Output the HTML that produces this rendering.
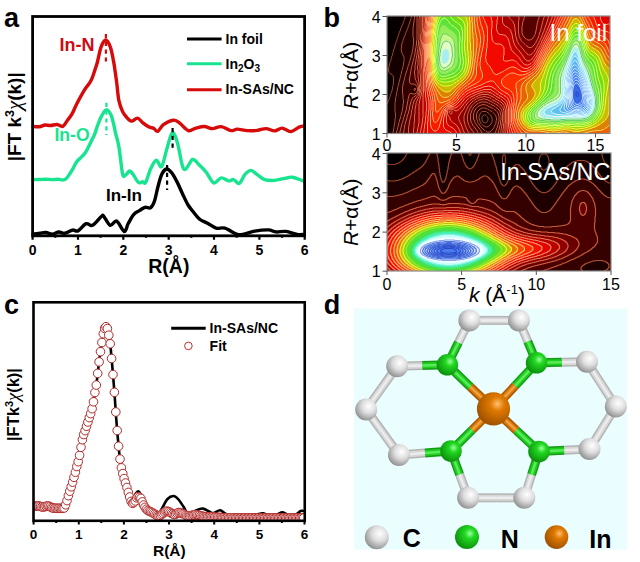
<!DOCTYPE html><html><head><meta charset="utf-8"><style>html,body{margin:0;padding:0;background:#fff;}svg{display:block}</style></head><body>
<svg width="640" height="562" viewBox="0 0 640 562" font-family="'Liberation Sans', Arial, sans-serif">
<rect width="640" height="562" fill="#fff"/>
<text x="4" y="27.2" font-size="27" font-weight="bold">a</text>
<g fill="none" stroke-width="3.4" stroke-linejoin="round" stroke-linecap="round">
<path stroke="#d70a0a" d="M33.0 126.4C34.1 126.5 37.4 126.9 39.4 126.7C41.4 126.5 43.1 125.2 45.0 125.0C46.9 124.8 48.6 125.6 50.6 125.5C52.6 125.4 55.2 124.3 57.2 124.5C59.2 124.7 61.1 127.1 62.8 126.4C64.5 125.7 65.9 122.4 67.5 120.3C69.1 118.2 70.7 116.4 72.2 113.7C73.7 111.0 74.6 108.0 76.7 104.0C78.8 100.0 82.3 93.6 84.7 89.7C87.1 85.8 89.2 84.2 90.9 80.8C92.7 77.4 94.1 72.3 95.2 69.1C96.3 65.9 96.5 65.4 97.5 61.7C98.5 58.0 99.8 50.3 101.2 46.7C102.6 43.1 104.2 40.0 105.7 40.0C107.2 40.0 109.0 43.5 110.2 46.7C111.5 49.9 112.5 55.8 113.2 59.4C114.0 63.0 114.1 64.5 114.7 68.4C115.3 72.3 116.0 77.2 116.7 82.6C117.4 88.0 117.9 95.9 118.9 100.7C119.9 105.5 121.3 108.8 122.5 111.4C123.7 114.0 124.5 114.9 126.0 116.5C127.5 118.1 129.5 120.8 131.4 121.1C133.3 121.4 135.7 117.8 137.6 118.1C139.5 118.4 141.0 121.4 142.9 122.9C144.8 124.4 147.3 126.1 149.1 127.0C150.9 127.9 152.2 127.6 153.6 128.3C155.0 129.0 156.1 131.9 157.7 131.3C159.3 130.7 160.8 126.6 163.4 124.7C166.0 122.8 170.5 120.5 173.2 120.2C175.9 119.9 176.9 121.2 179.4 122.9C181.9 124.6 185.6 129.7 188.3 130.6C191.0 131.5 192.7 129.0 195.4 128.3C198.1 127.6 201.5 126.5 204.3 126.5C207.1 126.5 209.6 128.6 212.4 128.6C215.2 128.6 218.1 126.3 221.2 126.6C224.3 126.9 228.4 130.2 231.1 130.6C233.8 131.0 234.6 129.1 237.3 129.1C240.0 129.1 244.0 130.4 247.3 130.6C250.6 130.8 254.1 130.7 257.2 130.4C260.3 130.1 263.1 128.5 266.0 128.6C268.9 128.7 272.0 131.0 274.7 130.9C277.4 130.8 279.4 128.0 282.1 128.1C284.8 128.2 287.9 131.8 290.8 131.6C293.7 131.4 297.4 127.8 299.6 126.9C301.8 126.0 303.3 126.2 304.0 126.1"/>
<path stroke="#17e48e" d="M33.0 179.6C34.2 179.6 37.8 179.6 40.0 179.5C42.2 179.4 44.0 179.2 46.0 179.2C48.0 179.2 50.0 179.6 52.0 179.6C54.0 179.6 55.8 179.3 58.0 179.3C60.2 179.3 63.0 180.8 65.3 179.4C67.6 178.0 69.8 173.7 71.7 170.8C73.6 167.9 74.9 164.3 76.5 162.0C78.1 159.7 79.7 158.9 81.3 157.2C82.9 155.5 84.2 154.6 86.0 151.6C87.8 148.6 90.8 142.0 92.3 139.0C93.8 136.0 94.1 135.8 95.0 133.4C95.9 131.1 96.7 127.7 97.8 124.9C98.9 122.1 100.0 119.0 101.4 116.4C102.8 113.9 104.8 109.8 106.3 109.6C107.9 109.3 109.8 112.6 111.0 114.9C112.2 117.2 112.7 120.4 113.5 123.5C114.3 126.6 114.7 129.5 115.6 133.4C116.5 137.3 117.8 140.2 118.9 146.9C120.1 153.6 121.5 168.8 122.5 173.6C123.5 178.3 123.9 175.8 125.1 175.4C126.3 175.0 128.3 171.2 129.6 171.0C130.9 170.8 131.6 172.6 133.1 174.5C134.6 176.4 136.9 181.3 138.5 182.5C140.1 183.7 141.7 181.6 142.9 181.6C144.1 181.6 144.3 184.7 145.6 182.5C146.9 180.3 149.1 172.0 150.9 168.3C152.7 164.6 154.5 160.6 156.3 160.3C158.1 160.0 159.8 168.4 161.6 166.5C163.4 164.6 165.1 154.3 166.9 148.7C168.7 143.1 170.5 133.6 172.3 132.7C174.1 131.8 176.0 138.1 177.6 143.4C179.2 148.7 180.8 160.4 182.1 164.7C183.4 169.0 183.8 170.1 185.6 169.2C187.4 168.3 190.5 160.2 192.7 159.4C194.9 158.7 196.8 162.6 199.0 164.7C201.2 166.8 203.8 169.2 206.2 172.2C208.6 175.2 211.2 181.9 213.7 182.9C216.2 183.9 218.7 178.2 221.2 177.9C223.7 177.6 226.5 180.6 228.6 180.9C230.7 181.2 231.8 179.2 233.6 179.6C235.4 180.0 237.4 184.2 239.3 183.4C241.2 182.6 242.9 176.9 244.8 174.7C246.8 172.5 248.9 170.4 251.0 170.4C253.1 170.4 254.9 173.2 257.2 174.7C259.5 176.2 261.8 178.6 264.7 179.6C267.6 180.6 271.4 180.6 274.7 180.4C278.0 180.2 281.7 178.9 284.6 178.4C287.5 177.9 289.0 176.8 292.1 177.2C295.2 177.6 301.4 180.3 303.3 180.9"/>
<path stroke="#000" d="M33.0 234.1C34.2 233.9 37.8 233.5 40.0 233.2C42.2 232.9 43.9 232.3 46.0 232.5C48.1 232.7 50.3 234.2 52.4 234.1C54.5 234.0 56.8 232.1 58.8 232.0C60.8 231.9 62.2 233.6 64.5 233.3C66.8 233.0 70.2 230.5 72.5 230.1C74.8 229.7 75.8 232.0 78.1 230.9C80.4 229.8 83.7 224.6 86.1 223.7C88.5 222.8 90.0 226.5 92.5 225.3C95.0 224.1 99.4 218.0 101.3 216.5C103.2 215.0 102.3 214.8 103.8 216.3C105.2 217.8 108.0 224.5 110.2 225.3C112.4 226.1 114.4 220.1 116.7 221.1C119.0 222.1 122.4 231.1 124.3 231.5C126.2 231.9 126.5 226.7 128.1 223.8C129.7 221.0 131.9 216.6 133.8 214.4C135.6 212.2 137.5 211.8 139.4 210.6C141.3 209.4 143.1 207.8 145.0 207.3C146.9 206.8 149.0 208.8 150.6 207.8C152.2 206.8 153.2 204.9 154.4 201.3C155.7 197.7 156.8 190.8 158.1 186.2C159.3 181.7 160.5 177.0 161.9 174.1C163.3 171.2 165.0 169.3 166.6 169.0C168.2 168.7 169.5 170.1 171.2 172.2C173.0 174.3 175.0 178.0 176.9 181.6C178.8 185.2 180.6 189.8 182.5 193.8C184.4 197.7 186.2 201.9 188.1 205.0C190.0 208.1 191.8 210.1 193.8 212.5C195.7 214.9 197.7 217.7 200.0 219.5C202.3 221.3 204.8 221.8 207.5 223.2C210.2 224.6 213.3 227.4 216.2 228.2C219.1 229.0 221.4 227.2 224.9 228.2C228.4 229.2 234.0 233.4 237.3 234.4C240.6 235.4 241.9 234.4 244.8 233.9C247.7 233.4 250.9 231.9 254.8 231.2C258.7 230.5 264.9 229.8 268.4 229.9C271.9 230.0 273.0 231.7 275.9 231.9C278.8 232.2 282.4 231.0 285.9 231.4C289.4 231.8 294.1 233.9 297.1 234.4C300.1 234.9 302.9 234.4 304.0 234.4"/>
</g>
<g fill="none" stroke-width="2.2" stroke-dasharray="4.2 3.6">
<path stroke="#d70a0a" d="M105.9 34V65"/>
<path stroke="#17e48e" d="M106.4 102.8V135"/>
<path stroke="#000" d="M172.6 128V151"/>
<path stroke="#000" d="M167.1 165V190"/>
</g>
<g fill="none" stroke="#000" stroke-width="2.8">
<rect x="32.6" y="16.5" width="272" height="219.3"/>
</g>
<path stroke="#000" stroke-width="2.2" d="M32.6 235.8v4M55.3 235.8v2M78.0 235.8v4M100.6 235.8v2M123.3 235.8v4M146.0 235.8v2M168.7 235.8v4M191.3 235.8v2M214.0 235.8v4M236.7 235.8v2M259.4 235.8v4M282.0 235.8v2M304.7 235.8v4"/>
<g font-size="14" font-weight="bold" text-anchor="middle">
<text x="32.6" y="254.7">0</text>
<text x="78.0" y="254.7">1</text>
<text x="123.3" y="254.7">2</text>
<text x="168.7" y="254.7">3</text>
<text x="214.0" y="254.7">4</text>
<text x="259.4" y="254.7">5</text>
<text x="304.7" y="254.7">6</text>
</g>
<text x="168.8" y="272.8" font-size="19.5" font-weight="bold" text-anchor="middle">R(Å)</text>
<text transform="translate(21.2,116.8) rotate(-90)" font-size="19" font-weight="bold" text-anchor="middle">|FT k<tspan font-size="12.5" dy="-7.5">3</tspan><tspan dy="7.5" font-weight="normal" font-style="italic" font-family="Liberation Serif, serif" font-size="21">χ</tspan>(k)|</text>
<g stroke-width="3" fill="none"><path stroke="#000" d="M187 39.1H221.6"/><path stroke="#17e48e" d="M187 63.8H221.6"/><path stroke="#d70a0a" d="M187 89.7H221.6"/></g>
<g font-size="14" font-weight="bold">
<text x="225.5" y="44.1">In foil</text>
<text x="225.5" y="68.6">In<tspan font-size="10" dy="3.5">2</tspan><tspan dy="-3.5">O</tspan><tspan font-size="10" dy="3.5">3</tspan></text>
<text x="225.5" y="94.4">In-SAs/NC</text>
</g>
<g font-size="17" font-weight="bold">
<text x="59.5" y="50.6" fill="#cf0a14" font-size="18">In-N</text>
<text x="54.5" y="140.6" fill="#17e48e" font-size="17.5">In-O</text>
<text x="106" y="201.4" fill="#000">In-In</text>
</g>
<text x="323.4" y="27.2" font-size="27" font-weight="bold">b</text>
<svg x="387" y="16" width="223" height="117.5" viewBox="0 0 446 235" overflow="hidden"><g><rect x="-2" y="-2" width="454" height="243" fill="#070000"/><path fill="#150000" d="M18 -2l2 0 2 0 2 0 -2 0 -2 1 -2 -1M36 -2l2 0 2 0 2 0 2 0 2 0 2 0 2 0 2 0 2 0 2 0 2 0 2 0 2 0 2 0 2 0 2 0 2 0 2 0 2 0 2 0 2 0 2 0 2 0 2 0 2 0 2 0 2 0 2 0 2 0 2 0 2 0 2 0 2 0 2 0 2 0 2 0 2 0 2 0 2 0 2 0 2 0 2 0 2 0 2 0 2 0 2 0 2 0 2 0 2 0 2 0 2 0 2 0 2 0 2 0 2 0 2 0 2 0 2 0 2 0 2 0 2 0 2 0 2 0 2 0 2 0 2 0 2 0 2 0 2 0 2 0 2 0 2 0 2 0 2 0 2 0 2 0 2 0 2 0 2 0 2 0 2 0 2 0 2 0 2 0 2 0 2 0 2 0 2 0 2 0 2 0 2 0 2 0 2 0 2 0 2 0 2 0 2 0 2 0 2 0 2 0 2 0 2 0 2 0 2 0 2 0 2 0 2 0 2 0 2 0 2 0 2 0 2 0 2 0 2 0 2 0 2 0 2 0 2 0 2 0 2 0 2 0 2 0 2 0 2 0 2 0 2 0 2 0 2 0 2 0 2 0 2 0 2 0 2 0 2 0 2 0 2 0 2 0 2 0 2 0 2 0 2 0 2 0 2 0 2 0 2 0 2 0 2 0 2 0 2 0 2 0 2 0 2 0 2 0 2 0 2 0 2 0 2 0 2 0 2 0 2 0 2 0 2 0 2 0 2 0 2 0 2 0 2 0 2 0 2 0 2 0 2 0 2 0 2 0 2 0 2 0 2 0 2 0 2 0 2 0 2 0 2 0 2 0 2 0 2 0 2 0 2 0 2 0 2 0 2 0 2 0 2 0 2 0 2 0 2 0 2 0 2 0 2 0 2 0 2 0 2 0 2 0 2 0 2 0 2 0 2 0 2 0 0 2 0 2 0 2 0 2 0 2 0 2 0 2 0 2 0 2 0 2 0 2 0 2 0 2 0 2 0 2 0 2 0 2 0 2 0 2 0 2 0 2 0 2 0 2 0 2 0 2 0 2 0 2 0 2 0 2 0 2 0 2 0 2 0 2 0 2 0 2 0 2 0 2 0 2 0 2 0 2 0 2 0 2 0 2 0 2 0 2 0 2 0 2 0 2 0 2 0 2 0 2 0 2 0 2 0 2 0 2 0 2 0 2 0 2 0 2 0 2 0 2 0 2 0 2 0 2 0 2 0 2 0 2 0 2 0 2 0 2 0 2 0 2 0 2 0 2 0 2 0 2 0 2 0 2 0 2 0 2 0 2 0 2 0 2 0 2 0 2 0 2 0 2 0 2 0 2 0 2 0 2 0 2 0 2 0 2 0 2 0 2 0 2 0 2 0 2 0 2 0 2 0 2 0 2 0 2 0 2 0 2 0 2 0 2 0 2 0 2 0 2 0 2 0 2 0 2 0 2 0 2 0 2 0 2 0 2 -2 0 -2 0 -2 0 -2 0 -2 0 -2 0 -2 0 -2 0 -2 0 -2 0 -2 0 -2 0 -2 0 -2 0 -2 0 -2 0 -2 0 -2 0 -2 0 -2 0 -2 0 -2 0 -2 0 -2 0 -2 0 -2 0 -2 0 -2 0 -2 0 -2 0 -2 0 -2 0 -2 0 -2 0 -2 0 -2 0 -2 0 -2 0 -2 0 -2 0 -2 0 -2 0 -2 0 -2 0 -2 0 -2 0 -2 0 -2 0 -2 0 -2 0 -2 0 -2 0 -2 0 -2 0 -2 0 -2 0 -2 0 -2 0 -2 0 -2 0 -2 0 -2 0 -2 0 -2 0 -2 0 -2 0 -2 0 -2 0 -2 0 -2 0 -2 0 -2 0 -2 0 -2 0 -2 0 -2 0 -2 0 -2 0 -2 0 -2 0 -2 0 -2 0 -2 0 -2 0 -2 0 -2 0 -2 0 -2 0 -2 0 -2 0 -2 0 -2 0 -2 0 -2 0 -2 0 -2 0 -2 0 -2 0 -2 0 -2 0 -2 0 -2 0 -2 0 -2 0 -2 0 -2 0 -2 0 -2 0 -2 0 -2 0 -2 0 -2 0 -2 0 -2 0 -2 0 -2 0 -2 0 -2 0 -2 0 -2 0 -2 0 -2 0 -2 0 -2 0 -2 0 -2 0 -2 0 -2 0 -2 0 -2 0 -2 0 -2 0 -2 0 -2 0 -2 0 -2 0 -2 0 -2 0 -2 0 -2 0 -2 0 -2 0 -2 0 -2 0 -2 0 -2 0 -2 0 -2 0 -2 0 -2 0 -2 0 -2 0 -2 0 -2 0 -2 0 -2 0 -2 0 -2 0 -2 0 -2 0 -2 0 -2 0 -2 0 -2 0 -2 0 -2 0 -2 0 -2 0 -2 0 -2 0 -2 0 -2 0 -2 0 -2 0 -2 0 -2 0 -2 0 -2 0 -2 0 -2 0 -2 0 -2 0 -2 0 -2 0 -2 0 -2 0 -2 0 -2 0 -2 0 -2 0 -2 0 -2 0 -2 0 -2 0 -2 0 -2 0 -2 0 -2 0 -2 0 -2 0 -2 0 -2 0 -2 0 -2 0 -2 0 -2 0 -2 0 -2 0 -2 0 -2 0 -2 0 -2 0 -2 0 -2 0 -2 0 -2 0 -2 0 -2 0 -2 0 -2 0 -2 0 -2 0 -2 0 -2 0 -2 0 0 -2 0 -2 0 -2 0 -2 0 -2 0 -2 0 -2 0 -2 0 -2 0 -2 0 -2 0 -2 0 -2 0 -2 0 -2 0 -2 0 -2 0 -2 0 -2 0 -2 0 -2 0 -2 0 -2 0 -2 0 -2 0 -2 0 -2 0 -2 0 -1 1 -1 1 -2 1 -2 1 -2 0 -1 1 -1 0 -2 1 -1 0 -1 1 -2 1 -2 0 -1 0 -1 1 -2 1 -2 0 -1 0 -1 1 -2 1 -2 0 -2 1 -2 0 -2 0 -2 1 -2 0 -1 0 -1 1 -2 0 -2 0 -2 0 -2 0 -2 0 -2 0 -2 0 -2 -1 -2 -1 -2 -1 -1 -2 -1 -2 -1 -1 -1 -1 -1 0 -1 -1 -2 0 -2 0 -2 0 -2 1 -2 0 -1 0 -1 1 -2 0 -2 1 -2 0 -1 0 -1 1 -2 1 -2 0 -2 1 -2 0 -2 1 -2 1 -2 0 -2 1 -2 0 -1 0 -1 1 -2 0 -2 1 -2 1 -2 0 -2 1 -2 0 -2 1 -2 1 -2 0 -1 0 -1 1 -2 1 -2 0 -1 0 -1 1 -2 1 -2 0 -1 0 -1 1 -2 1 -2 0 -1 0 -1 1 -2 1 -2 1 -2 0 -2 1 -2 1 -2 1 -2 0 -1 1 -1 0 -2 1 -1 0 -1 1 -2 1 -2 0 -1 0 -1 1 -2 1 -2 0 -1 0 -1 0 -2 0 -2 158 200 -2 1 -1 1 -1 2 0 2 0 2 0 2 1 2 1 2 2 1 2 1 1 0 1 0 2 -2 1 -2 1 -2 0 -2 0 -2 -1 -2 -1 -1 -1 -1 -1 -1 -2 -1 -1 0 -1 0"/><path fill="#230000" d="M50 -2l2 0 2 0 2 0 2 0 2 0 2 0 2 0 2 0 2 0 2 0 2 0 2 0 2 0 2 0 2 0 2 0 2 0 2 0 2 0 2 0 2 0 2 0 2 0 2 0 2 0 2 0 2 0 2 0 2 0 2 0 2 0 2 0 2 0 2 0 2 0 2 0 2 0 2 0 2 0 2 0 2 0 2 0 2 0 2 0 2 0 2 0 2 0 2 0 2 0 2 0 2 0 2 0 2 0 2 0 2 0 2 0 2 0 2 0 2 0 2 0 2 0 2 0 2 0 2 0 2 0 2 0 2 0 2 0 2 0 2 0 2 0 2 0 2 0 2 0 2 0 2 0 2 0 2 0 2 0 2 0 2 0 2 0 2 0 2 0 2 0 2 0 2 0 2 0 2 0 2 0 2 0 2 0 2 0 2 0 2 0 2 0 2 0 2 0 2 0 2 0 2 0 2 0 2 0 2 0 2 0 2 0 2 0 2 0 2 0 2 0 2 0 2 0 2 0 2 0 2 0 2 0 2 0 2 0 2 0 2 0 2 0 2 0 2 0 2 0 2 0 2 0 2 0 2 0 2 0 2 0 2 0 2 0 2 0 2 0 2 0 2 0 2 0 2 0 2 0 2 0 2 0 2 0 2 0 2 0 2 0 2 0 2 0 2 0 2 0 2 0 2 0 2 0 2 0 2 0 2 0 2 0 2 0 2 0 2 0 2 0 2 0 2 0 2 0 2 0 2 0 2 0 2 0 2 0 2 0 2 0 2 0 2 0 2 0 2 0 2 0 2 0 2 0 2 0 2 0 2 0 2 0 2 0 2 0 2 0 2 0 2 0 2 0 2 0 2 0 2 0 2 0 2 0 2 0 2 0 2 0 2 0 2 0 2 0 2 0 0 2 0 2 0 2 0 2 0 2 0 2 0 2 0 2 0 2 0 2 0 2 0 2 0 2 0 2 0 2 0 2 0 2 0 2 0 2 0 2 0 2 0 2 0 2 0 2 0 2 0 2 0 2 0 2 0 2 0 2 0 2 0 2 0 2 0 2 0 2 0 2 0 2 0 2 0 2 0 2 0 2 0 2 0 2 0 2 0 2 0 2 0 2 0 2 0 2 0 2 0 2 0 2 0 2 0 2 0 2 0 2 0 2 0 2 0 2 0 2 0 2 0 2 0 2 0 2 0 2 0 2 0 2 0 2 0 2 0 2 0 2 0 2 0 2 0 2 0 2 0 2 0 2 0 2 0 2 0 2 0 2 0 2 0 2 0 2 0 2 0 2 0 2 0 2 0 2 0 2 0 2 0 2 0 2 0 2 0 2 0 2 0 2 0 2 0 2 0 2 0 2 0 2 0 2 0 2 0 2 0 2 0 2 0 2 0 2 0 2 0 2 0 2 0 2 0 2 0 2 0 2 0 2 0 2 0 2 -2 0 -2 0 -2 0 -2 0 -2 0 -2 0 -2 0 -2 0 -2 0 -2 0 -2 0 -2 0 -2 0 -2 0 -2 0 -2 0 -2 0 -2 0 -2 0 -2 0 -2 0 -2 0 -2 0 -2 0 -2 0 -2 0 -2 0 -2 0 -2 0 -2 0 -2 0 -2 0 -2 0 -2 0 -2 0 -2 0 -2 0 -2 0 -2 0 -2 0 -2 0 -2 0 -2 0 -2 0 -2 0 -2 0 -2 0 -2 0 -2 0 -2 0 -2 0 -2 0 -2 0 -2 0 -2 0 -2 0 -2 0 -2 0 -2 0 -2 0 -2 0 -2 0 -2 0 -2 0 -2 0 -2 0 -2 0 -2 0 -2 0 -2 0 -2 0 -2 0 -2 0 -2 0 -2 0 -2 0 -2 0 -2 0 -2 0 -2 0 -2 0 -2 0 -2 0 -2 0 -2 0 -2 0 -2 0 -2 0 -2 0 -2 0 -2 0 -2 0 -2 0 -2 0 -2 0 -2 0 -2 0 -2 0 -2 0 -2 0 -2 0 -2 0 -2 0 -2 0 -2 0 -2 0 -2 0 -2 0 -2 0 -2 0 -2 0 -2 0 -2 0 -2 0 -2 0 -2 0 -2 0 -2 0 -2 0 -2 0 -2 0 -2 0 -2 0 -2 0 -2 0 -2 0 -2 0 -2 0 -2 0 -2 0 -2 0 -2 0 -2 0 -2 0 -2 0 -2 0 -2 0 -2 0 -2 0 -2 0 -2 0 -2 0 -2 0 -2 0 -2 0 -2 0 -2 0 -2 0 -2 0 -2 0 -2 0 -2 0 -2 0 -2 0 -2 0 -2 0 -2 0 -2 0 -2 0 -2 0 -2 0 -2 0 -2 0 -2 0 -2 0 -2 0 -2 0 -2 0 -2 0 -2 0 -2 0 -2 0 -2 0 -2 0 -2 0 -2 0 -2 0 -2 0 -2 0 -2 0 -2 0 -2 0 -2 0 -2 0 -2 0 -2 0 -2 0 -2 0 -2 0 -2 0 -2 0 -2 0 -2 0 -2 0 -2 0 -2 0 -2 0 -2 0 -2 0 -2 0 -2 0 -2 0 -2 0 -2 0 -2 0 -2 0 -2 0 -2 0 -2 0 -2 0 -2 0 -2 0 -2 0 -2 0 -2 0 -2 0 -2 0 -2 0 0 -2 0 -2 1 -2 0 -2 0 -2 1 -2 0 -1 0 -1 0 -2 1 -2 0 -2 0 -2 1 -2 0 -2 0 -2 0 -2 1 -2 0 -2 0 -2 0 -2 0 -2 0 -2 -1 -2 0 -2 0 -2 0 -1 0 -1 0 -2 0 -2 0 -2 0 -2 0 -2 0 -2 0 -2 1 -2 0 -2 0 -2 0 -2 1 -2 0 -1 0 -1 1 -2 0 -2 0 -2 1 -2 0 -1 0 -1 1 -2 0 -2 0 -2 1 -2 0 -1 0 -1 1 -2 0 -2 1 -2 0 -1 0 -1 1 -2 0 -2 1 -2 0 -1 0 -1 1 -2 0 -2 1 -2 0 -1 0 -1 1 -2 0 -2 1 -2 0 -1 0 -1 1 -2 0 -2 1 -2 0 -1 0 -1 1 -2 0 -2 0 -2 1 -2 0 -2 0 -2 0 -1 0 -1 0 -1 0 -1 0 -2 -1 -2 -1 -2 -1 -2 -1 -2 -1 -2 0 -2 0 -2 -1 -2 1 -2 0 -2 0 -2 0 -2 1 -2 0 -2 1 -2 1 -2 0 -1 0 -1 1 -2 1 -2 0 -1 0 -1 1 -2 1 -2 1 -2 0 -2 1 -1 0 -1 1 -2 1 -2 1 -2 1 -2 0 -1 0 -1 1 -2 1 -2 0 -1 1 -1 0 -2 1 -2 0 -2 1 -2 1 -2 0 -1 0 -1 1 -2 0 -2 1 -2 140 193 -1 1 -1 1 -1 1 -1 2 -1 2 -1 2 0 2 0 2 1 2 0 2 1 2 0 1 1 1 1 2 0 1 1 1 1 1 1 1 1 1 1 1 1 0 2 1 2 1 2 0 2 -1 2 -1 2 -2 2 -2 1 -2 1 -2 0 -1 0 -1 1 -2 -1 -2 0 -2 -1 -2 -1 -2 -1 -2 -1 -1 -1 -1 -1 -1 -2 -1 -2 -2 -1 0 -1 -1 -2 0 -2 0 -2 0 -2 0"/><path fill="#330000" d="M56 -2l2 0 2 0 2 0 2 0 2 0 2 0 2 0 2 0 2 0 2 0 2 0 2 0 2 0 2 0 2 0 2 0 2 0 2 0 2 0 2 0 2 0 2 0 2 0 2 0 2 0 2 0 2 0 2 0 2 0 2 0 2 0 2 0 2 0 2 0 2 0 2 0 2 0 2 0 2 0 2 0 2 0 2 0 2 0 2 0 2 0 2 0 2 0 2 0 2 0 2 0 2 0 2 0 2 0 2 0 2 0 2 0 2 0 2 0 2 0 2 0 2 0 2 0 2 0 2 0 2 0 2 0 2 0 2 0 2 0 2 0 2 0 2 0 2 0 2 0 2 0 2 0 2 0 2 0 2 0 2 0 2 0 2 0 2 0 2 0 2 0 2 0 2 0 2 0 2 0 2 0 2 0 2 0 2 0 2 0 2 0 2 0 2 0 2 0 2 0 2 0 2 0 2 0 2 0 2 0 2 0 2 0 2 0 2 0 2 0 2 0 2 0 2 0 2 0 2 0 2 0 2 0 2 0 2 0 2 0 2 0 2 0 2 0 2 0 2 0 2 0 2 0 2 0 2 0 2 0 2 0 2 0 2 0 2 0 2 0 2 0 2 0 2 0 2 0 2 0 2 0 2 0 2 0 2 0 2 0 2 0 2 0 2 0 2 0 2 0 2 0 2 0 2 0 2 0 2 0 2 0 2 0 2 0 2 0 2 0 2 0 2 0 2 0 2 0 2 0 2 0 2 0 2 0 2 0 2 0 2 0 2 0 2 0 2 0 2 0 2 0 2 0 2 0 2 0 2 0 2 0 2 0 2 0 2 0 2 0 2 0 2 0 2 0 2 0 2 0 2 0 2 0 2 0 2 0 2 0 2 0 2 0 0 2 0 2 0 2 0 2 0 2 0 2 0 2 0 2 0 2 0 2 0 2 0 2 0 2 0 2 0 2 0 2 0 2 0 2 0 2 0 2 0 2 0 2 0 2 0 2 0 2 0 2 0 2 0 2 0 2 0 2 0 2 0 2 0 2 0 2 0 2 0 2 0 2 0 2 0 2 0 2 0 2 0 2 0 2 0 2 0 2 0 2 0 2 0 2 0 2 0 2 0 2 0 2 0 2 0 2 0 2 0 2 0 2 0 2 0 2 0 2 0 2 0 2 0 2 0 2 0 2 0 2 0 2 0 2 0 2 0 2 0 2 0 2 0 2 0 2 0 2 0 2 0 2 0 2 0 2 0 2 0 2 0 2 0 2 0 2 0 2 0 2 0 2 0 2 0 2 0 2 0 2 0 2 0 2 0 2 0 2 0 2 0 2 0 2 0 2 0 2 0 2 0 2 0 2 0 2 0 2 0 2 0 2 0 2 0 2 0 2 0 2 0 2 0 2 0 2 0 2 0 2 0 2 0 2 0 2 -2 0 -2 0 -2 0 -2 0 -2 0 -2 0 -2 0 -2 0 -2 0 -2 0 -2 0 -2 0 -2 0 -2 0 -2 0 -2 0 -2 0 -2 0 -2 0 -2 0 -2 0 -2 0 -2 0 -2 0 -2 0 -2 0 -2 0 -2 0 -2 0 -2 0 -2 0 -2 0 -2 0 -2 0 -2 0 -2 0 -2 0 -2 0 -2 0 -2 0 -2 0 -2 0 -2 0 -2 0 -2 0 -2 0 -2 0 -2 0 -2 0 -2 0 -2 0 -2 0 -2 0 -2 0 -2 0 -2 0 -2 0 -2 0 -2 0 -2 0 -2 0 -2 0 -2 0 -2 0 -2 0 -2 0 -2 0 -2 0 -2 0 -2 0 -2 0 -2 0 -2 0 -2 0 -2 0 -2 0 -2 0 -2 0 -2 0 -2 0 -2 0 -2 0 -2 0 -2 0 -2 0 -2 0 -2 0 -2 0 -2 0 -2 0 -2 0 -2 0 -2 0 -2 0 -2 0 -2 0 -2 0 -2 0 -2 0 -2 0 -2 0 -2 0 -2 0 -2 0 -2 0 -2 0 -2 0 -2 0 -2 0 -2 0 -2 0 -2 0 -2 0 -2 0 -2 0 -2 0 -2 0 -2 0 -2 0 -2 0 -2 0 -2 0 -2 0 -2 0 -2 0 -2 0 -2 0 -2 0 -2 0 -2 0 -2 0 -2 0 -2 0 -2 0 -2 0 -2 0 -2 0 -2 0 -2 0 -2 0 -2 0 -2 0 -2 0 -2 0 -2 0 -2 0 -2 0 -2 0 -2 0 -2 0 -2 0 -2 0 -2 0 -2 0 -2 0 -2 0 -2 0 -2 0 -2 0 -2 0 -2 0 -2 0 -2 0 -2 0 -2 0 -2 0 -2 0 -2 0 -2 0 -2 0 -2 0 -2 0 -2 0 -2 0 -2 0 -2 0 -2 0 -2 0 -2 0 -2 0 -2 0 -2 0 -2 0 -2 0 -2 0 -2 0 -2 0 -2 0 -2 0 -2 0 -2 0 -2 0 -2 0 -2 0 -2 0 -2 0 -2 0 -2 0 -2 0 -2 0 -2 0 -2 0 -2 0 -2 0 -2 0 -2 0 -2 0 -2 0 -2 0 -2 0 -2 0 -2 0 -2 0 -2 0 -1 0 0 -2 0 -2 1 -2 0 -1 0 -1 1 -2 0 -2 1 -2 0 -1 0 -1 1 -2 0 -2 1 -2 0 -1 0 -1 1 -2 0 -2 1 -2 1 -2 0 -2 1 -2 0 -1 0 -1 1 -2 0 -2 1 -2 0 -1 0 -1 1 -2 0 -2 0 -2 1 -2 0 -2 0 -2 0 -2 1 -2 0 -2 0 -2 0 -2 -1 -2 0 -2 0 -2 0 -2 0 -2 -1 -2 0 -2 0 -2 0 -2 0 -2 0 -2 0 -2 0 -2 1 -2 0 -2 0 -2 1 -2 0 -2 1 -2 0 -2 1 -2 0 -2 1 -2 0 -1 0 -1 1 -2 0 -2 1 -2 1 -2 0 -2 1 -2 1 -2 0 -2 1 -2 0 -1 0 -1 1 -2 1 -2 0 -1 0 -1 1 -2 1 -2 0 -1 0 -1 1 -2 0 -2 1 -2 0 -2 1 -2 1 -2 0 -2 0 -2 1 -2 0 -2 1 -2 0 -2 0 -2 0 -2 1 -2 0 -2 0 -2 0 -2 0 -2 0 -2 0 -2 0 -2 -1 -2 0 -2 0 -2 0 -2 0 -2 0 -2 0 -2 0 -2 0 -1 0 -1 0 -2 0 -2 1 -2 0 -2 0 -2 0 -2 1 -2 0 -2 0 -2 1 -2 0 -2 0 -2 1 -2 0 -2 136 186 -1 0 -1 0 -2 1 -2 1 -2 2 -2 2 -1 2 -1 2 -1 2 0 2 0 2 0 2 0 2 1 2 0 2 1 2 1 2 0 1 1 1 1 2 1 2 1 1 1 1 1 2 2 2 2 2 2 2 2 1 1 1 1 1 2 1 1 0 1 0 2 0 1 0 1 0 2 -2 2 -2 2 -2 1 -2 1 -1 0 -1 1 -2 1 -2 1 -2 1 -2 0 -2 0 -2 1 -2 0 -2 0 -2 -1 -2 0 -1 0 -1 -1 -2 -1 -1 -1 -1 -1 -1 -1 -1 -1 -1 -1 -1 -1 -1 -2 -1 -2 -1 -1 -1 -1 0 -2 -1 -1 -1 -1 0 -2 -1 -2 -1 -1 0 -1 0 -2 0 -138 -38 0 1 0 1 2 1 1 -1 0 -2 -1 -2 -2 2"/><path fill="#430000" d="M61 -2l1 0 2 0 2 0 2 0 2 0 2 0 2 0 2 0 2 0 2 0 2 0 2 0 2 0 2 0 2 0 2 0 2 0 2 0 2 0 2 0 2 0 2 0 2 0 2 0 2 0 2 0 2 0 2 0 2 0 2 0 2 0 2 0 2 0 2 0 2 0 2 0 2 0 2 0 2 0 2 0 2 0 2 0 2 0 2 0 2 0 2 0 2 0 2 0 2 0 2 0 2 0 2 0 2 0 2 0 2 0 2 0 2 0 2 0 2 0 2 0 2 0 2 0 2 0 2 0 2 0 2 0 2 0 2 0 2 0 2 0 2 0 2 0 2 0 2 0 2 0 2 0 2 0 2 0 2 0 2 0 2 0 2 0 2 0 2 0 2 0 2 0 2 0 2 0 2 0 2 0 2 0 2 0 2 0 2 0 2 0 2 0 2 0 2 0 2 0 2 0 2 0 2 0 2 0 2 0 2 0 2 0 2 0 2 0 2 0 2 0 2 0 2 0 2 0 2 0 2 0 2 0 2 0 2 0 2 0 2 0 2 0 2 0 2 0 2 0 2 0 2 0 2 0 2 0 2 0 2 0 2 0 2 0 2 0 2 0 2 0 2 0 2 0 2 0 2 0 2 0 2 0 2 0 2 0 2 0 2 0 2 0 2 0 2 0 2 0 2 0 2 0 2 0 2 0 2 0 2 0 2 0 2 0 2 0 2 0 2 0 2 0 2 0 2 0 2 0 2 0 2 0 2 0 2 0 2 0 2 0 2 0 2 0 2 0 2 0 2 0 2 0 2 0 2 0 2 0 2 0 2 0 2 0 2 0 2 0 2 0 2 0 2 0 2 0 2 0 2 0 2 0 2 0 2 0 2 0 0 2 0 2 0 2 0 2 0 2 0 2 0 2 0 2 0 2 0 2 0 2 0 2 0 2 0 2 0 2 0 2 0 2 0 2 0 2 0 2 0 2 0 2 0 2 0 2 0 2 0 2 0 2 0 2 0 2 0 2 0 2 0 2 0 2 0 2 0 2 0 2 0 2 0 2 0 2 0 2 0 2 0 2 0 2 0 2 0 2 0 2 0 2 0 2 0 2 0 2 0 2 0 2 0 2 0 2 0 2 0 2 0 2 0 2 0 2 0 2 0 2 0 2 0 2 0 2 0 2 0 2 0 2 0 2 0 2 0 2 0 2 0 2 0 2 0 2 0 2 0 2 0 2 0 2 0 2 0 2 0 2 0 2 0 2 0 2 0 2 0 2 0 2 0 2 0 2 0 2 0 2 0 2 0 2 0 2 0 2 0 2 0 2 0 2 0 2 0 2 0 2 0 2 0 2 0 2 0 2 0 2 0 2 0 2 0 2 0 2 0 2 0 2 0 2 0 2 0 2 0 2 0 2 0 2 0 2 -2 0 -2 0 -2 0 -2 0 -2 0 -2 0 -2 0 -2 0 -2 0 -2 0 -2 0 -2 0 -2 0 -2 0 -2 0 -2 0 -2 0 -2 0 -2 0 -2 0 -2 0 -2 0 -2 0 -2 0 -2 0 -2 0 -2 0 -2 0 -2 0 -2 0 -2 0 -2 0 -2 0 -2 0 -2 0 -2 0 -2 0 -2 0 -2 0 -2 0 -2 0 -2 0 -2 0 -2 0 -2 0 -2 0 -2 0 -2 0 -2 0 -2 0 -2 0 -2 0 -2 0 -2 0 -2 0 -2 0 -2 0 -2 0 -2 0 -2 0 -2 0 -2 0 -2 0 -2 0 -2 0 -2 0 -2 0 -2 0 -2 0 -2 0 -2 0 -2 0 -2 0 -2 0 -2 0 -2 0 -2 0 -2 0 -2 0 -2 0 -2 0 -2 0 -2 0 -2 0 -2 0 -2 0 -2 0 -2 0 -2 0 -2 0 -2 0 -2 0 -2 0 -2 0 -2 0 -2 0 -2 0 -2 0 -2 0 -2 0 -2 0 -2 0 -2 0 -2 0 -2 0 -2 0 -2 0 -2 0 -2 0 -2 0 -2 0 -2 0 -2 0 -2 0 -2 0 -2 0 0 -1 0 -1 1 -2 1 -2 0 -1 1 -1 0 -2 1 -2 1 -2 0 -2 1 -2 0 -2 1 -2 0 -2 1 -2 0 -2 0 -2 0 -2 0 -2 0 -2 -1 -2 0 -2 -1 -2 -2 -2 0 -1 -1 -1 -1 -1 -2 -1 -2 -1 -1 -1 -1 -1 -2 -1 -2 -1 -2 -1 -2 -1 -2 -1 -2 -1 -2 -1 -1 0 -1 0 -2 -1 -2 0 -2 1 -2 0 -2 1 -2 1 -2 1 -1 1 -1 1 -1 1 -1 1 0 1 -2 2 -1 2 -1 2 0 1 0 1 -1 2 0 2 0 2 0 2 0 2 0 2 1 2 1 2 1 2 0 1 1 1 1 2 1 2 1 1 1 1 1 2 2 2 1 2 1 1 1 1 1 2 1 2 1 2 0 2 -2 0 -2 0 -2 0 -2 0 -2 0 -2 0 -2 0 -2 0 -2 0 -2 0 -2 0 -2 0 -2 0 -2 0 -2 0 -2 0 -2 0 -2 0 -2 0 -2 0 -2 0 -2 0 -2 0 -2 0 -2 0 -2 0 -2 0 -2 0 -2 0 -2 0 -2 0 -2 0 -2 0 -2 0 -2 0 -2 0 -2 0 -2 0 -2 0 -2 0 -2 0 -2 0 -2 0 -2 0 -2 0 -2 0 -2 0 -2 0 -2 0 -2 0 -2 0 -2 0 -2 0 -2 0 -2 0 -2 0 -2 0 -2 0 -2 0 -2 0 -2 0 -2 0 -2 0 -2 0 -2 0 -2 0 -2 0 -2 0 -2 0 -2 0 -2 0 -2 0 -2 0 -2 0 -2 0 -2 0 -2 0 -2 0 -2 0 -2 0 -2 0 -2 0 0 -2 0 -2 0 -2 1 -2 0 -2 1 -2 0 -2 1 -2 0 -2 1 -2 0 -1 0 -1 1 -2 1 -2 0 -2 1 -2 0 -2 1 -2 1 -2 0 -2 1 -2 0 -1 0 -1 1 -2 1 -2 0 -2 1 -2 0 -2 0 -2 1 -2 0 -2 1 -2 0 -2 0 -2 1 -2 0 -1 0 -1 0 -2 1 -2 0 -2 1 -2 0 -1 0 -1 1 -2 1 -1 2 0 2 0 2 1 2 0 2 0 2 -2 2 -2 0 -1 1 -1 0 -2 0 -2 0 -2 -1 -2 0 -1 -1 -1 -1 -2 -2 -1 -2 -1 -2 0 -2 0 -2 0 -2 -2 -1 -2 0 -2 0 -2 0 -2 0 -2 1 -2 0 -2 0 -1 0 -1 1 -2 0 -2 0 -2 1 -2 0 -2 0 -2 1 -2 0 -2 1 -2 0 -1 0 -1 1 -2 0 -2 1 -2 0 -1 0 -1 1 -2 0 -2 1 -2 0 -1 0 -1 1 -2 0 -2 1 -2 0 -2 0 -2 1 -2 0 -2 0 -2 1 -2 0 -1 0 -1 0 -2 1 -2 0 -2 0 -2 0 -2 0 -2 1 -2 0 -2 0 -2 0 -2 0 -2 0 -2 0 -2 0 -2 0 -2 0 -2 0 -2 0 -2 0 -2 0 -2 0 -2 0 -2 0 -2 0 -2 0 -2 0 -2 0 -2 0 -2 0 -2 0 -2 1 -2 0 -2"/><path fill="#550000" d="M65 -2l1 0 2 0 2 0 2 0 2 0 2 0 2 0 2 0 2 0 2 0 2 0 2 0 2 0 2 0 2 0 2 0 2 0 2 0 2 0 2 0 2 0 2 0 2 0 2 0 2 0 2 0 2 0 2 0 2 0 2 0 2 0 2 0 2 0 2 0 2 0 2 0 2 0 2 0 2 0 2 0 2 0 2 0 2 0 2 0 2 0 2 0 2 0 2 0 2 0 2 0 2 0 2 0 2 0 2 0 2 0 2 0 2 0 2 0 2 0 2 0 2 0 2 0 2 0 2 0 2 0 2 0 2 0 2 0 2 0 2 0 2 0 2 0 2 0 2 0 2 0 2 0 2 0 2 0 2 0 2 0 2 0 2 0 2 0 2 0 2 0 2 0 2 0 2 0 2 0 2 0 2 0 2 0 2 0 2 0 2 0 2 0 2 0 2 0 2 0 2 0 2 0 2 0 2 0 2 0 2 0 2 0 2 0 2 0 2 0 2 0 2 0 2 0 2 0 2 0 2 0 2 0 2 0 2 0 2 0 2 0 2 0 2 0 2 0 2 0 2 0 2 0 2 0 2 0 2 0 2 0 2 0 2 0 2 0 2 0 2 0 2 0 2 0 2 0 2 0 2 0 2 0 2 0 2 0 2 0 2 0 2 0 2 0 2 0 2 0 2 0 2 0 2 0 2 0 2 0 2 0 2 0 2 0 2 0 2 0 2 0 2 0 2 0 2 0 2 0 2 0 2 0 2 0 2 0 2 0 2 0 2 0 2 0 2 0 2 0 2 0 2 0 2 0 2 0 2 0 2 0 2 0 2 0 2 0 2 0 2 0 2 0 2 0 2 0 2 0 2 0 2 0 2 0 0 2 0 2 0 2 0 2 0 2 0 2 0 2 0 2 0 2 0 2 0 2 0 2 0 2 0 2 0 2 0 2 0 2 0 2 0 2 0 2 0 2 0 2 0 2 0 2 0 2 0 2 0 2 0 2 0 2 0 2 0 2 0 2 0 2 0 2 0 2 0 2 0 2 0 2 0 2 0 2 0 2 0 2 0 2 0 2 0 2 0 2 0 2 0 2 0 2 0 2 0 2 0 2 0 2 0 2 0 2 0 2 0 2 0 2 0 2 0 2 0 2 0 2 0 2 0 2 0 2 0 2 0 2 0 2 0 2 0 2 0 2 0 2 0 2 0 2 0 2 0 2 0 2 0 2 0 2 0 2 0 2 0 2 0 2 0 2 0 2 0 2 0 2 0 2 0 2 0 2 0 2 0 2 0 2 0 2 0 2 0 2 0 2 0 2 0 2 0 2 0 2 0 2 0 2 0 2 0 2 0 2 0 2 0 2 0 2 0 2 0 2 0 2 0 2 0 2 0 2 0 2 0 2 0 2 0 2 -2 0 -2 0 -2 0 -2 0 -2 0 -2 0 -2 0 -2 0 -2 0 -2 0 -2 0 -2 0 -2 0 -2 0 -2 0 -2 0 -2 0 -2 0 -2 0 -2 0 -2 0 -2 0 -2 0 -2 0 -2 0 -2 0 -2 0 -2 0 -2 0 -2 0 -2 0 -2 0 -2 0 -2 0 -2 0 -2 0 -2 0 -2 0 -2 0 -2 0 -2 0 -2 0 -2 0 -2 0 -2 0 -2 0 -2 0 -2 0 -2 0 -2 0 -2 0 -2 0 -2 0 -2 0 -2 0 -2 0 -2 0 -2 0 -2 0 -2 0 -2 0 -2 0 -2 0 -2 0 -2 0 -2 0 -2 0 -2 0 -2 0 -2 0 -2 0 -2 0 -2 0 -2 0 -2 0 -2 0 -2 0 -2 0 -2 0 -2 0 -2 0 -2 0 -2 0 -2 0 -2 0 -2 0 -2 0 -2 0 -2 0 -2 0 -2 0 -2 0 -2 0 -2 0 -2 0 -2 0 -2 0 -2 0 -2 0 -2 0 -2 0 -2 0 -2 0 -2 0 -2 0 -2 0 -2 0 -2 0 -2 0 -2 0 -2 0 -2 0 -2 0 0 -2 1 -2 0 -2 1 -2 0 -1 0 -1 1 -2 0 -2 1 -2 0 -1 0 -1 1 -2 0 -2 0 -2 0 -2 1 -2 0 -2 0 -2 0 -2 0 -1 0 -1 0 -2 -1 -2 0 -2 -1 -2 0 -1 -1 -1 -1 -2 -2 -2 -2 -2 -2 -1 -1 -1 -1 -1 -2 -1 -2 -1 -2 -1 -2 -1 -1 -1 -1 0 -2 -1 -1 -1 -1 0 -2 -1 -2 -1 -1 0 -1 0 -2 0 -2 0 -2 0 -1 0 -1 0 -2 1 -2 1 -1 0 -1 1 -2 1 -2 2 -2 2 -2 2 -2 2 0 1 -1 1 -1 2 0 1 -1 1 0 2 -1 2 -1 2 0 2 0 2 0 2 0 2 0 2 0 2 1 2 0 1 0 1 1 2 1 1 0 1 2 2 0 1 1 1 1 1 1 1 1 2 2 2 1 2 1 1 0 1 2 2 0 1 0 1 1 2 -1 0 -2 0 -2 0 -2 0 -2 0 -2 0 -2 0 -2 0 -2 0 -2 0 -2 0 -2 0 -2 0 -2 0 -2 0 -2 0 -2 0 -2 0 -2 0 -2 0 -2 0 -2 0 -2 0 -2 0 -2 0 -2 0 -2 0 -2 0 -2 0 -2 0 -2 0 -2 0 -2 0 -2 0 -2 0 -2 0 -2 0 -2 0 -2 0 -2 0 -2 0 -2 0 -2 0 -2 0 -2 0 -2 0 -2 0 -2 0 -2 0 -2 0 -2 0 -2 0 -2 0 -2 0 -2 0 -2 0 -2 0 -2 0 -2 0 -2 0 -2 0 -2 0 -2 0 -2 0 -2 0 -2 0 -2 0 -2 0 -2 0 -2 0 -2 0 -2 0 -2 0 -2 0 -2 0 -1 0 0 -2 0 -2 1 -2 0 -2 0 -1 0 -1 1 -2 0 -2 0 -2 1 -2 0 -1 0 -1 1 -2 0 -2 1 -2 1 -2 0 -2 1 -2 0 -1 0 -1 1 -2 0 -2 1 -2 1 -2 0 -2 1 -2 0 -2 1 -2 0 -2 0 -2 1 -2 0 -2 1 -2 0 -2 1 -2 0 -1 0 -1 1 -2 1 -2 1 -2 1 -1 1 -1 1 0 2 -2 2 -1 1 -1 1 -1 0 -1 2 -2 0 -1 0 -1 1 -2 0 -2 0 -2 0 -2 0 -2 0 -2 -1 -2 -1 -2 -1 -2 0 -1 -1 -1 -1 -2 0 -1 -1 -1 0 -2 -1 -2 0 -1 0 -1 0 -2 0 -2 -1 -2 0 -2 0 -2 0 -2 1 -2 0 -2 0 -2 0 -2 0 -2 0 -2 1 -2 0 -2 0 -2 1 -2 0 -2 0 -2 1 -2 0 -2 0 -2 1 -2 0 -2 0 -2 1 -2 0 -2 0 -2 1 -2 0 -2 0 -1 0 -1 0 -2 1 -2 0 -2 0 -2 0 -2 0 -2 1 -2 0 -2 0 -2 0 -2 0 -2 0 -2 0 -2 0 -2 0 -2 0 -2 0 -2 0 -2 0 -2 0 -2 0 -2 0 -2 0 -2 0 -2 0 -2 0 -2 0 -2 0 -2 1 -2 0 -2 0 -2 0 -2"/><path fill="#6f0000" d="M68 -2l2 0 2 0 2 0 2 0 2 0 2 0 2 0 2 0 2 0 2 0 2 0 2 0 2 0 2 0 2 0 2 0 2 0 2 0 2 0 2 0 2 0 2 0 2 0 2 0 2 0 2 0 2 0 2 0 2 0 2 0 2 0 2 0 2 0 2 0 2 0 2 0 2 0 2 0 2 0 2 0 2 0 2 0 2 0 2 0 2 0 2 0 2 0 2 0 2 0 2 0 2 0 2 0 2 0 2 0 2 0 2 0 2 0 2 0 2 0 2 0 2 0 2 0 2 0 2 0 2 0 2 0 2 0 2 0 2 0 2 0 2 0 2 0 2 0 2 0 2 0 2 0 2 0 2 0 2 0 2 0 2 0 2 0 2 0 2 0 2 0 2 0 2 0 2 0 2 0 2 0 2 0 2 0 2 0 2 0 2 0 2 0 2 0 2 0 2 0 2 0 2 0 2 0 2 0 1 0 0 2 0 2 -1 2 0 2 -1 2 -1 2 0 1 0 1 -1 2 0 2 0 2 -1 2 0 1 0 1 0 2 0 2 0 2 0 2 0 2 0 2 1 2 1 2 0 1 1 1 1 2 2 2 2 2 1 0 1 1 2 1 2 0 2 0 2 -1 2 -1 2 -2 1 -2 1 -1 0 -1 1 -2 1 -1 0 -1 1 -2 0 -2 1 -2 0 -2 1 -2 0 -2 0 -2 1 -2 0 -1 0 -1 0 -2 1 -2 0 -2 1 -2 0 -1 0 -1 1 -2 1 -2 0 -1 0 -1 1 -2 1 -2 2 0 2 0 2 0 2 0 2 0 2 0 2 0 2 0 2 0 2 0 2 0 2 0 2 0 2 0 2 0 2 0 2 0 2 0 2 0 2 0 2 0 2 0 2 0 2 0 2 0 2 0 2 0 2 0 2 0 2 0 2 0 2 0 2 0 2 0 2 0 2 0 2 0 2 0 2 0 2 0 2 0 2 0 2 0 2 0 2 0 2 0 2 0 2 0 2 0 2 0 2 0 2 0 2 0 2 0 2 0 2 0 2 0 2 0 2 0 2 0 2 0 2 0 2 0 2 0 2 0 2 0 2 0 2 0 2 0 2 0 2 0 0 2 0 2 0 2 0 2 0 2 0 2 0 2 0 2 0 2 0 2 0 2 0 2 0 2 0 2 0 2 0 2 0 2 0 2 0 2 0 2 0 2 0 2 0 2 0 2 0 2 0 2 0 2 0 2 0 2 0 2 0 2 0 2 0 2 0 2 0 2 0 2 0 2 0 2 0 2 0 2 0 2 0 2 0 2 0 2 0 2 0 2 0 2 0 2 0 2 0 2 0 2 0 2 0 2 0 2 0 2 0 2 0 2 0 2 0 2 0 2 0 2 0 2 0 2 0 2 0 2 0 2 0 2 0 2 0 2 0 2 0 2 0 2 0 2 0 2 0 2 0 2 0 2 0 2 0 2 0 2 0 2 0 2 0 2 0 2 0 2 0 2 0 2 0 2 0 2 0 2 0 2 0 2 0 2 0 2 0 2 0 2 0 2 0 2 0 2 0 2 0 2 0 2 0 2 0 2 0 2 0 2 0 2 0 2 0 2 0 2 0 2 0 2 0 2 0 2 0 2 0 2 0 2 0 2 0 2 -2 0 -2 0 -2 0 -2 0 -2 0 -2 0 -2 0 -2 0 -2 0 -2 0 -2 0 -2 0 -2 0 -2 0 -2 0 -2 0 -2 0 -2 0 -2 0 -2 0 -2 0 -2 0 -2 0 -2 0 -2 0 -2 0 -2 0 -2 0 -2 0 -2 0 -2 0 -2 0 -2 0 -2 0 -2 0 -2 0 -2 0 -2 0 -2 0 -2 0 -2 0 -2 0 -2 0 -2 0 -2 0 -2 0 -2 0 -2 0 -2 0 -2 0 -2 0 -2 0 -2 0 -2 0 -2 0 -2 0 -2 0 -2 0 -2 0 -2 0 -2 0 -2 0 -2 0 -2 0 -2 0 -2 0 -2 0 -2 0 -2 0 -2 0 -2 0 -2 0 -2 0 -2 0 -2 0 -2 0 -2 0 -2 0 -2 0 -2 0 -2 0 -2 0 -2 0 -2 0 -2 0 -2 0 -2 0 -2 0 -2 0 -2 0 -2 0 -2 0 -2 0 -2 0 -2 0 -2 0 -2 0 -2 0 -2 0 -2 0 -2 0 -2 0 -2 0 -2 0 -2 0 -2 0 -2 0 -2 0 -2 0 -2 0 -1 0 0 -2 1 -2 0 -2 0 -1 0 -1 0 -2 1 -2 0 -2 0 -2 1 -2 0 -2 0 -2 1 -2 0 -2 0 -2 0 -2 0 -2 0 -2 0 -2 0 -2 0 -2 0 -2 -1 -2 0 -2 -1 -2 -1 -2 -1 -2 -1 -1 -1 -1 -1 -1 -1 -1 -1 -1 -2 -1 -2 -1 -1 -1 -1 0 -2 -2 -1 0 -1 -1 -2 -1 -2 -1 -2 -1 -2 -1 -2 -1 -2 -1 -2 0 -2 -1 -2 0 -2 0 -2 1 -2 0 -2 1 -1 0 -1 0 -2 1 -1 1 -1 0 -2 2 -1 0 -1 1 -1 1 -1 1 -1 1 -1 1 -1 1 -1 1 -1 1 -1 2 -1 2 -1 1 0 1 -1 2 -1 2 -1 2 -1 2 0 1 0 1 -1 2 0 2 0 2 0 2 0 2 0 2 0 2 1 2 0 2 1 2 1 2 0 1 1 1 1 2 0 1 1 1 1 2 2 2 1 2 1 1 1 1 1 2 1 2 -1 0 -2 0 -2 0 -2 0 -2 0 -2 0 -2 0 -2 0 -2 0 -2 0 -2 0 -2 0 -2 0 -2 0 -2 0 -2 0 -2 0 -2 0 -2 0 -2 0 -2 0 -2 0 -2 0 -2 0 -2 0 -2 0 -2 0 -2 0 -2 0 -2 0 -2 0 -2 0 -2 0 -2 0 -2 0 -2 0 -2 0 -2 0 -2 0 -2 0 -2 0 -2 0 -2 0 -2 0 -2 0 -2 0 -2 0 -2 0 -2 0 -2 0 -2 0 -2 0 -2 0 -2 0 -2 0 -2 0 -2 0 -2 0 -2 0 -2 0 -2 0 -2 0 -2 0 -2 0 -2 0 -2 0 -1 0 0 -2 0 -2 0 -2 0 -2 0 -2 0 -2 0 -2 1 -2 0 -2 0 -2 1 -2 0 -2 0 -2 1 -2 0 -1 0 -1 1 -2 0 -2 1 -2 0 -2 0 -2 1 -2 0 -2 0 -2 1 -2 0 -1 0 -1 1 -2 0 -2 0 -2 1 -2 0 -1 0 -1 1 -2 0 -2 1 -2 1 -2 1 -1 0 -1 2 -2 2 -2 0 -1 1 -1 1 -1 0 -1 1 -2 1 -2 1 -2 0 -2 0 -2 0 -2 0 -2 0 -2 0 -2 0 -2 -1 -2 0 -2 0 -2 -1 -2 0 -2 0 -2 -1 -2 0 -2 0 -2 0 -2 0 -1 0 -1 0 -2 0 -2 0 -2 0 -2 -1 -2 0 -2 0 -2 0 -2 1 -2 0 -2 0 -2 0 -2 0 -2 0 -2 0 -2 1 -2 0 -2 0 -2 0 -2 1 -2 0 -2 0 -1 0 -1 0 -2 1 -2 0 -2 0 -2 0 -2 1 -2 0 -2 0 -2 0 -2 0 -2 1 -2 0 -2 0 -2 0 -2 0 -2 0 -2 0 -2 1 -2 0 -2 0 -2 0 -2 0 -2 0 -2 0 -2 0 -2 0 -2 0 -2 0 -2 0 -2 0 -2 0 -2 0 -2 0 -2 0 -2 0 -2 0 -2 0 -2"/><path fill="#890000" d="M71 -2l1 0 2 0 2 0 2 0 2 0 2 0 2 0 2 0 2 0 2 0 2 0 2 0 2 0 2 0 2 0 2 0 2 0 2 0 2 0 2 0 2 0 2 0 2 0 2 0 2 0 2 0 2 0 2 0 2 0 2 0 2 0 2 0 2 0 2 0 2 0 2 0 2 0 2 0 2 0 2 0 2 0 2 0 2 0 2 0 2 0 2 0 2 0 2 0 2 0 2 0 2 0 2 0 2 0 2 0 2 0 2 0 2 0 2 0 2 0 2 0 2 0 2 0 2 0 2 0 2 0 2 0 2 0 2 0 2 0 2 0 2 0 2 0 2 0 2 0 2 0 2 0 2 0 2 0 2 0 2 0 2 0 2 0 2 0 2 0 2 0 2 0 2 0 2 0 2 0 2 0 2 0 2 0 2 0 2 0 2 0 2 0 1 0 0 2 1 2 0 2 0 2 0 2 -1 2 0 2 0 2 0 2 0 2 0 2 0 2 0 2 0 2 0 2 0 2 0 2 0 2 1 2 0 2 0 1 0 1 1 2 1 2 0 1 1 1 1 2 0 1 1 1 1 1 1 1 1 1 1 1 1 1 1 1 1 1 1 1 1 1 2 1 2 2 2 1 2 0 2 0 2 -1 2 -1 0 -1 2 -2 2 -2 0 -1 1 -1 1 -2 1 -2 1 -2 1 -2 1 -2 1 -2 0 -2 1 -1 0 -1 1 -2 0 -2 1 -2 1 -2 0 -2 1 -2 0 -2 1 -2 0 -2 1 -2 0 -2 1 -2 0 -2 1 -2 0 -1 0 -1 1 -2 0 -2 1 -1 0 -1 1 -2 1 -2 2 0 2 0 2 0 2 0 2 0 2 0 2 0 2 0 2 0 2 0 2 0 2 0 2 0 2 0 2 0 2 0 2 0 2 0 2 0 2 0 2 0 2 0 2 0 2 0 2 0 2 0 2 0 2 0 2 0 2 0 2 0 2 0 2 0 2 0 2 0 2 0 2 0 2 0 2 0 2 0 2 0 2 0 2 0 2 0 2 0 2 0 2 0 2 0 2 0 2 0 2 0 2 0 2 0 2 0 2 0 2 0 2 0 2 0 2 0 2 0 2 0 2 0 2 0 2 0 2 0 2 0 0 2 0 2 0 2 0 2 0 2 0 2 0 2 0 2 0 2 0 2 0 2 0 2 0 2 0 2 0 2 0 2 0 2 0 2 0 2 0 2 0 2 0 2 0 2 0 2 0 2 0 2 0 2 0 2 0 2 0 2 0 2 0 2 0 2 0 2 0 2 0 2 0 2 0 2 0 2 0 2 0 2 0 2 0 2 0 2 0 2 0 2 0 2 0 2 0 2 0 2 0 2 0 2 0 2 0 2 0 2 0 2 0 2 0 2 0 2 0 2 0 2 0 2 0 2 0 2 0 2 0 2 0 2 0 2 0 2 0 2 0 2 0 2 0 2 0 2 0 2 0 2 0 2 0 2 0 2 0 2 0 2 0 2 0 2 0 2 0 2 0 2 0 2 0 2 0 2 0 2 0 2 0 2 0 2 0 2 0 2 0 2 0 2 0 2 0 2 0 2 0 2 0 2 0 2 0 2 0 2 0 2 0 2 0 2 0 2 0 2 0 2 0 2 0 2 0 2 0 2 0 2 0 2 0 2 0 2 -2 0 -2 0 -2 0 -2 0 -2 0 -2 0 -2 0 -2 0 -2 0 -2 0 -2 0 -2 0 -2 0 -2 0 -2 0 -2 0 -2 0 -2 0 -2 0 -2 0 -2 0 -2 0 -2 0 -2 0 -2 0 -2 0 -2 0 -2 0 -2 0 -2 0 -2 0 -2 0 -2 0 -2 0 -2 0 -2 0 -2 0 -2 0 -2 0 -2 0 -2 0 -2 0 -2 0 -2 0 -2 0 -2 0 -2 0 -2 0 -2 0 -2 0 -2 0 -2 0 -2 0 -2 0 -2 0 -2 0 -2 0 -2 0 -2 0 -2 0 -2 0 -2 0 -2 0 -2 0 -2 0 -2 0 -2 0 -2 0 -2 0 -2 0 -2 0 -2 0 -2 0 -2 0 -2 0 -2 0 -2 0 -2 0 -2 0 -2 0 -2 0 -2 0 -2 0 -2 0 -2 0 -2 0 -2 0 -2 0 -2 0 -2 0 -2 0 -2 0 -2 0 -2 0 -2 0 -2 0 -2 0 -2 0 -2 0 -2 0 -2 0 -2 0 -2 0 -2 0 -2 0 -2 0 -2 0 -2 0 0 -2 0 -2 0 -2 0 -2 0 -2 1 -2 0 -2 0 -2 0 -2 0 -2 1 -2 0 -2 0 -2 0 -1 0 -1 0 -2 0 -2 0 -2 0 -2 0 -2 0 -2 0 -2 0 -2 0 -2 -1 -2 0 -2 -1 -2 -1 -2 -1 -1 -1 -1 -1 -2 -2 -1 -1 -1 -1 -1 -2 -1 -2 -2 -1 0 -1 -1 -2 -1 -2 -1 -2 -1 -2 -1 -1 -1 -1 -1 -2 -1 -1 0 -1 -1 -2 0 -2 -1 -2 0 -2 -1 -2 0 -2 1 -2 0 -2 0 -2 1 -2 1 -1 0 -1 0 -2 1 -1 1 -1 0 -2 2 -1 0 -1 1 -1 1 -1 0 -2 2 -2 2 -2 2 -1 2 -1 1 -1 1 -1 2 -1 2 -1 2 -1 2 -1 2 -1 2 -1 2 -1 2 0 2 -1 2 0 2 0 2 0 2 0 2 0 2 1 2 0 2 1 2 0 1 0 1 1 2 1 2 0 1 1 1 0 2 1 1 0 1 2 2 0 1 1 1 1 2 1 2 -1 0 -2 0 -2 0 -2 0 -2 0 -2 0 -2 0 -2 0 -2 0 -2 0 -2 0 -2 0 -2 0 -2 0 -2 0 -2 0 -2 0 -2 0 -2 0 -2 0 -2 0 -2 0 -2 0 -2 0 -2 0 -2 0 -2 0 -2 0 -2 0 -2 0 -2 0 -2 0 -2 0 -2 0 -2 0 -2 0 -2 0 -2 0 -2 0 -2 0 -2 0 -2 0 -2 0 -2 0 -2 0 -2 0 -2 0 -2 0 -2 0 -2 0 -2 0 -2 0 -2 0 -2 0 -2 0 -2 0 -2 0 1 -2 0 -2 0 -2 0 -2 0 -2 1 -2 0 -2 0 -2 0 -1 0 -1 0 -2 0 -2 1 -2 0 -2 0 -2 0 -2 0 -2 0 -2 0 -2 0 -2 1 -2 0 -2 0 -2 0 -2 0 -2 0 -2 1 -2 0 -2 0 -2 1 -2 0 -2 0 -2 1 -2 1 -2 0 -1 1 -1 0 -2 1 -1 1 -1 1 -2 0 -1 0 -1 1 -2 1 -2 0 -2 1 -2 0 -2 0 -2 1 -2 0 -2 0 -2 -1 -2 0 -2 0 -2 0 -2 0 -2 0 -2 0 -2 0 -2 0 -2 0 -2 0 -2 0 -2 -1 -2 0 -2 0 -2 0 -2 0 -2 0 -2 0 -2 0 -2 0 -2 0 -2 0 -2 0 -2 0 -2 0 -2 0 -2 0 -2 0 -1 0 -1 0 -2 0 -2 1 -2 0 -2 0 -2 0 -2 0 -2 0 -2 1 -2 0 -2 0 -1 0 -1 0 -2 0 -2 1 -2 0 -2 0 -2 0 -2 0 -2 1 -2 0 -2 0 -2 0 -2 0 -2 0 -2 0 -2 1 -2 0 -2 0 -2 0 -2 0 -2 0 -2 0 -2 0 -2 0 -2 0 -2 0 -2 0 -2 0 -2 0 -2 0 -2 0 -2 0 -2 0 -2"/><path fill="#a40000" d="M74 -2l2 0 2 0 2 0 2 0 2 0 2 0 2 0 2 0 2 0 2 0 2 0 2 0 2 0 2 0 2 0 2 0 2 0 2 0 2 0 2 0 2 0 2 0 2 0 2 0 2 0 2 0 2 0 2 0 2 0 2 0 2 0 2 0 2 0 2 0 2 0 2 0 2 0 2 0 2 0 2 0 2 0 2 0 2 0 2 0 2 0 2 0 2 0 2 0 2 0 2 0 2 0 2 0 2 0 2 0 2 0 2 0 2 0 2 0 2 0 2 0 2 0 2 0 2 0 2 0 2 0 2 0 2 0 2 0 2 0 2 0 2 0 2 0 2 0 2 0 2 0 2 0 2 0 2 0 2 0 2 0 2 0 2 0 2 0 2 0 1 2 1 2 1 2 1 1 1 1 1 1 1 1 1 1 1 1 1 1 0 1 1 2 1 2 1 2 0 2 0 2 1 2 0 2 0 2 0 2 1 2 0 2 0 2 0 2 1 2 0 1 0 1 1 2 0 2 1 2 0 1 0 1 1 2 1 1 0 1 2 2 0 1 1 1 1 1 1 1 1 1 1 1 1 2 2 2 2 2 1 2 1 1 1 1 1 1 1 1 1 2 2 1 1 1 1 0 2 0 2 -1 2 -1 1 -2 1 -1 1 -1 1 -1 0 -1 2 -2 1 -2 1 -2 1 -2 1 -1 0 -1 1 -2 1 -1 0 -1 1 -2 1 -1 0 -1 1 -2 1 -1 0 -1 1 -2 1 -2 1 -2 1 -2 0 -1 1 -1 0 -2 1 -2 1 -2 1 -2 0 -1 0 -1 1 -2 1 -2 0 -1 0 -1 1 -2 1 -2 1 -2 0 -2 1 -2 1 -2 0 -2 1 -2 0 -1 0 -1 1 -2 0 -2 1 -2 2 0 2 0 2 0 2 0 2 0 2 0 2 0 2 0 2 0 2 0 2 0 2 0 2 0 2 0 2 0 2 0 2 0 2 0 2 0 2 0 2 0 2 0 2 0 2 0 2 0 2 0 2 0 2 0 2 0 2 0 2 0 2 0 2 0 2 0 2 0 2 0 2 0 2 0 2 0 2 0 2 0 2 0 2 0 2 0 2 0 2 0 2 0 2 0 2 0 2 0 2 0 2 0 2 0 2 0 2 0 2 0 2 0 2 0 2 0 2 0 2 0 2 0 0 2 0 2 0 2 0 2 0 2 0 2 0 2 0 2 0 2 0 2 0 2 0 2 0 2 0 2 0 2 0 2 0 2 0 2 0 2 0 2 0 2 0 2 0 2 0 2 0 2 0 2 0 2 0 2 0 2 0 2 0 2 0 2 0 2 0 2 0 2 0 2 0 2 0 2 0 2 0 2 0 2 0 2 0 2 0 2 0 2 0 2 0 2 0 2 0 2 0 2 0 2 0 2 0 2 0 2 0 2 0 2 0 2 0 2 0 2 0 2 0 2 0 2 0 2 0 2 0 2 0 2 0 2 0 2 0 2 0 2 0 2 0 2 0 2 0 2 0 2 0 2 0 2 0 2 0 2 0 2 0 2 0 2 0 2 0 2 0 2 0 2 0 2 0 2 0 2 0 2 0 2 0 2 0 2 0 2 0 2 0 2 0 2 0 2 0 2 0 2 0 2 0 2 0 2 0 2 0 2 0 2 0 2 0 2 0 2 0 2 0 2 0 2 0 2 0 2 0 2 0 2 0 2 0 2 0 2 -2 0 -2 0 -2 0 -2 0 -2 0 -2 0 -2 0 -2 0 -2 0 -2 0 -2 0 -2 0 -2 0 -2 0 -2 0 -2 0 -2 0 -2 0 -2 0 -2 0 -2 0 -2 0 -2 0 -2 0 -2 0 -2 0 -2 0 -2 0 -2 0 -2 0 -2 0 -2 0 -2 0 -2 0 -2 0 -2 0 -2 0 -2 0 -2 0 -2 0 -2 0 -2 0 -2 0 -2 0 -2 0 -2 0 -2 0 -2 0 -2 0 -2 0 -2 0 -2 0 -2 0 -2 0 -2 0 -2 0 -2 0 -2 0 -2 0 -2 0 -2 0 -2 0 -2 0 -2 0 -2 0 -2 0 -2 0 -2 0 -2 0 -2 0 -2 0 -2 0 -2 0 -2 0 -2 0 -2 0 -2 0 -2 0 -2 0 -2 0 -2 0 -2 0 -2 0 -2 0 -2 0 -2 0 -2 0 -2 0 -2 0 -2 0 -2 0 -2 0 -2 0 -2 0 -2 0 -2 0 -2 0 -2 0 -2 0 -2 0 -2 0 -2 0 -2 0 -2 0 -2 0 -1 0 0 -2 -1 -2 0 -2 0 -2 0 -2 0 -2 0 -2 0 -2 0 -2 0 -2 1 -2 0 -2 0 -2 0 -2 0 -2 0 -2 0 -2 0 -2 0 -2 0 -2 0 -2 0 -2 0 -2 0 -2 -1 -2 0 -1 0 -1 -1 -2 -1 -2 0 -1 -1 -1 -1 -2 -2 -2 -2 -2 -2 -1 -1 -1 -1 0 -2 -2 -1 0 -1 -1 -2 -1 -2 -1 -1 -1 -1 -1 -2 -1 -2 -1 -2 -1 -2 -1 -2 -1 -2 -1 -2 0 -2 0 -2 0 -2 0 -2 0 -2 0 -2 1 -2 0 -2 1 -2 1 -2 1 -2 1 -1 0 -1 1 -2 1 -2 1 -2 1 -2 2 -2 1 -1 1 -1 1 -1 1 -1 1 -1 1 -1 2 -2 2 0 1 -1 1 -1 1 0 1 -2 2 0 1 -1 1 -1 2 -2 2 -1 2 -1 1 0 1 -2 2 -1 2 -1 2 -1 2 0 2 1 2 0 1 0 1 1 2 1 2 1 2 1 2 1 2 0 2 1 1 0 1 1 2 1 2 0 1 0 1 1 2 1 2 1 2 0 2 -1 0 -2 0 -2 0 -2 0 -2 0 -2 0 -2 0 -2 0 -2 0 -2 0 -2 0 -2 0 -2 0 -2 0 -2 0 -2 0 -2 0 -2 0 -2 0 -2 0 -2 0 -2 0 -2 0 -2 0 -2 0 -2 0 -2 0 -2 0 -2 0 -2 0 -2 0 -2 0 -2 0 -2 0 -2 0 -2 0 -2 0 -2 0 -2 0 -2 0 -2 0 -2 0 -2 0 -2 0 -2 0 -2 0 -2 0 -2 0 0 -2 0 -2 1 -2 0 -2 0 -2 1 -2 0 -1 0 -1 1 -2 0 -2 0 -2 1 -2 0 -2 0 -2 0 -2 0 -2 0 -2 0 -2 0 -2 0 -2 0 -2 0 -2 0 -2 0 -1 0 -1 0 -2 0 -2 0 -2 0 -2 0 -2 0 -1 0 -1 0 -2 1 -2 0 -2 0 -2 1 -2 0 -1 0 -1 1 -2 0 -2 1 -2 0 -2 1 -2 0 -2 1 -2 0 -2 0 -2 0 -2 0 -2 0 -2 0 -2 0 -2 0 -2 0 -2 0 -2 0 -2 0 -2 0 -2 0 -2 0 -2 0 -2 0 -2 0 -2 0 -1 0 -1 0 -2 0 -2 0 -2 0 -2 -1 -2 0 -2 0 -2 0 -2 0 -2 0 -2 0 -2 0 -2 0 -2 0 -2 0 -2 0 -2 0 -2 0 -2 1 -2 0 -2 0 -2 0 -2 0 -1 0 -1 0 -2 0 -2 1 -2 0 -2 0 -2 0 -2 0 -2 0 -2 1 -2 0 -2 0 -2 0 -1 0 -1 0 -2 0 -2 1 -2 0 -2 0 -2 0 -2 0 -2 0 -2 0 -2 1 -2 0 -2 0 -2 0 -2 0 -2 0 -2 0 -2 0 -2 0 -2 0 -2 0 -2 0 -2 0 -2 0 -2 52 192 -1 0 -1 2 1 2 1 1 2 1 2 -1 0 -1 0 -2 0 -1 -1 -1 -1 0 -2 0"/><path fill="#c20000" d="M77 -2l1 0 2 0 2 0 2 0 2 0 2 0 2 0 2 0 2 0 2 0 2 0 2 0 2 0 2 0 2 0 2 0 2 0 2 0 2 0 2 0 2 0 2 0 2 0 2 0 2 0 2 0 2 0 2 0 2 0 2 0 2 0 2 0 2 0 2 0 2 0 2 0 2 0 2 0 2 0 2 0 2 0 2 0 2 0 2 0 2 0 2 0 2 0 2 0 2 0 2 0 2 0 2 0 2 0 2 0 2 0 2 0 2 0 2 0 2 0 2 0 2 0 2 0 2 0 2 0 2 0 2 0 2 0 2 0 2 0 2 0 2 0 2 0 2 0 2 0 2 0 2 0 2 0 1 0 0 2 0 2 0 2 0 2 0 2 0 2 0 2 1 2 0 1 1 1 1 2 2 2 2 1 2 1 2 1 1 1 1 1 1 1 1 1 1 1 1 2 0 1 0 1 1 2 1 2 0 1 0 1 1 2 0 2 0 2 1 2 0 1 0 1 1 2 0 2 1 2 1 2 1 2 0 1 1 1 1 2 1 2 1 1 1 1 1 1 1 1 1 1 0 1 2 2 2 2 1 2 1 1 1 1 1 2 1 2 1 1 0 1 2 2 2 2 2 1 2 1 2 0 2 -1 1 -1 1 0 2 -2 1 -2 1 -1 1 -1 1 -2 2 -2 0 -1 1 -1 1 -2 1 -2 1 -2 1 -2 1 -2 1 -2 1 -1 0 -1 1 -2 1 -1 0 -1 1 -2 1 -1 0 -1 1 -2 1 -2 1 -2 1 -2 1 -2 1 -2 1 -2 1 -2 0 -1 1 -1 1 -2 0 -1 0 -1 1 -2 1 -1 0 -1 1 -2 1 -2 1 -2 1 -2 0 -1 1 -1 0 -2 1 -2 1 -2 1 -2 0 -1 0 -1 1 -2 1 -2 0 -1 0 -1 1 -2 0 -2 1 0 2 0 2 0 2 0 2 0 2 0 2 0 2 0 2 0 2 0 2 0 2 0 2 0 2 0 2 0 2 0 2 0 2 0 2 0 2 0 2 0 2 0 2 0 2 0 2 0 2 0 2 0 2 0 2 0 2 0 2 0 2 0 2 0 2 0 2 0 2 0 2 0 2 0 2 0 2 0 2 0 2 0 2 0 2 0 2 0 2 0 2 0 2 0 2 0 2 0 2 0 2 0 2 0 2 0 2 0 2 0 2 0 2 0 2 0 0 2 0 2 0 2 0 2 0 2 0 2 0 2 0 2 0 2 0 2 0 2 0 2 0 2 0 2 0 2 0 2 0 2 0 2 0 2 0 2 0 2 0 2 0 2 0 2 0 2 0 2 0 2 0 2 0 2 0 2 0 2 0 2 0 2 0 2 0 2 0 2 0 2 0 2 0 2 0 2 0 2 0 2 0 2 0 2 0 2 0 2 0 2 0 2 0 2 0 2 0 2 0 2 0 2 0 2 0 2 0 2 0 2 0 2 0 2 0 2 0 2 0 2 0 2 0 2 0 2 0 2 0 2 0 2 0 2 0 2 0 2 0 2 0 2 0 2 0 2 0 2 0 2 0 2 0 2 0 2 0 2 0 2 0 2 0 2 0 2 0 2 0 2 0 2 0 2 0 2 0 2 0 2 0 2 0 2 0 2 0 2 0 2 0 2 0 2 0 2 0 2 0 2 0 2 0 2 0 2 0 2 0 2 0 2 0 2 0 2 0 2 0 2 0 2 0 2 0 2 0 2 0 2 0 2 0 2 -2 0 -2 0 -2 0 -2 0 -2 0 -2 0 -2 0 -2 0 -2 0 -2 0 -2 0 -2 0 -2 0 -2 0 -2 0 -2 0 -2 0 -2 0 -2 0 -2 0 -2 0 -2 0 -2 0 -2 0 -2 0 -2 0 -2 0 -2 0 -2 0 -2 0 -2 0 -2 0 -2 0 -2 0 -2 0 -2 0 -2 0 -2 0 -2 0 -2 0 -2 0 -2 0 -2 0 -2 0 -2 0 -2 0 -2 0 -2 0 -2 0 -2 0 -2 0 -2 0 -2 0 -2 0 -2 0 -2 0 -2 0 -2 0 -2 0 -2 0 -2 0 -2 0 -2 0 -2 0 -2 0 -2 0 -2 0 -2 0 -2 0 -2 0 -2 0 -2 0 -2 0 -2 0 -2 0 -2 0 -2 0 -2 0 -2 0 -2 0 -2 0 -2 0 -2 0 -2 0 -2 0 -2 0 -2 0 -2 0 -2 0 -2 0 -2 0 -2 0 -2 0 -2 0 -2 0 -2 0 -2 0 -2 0 -2 0 -2 0 -2 0 -2 0 -2 0 -1 -2 0 -2 0 -2 -1 -2 0 -2 0 -1 0 -1 0 -2 0 -2 0 -2 0 -2 0 -2 0 -2 0 -2 0 -2 0 -2 0 -1 0 -1 0 -2 0 -2 0 -2 0 -2 0 -2 0 -2 0 -2 0 -2 0 -2 -1 -2 0 -2 0 -2 -1 -2 -1 -2 -1 -2 -2 -2 -2 -2 -2 -2 -2 -1 -1 -1 -1 -1 -2 -1 -2 -1 -2 -1 -2 -2 -1 0 -1 -1 -2 -1 -2 -2 -1 0 -1 -1 -2 -1 -2 -1 -2 0 -2 -1 -1 0 -1 0 -2 0 -2 0 -1 0 -1 0 -2 0 -2 1 -2 0 -2 1 -2 1 -2 0 -1 1 -1 0 -2 1 -2 1 -2 1 -2 1 -2 1 -2 1 -2 1 -1 1 -1 1 -2 1 -2 2 -2 2 -1 2 -1 1 -1 1 -1 1 -1 1 -1 2 -2 2 -2 2 -1 2 -1 1 -1 1 -1 1 -2 1 -2 1 -2 1 -2 -1 -2 -1 -1 0 -1 -1 -2 0 -2 -1 -2 0 -2 1 -1 1 -1 1 -1 1 0 2 0 2 0 2 1 2 1 2 1 1 1 1 1 2 0 1 0 1 1 2 1 1 1 1 1 1 1 1 1 1 1 1 1 0 2 2 2 1 1 1 1 2 2 2 1 2 1 2 1 2 1 2 0 1 0 1 1 2 0 2 -1 0 -2 0 -2 0 -2 0 -2 0 -2 0 -2 0 -2 0 -2 0 -2 0 -2 0 -2 0 -2 0 -2 0 -2 0 -2 0 -2 0 -2 0 -2 0 -2 0 -2 0 -2 0 -2 0 -2 0 -2 0 -2 0 -2 0 -2 0 -2 0 -2 0 -2 0 -2 0 -2 0 -2 0 -2 0 -2 0 -2 0 -2 0 -2 0 -2 0 -2 0 0 -2 1 -2 0 -2 1 -2 0 -2 0 -2 1 -2 0 -2 1 -2 0 -2 0 -2 1 -2 0 -2 0 -2 0 -2 1 -2 0 -2 0 -2 0 -1 0 -1 0 -2 0 -2 0 -2 0 -2 0 -2 0 -2 0 -2 0 -2 0 -2 0 -2 0 -2 0 -2 0 -2 0 -2 0 -2 0 -2 0 -2 0 -1 0 -1 0 -2 0 -2 0 -2 1 -2 0 -2 0 -2 0 -2 0 -2 0 -2 0 -2 0 -2 0 -2 0 -2 0 -2 0 -2 0 -2 0 -2 0 -2 0 -2 0 -2 0 -2 0 -2 0 -2 0 -2 0 -2 0 -2 0 -2 0 -2 0 -2 -1 -2 0 -2 0 -2 0 -2 0 -2 0 -2 0 -2 0 -2 0 -2 0 -2 0 -2 0 -1 0 -1 0 -2 0 -2 0 -2 0 -2 0 -2 0 -2 1 -2 0 -2 0 -2 0 -2 0 -2 0 -2 0 -2 1 -2 0 -2 0 -2 0 -1 0 -1 0 -2 0 -2 1 -2 0 -2 0 -2 0 -2 0 -2 0 -2 1 -2 0 -2 0 -2 0 -1 0 -1 0 -2 0 -2 0 -2 1 -2 0 -2 0 -2 0 -2 0 -2 0 -2 0 -2 0 -2 0 -2"/><path fill="#e00000" d="M80 -2l2 0 2 0 2 0 2 0 2 0 2 0 2 0 2 0 2 0 2 0 2 0 2 0 2 0 2 0 2 0 2 0 2 0 2 0 2 0 2 0 2 0 2 0 2 0 2 0 2 0 2 0 2 0 2 0 2 0 2 0 2 0 2 0 2 0 2 0 2 0 2 0 2 0 2 0 2 0 2 0 2 0 2 0 2 0 2 0 2 0 2 0 2 0 2 0 2 0 2 0 2 0 2 0 2 0 2 0 2 0 2 0 2 0 2 0 2 0 2 0 2 0 2 0 2 0 2 0 2 0 2 0 2 0 2 0 2 0 2 0 2 0 -1 2 0 2 0 2 0 2 -1 2 0 2 0 1 0 1 0 2 0 2 -1 2 0 2 0 2 0 2 0 2 1 2 0 2 1 2 1 2 2 2 2 1 2 0 2 0 2 1 1 0 1 0 2 1 2 1 2 2 1 2 1 1 0 1 1 2 1 2 0 1 0 1 1 2 0 2 1 2 0 1 0 1 1 2 1 2 0 1 0 1 1 2 1 1 1 1 1 2 2 2 2 1 1 1 1 1 1 1 1 1 1 1 1 1 1 1 1 1 1 1 1 2 1 2 1 1 1 1 1 2 2 2 2 2 2 1 2 1 1 0 1 0 1 0 1 0 2 -1 2 -1 2 -1 1 -1 1 -1 1 -1 1 -1 1 -1 1 -2 1 -2 1 -1 1 -1 1 -2 1 -2 1 -2 1 -2 1 -2 1 -2 1 -2 1 -2 1 -1 0 -1 1 -2 1 -1 0 -1 1 -2 1 -1 0 -1 1 -2 1 -1 0 -1 1 -2 1 -1 0 -1 1 -2 1 -1 0 -1 1 -2 1 -1 0 -1 1 -2 1 -1 0 -1 1 -2 1 -1 0 -1 1 -2 1 -1 0 -1 1 -2 1 -2 1 -2 1 -2 1 -2 1 -2 1 -2 1 -2 0 -1 1 -1 0 -2 1 -2 1 -2 1 -2 0 -1 0 -1 1 -2 0 -2 1 0 2 0 2 0 2 0 2 0 2 0 2 0 2 0 2 0 2 0 2 0 2 0 2 0 2 0 2 0 2 0 2 0 2 0 2 0 2 0 2 0 2 0 2 0 2 0 2 0 2 0 2 0 2 0 2 0 2 0 2 0 2 0 2 0 2 0 2 0 2 0 2 0 2 0 2 0 2 0 2 0 2 0 2 0 2 0 2 0 2 0 2 0 2 0 2 0 2 0 2 0 2 0 2 0 2 0 2 0 2 0 0 2 0 2 0 2 0 2 0 2 0 2 0 2 0 2 0 2 0 2 0 2 0 2 0 2 0 2 0 2 0 2 0 2 0 2 0 2 0 2 0 2 0 2 0 2 0 2 0 2 0 2 0 2 0 2 0 2 0 2 0 2 0 2 0 2 0 2 0 2 0 2 0 2 0 2 0 2 0 2 0 2 0 2 0 2 0 2 0 2 0 2 0 2 0 2 0 2 0 2 0 2 0 2 0 2 0 2 0 2 0 2 0 2 0 2 0 2 0 2 0 2 0 2 0 2 0 2 0 2 0 2 0 2 0 2 0 2 0 2 0 2 0 2 0 2 0 2 0 2 0 2 0 2 0 2 0 2 0 2 0 2 0 2 0 2 0 2 0 2 0 2 0 2 0 2 0 2 0 2 0 2 0 2 0 2 0 2 0 2 0 2 0 2 0 2 0 2 0 2 0 2 0 2 0 2 0 2 0 2 0 2 0 2 0 2 0 2 0 2 0 2 0 2 0 2 0 2 0 2 0 2 0 2 0 2 0 2 -2 0 -2 0 -2 0 -2 0 -2 0 -2 0 -2 0 -2 0 -2 0 -2 0 -2 0 -2 0 -2 0 -2 0 -2 0 -2 0 -2 0 -2 0 -2 0 -2 0 -2 0 -2 0 -2 0 -2 0 -2 0 -2 0 -2 0 -2 0 -2 0 -2 0 -2 0 -2 0 -2 0 -2 0 -2 0 -2 0 -2 0 -2 0 -2 0 -2 0 -2 0 -2 0 -2 0 -2 0 -2 0 -2 0 -2 0 -2 0 -2 0 -2 0 -2 0 -2 0 -2 0 -2 0 -2 0 -2 0 -2 0 -2 0 -2 0 -2 0 -2 0 -2 0 -2 0 -2 0 -2 0 -2 0 -2 0 -2 0 -2 0 -2 0 -2 0 -2 0 -2 0 -2 0 -2 0 -2 0 -2 0 -2 0 -2 0 -2 0 -2 0 -2 0 -2 0 -2 0 -2 0 -2 0 -2 0 -2 0 -2 0 -2 0 -2 0 -2 0 -2 0 -2 0 -2 0 -2 0 -2 0 -2 0 -2 0 -2 0 -1 0 -1 -2 0 -1 0 -1 -1 -2 0 -2 -1 -2 0 -1 0 -1 0 -2 -1 -2 0 -2 0 -2 0 -2 0 -2 0 -2 0 -2 0 -2 0 -2 0 -2 0 -2 0 -2 0 -2 0 -2 0 -2 0 -2 0 -2 0 -2 0 -2 0 -2 -1 -2 0 -2 -1 -2 0 -2 -1 -2 -1 -2 -1 -1 -1 -1 -1 -1 -1 -1 -1 -1 -1 -1 -1 0 -2 -2 -2 -1 -2 -1 -2 -1 -1 -1 -1 -1 -2 -1 -2 -1 -1 -1 -1 -1 -1 -1 -1 0 -2 -2 -2 -1 -2 -1 -2 -1 -2 0 -2 0 -2 0 -2 0 -2 0 -2 0 -2 1 -1 0 -1 0 -2 1 -2 1 -1 0 -1 0 -2 1 -2 1 -1 0 -1 0 -2 1 -2 1 -2 1 -2 1 -1 0 -1 1 -2 1 -1 0 -1 1 -2 1 -2 2 -2 1 -1 1 -1 1 -1 1 -1 1 0 1 -2 2 -2 2 -2 2 0 1 -1 1 -1 1 -1 1 -1 1 -1 1 -1 1 -2 1 -2 1 -2 1 -1 0 -1 0 -1 0 -1 0 -2 0 -2 0 -1 0 -1 0 -2 1 -2 1 -2 2 -1 2 -1 2 0 2 0 2 0 2 1 2 0 2 0 2 0 2 0 2 0 2 0 2 1 2 0 1 1 1 1 2 2 2 1 0 1 1 2 1 2 1 2 1 2 2 2 2 1 2 1 1 0 1 1 2 0 2 -1 0 -2 0 -2 0 -2 0 -2 0 -2 0 -2 0 -2 0 -2 0 -2 0 -2 0 -2 0 -2 0 -2 0 -2 0 -2 0 -2 0 -2 0 -2 0 -2 0 -2 0 -2 0 -2 0 -2 0 -2 0 -2 0 -2 0 -2 0 -2 0 -2 0 -2 0 -2 0 -2 0 -1 0 0 -2 0 -2 1 -2 0 -2 0 -1 0 -1 1 -2 0 -2 0 -2 0 -2 1 -2 0 -2 0 -2 1 -2 0 -2 0 -2 0 -2 0 -2 1 -2 0 -2 0 -1 0 -1 0 -2 0 -2 1 -2 0 -2 0 -2 0 -2 0 -2 0 -2 0 -2 0 -2 0 -2 0 -2 -1 -2 0 -2 0 -1 0 -1 0 -2 -1 -2 0 -2 0 -2 0 -2 0 -2 0 -2 -1 -2 0 -2 0 -2 0 -2 0 -2 0 -2 0 -2 0 -2 0 -1 0 -1 0 -2 0 -2 0 -2 0 -2 0 -2 0 -2 0 -2 0 -2 0 -2 0 -2 0 -2 -1 -2 0 -2 0 -2 0 -2 0 -2 0 -2 0 -2 0 -2 0 -2 0 -2 0 -2 0 -2 0 -2 0 -2 0 -2 0 -2 0 -2 0 -2 0 -2 0 -2 0 -2 0 -2 0 -2 0 -2 0 -2 0 -2 0 -2 0 -2 1 -2 0 -2 0 -2 0 -2 0 -2 0 -2 1 -2 0 -2 0 -2 0 -2 0 -2 0 -2 1 -2 0 -2 0 -2 0 -1 0 -1 0 -2 0 -2 1 -2 0 -2 0 -2 0 -2 0 -2 0 -2 0 -2 0 -2 1 -2 0 -2 0 -2"/><path fill="#f30900" d="M82 -2l2 0 2 0 2 0 2 0 2 0 2 0 2 0 2 0 2 0 2 0 2 0 2 0 2 0 2 0 2 0 2 0 2 0 2 0 2 0 2 0 2 0 2 0 2 0 2 0 2 0 2 0 2 0 2 0 2 0 2 0 2 0 2 0 2 0 2 0 2 0 2 0 2 0 2 0 2 0 2 0 2 0 2 0 2 0 2 0 2 0 2 0 2 0 2 0 2 0 2 0 2 0 2 0 2 0 2 0 2 0 2 0 2 0 2 0 2 0 2 0 2 0 2 0 1 2 1 2 1 2 0 2 0 2 1 2 0 2 0 2 0 2 0 2 0 2 0 2 0 2 -1 2 0 2 0 2 0 2 0 2 0 2 0 2 1 2 0 2 0 2 0 2 1 2 1 2 0 1 1 1 1 1 1 1 1 1 2 0 2 1 2 0 2 0 2 0 2 1 2 1 2 2 1 2 1 2 0 2 0 2 0 2 0 2 0 2 0 2 0 2 -1 2 0 2 0 2 0 2 0 2 1 1 1 1 1 0 2 0 2 0 2 0 2 -1 2 0 2 -1 2 0 2 0 2 1 2 1 1 0 1 1 1 1 1 1 1 1 1 1 1 1 1 1 1 1 1 1 1 1 1 1 1 1 1 0 2 2 1 0 1 0 2 1 2 0 2 0 2 -1 2 -1 2 -1 2 -1 1 -1 1 -1 1 -1 1 -1 1 -1 1 -1 1 -1 1 -2 1 -2 1 -1 0 -1 2 -2 0 -1 1 -1 1 -2 0 -1 1 -1 1 -2 1 -2 1 -2 1 -2 1 -2 1 -2 1 -2 1 -2 1 -2 1 -2 1 -2 1 -2 1 -2 1 -2 1 -2 1 -2 1 -2 1 -2 1 -1 0 -1 1 -2 1 -1 1 -1 1 -2 0 -1 1 -1 1 -2 0 -1 1 -1 1 -2 1 -2 1 -2 1 -2 1 -2 1 -2 1 -2 0 -1 1 -1 1 -2 0 -1 0 -1 1 -2 1 -2 1 -2 1 -2 0 -1 0 -1 1 -2 1 0 2 0 2 0 2 0 2 0 2 0 2 0 2 0 2 0 2 0 2 0 2 0 2 0 2 0 2 0 2 0 2 0 2 0 2 0 2 0 2 0 2 0 2 0 2 0 2 0 2 0 2 0 2 0 2 0 2 0 2 0 2 0 2 0 2 0 2 0 2 0 2 0 2 0 2 0 2 0 2 0 2 0 0 2 1 2 0 2 0 2 1 2 1 2 1 2 1 2 1 0 2 2 1 0 1 0 2 1 2 0 2 -1 2 0 2 0 2 -1 0 1 0 2 0 2 0 2 0 2 0 2 0 2 0 2 0 2 0 2 0 2 0 2 0 2 0 2 0 2 0 2 0 2 0 2 0 2 0 2 0 2 0 2 0 2 0 2 0 2 0 2 0 2 0 2 0 2 0 2 0 2 0 2 0 2 0 2 0 2 0 2 0 2 0 2 0 2 0 2 0 2 0 2 0 2 0 2 0 2 0 2 0 2 0 2 0 2 0 2 0 2 0 2 0 2 0 2 0 2 0 2 0 2 0 2 0 2 0 2 0 2 0 2 0 2 0 2 0 2 0 2 0 2 0 2 0 2 0 2 0 2 0 2 0 2 0 2 0 2 0 2 0 2 0 2 0 2 0 2 0 2 0 2 0 2 0 2 0 2 0 2 0 2 0 2 0 2 0 2 0 2 0 2 0 2 0 2 0 2 0 2 0 2 0 2 0 2 0 2 0 2 0 2 0 2 0 2 0 2 0 2 0 2 0 2 0 2 0 2 0 2 -2 0 -2 0 -2 0 -2 0 -2 0 -2 0 -2 0 -2 0 -2 0 -2 0 -2 0 -2 0 -2 0 -2 0 -2 0 -2 0 -2 0 -2 0 -2 0 -2 0 -2 0 -2 0 -2 0 -2 0 -2 0 -2 0 -2 0 -2 0 -2 0 -2 0 -2 0 -2 0 -2 0 -2 0 -2 0 -2 0 -2 0 -2 0 -2 0 -2 0 -2 0 -2 0 -2 0 -2 0 -2 0 -2 0 -2 0 -2 0 -2 0 -2 0 -2 0 -2 0 -2 0 -2 0 -2 0 -2 0 -2 0 -2 0 -2 0 -2 0 -2 0 -2 0 -2 0 -2 0 -2 0 -2 0 -2 0 -2 0 -2 0 -2 0 -2 0 -2 0 -2 0 -2 0 -2 0 -2 0 -2 0 -2 0 -2 0 -2 0 -2 0 -2 0 -2 0 -2 0 -2 0 -2 0 -2 0 -2 0 -2 0 -2 0 -2 0 -2 0 -2 0 -2 0 -2 0 -2 0 -2 0 -2 0 -1 -2 0 -2 -1 -1 0 -1 -1 -2 0 -2 -1 -2 -1 -2 0 -2 0 -2 -1 -2 0 -2 0 -1 0 -1 0 -2 0 -2 0 -2 0 -2 0 -2 0 -2 0 -2 0 -2 0 -2 0 -2 0 -2 0 -2 0 -2 0 -2 0 -2 0 -2 0 -2 0 -2 -1 -2 0 -2 -1 -2 -1 -2 -1 -2 -1 -2 -1 -1 -1 -1 -1 -1 -2 -1 -2 -1 -1 -1 -1 -1 -2 -1 -2 -1 -2 -1 -2 -2 -2 -1 -1 -1 -1 -1 -1 -1 -1 -1 -2 -1 -2 -2 -2 -1 -2 -1 -2 -1 -2 0 -2 -1 -2 0 -2 1 -2 0 -2 0 -2 1 -2 0 -2 1 -2 1 -2 1 -2 0 -2 1 -2 1 -2 0 -1 1 -1 0 -2 1 -2 1 -1 0 -1 0 -2 1 -1 1 -1 0 -2 1 -1 1 -1 0 -2 2 -2 1 -1 1 -1 1 -1 1 -1 1 -1 1 -1 1 -1 1 -1 1 -1 1 -1 2 -2 2 -2 2 -2 2 -2 2 -2 2 -2 1 -1 1 -1 0 -2 1 -2 0 -2 0 -2 1 -2 0 -2 1 -1 1 -1 1 -1 1 -1 1 -1 1 0 2 -1 2 0 2 -1 2 0 2 0 2 -1 2 0 1 0 1 -1 2 0 2 0 2 0 2 0 2 0 2 0 2 0 2 0 2 1 1 0 1 2 2 2 2 2 1 2 1 2 1 2 1 2 1 1 1 1 2 -2 0 -2 0 -2 0 -2 0 -2 0 -2 0 -2 0 -2 0 -2 0 -2 0 -2 0 -2 0 -2 0 -2 0 -2 0 -2 0 -2 0 -2 0 -2 0 -2 0 -2 0 -2 0 -2 0 -2 0 -1 -2 0 -2 0 -2 0 -2 0 -2 0 -2 0 -2 0 -2 0 -2 0 -2 0 -2 0 -2 1 -2 0 -2 0 -2 0 -1 0 -1 0 -2 0 -2 1 -2 0 -2 0 -2 0 -2 0 -2 1 -2 0 -2 0 -2 0 -2 0 -2 0 -2 0 -2 0 -2 0 -2 0 -2 -1 -2 0 -2 0 -2 -1 -2 0 -2 0 -2 -1 -2 0 -2 0 -2 -1 -2 0 -2 0 -2 0 -2 -1 -2 0 -2 0 -2 0 -2 0 -2 0 -2 0 -2 0 -2 -1 -2 0 -2 0 -2 0 -2 0 -2 0 -2 0 -2 0 -2 0 -2 0 -2 0 -2 0 -2 0 -2 -1 -2 0 -2 0 -2 0 -2 0 -2 0 -2 0 -2 0 -2 0 -2 0 -2 0 -2 0 -2 0 -2 0 -2 0 -2 0 -2 0 -2 0 -2 0 -2 0 -2 0 -2 0 -2 0 -2 1 -2 0 -2 0 -2 0 -2 0 -2 0 -2 0 -2 1 -2 0 -2 0 -2 0 -2 0 -2 1 -2 0 -2 0 -2 0 -2 0 -2 1 -2 0 -2 0 -2 0 -2 0 -2 0 -2 1 -2 0 -2 0 -2 0 -2 0 -1 0 -1 0 -2"/><path fill="#f81b00" d="M85 -2l1 0 2 0 2 0 2 0 2 0 2 0 2 0 2 0 2 0 2 0 2 0 2 0 2 0 2 0 2 0 2 0 2 0 2 0 2 0 2 0 2 0 2 0 2 0 2 0 2 0 2 0 2 0 2 0 2 0 2 0 2 0 2 0 2 0 2 0 2 0 2 0 2 0 2 0 2 0 2 0 2 0 2 0 2 0 2 0 2 0 2 0 2 0 2 0 2 0 2 0 2 0 2 0 2 0 2 0 0 2 0 2 1 2 1 2 0 1 1 1 1 2 0 1 0 1 1 2 1 1 0 1 1 2 1 2 0 2 0 2 1 2 0 2 0 2 0 2 0 2 0 2 0 2 0 2 0 2 0 2 0 2 0 2 0 2 0 2 -1 2 0 2 0 2 0 2 0 2 0 2 -1 2 0 2 0 2 0 2 -1 2 0 2 0 2 0 2 -1 2 0 2 1 2 0 2 0 1 0 1 1 2 1 2 2 2 0 1 1 1 1 1 1 1 1 2 2 2 0 1 1 1 1 2 1 2 1 2 1 2 1 1 2 1 2 1 2 0 2 -1 2 -1 2 -1 2 -1 2 -1 2 -1 1 -1 1 0 2 -2 1 0 1 -1 2 -1 2 -1 2 -1 2 -1 2 -1 1 0 1 0 2 0 2 0 2 1 2 1 1 0 1 1 1 1 1 0 2 2 2 1 2 1 2 1 2 0 2 0 2 0 2 0 2 -1 2 -1 2 -1 1 0 1 -1 2 -1 2 -2 1 0 1 -1 1 -1 1 -2 2 -2 1 -2 1 -1 1 -1 1 -2 1 -2 1 -2 1 -2 1 -2 1 -2 1 -2 1 -2 1 -2 1 -2 1 -2 1 -2 1 -2 1 -2 1 -1 0 -1 1 -2 1 -1 0 -1 2 -2 0 -1 1 -1 1 -2 0 -1 1 -1 1 -2 1 -2 1 -2 1 -2 1 -1 0 -1 2 -2 0 -1 1 -1 1 -2 1 -2 1 -2 1 -2 1 -2 1 -2 1 -1 0 -1 1 -2 1 -1 0 -1 1 -2 1 -1 0 -1 1 -2 1 -1 0 -1 1 -2 1 -2 1 -2 1 -2 1 -2 0 -2 1 -1 0 -1 2 0 2 0 2 0 2 0 2 0 2 0 2 0 2 0 2 0 2 0 2 0 2 0 2 0 2 0 2 0 2 0 2 0 2 0 2 0 2 0 2 0 2 0 2 0 2 0 2 0 2 0 2 0 2 0 2 0 2 0 2 0 1 0 1 2 1 2 1 1 0 1 1 2 1 2 1 2 0 2 1 2 1 2 0 2 1 1 0 1 1 2 1 1 1 1 1 2 2 1 1 1 1 0 2 1 2 1 1 0 1 0 2 0 2 1 2 0 2 1 1 0 1 1 2 1 1 2 1 1 0 1 0 2 0 2 0 2 0 2 0 2 0 2 0 2 0 2 0 2 0 2 0 2 0 2 0 2 0 2 0 2 0 2 0 2 0 2 0 2 0 2 0 2 0 2 0 2 0 2 0 2 0 2 0 2 0 2 0 2 0 2 0 2 0 2 0 2 0 2 0 2 0 2 0 2 0 2 0 2 0 2 0 2 0 2 0 2 0 2 0 2 0 2 0 2 0 2 0 2 0 2 0 2 0 2 0 2 0 2 0 2 0 2 0 2 0 2 0 2 0 2 0 2 0 2 0 2 0 2 0 2 0 2 0 2 0 2 0 2 0 2 0 2 0 2 0 2 0 2 0 2 0 2 0 2 0 2 0 2 0 2 0 2 0 2 0 2 0 2 0 2 0 2 0 2 0 2 0 2 0 2 0 2 0 2 0 2 0 2 0 2 0 2 0 2 0 2 0 2 -2 0 -2 0 -2 0 -2 0 -2 0 -2 0 -2 0 -2 0 -2 0 -2 0 -2 0 -2 0 -2 0 -2 0 -2 0 -2 0 -2 0 -2 0 -2 0 -2 0 -2 0 -2 0 -2 0 -2 0 -2 0 -2 0 -2 0 -2 0 -2 0 -2 0 -2 0 -2 0 -2 0 -2 0 -2 0 -2 0 -2 0 -2 0 -2 0 -2 0 -2 0 -2 0 -2 0 -2 0 -2 0 -2 0 -2 0 -2 0 -2 0 -2 0 -2 0 -2 0 -2 0 -2 0 -2 0 -2 0 -2 0 -2 0 -2 0 -2 0 -2 0 -2 0 -2 0 -2 0 -2 0 -2 0 -2 0 -2 0 -2 0 -2 0 -2 0 -2 0 -2 0 -2 0 -2 0 -2 0 -2 0 -2 0 -2 0 -2 0 -2 0 -2 0 -2 0 -2 0 -2 0 -2 0 -2 0 -2 0 -2 0 -2 0 -2 0 -2 0 -2 0 -2 0 -2 0 -1 0 -1 -2 0 -1 0 -1 -1 -2 -1 -2 -1 -2 -1 -2 0 -1 0 -1 -1 -2 -1 -2 0 -2 0 -2 -1 -2 0 -2 0 -2 0 -2 0 -2 0 -2 0 -2 0 -2 0 -2 0 -2 0 -2 0 -2 0 -2 0 -2 0 -2 1 -2 0 -2 0 -2 0 -2 0 -2 -1 -2 0 -2 0 -2 -1 -2 0 -1 0 -1 -1 -2 -1 -1 -1 -1 -1 -2 -2 -2 -2 -1 -2 -1 -2 -1 -1 -1 -1 0 -2 -2 -1 0 -1 -1 -2 -1 -2 -2 -2 -2 -2 -2 -1 -2 -1 -1 -1 -1 -1 -1 0 -1 -2 -2 -2 -2 -2 -2 -1 0 -1 0 -2 0 -1 0 -1 0 -2 1 -2 1 -1 0 -1 0 -2 1 -1 1 -1 0 -2 1 -2 1 -2 1 -2 1 -2 1 -2 0 -1 1 -1 0 -2 1 -2 1 -2 1 -2 0 -1 1 -1 0 -2 1 -2 1 -2 1 -2 1 -2 1 -2 1 -2 1 -1 1 -1 1 -1 1 -1 1 -2 1 -1 2 -1 1 -1 1 -1 1 -1 1 -1 1 -1 1 -1 2 -2 2 -1 2 -1 1 -1 1 -1 1 -1 1 -1 0 -2 2 -2 1 -2 1 -2 1 -2 0 -2 1 -2 1 -2 1 -2 2 -2 2 -1 2 -1 2 -1 2 -1 2 0 1 0 1 -1 2 -1 2 0 2 -1 2 0 2 -1 2 0 2 -1 2 0 2 -1 2 -1 2 0 2 -1 2 0 1 -1 1 -1 2 0 1 -1 1 -1 1 -2 1 -2 0 -2 0 -2 -2 -2 -2 -1 -2 -1 -2 0 -1 0 -1 -1 -2 0 -2 0 -2 0 -2 0 -2 0 -2 0 -2 0 -2 0 -2 0 -2 0 -2 0 -2 0 -2 0 -2 0 -2 1 -2 0 -2 0 -2 0 -2 0 -1 0 -1 0 -2 0 -2 0 -2 0 -2 0 -2 0 -2 -1 -2 0 -2 0 -2 -1 -2 0 -2 -1 -2 0 -2 0 -2 -1 -2 0 -2 -1 -2 0 -2 0 -2 -1 -2 0 -2 0 -2 0 -2 -1 -2 0 -2 0 -2 0 -2 0 -2 0 -2 0 -2 0 -2 -1 -2 0 -2 0 -2 0 -2 0 -2 0 -2 0 -2 0 -2 0 -2 0 -2 0 -2 0 -2 -1 -2 0 -2 0 -2 0 -2 0 -2 0 -2 0 -2 0 -2 0 -2 0 -2 0 -2 0 -2 0 -2 0 -2 0 -2 0 -2 0 -2 0 -2 0 -2 1 -2 0 -2 0 -2 0 -2 0 -1 0 -1 0 -2 0 -2 1 -2 0 -2 0 -2 0 -2 0 -2 1 -2 0 -2 0 -2 0 -2 0 -2 1 -2 0 -2 0 -2 0 -2 0 -2 1 -2 0 -2 0 -2 0 -1 0 -1 0 -2 0 -2 1 -2"/><path fill="#fe2d00" d="M87 -2l1 0 2 0 2 0 2 0 2 0 2 0 2 0 2 0 2 0 2 0 2 0 2 0 2 0 2 0 2 0 2 0 2 0 2 0 2 0 2 0 2 0 2 0 2 0 2 0 2 0 2 0 2 0 2 0 2 0 2 0 2 0 2 0 2 0 2 0 2 0 2 0 2 0 2 0 2 0 2 0 2 0 2 0 2 0 2 0 2 0 2 0 2 0 2 0 2 0 1 0 0 2 0 2 0 2 1 2 0 2 0 1 0 1 1 2 0 2 1 2 0 1 0 1 1 2 1 2 1 2 0 2 1 2 0 2 1 2 0 2 0 2 1 2 0 2 0 2 0 2 0 2 0 2 0 2 -1 2 0 2 0 2 0 2 -1 2 0 1 0 1 0 2 -1 2 0 2 -1 2 0 1 0 1 -1 2 0 2 0 2 -1 2 0 2 -1 2 0 2 0 2 0 2 -1 2 0 2 0 2 0 2 0 2 1 2 0 2 0 2 1 2 1 2 1 2 0 1 0 1 1 2 0 2 0 2 0 2 -1 2 -1 2 -1 1 -1 1 -1 1 -1 1 -1 1 -1 1 -1 0 -2 2 -1 0 -1 1 -2 1 -2 1 -2 1 -2 1 -2 1 -2 1 -2 1 -2 1 -1 1 -1 0 -2 2 -2 1 -1 1 -1 1 -1 1 -1 1 -1 1 -1 1 -1 1 -1 1 -1 1 -1 1 -1 1 -1 1 0 1 -2 2 -2 2 0 1 -1 1 -1 1 -1 1 -1 1 -1 1 -1 1 -1 1 -1 1 -2 1 -2 1 -1 1 -1 0 -2 1 -2 1 -2 1 -1 1 -1 0 -2 2 -2 2 -2 2 0 1 -1 1 -1 2 -1 2 -1 2 0 1 -1 1 -1 2 0 1 0 1 -1 2 -1 2 -1 2 -1 2 -1 2 -1 1 -1 1 -1 1 -2 0 -1 -1 -1 0 -1 -2 0 -2 -1 -2 0 -2 0 -2 -1 -2 0 -2 0 -2 0 -2 0 -2 1 -2 0 -2 0 -2 0 -2 0 -2 0 -2 0 -2 0 -2 0 -2 0 -2 0 -2 0 -2 -1 -2 0 -2 0 -2 -1 -2 0 -2 0 -2 -1 -2 -1 -2 0 -1 0 -1 -1 -2 0 -2 -1 -2 0 -1 0 -1 -1 -2 0 -2 0 -2 -1 -2 0 -2 0 -2 0 -2 -1 -2 0 -2 0 -2 0 -2 0 -2 0 -2 0 -2 -1 -2 0 -2 0 -2 0 -2 0 -2 0 -2 0 -2 0 -2 0 -2 0 -2 0 -2 0 -2 0 -2 -1 -2 0 -2 0 -2 0 -2 0 -2 0 -2 0 -2 0 -2 0 -2 0 -2 0 -2 0 -2 0 -2 0 -2 0 -2 0 -2 1 -2 0 -2 0 -2 0 -2 0 -2 0 -2 0 -2 0 -2 1 -2 0 -2 0 -2 0 -2 0 -2 1 -2 0 -2 0 -1 0 -1 0 -2 1 -2 0 -2 0 -2 0 -2 0 -2 1 -2 0 -2 0 -1 0 -1 0 -2 1 -2 0 -2 0 -2M354 -2l2 0 2 0 2 0 2 0 2 0 2 0 2 0 2 0 2 0 2 0 2 0 2 0 2 0 2 0 2 0 2 0 2 0 2 0 2 0 2 0 2 0 2 0 2 0 1 2 1 2 1 2 1 1 1 1 1 2 0 1 1 1 1 2 1 2 1 2 0 1 1 1 0 2 1 2 1 2 1 2 0 1 1 1 1 2 1 2 1 1 1 1 1 1 1 1 1 1 2 1 2 1 2 0 2 1 2 1 2 1 1 0 1 1 2 1 2 2 1 2 1 1 1 1 0 2 1 1 0 1 1 2 1 2 1 2 1 2 0 1 0 1 0 2 0 2 0 2 0 2 0 2 0 2 0 2 0 2 0 2 0 2 0 2 0 2 0 2 0 2 0 2 0 2 0 2 0 2 0 2 0 2 0 2 0 2 0 2 0 2 0 2 0 2 0 2 0 2 0 2 0 2 0 2 0 2 0 2 0 2 0 2 0 2 0 2 0 2 0 2 0 2 0 2 0 2 0 2 0 2 0 2 0 2 0 2 0 2 0 2 0 2 0 2 0 2 0 2 0 2 0 2 0 2 0 2 0 2 0 2 0 2 0 2 0 2 0 2 0 2 0 2 0 2 0 2 0 2 0 2 0 2 0 2 0 2 0 2 0 2 0 2 0 2 0 2 0 2 0 2 0 2 0 2 0 2 0 2 0 2 0 2 0 2 -2 0 -2 0 -2 0 -2 0 -2 0 -2 0 -2 0 -2 0 -2 0 -2 0 -2 0 -2 0 -2 0 -2 0 -2 0 -2 0 -2 0 -2 0 -2 0 -2 0 -2 0 -2 0 -2 0 -2 0 -2 0 -2 0 -2 0 -2 0 -2 0 -2 0 -2 0 -2 0 -2 0 -2 0 -2 0 -2 0 -2 0 -2 0 -2 0 -2 0 -2 0 -2 0 -2 0 -2 0 -2 0 -2 0 -2 0 -2 0 -2 0 -2 0 -2 0 -2 0 -2 0 -2 0 -2 0 -2 0 -2 0 -2 0 -2 0 -2 0 -2 0 -2 0 -2 0 -2 0 -2 0 -2 0 -2 0 -2 0 -2 0 -2 0 -2 0 -2 0 -2 0 -2 0 -2 0 -2 0 -2 0 -2 0 -2 0 -2 0 -2 0 -2 0 -2 0 -2 0 -2 0 -2 0 -2 0 -2 0 -2 0 -2 0 -2 0 -2 0 -1 0 -1 -2 0 -1 -1 -1 -1 -2 0 -1 -1 -1 -1 -2 -1 -2 -1 -2 0 -1 -1 -1 0 -2 -1 -2 -1 -2 0 -2 -1 -2 0 -2 0 -2 0 -2 0 -2 0 -2 0 -2 0 -2 0 -2 0 -1 0 -1 0 -2 0 -2 1 -2 0 -2 0 -2 0 -2 1 -2 0 -2 0 -2 0 -2 0 -1 0 -1 0 -1 0 -1 0 -2 0 -2 -1 -2 0 -2 -1 -2 0 -1 0 -1 -1 -2 -1 -1 -1 -1 -1 -2 -1 0 -1 -1 -1 -1 -1 -1 -2 -1 -1 0 -1 -1 -2 -1 -1 0 -1 -1 -2 -1 -2 -2 -1 -2 -1 -1 0 -1 -1 -2 0 -2 0 -2 1 -2 1 -2 1 -1 1 -1 1 -1 1 -1 1 -1 1 -1 1 -1 2 -1 2 -1 1 -1 1 0 2 -1 2 -1 1 0 1 0 2 0 2 0 2 1 2 1 1 0 1 1 2 0 2 1 1 0 1 0 2 0 2 0 2 0 2 -1 2 0 2 -1 2 -1 2 -1 1 0 1 -1 2 -1 2 -1 1 -1 1 -1 2 -1 2 -2 2 -2 0 -1 1 -1 1 -1 1 -1 1 -2 1 -2 1 -1 0 -1 1 -2 1 -1 0 -1 1 -2 1 -1 0 -1 1 -2 1 -1 0 -1 1 -2 1 -1 0 -1 1 -2 1 -1 0 -1 2 -2 0 -1 1 -1 1 -2 0 -1 1 -1 1 -2 1 -2 1 -2 1 -2 1 -1 0 -1 1 -2 1 -1 1 -1 1 -2 1 -2 1 -2 1 -2 1 -1 1 -1 1 -2 0 -1 1 -1 1 -2 1 -2 1 -1 0 -1 2 -2 0 -1 1 -1 1 -2 1 -2 1 -2 1 -2 1 -2 1 -2 1 -2 1 -2 1 -2 1 -2 1 -2 1 -2 1 -2 1 -2 1 -2"/><path fill="#f54600" d="M89 -2l1 0 2 0 2 0 2 0 2 0 2 0 2 0 2 0 2 0 2 0 2 0 2 0 2 0 2 0 2 0 2 0 2 0 2 0 2 0 2 0 2 0 2 0 2 0 2 0 2 0 2 0 2 0 2 0 2 0 2 0 2 0 2 0 2 0 2 0 2 0 2 0 2 0 2 0 2 0 2 0 2 0 2 0 2 0 2 0 2 0 2 0 0 2 0 2 0 2 0 2 0 2 0 1 0 1 0 2 1 2 0 2 0 2 1 2 0 2 0 2 1 2 1 2 0 2 1 2 0 2 1 2 0 2 0 2 1 2 0 2 0 2 0 2 0 2 0 2 0 2 -1 2 0 2 0 2 0 2 -1 2 0 2 0 2 -1 2 0 1 0 1 -1 2 0 2 0 2 -1 2 0 1 0 1 0 2 -1 2 0 2 0 2 -1 2 0 2 0 1 0 1 0 2 0 2 -1 2 0 2 0 2 0 2 0 2 0 2 0 2 0 2 -1 2 0 1 0 1 -1 2 -1 2 -1 2 -1 1 -1 1 -1 2 -2 1 -1 1 -1 1 -1 1 -1 1 -2 1 -2 1 -1 1 -1 1 -2 1 -2 2 -2 1 -1 1 -1 1 -1 1 -1 1 -1 1 -1 1 -1 1 -1 1 -1 1 -1 1 -1 1 -1 2 -2 2 -1 2 -1 1 -1 1 -1 1 -1 1 -1 1 0 1 -2 2 -1 0 -1 1 -1 1 -1 1 -2 1 -2 1 -2 1 -2 1 -2 1 -2 1 -1 1 -1 1 -2 1 -2 2 -2 2 -1 2 -1 1 -1 1 -1 1 -1 1 -1 2 -1 0 -1 1 -1 -1 -1 -1 0 -1 -1 -2 0 -2 0 -2 0 -2 0 -2 0 -2 0 -2 0 -2 -1 -2 0 -2 0 -2 0 -2 -1 -2 0 -2 0 -2 -1 -2 0 -2 -1 -2 -1 -2 0 -1 0 -1 -1 -2 -1 -2 0 -1 0 -1 -1 -2 0 -2 -1 -2 -1 -2 0 -2 0 -2 -1 -2 0 -2 0 -2 -1 -2 0 -2 0 -2 0 -2 0 -2 0 -2 0 -2 -1 -2 0 -2 0 -2 0 -2 0 -2 0 -2 0 -2 0 -2 0 -2 0 -2 0 -2 0 -2 0 -2 -1 -2 0 -2 0 -2 0 -2 0 -2 0 -2 0 -2 0 -2 0 -2 0 -2 0 -2 0 -2 0 -2 0 -2 0 -2 1 -2 0 -2 0 -2 0 -2 0 -2 0 -1 0 -1 0 -2 0 -2 1 -2 0 -2 0 -2 0 -2 0 -2 1 -2 0 -2 0 -2 0 -2 1 -2 0 -2 0 -2 0 -2 1 -2 0 -2 0 -2 0 -2 1 -2 0 -2 0 -2 0 -2M359 -2l1 0 2 0 2 0 2 0 2 0 2 0 2 0 2 0 2 0 2 0 2 0 2 0 2 0 2 0 2 0 2 0 2 0 2 0 1 2 1 2 0 1 1 1 1 2 0 1 1 1 1 2 0 1 1 1 1 2 0 1 1 1 1 2 0 1 0 1 1 2 1 2 1 2 1 2 0 1 0 1 1 2 1 2 1 2 1 2 2 2 2 2 2 2 2 1 2 1 2 1 2 1 2 1 2 1 2 1 1 1 1 1 1 1 1 1 1 1 1 2 1 2 1 2 1 2 1 2 0 1 1 1 1 2 0 1 1 1 1 2 2 2 0 2 0 2 0 2 0 2 0 2 0 2 0 2 0 2 0 2 0 2 0 2 0 2 0 2 0 2 0 2 0 2 0 2 0 2 0 2 0 2 0 2 0 2 0 2 0 2 0 2 0 2 0 2 0 2 0 2 0 2 0 2 0 2 0 2 0 2 0 2 0 2 0 2 0 2 0 2 0 2 0 2 0 2 0 2 0 2 0 2 0 2 0 2 0 2 0 2 0 2 0 2 0 2 0 2 0 2 0 2 0 2 0 2 0 2 0 2 0 2 0 2 0 2 0 2 0 2 0 2 0 2 0 2 0 2 0 2 0 2 0 2 0 2 0 2 0 2 0 2 0 2 0 2 0 2 0 2 0 2 -2 0 -2 0 -2 0 -2 0 -2 0 -2 0 -2 0 -2 0 -2 0 -2 0 -2 0 -2 0 -2 0 -2 0 -2 0 -2 0 -2 0 -2 0 -2 0 -2 0 -2 0 -2 0 -2 0 -2 0 -2 0 -2 0 -2 0 -2 0 -2 0 -2 0 -2 0 -2 0 -2 0 -2 0 -2 0 -2 0 -2 0 -2 0 -2 0 -2 0 -2 0 -2 0 -2 0 -2 0 -2 0 -2 0 -2 0 -2 0 -2 0 -2 0 -2 0 -2 0 -2 0 -2 0 -2 0 -2 0 -2 0 -2 0 -2 0 -2 0 -2 0 -2 0 -2 0 -2 0 -2 0 -2 0 -2 0 -2 0 -2 0 -2 0 -2 0 -2 0 -2 0 -2 0 -2 0 -2 0 -2 0 -2 0 -2 0 -2 0 -2 0 -2 0 -2 0 -2 0 -2 0 -2 0 -2 0 -2 0 -1 0 -1 -1 -1 -1 -1 -2 -2 -2 0 -1 -1 -1 -1 -2 -1 -2 -1 -1 -1 -1 -1 -2 0 -1 -1 -1 -1 -2 0 -1 0 -1 -1 -2 -1 -2 0 -1 0 -1 0 -2 -1 -2 0 -2 0 -2 0 -2 0 -2 0 -2 1 -2 0 -2 0 -2 0 -2 1 -2 0 -2 1 -2 0 -2 0 -2 1 -2 0 -2 0 -2 1 -2 0 -2 0 -1 0 -1 0 -2 0 -2 0 -2 0 -2 0 -2 -1 -2 0 -2 0 -2 0 -2 -1 -2 0 -2 0 -1 0 -1 0 -2 0 -1 0 -1 1 -2 1 -1 1 -1 1 -1 1 -1 1 0 2 -2 2 -1 2 -1 2 -1 2 -1 2 -1 1 -1 1 0 2 -1 1 -1 1 -1 2 -1 2 -1 2 -1 2 -2 2 -1 1 -1 1 -1 1 -1 1 -1 1 -1 1 -2 2 -2 1 -2 1 -1 0 -1 2 -2 0 -1 1 -1 1 -2 1 -2 1 -2 1 -2 1 -2 1 -2 1 -2 1 -2 1 -2 1 -2 1 -2 1 -2 1 -2 1 -2 1 -1 0 -1 1 -2 1 -1 1 -1 1 -2 1 -2 1 -2 1 -2 1 -1 1 -1 1 -2 1 -2 1 -1 0 -1 2 -2 1 -2 1 -2 2 -2 0 -1 1 -1 1 -2 1 -2 1 -1 0 -1 2 -2 0 -1 1 -1 1 -2 1 -2 1 -2 1 -2 1 -1 0 -1 1 -2 1 -1 0 -1 1 -2 1 -1 0 -1 1 -2 1 -2 1 -2 1 -2 1 -2"/><path fill="#ea6100" d="M92 -2l2 0 2 0 2 0 2 0 2 0 2 0 2 0 2 0 2 0 2 0 2 0 2 0 2 0 2 0 2 0 2 0 2 0 2 0 2 0 2 0 2 0 2 0 2 0 2 0 2 0 2 0 2 0 2 0 2 0 2 0 2 0 2 0 2 0 2 0 2 0 2 0 2 0 2 0 2 0 2 0 2 0 1 0 0 2 0 2 0 2 0 2 0 2 0 2 0 2 0 2 0 2 1 2 0 2 0 2 0 1 0 1 0 2 1 2 0 2 0 2 1 2 0 1 0 1 1 2 0 2 0 2 1 2 0 2 0 2 0 1 0 1 0 2 0 2 0 2 0 2 0 2 0 2 -1 2 0 2 0 2 0 2 -1 2 0 2 0 1 0 1 0 2 -1 2 0 2 0 2 -1 2 0 2 0 1 0 1 0 2 -1 2 0 2 0 2 -1 2 0 2 0 1 0 1 0 2 -1 2 0 2 0 2 -1 2 0 2 -1 2 -1 2 -1 2 -1 2 -1 2 -1 1 -1 1 -1 1 -1 1 -1 1 -1 1 -1 1 -1 1 -1 0 -2 2 -2 2 -2 1 -1 1 -1 1 -1 1 -1 1 -1 1 -1 1 -1 1 -1 1 -1 1 -1 1 -1 1 -1 2 -2 2 -2 2 0 1 -1 1 -1 1 -1 1 -1 1 -1 1 -1 1 -1 1 -1 1 -1 1 -1 1 -2 1 -2 1 -2 1 -1 0 -1 1 -2 0 -2 1 -2 1 -2 0 -2 1 -2 -1 -2 -1 -1 -2 -1 -2 -1 -2 0 -2 -1 -2 0 -1 0 -1 -1 -2 -1 -2 0 -1 0 -1 -1 -2 -1 -2 -1 -2 -1 -2 0 -1 -1 -1 0 -2 -1 -2 -1 -2 0 -2 -1 -2 -1 -2 0 -2 0 -2 -1 -2 0 -1 0 -1 0 -2 -1 -2 0 -2 0 -2 0 -2 0 -2 -1 -2 0 -2 0 -2 0 -2 0 -2 0 -2 0 -2 0 -2 0 -2 0 -2 0 -2 0 -2 0 -2 0 -2 -1 -2 0 -2 0 -2 0 -2 0 -2 0 -2 0 -2 0 -2 0 -2 0 -2 0 -2 0 -2 0 -2 0 -2 0 -2 1 -2 0 -2 0 -2 0 -2 0 -2 0 -1 0 -1 0 -2 0 -2 1 -2 0 -2 0 -2 0 -2 0 -2 1 -2 0 -2 0 -1 0 -1 0 -2 1 -2 0 -2 0 -2 1 -2 0 -2 0 -1 0 -1 0 -2 1 -2 0 -2 0 -2 1 -2M364 0l0 -1 1 -1 1 0 2 0 2 0 2 0 2 0 2 0 2 0 2 0 2 0 2 0 2 0 2 0 1 0 1 2 1 2 1 2 0 1 0 1 1 2 1 1 0 1 1 2 1 2 1 2 1 2 1 2 1 2 1 2 0 2 1 1 0 1 1 2 1 2 0 1 0 1 1 2 1 2 1 2 1 2 1 2 1 2 2 2 2 2 2 1 1 1 1 0 2 1 2 1 2 1 1 1 1 0 2 2 2 2 2 2 1 2 1 1 1 1 1 2 0 1 1 1 1 2 0 1 0 1 2 2 0 1 1 1 1 2 1 2 1 1 1 1 1 1 2 1 0 2 0 2 0 2 0 2 0 2 0 2 0 2 0 2 0 2 0 2 0 2 0 2 0 2 0 2 0 2 0 2 0 2 0 2 0 2 0 2 0 2 0 2 0 2 0 2 0 2 0 2 0 2 0 2 0 2 0 2 0 2 0 2 0 2 0 2 0 2 0 2 0 2 0 2 0 2 0 2 0 2 0 2 0 2 0 2 0 2 0 2 0 2 0 2 0 2 0 2 0 2 0 2 0 2 0 2 0 2 0 2 0 2 0 2 0 2 0 2 0 2 0 2 0 2 0 2 0 2 0 2 0 2 0 2 0 2 0 2 0 2 0 2 -2 2 -2 2 -2 2 -2 0 -2 0 -2 0 -2 0 -2 0 -2 0 -2 0 -2 0 -2 0 -2 0 -2 0 -2 0 -2 0 -2 0 -2 0 -2 0 -2 0 -2 0 -2 0 -2 0 -2 0 -2 0 -2 0 -2 0 -2 0 -2 0 -2 0 -2 0 -2 0 -2 0 -2 0 -2 0 -2 0 -2 0 -2 0 -2 0 -2 0 -2 0 -2 0 -2 0 -2 0 -2 0 -2 0 -2 0 -2 0 -2 0 -2 0 -2 0 -2 0 -2 0 -2 0 -2 0 -2 0 -2 0 -2 0 -2 0 -2 0 -2 0 -2 0 -2 0 -2 0 -2 0 -2 0 -2 0 -2 0 -2 -1 -2 0 -2 0 -2 0 -2 0 -2 0 -2 0 -2 0 -2 0 -2 0 -2 0 -2 0 -2 0 -2 0 -2 -1 -2 0 -2 -1 -2 -1 -2 -2 -2 -2 -2 -2 -2 -2 -1 -2 -1 -1 -1 -1 -1 -2 -1 -2 -1 -2 -1 -2 0 -2 -1 -2 0 -2 -1 -2 0 -2 0 -2 0 -2 0 -2 0 -2 0 -2 1 -2 0 -1 0 -1 1 -2 0 -2 1 -2 1 -2 0 -2 1 -2 1 -2 1 -2 0 -1 0 -1 1 -2 1 -2 0 -2 0 -2 0 -2 0 -2 0 -2 0 -2 0 -2 0 -2 0 -2 0 -2 0 -2 1 -2 0 -2 1 -2 1 -2 1 -2 2 -2 2 -2 2 -2 2 -1 1 -1 1 -1 2 -1 2 -2 2 -1 1 -1 1 -1 2 -1 2 -2 2 -2 2 -2 2 -2 1 -2 1 -1 1 -1 1 -2 1 -2 1 -1 0 -1 1 -2 1 -1 0 -1 1 -2 1 -1 0 -1 1 -2 1 -1 0 -1 1 -2 1 -1 0 -1 1 -2 1 -1 0 -1 1 -2 1 -1 0 -1 2 -2 0 -1 1 -1 1 -2 1 -2 1 -1 0 -1 2 -2 0 -1 1 -1 1 -2 1 -2 1 -1 1 -1 1 -2 1 -2 1 -1 1 -1 1 -2 2 -2 0 -1 1 -1 1 -2 2 -2 0 -1 1 -1 1 -1 0 -1 2 -2 0 -1 1 -1 1 -2 1 -2 1 -1 1 -1 1 -2 1 -2 1 -2 1 -2 1 -2 1 -2 1 -2 1 -2 1 -2 1 -2 1 -2 1 -2 1 -2"/><path fill="#dd8100" d="M94 0l0 -1 0 -1 2 0 2 0 2 0 2 0 2 0 2 0 2 0 2 0 2 0 2 0 2 0 2 0 2 0 2 0 2 0 2 0 2 0 2 0 2 0 2 0 2 0 2 0 2 0 2 0 2 0 2 0 2 0 2 0 2 0 2 0 2 0 2 0 2 0 2 0 2 0 2 0 2 0 2 0 0 1 0 1 0 2 0 2 0 2 0 2 0 2 0 2 1 2 0 2 0 2 0 2 0 2 0 2 0 2 0 2 0 2 0 2 1 2 0 2 0 2 0 1 0 1 0 2 0 2 1 2 0 2 0 2 0 2 0 2 0 2 0 2 0 2 0 2 0 2 0 2 0 2 0 2 0 2 0 2 0 2 0 2 0 2 -1 2 0 2 0 2 0 2 0 2 -1 2 0 2 0 2 -1 2 0 2 0 1 0 1 -1 2 0 2 0 2 -1 2 -1 2 0 2 -1 2 -1 2 -1 2 -1 2 -1 1 0 1 -2 2 -2 2 -2 2 -2 2 -2 2 -2 1 -1 1 -1 1 -1 1 -1 1 -1 1 -1 1 -1 1 -1 1 -1 1 -1 1 -1 1 -1 1 -1 1 -1 1 -1 1 -1 2 -2 2 -2 2 -2 2 -2 1 -1 1 -1 1 -2 1 -1 0 -1 0 -2 1 -2 0 -2 0 -2 -1 -1 0 -1 -1 -2 -1 -1 -2 -1 -1 -1 -1 -1 -2 -1 -2 -1 -1 0 -1 -2 -2 0 -1 -1 -1 -1 -2 -1 -2 -1 -2 -1 -2 -1 -2 -1 -2 -1 -2 0 -1 0 -1 -1 -2 0 -2 -1 -2 0 -2 0 -2 -1 -2 0 -2 0 -2 0 -2 -1 -2 0 -2 0 -2 0 -2 0 -1 0 -1 0 -2 0 -2 0 -2 0 -2 0 -2 0 -2 0 -2 -1 -2 0 -2 0 -2 0 -2 0 -2 0 -2 0 -2 0 -2 0 -2 0 -2 0 -2 0 -2 0 -2 0 -2 0 -2 0 -2 0 -2 0 -2 1 -2 0 -2 0 -2 0 -2 0 -2 0 -2 0 -2 1 -2 0 -2 0 -2 0 -2 0 -2 1 -2 0 -2 0 -1 0 -1 0 -2 1 -2 0 -2 0 -2 1 -2 0 -2 0 -2 1 -2 0 -2 0 -2 1 -2M370 0l0 -1 1 -1 1 0 2 0 2 0 2 0 2 0 2 0 2 0 0 1 1 1 1 2 0 1 1 1 1 2 0 1 1 1 1 2 0 1 1 1 1 2 0 1 1 1 1 2 0 1 1 1 0 2 1 1 0 1 1 2 1 2 1 2 0 2 1 2 1 2 0 2 1 2 1 2 1 2 0 1 0 1 1 2 1 1 0 1 2 2 0 1 1 1 1 1 1 1 1 0 2 2 2 1 2 1 2 1 2 1 2 1 1 1 1 1 1 1 1 1 0 1 2 2 1 2 1 2 1 2 1 2 1 2 1 2 1 2 1 2 1 2 1 1 1 1 1 1 1 1 1 1 1 1 1 1 1 1 1 0 0 2 0 2 0 2 0 2 0 2 0 2 0 2 0 2 0 2 0 2 0 2 0 2 0 2 0 2 0 2 0 2 0 2 0 2 0 2 0 2 0 2 0 2 0 2 0 2 0 2 0 2 0 2 0 2 0 2 0 2 0 2 0 2 0 2 0 2 0 2 0 2 0 2 0 2 0 2 0 2 0 2 0 2 0 2 0 2 0 2 0 2 0 2 0 2 0 2 0 2 0 2 0 2 0 2 0 2 0 2 0 2 0 2 0 2 0 2 -1 2 -1 1 -1 1 -1 1 -1 1 -1 1 -1 1 -1 1 -2 1 -2 1 -1 1 -1 1 -2 0 -2 1 -2 1 -2 0 -2 0 -2 0 -2 0 -2 0 -2 1 -2 0 -1 0 -1 0 -2 0 -2 1 -2 0 -2 1 -2 0 -2 1 -2 0 -2 1 -2 0 -2 1 -2 0 -2 1 -1 0 -1 0 -2 0 -2 0 -2 0 -2 0 -2 0 -2 0 -2 0 -2 0 -2 0 -2 -1 -2 -1 -1 0 -1 0 -2 -1 -2 0 -2 -1 -2 0 -2 0 -2 0 -2 0 -2 1 -2 0 -2 0 -2 1 -2 0 -1 0 -1 0 -2 0 -2 0 -2 0 -2 0 -1 0 -1 0 -2 0 -2 -1 -2 0 -2 -1 -1 0 -1 0 -2 -1 -2 0 -2 0 -2 0 -2 -1 -2 0 -2 0 -2 0 -2 0 -2 0 -2 0 -2 0 -2 0 -2 0 -1 0 -1 0 -2 -1 -2 0 -2 -1 -2 -1 -1 -1 -1 -1 -1 -1 -1 0 -1 -2 -1 -1 -1 -1 -1 -1 -1 -1 -1 -2 -1 -2 -1 -2 -1 -2 -1 -2 0 -2 -1 -2 0 -2 0 -2 0 -2 0 -2 0 -2 1 -2 0 -1 0 -1 1 -2 1 -2 1 -2 1 -2 1 -2 1 -1 0 -1 2 -2 2 -2 0 -1 1 -1 1 -1 1 -1 1 -1 1 -1 1 -2 1 -2 0 -2 0 -2 0 -2 -1 -2 0 -1 0 -1 -1 -2 -1 -2 0 -1 0 -1 0 -2 0 -2 0 -2 0 -1 0 -1 1 -2 1 -2 1 -2 1 -1 1 -1 1 -1 1 -1 1 -1 1 -1 1 -1 1 -1 1 0 2 -2 2 -2 2 -2 1 0 1 -1 1 -1 1 -2 2 -2 2 -2 0 -1 1 -1 1 -2 1 -2 1 -1 0 -1 1 -2 1 -1 0 -1 1 -2 1 -1 0 -1 1 -2 1 -2 1 -2 1 -2 1 -2 1 -2 1 -2 1 -1 0 -1 2 -2 0 -1 1 -1 1 -2 1 -2 1 -1 1 -1 1 -2 1 -2 1 -1 1 -1 1 -2 2 -2 0 -1 1 -1 1 -1 0 -1 2 -2 1 -2 1 -1 1 -1 1 -1 1 -1 1 -2 2 -2 0 -1 1 -1 1 -1 1 -1 1 -2 1 -2 1 -1 1 -1 1 -2 1 -2 1 -2 1 -2 1 -2 1 -2 1 -2 1 -2 1 -2 1 -2 1 -2 1 -2 1 -2 0 -1 1 -1 1 -2 0 -1 1 -1 1 -2"/><path fill="#c8bb00" d="M97 -2l1 0 2 0 2 0 2 0 2 0 2 0 2 0 2 0 2 0 2 0 2 0 2 0 2 0 2 0 2 0 2 0 2 0 2 0 2 0 2 0 2 0 2 0 2 0 2 0 2 0 2 0 2 0 2 0 2 0 2 0 2 0 2 0 2 0 2 0 0 2 1 2 0 2 0 2 0 2 1 2 0 2 0 2 0 2 0 1 0 1 0 2 0 2 0 2 0 2 0 2 0 2 0 2 0 2 0 2 0 2 0 2 0 2 0 2 0 2 0 2 0 2 0 2 1 2 0 2 0 2 0 2 0 2 0 2 0 2 0 2 1 2 0 2 0 2 0 2 0 2 0 2 0 2 0 2 0 2 -1 2 0 2 0 2 0 2 0 2 -1 2 0 2 0 2 -1 2 0 2 -1 2 -1 2 0 2 -1 2 -1 2 -1 2 -1 2 -1 1 -1 1 -1 2 -2 2 -2 2 -2 2 -2 1 -1 1 -1 1 -1 1 -1 1 -2 1 -2 2 -2 2 -2 2 -2 1 -1 1 -1 1 -1 1 -1 1 -1 1 -1 1 -2 1 -2 1 -2 1 -2 0 -2 0 -2 -1 -2 0 -1 -1 -1 0 -2 -2 -1 0 -1 -1 -1 -1 -1 -1 -1 -1 -1 -1 -1 -1 -1 -1 -1 -1 -1 -1 0 -1 -2 -2 -1 -2 -1 -2 -1 -2 -1 -2 0 -1 0 -1 -1 -2 -1 -2 0 -2 0 -2 -1 -2 0 -2 0 -2 0 -2 -1 -2 0 -2 0 -2 0 -2 0 -2 0 -2 0 -2 0 -2 0 -2 -1 -2 0 -2 0 -2 0 -2 0 -2 0 -2 0 -2 0 -2 0 -2 0 -2 0 -2 0 -2 0 -2 0 -2 0 -2 0 -2 0 -2 0 -2 0 -2 1 -2 0 -2 0 -2 0 -2 0 -2 0 -2 0 -2 0 -2 0 -2 1 -2 0 -2 0 -2 0 -2 1 -2 0 -2 0 -1 0 -1 1 -2 0 -2 0 -2 1 -2 0 -2 0 -1 0 -1 1 -2 0 -2 0 -2 1 -2 0 -1 0 -1 1 -2M374 6l2 -1 2 0 2 0 1 1 1 1 1 1 1 2 2 2 1 2 1 2 1 2 1 1 0 1 1 2 1 1 0 1 1 2 1 2 1 2 1 2 0 1 0 1 1 2 1 2 0 1 0 1 1 2 1 2 0 2 1 2 1 2 0 1 0 1 1 2 1 2 1 2 1 1 1 1 1 1 1 1 1 1 2 1 2 1 1 1 1 0 2 1 1 1 1 1 2 1 2 2 1 2 1 1 1 1 1 2 0 1 1 1 1 2 0 1 0 1 1 2 1 2 1 2 1 2 1 2 1 2 2 2 0 1 1 1 1 1 1 1 1 1 1 1 1 1 1 1 1 1 1 1 1 2 0 2 0 2 0 2 0 2 0 2 0 2 0 2 0 2 0 2 0 2 0 2 0 2 0 2 0 2 0 2 0 2 0 2 0 2 -1 2 0 2 -1 2 0 2 0 2 -1 2 0 2 0 2 -1 2 0 2 0 2 0 1 0 1 0 2 0 2 0 2 0 2 0 2 0 2 0 2 0 2 0 2 0 1 0 1 0 2 -1 2 0 2 -1 2 0 1 0 1 -1 2 -1 1 0 1 -2 2 -1 2 -1 1 -1 1 -1 1 -2 1 -2 2 -2 1 -1 1 -1 1 -2 1 -2 1 -2 1 -2 1 -2 1 -2 1 -2 0 -2 1 -2 1 -2 0 -2 1 -2 1 -2 0 -2 1 -1 0 -1 0 -2 1 -2 0 -2 1 -2 0 -2 0 -2 1 -2 0 -2 0 -2 0 -2 0 -2 0 -2 -1 -2 0 -2 -1 -2 0 -2 -1 -2 0 -2 0 -2 0 -2 -1 -2 0 -2 1 -2 0 -1 0 -1 0 -2 0 -2 1 -2 0 -2 0 -2 1 -2 0 -2 0 -2 0 -2 0 -2 -1 -2 0 -2 0 -2 0 -2 -1 -1 0 -1 0 -2 0 -2 -1 -2 0 -2 0 -2 0 -2 0 -2 0 -2 0 -2 0 -2 0 -2 0 -2 0 -2 -1 -2 0 -1 0 -1 0 -2 -1 -2 0 -1 -1 -1 0 -2 -1 -1 -1 -1 -1 -1 -1 -1 -1 -1 -1 -1 -1 -1 -1 -1 -2 -1 -2 -1 -2 -1 -2 -1 -2 0 -2 0 -2 0 -2 0 -2 0 -2 0 -2 1 -2 1 -2 0 -1 1 -1 1 -2 1 -2 1 -1 1 -1 1 -1 1 -1 1 -1 1 -1 1 -1 1 -1 1 -1 2 -1 2 -2 2 -2 2 -2 2 -2 0 -1 1 -1 1 -2 1 -2 1 -2 0 -2 0 -2 0 -1 0 -1 -1 -2 -1 -2 -1 -2 -1 -1 -1 -1 -1 -2 0 -2 0 -2 1 -2 1 -2 2 -2 2 -2 1 -2 1 -1 1 -1 1 -1 1 -1 1 -1 1 -1 1 -2 2 -2 0 -1 1 -1 1 -2 1 -2 1 -1 0 -1 1 -2 1 -2 1 -2 1 -2 1 -2 1 -2 1 -2 1 -2 0 -1 1 -1 1 -2 0 -1 1 -1 1 -2 1 -2 1 -2 1 -2 1 -1 1 -1 1 -2 2 -2 0 -1 1 -1 1 -1 1 -1 1 -2 2 -2 1 -2 1 -1 1 -1 1 -1 1 -1 1 -1 1 -1 1 -2 2 -2 2 -2 0 -1 1 -1 1 -1 1 -1 1 -2 1 -2 1 -1 1 -1 1 -2 1 -2 1 -2 1 -2 1 -2 1 -2 1 -2 1 -2 1 -2 0 -1 1 -1 1 -2 0 -1 1 -1 1 -2 0 -1 1 -1 1 -2 1 -2 1 -2 2 -2"/><path fill="#9ed707" d="M100 -2l2 0 2 0 2 0 2 0 2 0 2 0 2 0 2 0 2 0 2 0 2 0 2 0 2 0 2 0 2 0 2 0 2 0 2 0 2 0 2 0 2 0 2 0 2 0 2 0 2 0 2 0 2 0 1 0 1 2 1 2 1 1 0 1 1 2 1 2 0 1 0 1 0 2 1 2 0 2 0 2 0 2 0 2 0 2 0 2 0 2 0 2 0 2 0 2 0 2 0 2 0 2 0 2 0 2 0 2 0 2 0 2 0 2 0 2 0 2 0 2 0 2 0 2 0 2 0 2 0 2 1 2 0 2 0 2 0 2 0 2 1 2 0 2 0 2 0 2 0 2 0 2 0 2 0 2 -1 2 0 2 0 2 -1 2 0 2 -1 2 0 1 0 1 -1 2 -1 2 -1 2 -1 2 -1 2 -1 1 -1 1 -1 1 -1 1 -1 1 -1 1 -1 1 -1 1 -1 1 -1 1 -1 1 -2 1 -2 1 -1 1 -1 1 -2 1 -2 1 -1 1 -1 1 -2 1 -1 0 -1 1 -2 0 -2 1 -2 0 -2 0 -2 0 -2 0 -2 0 -2 0 -2 -1 -2 -1 -2 -1 -1 -1 -1 0 -2 -2 -1 -2 -1 -1 -1 -1 -1 -2 -1 -2 -1 -2 -1 -2 0 -2 -1 -2 0 -2 -1 -2 0 -2 0 -2 -1 -2 0 -2 0 -2 0 -2 0 -2 0 -2 0 -2 -1 -2 0 -2 0 -2 0 -2 0 -2 0 -2 0 -2 0 -2 0 -2 0 -2 0 -2 0 -2 0 -2 0 -2 0 -2 0 -2 0 -2 0 -2 1 -2 0 -2 0 -2 0 -2 0 -2 0 -2 0 -2 0 -2 0 -1 0 -1 0 -2 0 -2 1 -2 0 -2 0 -2 0 -2 0 -2 1 -2 0 -2 0 -2 1 -2 0 -2 0 -2 1 -2 0 -1 0 -1 1 -2 0 -2 1 -2 0 -2 1 -2 0 -2 1 -2M375 16l1 -1 2 0 2 0 2 1 2 2 1 2 1 1 1 1 1 2 1 2 1 1 0 1 1 2 1 2 1 2 1 2 0 1 0 1 1 2 1 2 0 2 1 2 0 2 1 2 1 2 0 2 1 2 1 2 0 2 1 1 0 1 2 2 0 1 1 1 1 1 1 1 1 1 2 1 2 2 1 0 1 1 2 1 2 2 2 2 2 2 1 2 1 1 0 1 1 2 1 2 1 2 1 2 0 1 0 1 1 2 1 2 0 1 0 1 1 2 1 2 1 2 1 2 1 2 1 1 1 1 1 2 1 2 1 1 0 1 1 2 1 2 0 1 0 1 1 2 0 2 0 2 0 2 -1 2 0 2 0 2 0 2 -1 2 0 2 0 2 -1 2 0 2 0 2 -1 2 0 2 0 2 -1 2 0 2 0 1 0 1 0 2 -1 2 0 2 0 2 0 2 0 2 -1 2 0 2 0 1 0 1 0 2 -1 2 0 2 -1 2 0 1 0 1 -1 2 -1 2 0 1 0 1 -1 2 -1 1 0 1 -2 2 -1 2 -1 1 -1 1 -1 1 -1 1 -1 1 -1 1 -1 1 -2 1 -2 2 -2 1 -2 1 -2 1 -2 1 -2 1 -2 0 -2 1 -2 1 -2 0 -2 1 -1 0 -1 0 -2 1 -2 0 -2 0 -2 0 -2 1 -2 0 -2 0 -2 0 -2 0 -2 -1 -2 0 -2 0 -2 -1 -2 0 -1 0 -1 0 -2 0 -2 0 -2 0 -2 0 -2 0 -2 0 -1 0 -1 0 -2 0 -2 1 -2 0 -2 0 -2 1 -2 0 -2 0 -2 0 -2 0 -2 0 -2 0 -2 -1 -2 0 -2 0 -2 0 -2 -1 -2 0 -2 0 -2 0 -2 0 -2 0 -2 -1 -2 0 -2 0 -2 0 -2 0 -2 0 -2 0 -2 0 -2 -1 -1 0 -1 0 -2 -1 -2 -1 -2 -1 -1 -1 -1 -1 -1 -1 -1 -1 -1 -1 -1 -2 -1 -2 -1 -1 0 -1 -1 -2 0 -2 -1 -2 0 -2 0 -2 1 -2 0 -2 1 -2 1 -2 1 -1 1 -1 1 -2 2 -2 2 -2 2 -2 2 -2 2 -2 1 0 1 -1 1 -1 1 -1 1 -1 1 -1 1 -1 1 -1 1 -1 1 -1 0 -1 2 -2 1 -2 1 -1 1 -1 1 -2 0 -1 1 -1 0 -2 1 -2 0 -2 1 -2 0 -2 0 -2 0 -2 0 -2 0 -2 0 -2 0 -2 1 -2 1 -2 0 -2 1 -2 1 -2 1 -2 0 -1 0 -1 1 -2 1 -2 1 -2 0 -2 1 -2 1 -2 1 -2 0 -1 1 -1 0 -2 1 -2 1 -2 1 -2 1 -2 1 -2 1 -2 1 -1 1 -1 1 -2 1 -2 1 -1 1 -1 1 -2 2 -2 2 -2 1 -2 1 -1 1 -1 1 -1 1 -1 1 -1 1 -1 1 -1 1 -1 1 -2 2 -2 1 -2 1 -1 1 -1 1 -2 2 -2 0 -1 1 -1 1 -2 1 -2 1 -2 1 -2 1 -2 1 -2 1 -2 1 -2 1 -2 1 -2 1 -2 1 -2 1 -2 1 -2 1 -2 1 -2 1 -1 1 -1 1 -1 1 -1"/><path fill="#6ee012" d="M103 -2l1 0 2 0 2 0 2 0 2 0 2 0 2 0 2 0 2 0 2 0 2 0 2 0 2 0 2 0 2 0 2 0 2 0 1 0 1 1 1 1 1 1 1 1 1 0 2 2 2 1 2 1 2 2 2 2 1 2 1 2 1 2 0 2 1 2 0 2 0 2 0 2 0 2 0 2 0 2 0 2 0 2 0 2 0 2 0 2 0 2 0 2 0 2 -1 2 0 2 0 2 0 2 0 2 0 2 0 2 0 2 0 2 0 2 1 2 0 2 0 1 0 1 0 2 1 2 0 2 0 2 1 2 0 2 0 2 0 1 0 1 0 2 0 2 0 2 -1 2 0 2 0 2 -1 2 -1 2 0 2 -1 2 -1 2 -1 1 -1 1 -1 2 -2 2 -2 2 -2 2 -2 2 -1 0 -1 1 -2 1 -2 1 -2 1 -2 1 -2 1 -1 0 -1 0 -2 1 -2 0 -2 1 -2 0 -1 0 -1 0 -2 0 -2 0 -2 0 -2 0 -2 -1 -2 -1 -1 0 -1 -1 -1 -1 -1 -1 -1 -1 -1 -1 0 -1 -1 -2 -1 -1 0 -1 -1 -2 -1 -2 0 -1 0 -1 -1 -2 0 -2 0 -2 -1 -2 0 -2 0 -2 0 -2 0 -2 -1 -2 0 -2 0 -2 0 -2 0 -2 0 -2 0 -2 0 -2 0 -2 0 -2 0 -2 1 -2 0 -2 0 -2 0 -2 0 -2 0 -2 0 -2 0 -2 0 -2 0 -2 0 -2 0 -2 0 -2 0 -2 0 -1 0 -1 0 -2 0 -2 0 -2 1 -2 0 -2 0 -2 0 -2 1 -2 0 -2 0 -2 0 -2 1 -2 0 -2 1 -2 0 -2 0 -2 1 -2 0 -2 1 -2 0 -2 1 -2 1 -2 0 -1 0 -1 1 -2M376 24l2 -1 2 0 2 1 2 2 2 2 1 2 1 1 0 1 1 2 1 1 0 1 1 2 1 2 0 1 0 1 1 2 1 2 0 1 0 1 1 2 0 2 1 2 1 2 0 2 1 2 0 1 0 1 1 2 1 2 1 2 1 2 1 2 1 1 1 1 1 1 1 1 1 0 2 2 2 1 1 1 1 1 1 1 1 1 1 1 1 1 0 1 2 2 0 1 1 1 0 2 1 2 1 2 0 2 1 2 0 1 0 1 1 2 0 2 1 2 0 1 0 1 1 2 0 2 1 2 1 2 1 2 0 1 0 1 1 2 1 2 0 1 0 1 1 2 0 2 1 2 0 2 0 1 0 1 0 2 0 2 0 2 0 2 0 1 0 1 0 2 0 2 0 2 -1 2 0 2 0 2 0 2 0 2 0 2 0 2 -1 2 0 2 0 2 0 2 0 2 -1 2 0 2 0 2 -1 2 0 2 -1 2 -1 2 0 1 0 1 -1 2 -1 2 -1 2 -1 1 0 1 -2 2 -1 2 -1 1 -1 1 -1 1 -1 1 -1 0 -2 2 -2 1 -1 1 -1 1 -2 1 -1 0 -1 1 -2 1 -1 0 -1 0 -2 1 -2 0 -2 1 -1 0 -1 0 -2 1 -2 0 -2 0 -2 0 -2 0 -2 0 -2 0 -2 0 -2 0 -2 0 -2 0 -2 0 -2 0 -2 -1 -2 0 -2 0 -2 0 -2 0 -2 0 -2 0 -2 1 -2 0 -2 0 -2 1 -2 0 -2 0 -2 0 -2 0 -2 1 -2 0 -2 -1 -2 0 -2 0 -2 0 -2 0 -2 0 -2 -1 -2 0 -2 0 -2 0 -2 0 -2 0 -2 0 -2 -1 -2 0 -2 0 -2 0 -2 0 -1 0 -1 0 -2 0 -2 -1 -2 0 -1 -1 -1 0 -2 -1 -1 -1 -1 -1 -2 -1 -1 -2 -1 -1 -1 -1 -1 -2 0 -1 0 -1 -1 -2 0 -2 0 -2 0 -2 1 -2 0 -1 0 -1 1 -2 1 -1 0 -1 2 -2 2 -2 1 -2 1 -1 1 -1 1 0 2 -2 2 -2 2 -2 2 -2 2 -2 2 -2 2 -2 2 -2 2 -2 1 -2 1 -1 1 -1 1 -2 1 -2 1 -2 1 -2 1 -2 0 -1 0 -1 1 -2 0 -2 1 -2 0 -2 0 -2 1 -2 0 -2 0 -2 0 -2 1 -2 0 -1 0 -1 1 -2 0 -2 1 -2 0 -1 0 -1 1 -2 0 -2 1 -2 1 -2 0 -2 1 -2 1 -2 1 -2 1 -2 1 -2 1 -2 1 -2 2 -2 0 -1 1 -1 1 -1 0 -1 2 -2 2 -2 1 -2 1 -1 1 -1 1 -1 1 -1 1 -1 0 -1 2 -2 2 -2 0 -1 1 -1 1 -1 0 -1 2 -2 1 -2 1 -2 1 -2 1 -1 0 -1 1 -2 1 -1 1 -1 1 -2 0 -1 0 -1 1 -2 1 -1 0 -1 1 -2 1 -1 0 -1 1 -2 1 -2 1 -2 1 -2 1 -2 1 -1 0 -1 2 -2 1 -2 1 -1 2 -1"/><path fill="#5de023" d="M107 0l1 -2 2 0 2 0 2 0 2 0 2 0 2 0 2 0 2 0 1 0 1 2 2 2 0 1 1 1 1 1 1 1 1 2 2 1 1 1 1 1 2 1 2 1 1 1 1 1 2 1 2 2 2 2 0 1 1 1 0 2 1 2 0 2 1 2 0 2 0 2 0 2 0 2 0 2 0 2 0 2 0 2 0 2 -1 2 0 2 0 2 0 2 0 1 0 1 0 2 0 2 0 2 0 2 0 2 0 2 0 2 1 2 0 2 0 2 0 2 1 2 0 2 0 2 0 2 1 2 0 2 0 2 -1 2 0 2 0 1 0 1 -1 2 0 2 -1 2 -1 2 -1 1 0 1 -2 2 -2 2 -2 2 -2 2 -2 1 -2 1 -2 1 -2 1 -2 1 -2 0 -2 1 -2 0 -2 1 -2 0 -2 1 -2 0 -2 0 -2 0 -2 0 -2 0 -2 -1 -1 -1 -1 -1 -1 -1 -1 -1 -1 -1 -1 -2 -1 -2 0 -2 -1 -2 -1 -2 0 -2 0 -2 -1 -2 0 -2 0 -2 0 -2 0 -2 -1 -2 0 -2 0 -2 0 -2 0 -2 0 -2 0 -2 0 -2 1 -2 0 -2 0 -2 0 -2 0 -2 0 -2 0 -2 0 -2 0 -2 0 -2 0 -2 0 -2 0 -2 0 -2 0 -2 0 -2 1 -2 0 -2 0 -2 0 -2 0 -2 0 -2 1 -2 0 -2 0 -2 0 -2 1 -2 0 -2 0 -2 1 -2 0 -2 1 -2 0 -2 1 -2 1 -2 0 -2 1 -2 1 -2 1 -2 1 -2M375 32l1 -1 2 -1 2 0 2 1 1 1 1 1 1 1 1 1 0 1 2 2 0 1 0 1 1 2 1 2 1 2 0 2 1 2 1 2 0 2 1 2 0 2 1 2 0 2 1 2 0 1 0 1 1 2 1 2 0 1 1 1 1 2 0 1 1 1 1 2 1 2 1 1 1 1 1 1 1 1 1 0 2 2 2 2 1 2 1 1 1 1 1 2 0 1 0 1 1 2 1 2 0 1 0 1 1 2 0 2 1 2 0 2 0 1 0 1 0 2 1 2 0 2 1 2 0 2 0 2 1 2 0 2 1 2 1 2 0 2 1 2 0 1 0 1 1 2 0 2 0 2 1 2 0 1 0 1 0 2 0 2 1 2 0 2 0 2 0 2 0 2 0 2 0 2 0 2 0 2 -1 2 0 2 0 2 0 2 -1 2 0 2 0 2 -1 2 0 1 0 1 -1 2 -1 2 0 1 0 1 -1 2 -1 1 0 1 -2 2 0 1 -1 1 -1 1 -1 1 -1 2 -2 2 -2 1 -1 1 -1 1 -2 1 -2 1 -2 1 -2 1 -2 0 -2 1 -2 0 -2 1 -2 0 -2 0 -2 1 -2 0 -2 0 -2 0 -2 0 -2 0 -2 0 -2 0 -2 -1 -2 0 -2 0 -2 0 -2 0 -2 0 -2 0 -2 0 -2 0 -2 0 -2 1 -2 0 -2 0 -2 1 -2 0 -2 0 -2 0 -2 0 -2 0 -2 0 -2 0 -2 0 -2 0 -2 0 -2 0 -2 0 -2 -1 -2 0 -2 0 -2 0 -2 0 -2 0 -2 0 -2 0 -2 -1 -2 0 -2 0 -2 0 -2 0 -2 -1 -2 -1 -2 0 -1 -1 -1 -1 -2 -1 -2 -2 0 -1 -1 -1 -1 -2 0 -1 0 -1 -1 -2 0 -2 1 -2 0 -2 1 -2 1 -2 1 -2 1 -1 1 -1 1 -2 2 -2 2 -2 2 -2 2 -2 2 -1 1 -1 1 -1 1 -1 1 -1 1 -1 1 -1 1 -1 1 -1 1 -1 1 -1 1 -1 1 -1 1 -1 1 -1 1 -1 1 -2 2 -2 1 -2 1 -2 1 -2 1 -2 1 -2 0 -2 1 -2 0 -2 1 -2 0 -2 0 -2 1 -2 0 -2 0 -1 0 -1 0 -2 1 -2 0 -2 1 -2 0 -2 1 -2 0 -2 1 -2 0 -1 0 -1 1 -2 1 -2 1 -2 1 -2 1 -2 1 -2 1 -2 1 -1 1 -1 1 -2 1 -2 1 -1 1 -1 1 -1 0 -1 2 -2 1 -2 1 -1 1 -1 1 -2 2 -2 0 -1 1 -1 1 -2 1 -2 1 -1 0 -1 1 -2 1 -1 0 -1 1 -2 1 -1 0 -1 1 -2 1 -1 0 -1 1 -2 1 -1 0 -1 1 -2 1 -2 1 -2 1 -2 1 -2 1 -2 1 -2 1 -2 1 -2 1 -1 1 -1 1 -1 1 -1"/><path fill="#5de237" d="M110 6l2 -1 2 -1 2 0 2 2 1 0 1 1 1 1 1 2 2 2 1 2 1 1 1 1 1 1 1 1 1 1 2 1 2 1 1 1 1 1 2 1 2 2 2 2 1 2 1 2 1 2 0 2 0 2 0 2 1 2 0 2 0 2 0 2 0 2 -1 2 0 2 0 2 0 2 0 2 0 2 0 2 0 2 0 2 0 2 0 2 0 2 1 2 0 2 0 2 0 1 0 1 0 2 1 2 0 2 0 2 0 2 0 2 -1 2 0 2 -1 2 0 2 -1 2 -1 2 -1 1 -1 1 -1 1 -1 1 -1 1 -1 1 -1 1 -2 1 -2 1 -2 1 -2 1 -2 1 -1 0 -1 0 -2 1 -2 1 -2 0 -2 0 -2 1 -2 0 -2 0 -2 -1 -2 -1 -1 -1 -1 -1 -1 -1 -1 -2 -1 -2 -1 -2 0 -1 0 -1 -1 -2 0 -2 -1 -2 0 -2 0 -2 0 -2 0 -2 -1 -2 0 -2 0 -2 0 -2 0 -2 1 -2 0 -2 0 -2 0 -2 0 -2 0 -2 0 -1 0 -1 0 -2 0 -2 0 -2 0 -2 1 -2 0 -2 0 -2 0 -2 0 -2 0 -2 0 -2 0 -2 0 -2 1 -2 0 -2 0 -2 0 -2 1 -2 0 -2 0 -2 1 -2 0 -2 0 -2 1 -2 0 -2 1 -2 1 -2 1 -2 0 -1 0 -1 1 -2 1 -1 1 -1 1 -2M376 38l2 -1 2 0 2 1 1 0 1 1 0 1 2 2 0 1 1 1 1 2 0 1 0 1 1 2 1 2 0 1 0 1 1 2 0 2 1 2 0 1 0 1 1 2 0 2 1 2 1 2 0 2 1 2 0 1 0 1 1 2 1 2 1 2 1 1 1 1 1 2 1 2 1 1 1 1 1 1 1 1 1 2 2 2 0 1 1 1 1 2 0 1 0 1 1 2 1 2 0 2 0 2 1 2 0 2 0 2 1 2 0 2 0 2 1 2 0 2 1 2 0 2 1 2 0 2 1 2 0 1 0 1 1 2 0 2 1 2 1 2 0 2 0 2 1 2 0 1 0 1 0 2 1 2 0 2 0 2 0 2 0 2 0 2 0 2 0 2 0 2 0 2 0 2 -1 2 0 2 0 2 -1 2 -1 2 0 1 0 1 -1 2 -1 2 -1 2 -1 2 -1 2 -1 1 -1 1 -1 1 -1 1 -1 1 -1 1 -1 1 -1 1 -1 0 -2 2 -1 0 -1 1 -2 1 -1 0 -1 0 -2 1 -2 0 -2 1 -2 0 -2 0 -2 0 -2 0 -2 1 -2 0 -2 0 -2 0 -2 -1 -2 0 -2 0 -2 0 -2 0 -2 0 -2 0 -2 0 -2 0 -2 0 -2 0 -2 1 -2 0 -2 0 -2 0 -2 1 -2 0 -2 0 -2 0 -2 1 -2 0 -2 0 -2 -1 -2 0 -2 0 -2 0 -2 0 -2 0 -2 -1 -2 0 -2 0 -2 0 -2 0 -2 0 -2 0 -2 0 -2 0 -2 -1 -2 0 -2 0 -2 -1 -2 -1 -1 0 -1 -1 -2 -1 -2 -2 -1 -2 -1 -2 0 -1 0 -1 0 -2 0 -2 0 -2 1 -2 1 -2 2 -2 0 -1 1 -1 1 -1 1 -1 1 -1 1 -1 1 -1 1 -1 1 -1 1 -1 1 -1 1 -1 1 -1 1 -1 1 -1 1 -1 1 -1 2 -1 2 -2 2 -2 2 -2 2 -2 2 -2 2 -2 2 -2 2 -2 0 -1 1 -1 1 -2 1 -2 0 -2 1 -2 0 -2 1 -2 0 -2 0 -2 0 -2 1 -2 0 -2 0 -2 0 -2 1 -2 0 -2 0 -2 1 -2 0 -2 1 -2 1 -2 0 -1 1 -1 0 -2 1 -1 0 -1 1 -2 1 -1 0 -1 2 -2 0 -1 1 -1 1 -2 1 -2 1 -1 1 -1 1 -2 1 -2 1 -1 1 -1 1 -2 1 -2 1 -2 1 -2 1 -1 0 -1 1 -2 1 -1 0 -1 1 -2 1 -1 0 -1 1 -2 1 -2 1 -2 1 -2 1 -2 1 -2 0 -1 1 -1 1 -2 0 -1 0 -1 1 -2 1 -1 0 -1 2 -2 0 -1 1 -1 1 -2 1 -2 1 -1 2 -1"/><path fill="#97ed57" d="M110 20l2 -1 2 0 2 1 1 0 1 1 1 1 1 1 1 1 1 1 1 1 1 0 2 2 2 1 1 1 1 1 2 1 2 2 2 2 1 2 1 1 0 1 1 2 0 2 1 2 0 1 0 1 0 2 0 2 0 2 0 2 0 2 0 2 0 2 0 2 0 2 0 2 0 2 0 2 1 2 0 2 0 2 0 2 0 2 0 2 0 2 0 2 0 2 0 2 -1 2 0 1 0 1 -1 2 -1 2 -1 2 -1 1 0 1 -2 2 -2 1 -1 1 -1 1 -2 1 -2 1 -1 1 -1 0 -2 1 -2 1 -2 1 -2 0 -2 0 -2 1 -2 -1 -2 -1 -2 -1 -1 -1 -1 -2 -1 -2 -1 -2 -1 -2 0 -2 0 -2 -1 -2 0 -2 0 -2 0 -2 0 -2 0 -2 0 -2 0 -2 0 -2 0 -2 0 -2 0 -2 0 -2 0 -2 1 -2 0 -2 0 -2 0 -2 0 -2 0 -2 1 -2 0 -2 0 -2 0 -2 0 -2 0 -2 1 -2 0 -2 0 -2 0 -2 1 -2 0 -1 0 -1 1 -2 0 -2 1 -2 0 -2 1 -2 1 -2 0 -1 1 -1 1 -2M376 44l2 -1 2 0 2 1 2 2 0 1 1 1 1 2 1 2 0 2 1 2 1 2 0 2 1 2 0 1 0 1 1 2 0 2 1 2 0 1 0 1 1 2 0 2 1 2 1 2 0 2 1 2 1 2 1 2 1 2 1 1 0 1 2 2 1 2 1 1 0 1 2 2 0 1 1 1 0 2 1 1 0 1 1 2 0 2 1 2 0 2 1 2 0 2 1 2 0 2 0 2 1 2 0 2 1 2 0 1 0 1 1 2 0 2 1 2 0 1 0 1 1 2 1 2 0 1 0 1 1 2 0 2 1 2 0 2 1 2 0 2 0 2 1 2 0 2 0 1 0 1 0 2 0 2 0 2 0 2 0 2 0 2 -1 2 0 2 0 2 -1 2 0 1 0 1 -1 2 -1 2 -1 2 -1 2 -1 2 -1 1 -1 1 -1 1 -1 1 -1 1 -1 1 -1 1 -2 1 -2 1 -1 1 -1 0 -2 1 -2 1 -1 0 -1 0 -2 1 -2 0 -2 0 -2 0 -2 1 -2 0 -2 0 -2 0 -2 0 -2 0 -2 0 -2 -1 -2 0 -2 0 -2 0 -2 0 -2 0 -2 0 -2 1 -2 0 -2 0 -2 0 -2 1 -2 0 -2 0 -2 0 -2 0 -2 1 -2 0 -2 0 -2 0 -2 0 -2 0 -2 -1 -2 0 -2 0 -2 0 -2 0 -2 0 -2 -1 -2 0 -2 0 -2 0 -1 0 -1 0 -2 0 -2 -1 -2 0 -2 0 -2 -1 -2 -1 -2 -1 -2 -2 -1 -2 -1 -2 0 -2 0 -2 1 -2 0 -2 1 -1 0 -1 2 -2 1 -2 1 -1 1 -1 1 -1 1 -1 1 -1 1 -1 1 -1 1 -1 1 -1 1 -1 1 -1 2 -1 2 -2 2 -2 1 0 1 -1 1 -1 1 -1 2 -1 2 -2 2 -1 1 -1 1 -1 1 -1 1 -1 2 -1 2 -2 1 -2 1 -1 1 -1 1 -2 0 -1 0 -1 1 -2 0 -2 0 -2 0 -2 1 -2 0 -2 0 -2 0 -2 0 -2 0 -2 0 -1 0 -1 0 -2 1 -2 0 -2 1 -2 0 -1 0 -1 1 -2 1 -2 0 -1 0 -1 1 -2 1 -2 1 -2 1 -1 0 -1 1 -2 1 -1 1 -1 1 -2 1 -2 1 -2 1 -2 1 -2 1 -2 1 -2 1 -2 1 -2 1 -2 1 -2 1 -2 1 -2 0 -1 1 -1 0 -2 1 -1 0 -1 1 -2 1 -2 1 -2 1 -2 1 -2 1 -2 0 -1 1 -1 1 -2 1 -2 1 -2 2 -2 2 -2"/><path fill="#c9f789" d="M113 36l1 0 2 0 1 0 1 0 2 1 2 1 2 1 1 1 1 0 2 2 2 2 2 2 1 2 1 2 0 1 0 1 1 2 0 2 0 2 0 2 0 2 1 2 0 2 0 2 0 2 0 2 0 2 0 2 0 2 0 2 0 2 0 2 -1 2 0 2 0 2 -1 2 0 1 0 1 -1 2 -1 2 -1 2 -1 1 -1 1 -1 1 -1 1 -1 1 -2 1 -2 1 -2 1 -2 1 -2 1 -2 0 -2 0 -2 -1 -2 -1 -2 -2 -1 -2 -1 -2 0 -1 0 -1 -1 -2 0 -2 0 -2 -1 -2 0 -2 0 -2 0 -2 0 -2 0 -2 1 -2 0 -2 0 -2 0 -2 0 -2 0 -2 1 -2 0 -2 0 -1 0 -1 0 -2 1 -2 0 -2 0 -2 1 -2 0 -2 0 -2 1 -2 0 -2 1 -2 1 -2 0 -2 1 -1 1 -1 1 -2 1 0M377 50l1 -1 2 1 2 1 1 1 1 2 1 2 1 2 0 1 0 1 1 2 1 2 0 2 1 2 0 2 1 2 0 2 1 2 0 2 1 2 0 1 0 1 1 2 1 2 0 1 0 1 1 2 1 2 1 2 1 2 1 2 1 1 0 1 1 2 1 1 1 1 0 2 1 1 0 1 1 2 1 2 0 1 0 1 1 2 0 2 1 2 0 2 1 2 0 2 1 2 0 1 0 1 1 2 0 2 1 2 0 1 0 1 1 2 1 2 0 2 1 2 0 2 1 2 1 2 0 2 1 2 0 2 0 2 1 2 0 2 0 2 0 2 0 2 1 2 -1 2 0 2 0 2 0 2 0 2 -1 2 0 2 -1 2 -1 2 -1 2 -1 2 -1 2 -1 1 -1 1 -1 2 -2 1 -1 1 -1 1 -1 1 -1 0 -2 1 -1 1 -1 0 -2 1 -2 1 -2 0 -2 0 -2 1 -2 0 -2 0 -2 0 -2 0 -2 0 -2 0 -2 0 -2 0 -2 0 -2 0 -2 0 -2 0 -2 0 -2 0 -2 0 -2 0 -2 0 -2 0 -2 1 -2 0 -1 0 -1 0 -2 0 -2 1 -2 0 -2 0 -2 0 -2 0 -2 0 -2 0 -2 0 -2 0 -2 -1 -2 0 -2 0 -2 0 -2 0 -2 0 -2 -1 -2 0 -2 0 -2 0 -2 -1 -2 0 -2 -1 -2 0 -1 -1 -1 -1 -1 -1 -1 -1 -1 -1 0 -2 0 -2 0 -2 1 -2 0 -1 1 -1 1 -2 1 -2 1 -1 1 -1 1 -1 1 -1 1 -1 1 -1 1 -1 2 -1 2 -2 2 -2 1 0 1 -1 1 -1 1 0 2 -2 2 -1 1 -1 1 0 2 -2 1 0 1 -1 2 -1 2 -1 2 -1 2 -2 1 0 1 -1 1 -1 1 -1 1 -1 1 -2 1 -2 1 -2 0 -2 0 -2 0 -2 0 -2 0 -2 0 -2 0 -2 0 -2 0 -2 0 -2 0 -2 0 -2 0 -2 0 -2 1 -2 0 -2 1 -2 0 -1 0 -1 1 -2 1 -2 0 -1 1 -1 0 -2 1 -1 0 -1 1 -2 1 -1 0 -1 1 -2 1 -1 0 -1 1 -2 1 -2 1 -2 1 -2 1 -2 1 -2 0 -1 1 -1 0 -2 1 -1 0 -1 1 -2 1 -2 1 -2 1 -2 0 -1 0 -1 1 -2 1 -2 1 -2 1 -2 1 -2 1 -2 1 -2 1 -1 0 -1 2 -2 2 -2 1 0"/><path fill="#e5fdc1" d="M114 52l2 -1 2 -1 2 1 2 0 1 1 1 0 2 2 1 2 1 2 1 2 0 2 1 2 0 2 0 2 0 2 0 2 1 2 0 2 0 2 0 2 -1 2 0 2 0 1 0 1 -1 2 0 2 -1 2 -1 2 -1 2 -2 2 -2 2 -2 2 -1 0 -1 1 -2 0 -2 1 -2 0 -2 -2 -2 -2 -1 -2 -1 -2 0 -1 0 -1 0 -2 -1 -2 0 -2 0 -2 0 -2 0 -2 1 -2 0 -2 0 -2 0 -2 1 -2 0 -2 0 -2 1 -2 0 -1 0 -1 1 -2 0 -2 1 -2 1 -2 1 -2 2 -2M374 58l2 -1 2 -1 2 1 1 1 1 1 1 1 1 2 0 1 0 1 1 2 1 2 0 1 0 1 1 2 0 2 1 2 0 1 0 1 1 2 0 2 1 2 1 2 0 2 1 2 1 2 1 2 0 1 0 1 1 2 1 1 0 1 1 2 1 1 0 1 1 2 1 2 1 2 1 2 1 2 0 2 1 2 1 2 0 2 1 2 0 1 0 1 1 2 0 2 1 2 0 1 0 1 1 2 0 2 1 2 1 2 0 2 1 2 0 1 0 1 1 2 1 2 0 1 0 1 1 2 0 2 1 2 0 2 0 2 1 2 0 2 0 2 0 2 0 2 0 2 0 2 -1 2 0 2 0 2 -1 2 -1 2 0 1 -1 1 -1 2 0 1 -1 1 -1 2 -2 2 -2 2 -2 1 -1 1 -1 1 -2 0 -1 1 -1 0 -2 1 -2 0 -2 1 -2 0 -1 0 -1 0 -2 0 -2 0 -2 0 -2 0 -2 0 -2 0 -2 0 -2 0 -2 0 -2 0 -2 0 -2 0 -2 0 -2 0 -2 0 -2 1 -2 0 -2 0 -2 0 -2 0 -2 1 -2 0 -2 0 -1 0 -1 0 -2 0 -2 0 -1 0 -1 0 -2 0 -2 0 -2 0 -2 -1 -2 0 -2 0 -2 0 -2 0 -2 -1 -2 0 -1 0 -1 0 -2 0 -2 -1 -2 -1 -1 0 -1 0 -2 -2 -2 -2 0 -1 0 -1 0 -2 0 -2 1 -2 1 -1 0 -1 2 -2 2 -2 2 -2 2 -2 2 -1 1 -1 1 -1 2 -1 2 -2 1 0 1 -1 2 -1 2 -1 2 -1 2 -1 2 -1 1 0 1 -1 2 -1 1 0 1 -1 2 -1 2 -1 1 -1 1 -1 1 -1 1 -2 1 -2 1 -2 1 -2 0 -2 0 -2 0 -2 0 -2 0 -2 0 -2 0 -2 0 -2 0 -2 0 -2 0 -2 0 -2 0 -2 0 -2 0 -2 1 -2 0 -2 1 -2 0 -2 1 -2 0 -1 0 -1 1 -2 1 -2 1 -2 1 -2 0 -1 0 -1 1 -2 1 -2 1 -2 1 -2 0 -1 0 -1 1 -2 1 -2 1 -2 1 -2 0 -1 0 -1 1 -2 1 -2 1 -2 1 -2 0 -1 0 -1 1 -2 1 -2 1 -2 1 -2 1 -2 1 -1 1 -1 1 -2"/><path fill="#a6eff4" d="M375 64l1 0 2 -1 1 1 1 0 1 2 1 1 0 1 1 2 1 2 0 1 0 1 1 2 1 2 0 1 0 1 1 2 0 2 1 2 0 1 0 1 1 2 1 2 0 1 1 1 0 2 1 2 1 2 1 2 1 2 1 2 0 1 1 1 1 2 0 1 1 1 0 2 1 2 1 2 1 2 0 1 0 1 1 2 0 2 1 2 1 2 0 2 1 2 0 1 0 1 1 2 0 2 1 2 1 2 0 2 1 2 0 1 0 1 1 2 1 2 0 2 1 2 0 2 1 2 0 2 0 1 0 1 0 2 1 2 0 2 0 2 0 2 -1 2 0 2 0 2 -1 2 -1 2 0 1 0 1 -1 2 -1 1 0 1 -2 2 -2 2 -2 2 -2 2 -1 0 -1 1 -2 0 -1 1 -1 0 -2 1 -2 0 -2 0 -2 1 -2 0 -2 0 -2 0 -2 0 -2 0 -2 0 -2 0 -2 0 -2 0 -2 0 -2 0 -2 0 -2 0 -2 0 -2 0 -2 0 -2 0 -2 0 -2 0 -2 1 -2 0 -2 0 -2 0 -2 0 -2 0 -2 0 -2 0 -2 0 -2 -1 -2 0 -2 0 -2 0 -2 -1 -2 0 -2 0 -2 0 -2 -1 -1 0 -1 0 -2 -1 -1 -1 -1 0 -1 -2 -1 -2 0 -1 0 -1 1 -2 1 -2 1 -2 1 -1 1 -1 1 -1 2 -1 2 -2 2 -1 2 -1 2 -1 1 -1 1 0 2 -1 2 -1 2 -1 2 -1 1 0 1 -1 2 0 1 -1 1 0 2 -2 1 0 1 -1 1 -1 1 -1 1 -1 1 -1 1 -1 1 -2 1 -2 1 -2 0 -2 0 -2 1 -2 0 -2 0 -2 0 -2 0 -2 0 -2 0 -2 0 -2 0 -2 0 -2 0 -2 0 -2 0 -2 0 -2 1 -2 0 -2 0 -1 0 -1 1 -2 0 -2 1 -2 0 -1 0 -1 1 -2 1 -2 0 -1 0 -1 1 -2 1 -2 1 -2 0 -2 1 -2 1 -2 1 -2 0 -1 0 -1 1 -2 1 -2 0 -1 1 -1 0 -2 1 -2 1 -2 1 -2 0 -1 1 -1 1 -2 0 -1 1 -1 1 -2 1 -2 1 -1 1 -1M118 66l2 1 1 1 1 1 0 1 1 2 1 2 0 2 0 1 0 1 0 2 0 1 0 1 0 2 -1 2 -1 2 0 1 -1 1 -1 2 -2 2 -2 1 -2 0 -2 -1 -1 -2 -1 -2 0 -2 0 -2 0 -2 0 -2 0 -2 0 -1 0 -1 1 -2 0 -2 1 -2 1 -2 1 -2 2 -2 2 0"/><path fill="#7ed8f2" d="M375 72l1 -1 2 0 1 1 1 1 0 1 1 2 1 1 0 1 1 2 1 2 0 1 0 1 1 2 1 2 0 1 0 1 1 2 1 2 0 1 0 1 1 2 1 2 1 2 1 2 0 1 1 1 1 2 0 1 1 1 0 2 1 1 0 1 1 2 1 2 1 2 0 2 1 1 0 1 1 2 0 2 1 2 1 2 0 2 1 2 0 2 1 2 1 2 0 1 0 1 1 2 0 2 1 2 1 2 0 2 1 2 0 1 0 1 1 2 0 2 1 2 0 2 0 1 0 1 0 2 0 2 0 2 0 2 0 2 0 2 -1 2 0 2 -1 2 -1 2 -1 2 -1 2 -1 1 -1 1 -1 1 -1 1 -1 0 -2 2 -2 1 -2 1 -2 0 -2 1 -2 0 -2 0 -2 0 -2 0 -2 0 -2 1 -2 0 -2 0 -2 0 -2 0 -2 -1 -2 0 -2 0 -2 0 -2 0 -2 0 -2 0 -2 0 -2 0 -2 0 -2 0 -2 0 -2 0 -2 0 -2 1 -2 -1 -2 0 -2 0 -2 0 -2 0 -2 -1 -2 0 -1 0 -1 0 -2 -1 -2 0 -2 -1 -1 0 -1 -1 -2 -1 -2 -2 0 -2 1 -2 1 -1 1 -1 1 -1 1 -1 1 -1 2 -1 2 -1 2 -1 2 -1 2 -1 2 -1 2 -1 1 0 1 0 2 -1 1 -1 1 0 2 -2 1 0 1 -1 1 -1 1 -1 1 -1 1 -1 1 -1 1 -2 1 -2 1 -2 0 -1 0 -1 1 -2 0 -2 0 -2 1 -2 0 -2 0 -2 0 -2 0 -2 0 -2 0 -2 0 -2 0 -2 0 -2 0 -2 0 -2 0 -2 1 -2 0 -2 0 -2 1 -2 0 -2 1 -2 0 -2 1 -2 0 -1 0 -1 1 -2 1 -2 0 -1 0 -1 1 -2 1 -2 0 -1 0 -1 1 -2 1 -2 0 -1 1 -1 0 -2 1 -2 1 -2 1 -2 0 -1 1 -1 0 -2 1 -1 0 -1 2 -2 0 -1 1 -1 1 -1 1 -1"/><path fill="#5bc2f0" d="M376 80l2 1 1 1 1 1 0 1 1 2 1 1 0 1 1 2 1 2 1 2 0 2 1 1 0 1 1 2 1 2 1 2 1 2 0 1 1 1 1 2 0 1 1 1 1 2 0 1 0 1 1 2 1 2 1 2 1 2 0 1 0 1 1 2 1 2 0 1 0 1 1 2 1 2 0 1 0 1 1 2 0 2 1 2 1 2 0 2 1 2 0 1 0 1 1 2 0 2 1 2 0 2 1 2 0 2 1 2 0 2 0 2 0 2 0 2 0 1 0 1 0 2 -1 2 0 2 -1 2 0 1 -1 1 -1 2 0 1 -1 1 -1 1 -1 1 -1 1 -1 1 -1 1 -2 1 -2 1 -2 0 -2 1 -2 0 -2 1 -2 0 -2 0 -2 0 -2 0 -2 0 -2 0 -2 0 -2 0 -2 0 -2 0 -2 0 -2 -1 -2 0 -2 0 -2 0 -2 0 -2 0 -2 0 -2 0 -2 -1 -2 0 -2 0 -2 0 -2 0 -2 -1 -2 0 -2 -1 -2 -1 -1 0 -1 -1 -1 -1 0 -2 1 -2 2 -2 2 -1 2 -1 2 -1 1 -1 1 -1 2 -1 2 -1 1 -1 1 -1 1 -1 1 -1 1 -1 1 -2 1 -2 1 -1 0 -1 1 -2 1 -2 0 -2 1 -2 0 -2 1 -2 0 -2 0 -2 0 -2 0 -2 0 -2 0 -2 0 -2 1 -2 0 -2 0 -2 0 -2 0 -2 0 -2 0 -2 1 -2 0 -2 0 -1 0 -1 1 -2 0 -2 0 -2 1 -2 1 -2 0 -2 1 -2 0 -1 0 -1 1 -2 1 -2 1 -2 0 -2 1 -2 1 -2 1 -2 0 -1 1 -1 1 -2 0 -1 1 -1 1 -2 0 -1 1 -1 1 -1 2 -1"/><path fill="#58b3f0" d="M374 90l2 -1 2 1 2 2 0 1 1 1 1 2 1 2 1 2 1 2 1 2 1 2 1 2 1 2 1 2 1 2 1 2 0 1 1 1 1 2 0 1 0 1 1 2 1 2 1 2 1 2 0 1 0 1 1 2 1 2 0 2 1 2 0 2 1 2 1 2 0 2 1 2 0 1 0 1 1 2 0 2 1 2 0 1 0 1 1 2 0 2 0 2 1 2 0 2 0 2 0 2 0 2 -1 2 0 2 -1 2 0 1 0 1 -1 2 -1 1 -1 1 -1 2 -2 2 -1 0 -1 1 -2 1 -2 1 -2 0 -2 1 -1 0 -1 0 -2 0 -2 1 -2 0 -2 0 -2 0 -2 0 -2 0 -2 0 -2 -1 -2 0 -2 0 -2 0 -2 -1 -2 0 -2 -1 -2 0 -2 -1 -2 0 -2 -1 -1 0 -1 -1 -2 -1 0 -1 0 -1 0 -1 0 -1 1 -2 1 -1 0 -1 2 -2 0 -1 1 -1 1 -2 1 -2 1 -2 1 -2 0 -2 1 -2 0 -2 1 -2 0 -2 1 -2 0 -2 0 -2 0 -2 0 -2 0 -2 0 -2 1 -2 0 -2 0 -2 0 -2 0 -2 0 -2 0 -2 0 -2 1 -2 0 -2 0 -2 1 -2 0 -2 1 -2 0 -1 0 -1 1 -2 0 -2 1 -2 1 -2 0 -2 1 -2 1 -2 1 -2 1 -2 1 -2 0 -1 1 -1 1 -2 2 -2"/><path fill="#54a4f0" d="M375 98l1 0 1 0 1 1 1 1 1 1 1 1 1 1 0 1 2 2 0 1 1 1 1 2 1 2 1 2 1 2 1 2 1 2 1 2 1 2 1 2 0 1 1 1 0 2 1 2 1 2 0 2 1 2 1 2 0 2 1 2 1 2 0 2 1 2 0 1 0 1 1 2 0 2 1 2 0 1 0 1 1 2 0 2 0 2 0 2 1 2 0 2 0 2 -1 2 0 2 -1 2 0 1 0 1 -1 2 -1 1 0 1 -2 2 -2 2 -2 1 -2 1 -2 1 -2 0 -2 1 -2 0 -2 0 -2 0 -2 1 -2 0 -2 -1 -2 0 -2 0 -1 0 -1 0 -2 -1 -2 0 -2 -1 -1 0 -1 0 -2 -1 -2 -1 -2 -2 -1 -2 -1 -2 0 -2 1 -2 0 -2 1 -2 0 -2 1 -2 0 -2 1 -2 0 -2 1 -2 0 -2 0 -2 1 -2 0 -2 0 -2 0 -1 0 -1 0 -2 0 -2 0 -2 1 -2 0 -2 0 -2 0 -2 0 -2 0 -2 0 -2 1 -2 0 -2 0 -2 1 -2 0 -2 1 -2 0 -1 0 -1 1 -2 1 -2 0 -1 0 -1 1 -2 1 -2 0 -1 1 -1 1 -2 0 -1 1 -1 1 -2 2 -2 1 0"/><path fill="#5095f0" d="M374 106l2 -1 2 1 2 1 1 1 1 1 0 1 2 2 1 2 1 2 1 2 1 1 0 1 2 2 0 1 1 1 0 2 1 1 0 1 1 2 1 2 1 2 0 2 1 2 1 2 0 2 1 2 1 2 0 2 1 2 0 1 0 1 1 2 0 2 1 2 0 2 0 2 1 2 0 2 0 2 0 2 0 2 0 2 0 2 -1 2 0 2 -1 2 -1 2 -2 2 -2 2 -2 1 -2 1 -2 1 -2 0 -2 1 -2 0 -2 0 -2 0 -2 0 -2 0 -2 0 -2 -1 -2 0 -2 -1 -1 0 -1 0 -2 -1 -1 -1 -1 -1 -1 -1 -1 -2 -1 -2 0 -2 0 -2 0 -2 0 -2 1 -2 0 -2 0 -2 1 -2 0 -2 0 -2 0 -2 0 -2 1 -2 0 -2 0 -2 0 -1 0 -1 0 -2 0 -2 0 -2 1 -2 0 -2 0 -2 0 -2 0 -2 1 -2 0 -2 0 -1 0 -1 1 -2 0 -2 1 -2 0 -1 0 -1 1 -2 1 -2 0 -1 0 -1 1 -2 1 -1 1 -1 1 -2 2 -2"/><path fill="#4c8def" d="M375 112l1 0 2 0 2 1 1 1 1 1 1 1 1 1 0 1 2 2 0 1 1 1 1 2 1 2 1 2 1 2 1 2 0 1 1 1 0 2 1 2 1 2 0 2 1 2 1 2 0 2 1 2 0 1 0 1 1 2 0 2 1 2 0 2 0 2 1 2 0 2 0 2 0 2 0 2 0 2 -1 2 0 1 0 1 -1 2 -1 2 -2 2 -2 2 -2 1 -2 1 -1 0 -1 0 -2 1 -2 0 -2 0 -2 1 -2 0 -2 -1 -2 0 -2 0 -2 -1 -2 -1 -1 -1 -1 -1 -1 -1 -1 -1 -1 -1 0 -2 -1 -2 0 -2 0 -2 0 -2 0 -2 0 -2 1 -2 0 -2 0 -2 0 -2 0 -2 0 -2 1 -2 0 -2 0 -2 0 -2 0 -1 0 -1 0 -2 0 -2 1 -2 0 -2 0 -2 0 -2 1 -2 0 -2 0 -2 1 -2 1 -2 0 -1 0 -1 1 -2 1 -2 1 -2 1 -2 2 -2 1 0"/><path fill="#4885ef" d="M375 118l1 -1 2 0 1 1 1 0 2 2 2 2 1 2 1 1 0 1 1 2 1 1 0 1 1 2 1 1 0 1 1 2 1 2 1 2 0 2 1 2 1 2 0 2 1 2 0 1 0 1 1 2 0 2 1 2 0 2 0 1 0 1 0 2 1 2 0 2 0 2 -1 2 0 2 0 2 -1 2 -1 1 0 1 -2 2 -2 2 -1 0 -1 1 -2 1 -2 0 -2 1 -2 0 -2 0 -2 0 -2 0 -2 -1 -2 -1 -2 -1 -2 -2 -2 -2 0 -1 0 -1 -1 -2 0 -2 0 -2 0 -2 0 -2 0 -2 0 -2 0 -2 0 -2 0 -2 0 -2 0 -2 0 -2 1 -2 0 -2 0 -2 0 -2 0 -2 0 -2 1 -2 0 -2 0 -2 1 -2 0 -1 0 -1 1 -2 1 -2 0 -1 0 -1 1 -2 1 -1 1 -1 1 -1 1 -1"/><path fill="#457eee" d="M375 124l1 -1 2 0 2 0 1 1 1 1 1 1 1 1 0 1 2 2 1 2 1 2 1 2 1 2 0 1 0 1 1 2 1 2 1 2 0 2 1 2 0 1 0 1 1 2 0 2 0 2 1 2 0 2 0 2 0 2 0 2 0 2 0 2 -1 2 -1 2 0 1 -1 1 -1 1 -1 1 -1 1 -2 1 -2 1 -2 1 -2 0 -2 0 -2 0 -2 -1 -2 0 -1 -1 -1 -1 -2 -1 -1 -2 -1 -2 0 -2 -1 -2 0 -2 0 -2 0 -2 0 -2 0 -2 0 -2 0 -2 0 -2 0 -2 0 -2 0 -2 1 -2 0 -2 0 -2 0 -1 0 -1 0 -2 1 -2 0 -2 1 -2 0 -1 0 -1 1 -2 1 -2 0 -1 1 -1 1 -1 1 -1"/><path fill="#4176ed" d="M375 130l1 -1 2 -1 2 1 2 1 2 2 1 2 1 2 1 2 1 2 1 2 1 2 0 1 0 1 1 2 0 2 1 2 0 2 1 2 0 2 0 2 1 2 0 2 0 2 0 2 -1 2 0 2 -1 2 -1 2 -1 1 -2 1 -2 1 -2 1 -2 1 -2 0 -2 -1 -1 0 -1 0 -2 -1 -1 -1 -1 -2 -1 -2 -1 -2 0 -2 -1 -2 0 -2 0 -2 0 -2 0 -2 0 -2 0 -2 0 -2 0 -2 0 -2 0 -2 1 -2 0 -2 0 -1 0 -1 1 -2 0 -2 1 -2 0 -1 0 -1 1 -2 1 -1 1 -1"/><path fill="#3c71eb" d="M378 134l1 0 1 0 2 2 2 2 1 2 1 2 1 2 1 2 0 1 0 1 1 2 1 2 0 2 0 2 1 2 0 2 0 2 0 2 0 2 -1 2 0 2 -1 2 -1 1 -1 1 -1 1 -2 1 -2 1 -2 0 -2 -1 -2 -1 -1 -1 -1 -1 -1 -1 0 -2 -1 -2 0 -2 -1 -2 0 -2 0 -2 0 -2 0 -2 0 -2 0 -2 0 -2 1 -2 0 -2 0 -1 0 -1 1 -2 0 -2 1 -2 1 -2 1 -1 2 -1"/><path fill="#376ce9" d="M377 142l1 -1 2 0 2 1 1 2 1 1 0 1 1 2 1 2 1 2 0 2 0 2 1 2 0 2 0 2 0 2 -1 2 -1 2 -1 2 -1 1 -2 0 -2 0 -2 0 -1 -1 -1 -2 -1 -2 -1 -2 0 -2 0 -2 0 -2 0 -2 0 -2 0 -2 0 -1 0 -1 1 -2 0 -2 1 -2 0 -1 1 -1"/><path fill="#3267e7" d="M380 152l0 -1 1 1 1 1 0 1 1 2 0 2 -1 2 0 1 -2 1 -1 -2 -1 -2 0 -2 0 -2 2 -2"/></g><g fill="none" stroke-width="2" stroke-linejoin="round"><path stroke="#9d4028" d="M24 -2l-2 0 -2 1 -2 -1M-2 179l1 -1 1 -2 1 -2 1 -2 0 -1 1 -1 0 -2 1 -1 0 -1 1 -2 1 -2 0 -1 0 -1 1 -2 1 -2 0 -1 0 -1 1 -2 1 -2 0 -2 1 -2 0 -2 0 -2 1 -2 0 -1 0 -1 1 -2 0 -2 0 -2 0 -2 0 -2 0 -2 0 -2 0 -2 -1 -2 -1 -2 -1 -1 -2 -1 -2 -1 -1 -1 -1 -1 0 -1 -1 -2 0 -2 0 -2 0 -2 1 -2 0 -1 0 -1 1 -2 0 -2 1 -2 0 -1 0 -1 1 -2 1 -2 0 -2 1 -2 0 -2 1 -2 1 -2 0 -2 1 -2 0 -1 0 -1 1 -2 0 -2 1 -2 1 -2 0 -2 1 -2 0 -2 1 -2 1 -2 0 -1 0 -1 1 -2 1 -2 0 -1 0 -1 1 -2 1 -2 0 -1 0 -1 1 -2 1 -2 0 -1 0 -1 1 -2 1 -2 1 -2 0 -2 1 -2 1 -2 1 -2 0 -1 1 -1 0 -2 1 -1 0 -1 1 -2 1 -2 0 -1 0 -1 1 -2 1 -2 0 -1 0 -1 0 -2 0 -2M194 198l-2 1 -1 1 -1 2 0 2 0 2 0 2 1 2 1 2 2 1 2 1 1 0 1 0 2 -2 1 -2 1 -2 0 -2 0 -2 -1 -2 -1 -1 -1 -1 -1 -1 -2 -1 -1 0 -1 0"/><path stroke="#a9492e" d="M190 191l-1 1 -1 1 -1 1 -1 2 -1 2 -1 2 0 2 0 2 1 2 0 2 1 2 0 1 1 1 1 2 0 1 1 1 1 1 1 1 1 1 1 1 1 0 2 1 2 1 2 0 2 -1 2 -1 2 -2 2 -2 1 -2 1 -2 0 -1 0 -1 1 -2 -1 -2 0 -2 -1 -2 -1 -2 -1 -2 -1 -1 -1 -1 -1 -1 -2 -1 -2 -2 -1 0 -1 -1 -2 0 -2 0 -2 0 -2 0M12 236l0 -2 0 -2 1 -2 0 -2 0 -2 1 -2 0 -1 0 -1 0 -2 1 -2 0 -2 0 -2 1 -2 0 -2 0 -2 0 -2 1 -2 0 -2 0 -2 0 -2 0 -2 0 -2 -1 -2 0 -2 0 -2 0 -1 0 -1 0 -2 0 -2 0 -2 0 -2 0 -2 0 -2 0 -2 1 -2 0 -2 0 -2 0 -2 1 -2 0 -1 0 -1 1 -2 0 -2 0 -2 1 -2 0 -1 0 -1 1 -2 0 -2 0 -2 1 -2 0 -1 0 -1 1 -2 0 -2 1 -2 0 -1 0 -1 1 -2 0 -2 1 -2 0 -1 0 -1 1 -2 0 -2 1 -2 0 -1 0 -1 1 -2 0 -2 1 -2 0 -1 0 -1 1 -2 0 -2 1 -2 0 -1 0 -1 1 -2 0 -2 0 -2 1 -2 0 -2 0 -2 0 -1 0 -1 0 -1 0 -1 0 -2 -1 -2 -1 -2 -1 -2 -1 -2 -1 -2 0 -2 0 -2 -1 -2 1 -2 0 -2 0 -2 0 -2 1 -2 0 -2 1 -2 1 -2 0 -1 0 -1 1 -2 1 -2 0 -1 0 -1 1 -2 1 -2 1 -2 0 -2 1 -1 0 -1 1 -2 1 -2 1 -2 1 -2 0 -1 0 -1 1 -2 1 -2 0 -1 1 -1 0 -2 1 -2 0 -2 1 -2 1 -2 0 -1 0 -1 1 -2 0 -2 1 -2"/><path stroke="#b65133" d="M54 146l0 1 0 1 2 1 1 -1 0 -2 -1 -2 -2 2M192 184l-1 0 -1 0 -2 1 -2 1 -2 2 -2 2 -1 2 -1 2 -1 2 0 2 0 2 0 2 0 2 1 2 0 2 1 2 1 2 0 1 1 1 1 2 1 2 1 1 1 1 1 2 2 2 2 2 2 2 2 1 1 1 1 1 2 1 1 0 1 0 2 0 1 0 1 0 2 -2 2 -2 2 -2 1 -2 1 -1 0 -1 1 -2 1 -2 1 -2 1 -2 0 -2 0 -2 1 -2 0 -2 0 -2 -1 -2 0 -1 0 -1 -1 -2 -1 -1 -1 -1 -1 -1 -1 -1 -1 -1 -1 -1 -1 -1 -2 -1 -2 -1 -1 -1 -1 0 -2 -1 -1 -1 -1 0 -2 -1 -2 -1 -1 0 -1 0 -2 0M19 236l0 -2 0 -2 1 -2 0 -1 0 -1 1 -2 0 -2 1 -2 0 -1 0 -1 1 -2 0 -2 1 -2 0 -1 0 -1 1 -2 0 -2 1 -2 1 -2 0 -2 1 -2 0 -1 0 -1 1 -2 0 -2 1 -2 0 -1 0 -1 1 -2 0 -2 0 -2 1 -2 0 -2 0 -2 0 -2 1 -2 0 -2 0 -2 0 -2 -1 -2 0 -2 0 -2 0 -2 0 -2 -1 -2 0 -2 0 -2 0 -2 0 -2 0 -2 0 -2 0 -2 1 -2 0 -2 0 -2 1 -2 0 -2 1 -2 0 -2 1 -2 0 -2 1 -2 0 -1 0 -1 1 -2 0 -2 1 -2 1 -2 0 -2 1 -2 1 -2 0 -2 1 -2 0 -1 0 -1 1 -2 1 -2 0 -1 0 -1 1 -2 1 -2 0 -1 0 -1 1 -2 0 -2 1 -2 0 -2 1 -2 1 -2 0 -2 0 -2 1 -2 0 -2 1 -2 0 -2 0 -2 0 -2 1 -2 0 -2 0 -2 0 -2 0 -2 0 -2 0 -2 0 -2 -1 -2 0 -2 0 -2 0 -2 0 -2 0 -2 0 -2 0 -2 0 -1 0 -1 0 -2 0 -2 1 -2 0 -2 0 -2 0 -2 1 -2 0 -2 0 -2 1 -2 0 -2 0 -2 1 -2 0 -2"/><path stroke="#c15939" d="M26 236l0 -2 0 -2 0 -2 1 -2 0 -2 1 -2 0 -2 1 -2 0 -2 1 -2 0 -1 0 -1 1 -2 1 -2 0 -2 1 -2 0 -2 1 -2 1 -2 0 -2 1 -2 0 -1 0 -1 1 -2 1 -2 0 -2 1 -2 0 -2 0 -2 1 -2 0 -2 1 -2 0 -2 0 -2 1 -2 0 -1 0 -1 0 -2 1 -2 0 -2 1 -2 0 -1 0 -1 1 -2 1 -1 2 0 2 0 2 1 2 0 2 0 2 -2 2 -2 0 -1 1 -1 0 -2 0 -2 0 -2 -1 -2 0 -1 -1 -1 -1 -2 -2 -1 -2 -1 -2 0 -2 0 -2 0 -2 -2 -1 -2 0 -2 0 -2 0 -2 0 -2 1 -2 0 -2 0 -1 0 -1 1 -2 0 -2 0 -2 1 -2 0 -2 0 -2 1 -2 0 -2 1 -2 0 -1 0 -1 1 -2 0 -2 1 -2 0 -1 0 -1 1 -2 0 -2 1 -2 0 -1 0 -1 1 -2 0 -2 1 -2 0 -2 0 -2 1 -2 0 -2 0 -2 1 -2 0 -1 0 -1 0 -2 1 -2 0 -2 0 -2 0 -2 0 -2 1 -2 0 -2 0 -2 0 -2 0 -2 0 -2 0 -2 0 -2 0 -2 0 -2 0 -2 0 -2 0 -2 0 -2 0 -2 0 -2 0 -2 0 -2 0 -2 0 -2 0 -2 0 -2 0 -2 0 -2 1 -2 0 -2M216 236l0 -1 0 -1 1 -2 1 -2 0 -1 1 -1 0 -2 1 -2 1 -2 0 -2 1 -2 0 -2 1 -2 0 -2 1 -2 0 -2 0 -2 0 -2 0 -2 0 -2 -1 -2 0 -2 -1 -2 -2 -2 0 -1 -1 -1 -1 -1 -2 -1 -2 -1 -1 -1 -1 -1 -2 -1 -2 -1 -2 -1 -2 -1 -2 -1 -2 -1 -2 -1 -1 0 -1 0 -2 -1 -2 0 -2 1 -2 0 -2 1 -2 1 -2 1 -1 1 -1 1 -1 1 -1 1 0 1 -2 2 -1 2 -1 2 0 1 0 1 -1 2 0 2 0 2 0 2 0 2 0 2 1 2 1 2 1 2 0 1 1 1 1 2 1 2 1 1 1 1 1 2 2 2 1 2 1 1 1 1 1 2 1 2 1 2 0 2"/><path stroke="#c85d3d" d="M33 236l0 -2 0 -2 1 -2 0 -2 0 -1 0 -1 1 -2 0 -2 0 -2 1 -2 0 -1 0 -1 1 -2 0 -2 1 -2 1 -2 0 -2 1 -2 0 -1 0 -1 1 -2 0 -2 1 -2 1 -2 0 -2 1 -2 0 -2 1 -2 0 -2 0 -2 1 -2 0 -2 1 -2 0 -2 1 -2 0 -1 0 -1 1 -2 1 -2 1 -2 1 -1 1 -1 1 0 2 -2 2 -1 1 -1 1 -1 0 -1 2 -2 0 -1 0 -1 1 -2 0 -2 0 -2 0 -2 0 -2 0 -2 -1 -2 -1 -2 -1 -2 0 -1 -1 -1 -1 -2 0 -1 -1 -1 0 -2 -1 -2 0 -1 0 -1 0 -2 0 -2 -1 -2 0 -2 0 -2 0 -2 1 -2 0 -2 0 -2 0 -2 0 -2 0 -2 1 -2 0 -2 0 -2 1 -2 0 -2 0 -2 1 -2 0 -2 0 -2 1 -2 0 -2 0 -2 1 -2 0 -2 0 -2 1 -2 0 -2 0 -1 0 -1 0 -2 1 -2 0 -2 0 -2 0 -2 0 -2 1 -2 0 -2 0 -2 0 -2 0 -2 0 -2 0 -2 0 -2 0 -2 0 -2 0 -2 0 -2 0 -2 0 -2 0 -2 0 -2 0 -2 0 -2 0 -2 0 -2 0 -2 0 -2 1 -2 0 -2 0 -2 0 -2M222 236l0 -2 1 -2 0 -2 1 -2 0 -1 0 -1 1 -2 0 -2 1 -2 0 -1 0 -1 1 -2 0 -2 0 -2 0 -2 1 -2 0 -2 0 -2 0 -2 0 -1 0 -1 0 -2 -1 -2 0 -2 -1 -2 0 -1 -1 -1 -1 -2 -2 -2 -2 -2 -2 -1 -1 -1 -1 -1 -2 -1 -2 -1 -2 -1 -2 -1 -1 -1 -1 0 -2 -1 -1 -1 -1 0 -2 -1 -2 -1 -1 0 -1 0 -2 0 -2 0 -2 0 -1 0 -1 0 -2 1 -2 1 -1 0 -1 1 -2 1 -2 2 -2 2 -2 2 -2 2 0 1 -1 1 -1 2 0 1 -1 1 0 2 -1 2 -1 2 0 2 0 2 0 2 0 2 0 2 0 2 1 2 0 1 0 1 1 2 1 1 0 1 2 2 0 1 1 1 1 1 1 1 1 2 2 2 1 2 1 1 0 1 2 2 0 1 0 1 1 2"/><path stroke="#ce6141" d="M275 -2l0 2 0 2 -1 2 0 2 -1 2 -1 2 0 1 0 1 -1 2 0 2 0 2 -1 2 0 1 0 1 0 2 0 2 0 2 0 2 0 2 0 2 1 2 1 2 0 1 1 1 1 2 2 2 2 2 1 0 1 1 2 1 2 0 2 0 2 -1 2 -1 2 -2 1 -2 1 -1 0 -1 1 -2 1 -1 0 -1 1 -2 0 -2 1 -2 0 -2 1 -2 0 -2 0 -2 1 -2 0 -1 0 -1 0 -2 1 -2 0 -2 1 -2 0 -1 0 -1 1 -2 1 -2 0 -1 0 -1 1 -2 1 -2M43 236l0 -2 0 -2 0 -2 0 -2 0 -2 0 -2 0 -2 1 -2 0 -2 0 -2 1 -2 0 -2 0 -2 1 -2 0 -1 0 -1 1 -2 0 -2 1 -2 0 -2 0 -2 1 -2 0 -2 0 -2 1 -2 0 -1 0 -1 1 -2 0 -2 0 -2 1 -2 0 -1 0 -1 1 -2 0 -2 1 -2 1 -2 1 -1 0 -1 2 -2 2 -2 0 -1 1 -1 1 -1 0 -1 1 -2 1 -2 1 -2 0 -2 0 -2 0 -2 0 -2 0 -2 0 -2 0 -2 -1 -2 0 -2 0 -2 -1 -2 0 -2 0 -2 -1 -2 0 -2 0 -2 0 -2 0 -1 0 -1 0 -2 0 -2 0 -2 0 -2 -1 -2 0 -2 0 -2 0 -2 1 -2 0 -2 0 -2 0 -2 0 -2 0 -2 0 -2 1 -2 0 -2 0 -2 0 -2 1 -2 0 -2 0 -1 0 -1 0 -2 1 -2 0 -2 0 -2 0 -2 1 -2 0 -2 0 -2 0 -2 0 -2 1 -2 0 -2 0 -2 0 -2 0 -2 0 -2 0 -2 1 -2 0 -2 0 -2 0 -2 0 -2 0 -2 0 -2 0 -2 0 -2 0 -2 0 -2 0 -2 0 -2 0 -2 0 -2 0 -2 0 -2 0 -2 0 -2 0 -2M227 236l0 -2 1 -2 0 -2 0 -1 0 -1 0 -2 1 -2 0 -2 0 -2 1 -2 0 -2 0 -2 1 -2 0 -2 0 -2 0 -2 0 -2 0 -2 0 -2 0 -2 0 -2 0 -2 -1 -2 0 -2 -1 -2 -1 -2 -1 -2 -1 -1 -1 -1 -1 -1 -1 -1 -1 -1 -2 -1 -2 -1 -1 -1 -1 0 -2 -2 -1 0 -1 -1 -2 -1 -2 -1 -2 -1 -2 -1 -2 -1 -2 -1 -2 0 -2 -1 -2 0 -2 0 -2 1 -2 0 -2 1 -1 0 -1 0 -2 1 -1 1 -1 0 -2 2 -1 0 -1 1 -1 1 -1 1 -1 1 -1 1 -1 1 -1 1 -1 1 -1 2 -1 2 -1 1 0 1 -1 2 -1 2 -1 2 -1 2 0 1 0 1 -1 2 0 2 0 2 0 2 0 2 0 2 0 2 1 2 0 2 1 2 1 2 0 1 1 1 1 2 0 1 1 1 1 2 2 2 1 2 1 1 1 1 1 2 1 2"/><path stroke="#d46545" d="M263 -2l0 2 1 2 0 2 0 2 0 2 -1 2 0 2 0 2 0 2 0 2 0 2 0 2 0 2 0 2 0 2 0 2 0 2 0 2 1 2 0 2 0 1 0 1 1 2 1 2 0 1 1 1 1 2 0 1 1 1 1 1 1 1 1 1 1 1 1 1 1 1 1 1 1 1 1 1 2 1 2 2 2 1 2 0 2 0 2 -1 2 -1 0 -1 2 -2 2 -2 0 -1 1 -1 1 -2 1 -2 1 -2 1 -2 1 -2 1 -2 0 -2 1 -1 0 -1 1 -2 0 -2 1 -2 1 -2 0 -2 1 -2 0 -2 1 -2 0 -2 1 -2 0 -2 1 -2 0 -2 1 -2 0 -1 0 -1 1 -2 0 -2 1 -1 0 -1 1 -2 1 -2M52 236l1 -2 0 -2 0 -2 0 -2 0 -2 1 -2 0 -2 0 -2 0 -1 0 -1 0 -2 0 -2 1 -2 0 -2 0 -2 0 -2 0 -2 0 -2 0 -2 0 -2 1 -2 0 -2 0 -2 0 -2 0 -2 0 -2 1 -2 0 -2 0 -2 1 -2 0 -2 0 -2 1 -2 1 -2 0 -1 1 -1 0 -2 1 -1 1 -1 1 -2 0 -1 0 -1 1 -2 1 -2 0 -2 1 -2 0 -2 0 -2 1 -2 0 -2 0 -2 -1 -2 0 -2 0 -2 0 -2 0 -2 0 -2 0 -2 0 -2 0 -2 0 -2 0 -2 0 -2 -1 -2 0 -2 0 -2 0 -2 0 -2 0 -2 0 -2 0 -2 0 -2 0 -2 0 -2 0 -2 0 -2 0 -2 0 -2 0 -2 0 -1 0 -1 0 -2 0 -2 1 -2 0 -2 0 -2 0 -2 0 -2 0 -2 1 -2 0 -2 0 -1 0 -1 0 -2 0 -2 1 -2 0 -2 0 -2 0 -2 0 -2 1 -2 0 -2 0 -2 0 -2 0 -2 0 -2 0 -2 1 -2 0 -2 0 -2 0 -2 0 -2 0 -2 0 -2 0 -2 0 -2 0 -2 0 -2 0 -2 0 -2 0 -2 0 -2 0 -2 0 -2 0 -2M232 236l0 -2 0 -2 0 -2 0 -2 0 -2 1 -2 0 -2 0 -2 0 -2 0 -2 1 -2 0 -2 0 -2 0 -1 0 -1 0 -2 0 -2 0 -2 0 -2 0 -2 0 -2 0 -2 0 -2 0 -2 -1 -2 0 -2 -1 -2 -1 -2 -1 -1 -1 -1 -1 -2 -2 -1 -1 -1 -1 -1 -2 -1 -2 -2 -1 0 -1 -1 -2 -1 -2 -1 -2 -1 -2 -1 -1 -1 -1 -1 -2 -1 -1 0 -1 -1 -2 0 -2 -1 -2 0 -2 -1 -2 0 -2 1 -2 0 -2 0 -2 1 -2 1 -1 0 -1 0 -2 1 -1 1 -1 0 -2 2 -1 0 -1 1 -1 1 -1 0 -2 2 -2 2 -2 2 -1 2 -1 1 -1 1 -1 2 -1 2 -1 2 -1 2 -1 2 -1 2 -1 2 -1 2 0 2 -1 2 0 2 0 2 0 2 0 2 0 2 1 2 0 2 1 2 0 1 0 1 1 2 1 2 0 1 1 1 0 2 1 1 0 1 2 2 0 1 1 1 1 2 1 2"/><path stroke="#dc6e4c" d="M242 -2l1 2 1 2 1 2 1 1 1 1 1 1 1 1 1 1 1 1 1 1 0 1 1 2 1 2 1 2 0 2 0 2 1 2 0 2 0 2 0 2 1 2 0 2 0 2 0 2 1 2 0 1 0 1 1 2 0 2 1 2 0 1 0 1 1 2 1 1 0 1 2 2 0 1 1 1 1 1 1 1 1 1 1 1 1 2 2 2 2 2 1 2 1 1 1 1 1 1 1 1 1 2 2 1 1 1 1 0 2 0 2 -1 2 -1 1 -2 1 -1 1 -1 1 -1 0 -1 2 -2 1 -2 1 -2 1 -2 1 -1 0 -1 1 -2 1 -1 0 -1 1 -2 1 -1 0 -1 1 -2 1 -1 0 -1 1 -2 1 -2 1 -2 1 -2 0 -1 1 -1 0 -2 1 -2 1 -2 1 -2 0 -1 0 -1 1 -2 1 -2 0 -1 0 -1 1 -2 1 -2 1 -2 0 -2 1 -2 1 -2 0 -2 1 -2 0 -1 0 -1 1 -2 0 -2 1 -2M126 190l-1 0 -1 2 1 2 1 1 2 1 2 -1 0 -1 0 -2 0 -1 -1 -1 -1 0 -2 0M60 236l0 -2 0 -2 1 -2 0 -2 0 -2 1 -2 0 -1 0 -1 1 -2 0 -2 0 -2 1 -2 0 -2 0 -2 0 -2 0 -2 0 -2 0 -2 0 -2 0 -2 0 -2 0 -2 0 -2 0 -1 0 -1 0 -2 0 -2 0 -2 0 -2 0 -2 0 -1 0 -1 0 -2 1 -2 0 -2 0 -2 1 -2 0 -1 0 -1 1 -2 0 -2 1 -2 0 -2 1 -2 0 -2 1 -2 0 -2 0 -2 0 -2 0 -2 0 -2 0 -2 0 -2 0 -2 0 -2 0 -2 0 -2 0 -2 0 -2 0 -2 0 -2 0 -2 0 -2 0 -2 0 -1 0 -1 0 -2 0 -2 0 -2 0 -2 -1 -2 0 -2 0 -2 0 -2 0 -2 0 -2 0 -2 0 -2 0 -2 0 -2 0 -2 0 -2 0 -2 0 -2 1 -2 0 -2 0 -2 0 -2 0 -1 0 -1 0 -2 0 -2 1 -2 0 -2 0 -2 0 -2 0 -2 0 -2 1 -2 0 -2 0 -2 0 -1 0 -1 0 -2 0 -2 1 -2 0 -2 0 -2 0 -2 0 -2 0 -2 0 -2 1 -2 0 -2 0 -2 0 -2 0 -2 0 -2 0 -2 0 -2 0 -2 0 -2 0 -2 0 -2 0 -2 0 -2M237 236l0 -2 -1 -2 0 -2 0 -2 0 -2 0 -2 0 -2 0 -2 0 -2 0 -2 1 -2 0 -2 0 -2 0 -2 0 -2 0 -2 0 -2 0 -2 0 -2 0 -2 0 -2 0 -2 0 -2 0 -2 -1 -2 0 -1 0 -1 -1 -2 -1 -2 0 -1 -1 -1 -1 -2 -2 -2 -2 -2 -2 -1 -1 -1 -1 0 -2 -2 -1 0 -1 -1 -2 -1 -2 -1 -1 -1 -1 -1 -2 -1 -2 -1 -2 -1 -2 -1 -2 -1 -2 -1 -2 0 -2 0 -2 0 -2 0 -2 0 -2 0 -2 1 -2 0 -2 1 -2 1 -2 1 -2 1 -1 0 -1 1 -2 1 -2 1 -2 1 -2 2 -2 1 -1 1 -1 1 -1 1 -1 1 -1 1 -1 2 -2 2 0 1 -1 1 -1 1 0 1 -2 2 0 1 -1 1 -1 2 -2 2 -1 2 -1 1 0 1 -2 2 -1 2 -1 2 -1 2 0 2 1 2 0 1 0 1 1 2 1 2 1 2 1 2 1 2 0 2 1 1 0 1 1 2 1 2 0 1 0 1 1 2 1 2 1 2 0 2"/><path stroke="#e67d57" d="M231 -2l0 2 0 2 0 2 0 2 0 2 0 2 0 2 1 2 0 1 1 1 1 2 2 2 2 1 2 1 2 1 1 1 1 1 1 1 1 1 1 1 1 2 0 1 0 1 1 2 1 2 0 1 0 1 1 2 0 2 0 2 1 2 0 1 0 1 1 2 0 2 1 2 1 2 1 2 0 1 1 1 1 2 1 2 1 1 1 1 1 1 1 1 1 1 0 1 2 2 2 2 1 2 1 1 1 1 1 2 1 2 1 1 0 1 2 2 2 2 2 1 2 1 2 0 2 -1 1 -1 1 0 2 -2 1 -2 1 -1 1 -1 1 -2 2 -2 0 -1 1 -1 1 -2 1 -2 1 -2 1 -2 1 -2 1 -2 1 -1 0 -1 1 -2 1 -1 0 -1 1 -2 1 -1 0 -1 1 -2 1 -2 1 -2 1 -2 1 -2 1 -2 1 -2 1 -2 0 -1 1 -1 1 -2 0 -1 0 -1 1 -2 1 -1 0 -1 1 -2 1 -2 1 -2 1 -2 0 -1 1 -1 0 -2 1 -2 1 -2 1 -2 0 -1 0 -1 1 -2 1 -2 0 -1 0 -1 1 -2 0 -2M66 236l0 -2 1 -2 0 -2 1 -2 0 -2 0 -2 1 -2 0 -2 1 -2 0 -2 0 -2 1 -2 0 -2 0 -2 0 -2 1 -2 0 -2 0 -2 0 -1 0 -1 0 -2 0 -2 0 -2 0 -2 0 -2 0 -2 0 -2 0 -2 0 -2 0 -2 0 -2 0 -2 0 -2 0 -2 0 -2 0 -2 0 -2 0 -1 0 -1 0 -2 0 -2 0 -2 1 -2 0 -2 0 -2 0 -2 0 -2 0 -2 0 -2 0 -2 0 -2 0 -2 0 -2 0 -2 0 -2 0 -2 0 -2 0 -2 0 -2 0 -2 0 -2 0 -2 0 -2 0 -2 0 -2 0 -2 0 -2 0 -2 -1 -2 0 -2 0 -2 0 -2 0 -2 0 -2 0 -2 0 -2 0 -2 0 -2 0 -2 0 -1 0 -1 0 -2 0 -2 0 -2 0 -2 0 -2 0 -2 1 -2 0 -2 0 -2 0 -2 0 -2 0 -2 0 -2 1 -2 0 -2 0 -2 0 -1 0 -1 0 -2 0 -2 1 -2 0 -2 0 -2 0 -2 0 -2 0 -2 1 -2 0 -2 0 -2 0 -1 0 -1 0 -2 0 -2 0 -2 1 -2 0 -2 0 -2 0 -2 0 -2 0 -2 0 -2 0 -2 0 -2M242 236l-1 -2 0 -2 0 -2 -1 -2 0 -2 0 -1 0 -1 0 -2 0 -2 0 -2 0 -2 0 -2 0 -2 0 -2 0 -2 0 -2 0 -1 0 -1 0 -2 0 -2 0 -2 0 -2 0 -2 0 -2 0 -2 0 -2 0 -2 -1 -2 0 -2 0 -2 -1 -2 -1 -2 -1 -2 -2 -2 -2 -2 -2 -2 -2 -1 -1 -1 -1 -1 -2 -1 -2 -1 -2 -1 -2 -2 -1 0 -1 -1 -2 -1 -2 -2 -1 0 -1 -1 -2 -1 -2 -1 -2 0 -2 -1 -1 0 -1 0 -2 0 -2 0 -1 0 -1 0 -2 0 -2 1 -2 0 -2 1 -2 1 -2 0 -1 1 -1 0 -2 1 -2 1 -2 1 -2 1 -2 1 -2 1 -2 1 -1 1 -1 1 -2 1 -2 2 -2 2 -1 2 -1 1 -1 1 -1 1 -1 1 -1 2 -2 2 -2 2 -1 2 -1 1 -1 1 -1 1 -2 1 -2 1 -2 1 -2 -1 -2 -1 -1 0 -1 -1 -2 0 -2 -1 -2 0 -2 1 -1 1 -1 1 -1 1 0 2 0 2 0 2 1 2 1 2 1 1 1 1 1 2 0 1 0 1 1 2 1 1 1 1 1 1 1 1 1 1 1 1 1 0 2 2 2 1 1 1 1 2 2 2 1 2 1 2 1 2 1 2 0 1 0 1 1 2 0 2"/><path stroke="#f18b61" d="M222 -2l-1 2 0 2 0 2 0 2 -1 2 0 2 0 1 0 1 0 2 0 2 -1 2 0 2 0 2 0 2 0 2 1 2 0 2 1 2 1 2 2 2 2 1 2 0 2 0 2 1 1 0 1 0 2 1 2 1 2 2 1 2 1 1 0 1 1 2 1 2 0 1 0 1 1 2 0 2 1 2 0 1 0 1 1 2 1 2 0 1 0 1 1 2 1 1 1 1 1 2 2 2 2 1 1 1 1 1 1 1 1 1 1 1 1 1 1 1 1 1 1 1 1 2 1 2 1 1 1 1 1 2 2 2 2 2 2 1 2 1 1 0 1 0 1 0 1 0 2 -1 2 -1 2 -1 1 -1 1 -1 1 -1 1 -1 1 -1 1 -2 1 -2 1 -1 1 -1 1 -2 1 -2 1 -2 1 -2 1 -2 1 -2 1 -2 1 -2 1 -1 0 -1 1 -2 1 -1 0 -1 1 -2 1 -1 0 -1 1 -2 1 -1 0 -1 1 -2 1 -1 0 -1 1 -2 1 -1 0 -1 1 -2 1 -1 0 -1 1 -2 1 -1 0 -1 1 -2 1 -1 0 -1 1 -2 1 -1 0 -1 1 -2 1 -2 1 -2 1 -2 1 -2 1 -2 1 -2 1 -2 0 -1 1 -1 0 -2 1 -2 1 -2 1 -2 0 -1 0 -1 1 -2 0 -2M73 236l0 -2 0 -2 1 -2 0 -2 0 -1 0 -1 1 -2 0 -2 0 -2 0 -2 1 -2 0 -2 0 -2 1 -2 0 -2 0 -2 0 -2 0 -2 1 -2 0 -2 0 -1 0 -1 0 -2 0 -2 1 -2 0 -2 0 -2 0 -2 0 -2 0 -2 0 -2 0 -2 0 -2 0 -2 -1 -2 0 -2 0 -1 0 -1 0 -2 -1 -2 0 -2 0 -2 0 -2 0 -2 0 -2 -1 -2 0 -2 0 -2 0 -2 0 -2 0 -2 0 -2 0 -2 0 -1 0 -1 0 -2 0 -2 0 -2 0 -2 0 -2 0 -2 0 -2 0 -2 0 -2 0 -2 0 -2 -1 -2 0 -2 0 -2 0 -2 0 -2 0 -2 0 -2 0 -2 0 -2 0 -2 0 -2 0 -2 0 -2 0 -2 0 -2 0 -2 0 -2 0 -2 0 -2 0 -2 0 -2 0 -2 0 -2 0 -2 0 -2 0 -2 0 -2 0 -2 1 -2 0 -2 0 -2 0 -2 0 -2 0 -2 1 -2 0 -2 0 -2 0 -2 0 -2 0 -2 1 -2 0 -2 0 -2 0 -1 0 -1 0 -2 0 -2 1 -2 0 -2 0 -2 0 -2 0 -2 0 -2 0 -2 0 -2 1 -2 0 -2 0 -2M247 236l-1 -2 0 -1 0 -1 -1 -2 0 -2 -1 -2 0 -1 0 -1 0 -2 -1 -2 0 -2 0 -2 0 -2 0 -2 0 -2 0 -2 0 -2 0 -2 0 -2 0 -2 0 -2 0 -2 0 -2 0 -2 0 -2 0 -2 0 -2 0 -2 0 -2 -1 -2 0 -2 -1 -2 0 -2 -1 -2 -1 -2 -1 -1 -1 -1 -1 -1 -1 -1 -1 -1 -1 -1 -1 0 -2 -2 -2 -1 -2 -1 -2 -1 -1 -1 -1 -1 -2 -1 -2 -1 -1 -1 -1 -1 -1 -1 -1 0 -2 -2 -2 -1 -2 -1 -2 -1 -2 0 -2 0 -2 0 -2 0 -2 0 -2 0 -2 1 -1 0 -1 0 -2 1 -2 1 -1 0 -1 0 -2 1 -2 1 -1 0 -1 0 -2 1 -2 1 -2 1 -2 1 -1 0 -1 1 -2 1 -1 0 -1 1 -2 1 -2 2 -2 1 -1 1 -1 1 -1 1 -1 1 0 1 -2 2 -2 2 -2 2 0 1 -1 1 -1 1 -1 1 -1 1 -1 1 -1 1 -2 1 -2 1 -2 1 -1 0 -1 0 -1 0 -1 0 -2 0 -2 0 -1 0 -1 0 -2 1 -2 1 -2 2 -1 2 -1 2 0 2 0 2 0 2 1 2 0 2 0 2 0 2 0 2 0 2 0 2 1 2 0 1 1 1 1 2 2 2 1 0 1 1 2 1 2 1 2 1 2 2 2 2 1 2 1 1 0 1 1 2 0 2"/><path stroke="#fb9a6c" d="M206 -2l1 2 1 2 1 2 0 2 0 2 1 2 0 2 0 2 0 2 0 2 0 2 0 2 0 2 -1 2 0 2 0 2 0 2 0 2 0 2 0 2 1 2 0 2 0 2 0 2 1 2 1 2 0 1 1 1 1 1 1 1 1 1 2 0 2 1 2 0 2 0 2 0 2 1 2 1 2 2 1 2 1 2 0 2 0 2 0 2 0 2 0 2 0 2 0 2 -1 2 0 2 0 2 0 2 0 2 1 1 1 1 1 0 2 0 2 0 2 0 2 -1 2 0 2 -1 2 0 2 0 2 1 2 1 1 0 1 1 1 1 1 1 1 1 1 1 1 1 1 1 1 1 1 1 1 1 1 1 1 1 1 0 2 2 1 0 1 0 2 1 2 0 2 0 2 -1 2 -1 2 -1 2 -1 1 -1 1 -1 1 -1 1 -1 1 -1 1 -1 1 -1 1 -2 1 -2 1 -1 0 -1 2 -2 0 -1 1 -1 1 -2 0 -1 1 -1 1 -2 1 -2 1 -2 1 -2 1 -2 1 -2 1 -2 1 -2 1 -2 1 -2 1 -2 1 -2 1 -2 1 -2 1 -2 1 -2 1 -2 1 -2 1 -1 0 -1 1 -2 1 -1 1 -1 1 -2 0 -1 1 -1 1 -2 0 -1 1 -1 1 -2 1 -2 1 -2 1 -2 1 -2 1 -2 1 -2 0 -1 1 -1 1 -2 0 -1 0 -1 1 -2 1 -2 1 -2 1 -2 0 -1 0 -1 1 -2M426 -2l0 2 1 2 0 2 0 2 1 2 1 2 1 2 1 2 1 0 2 2 1 0 1 0 2 1 2 0 2 -1 2 0 2 0 2 -1M82 236l-1 -2 0 -2 0 -2 0 -2 0 -2 0 -2 0 -2 0 -2 0 -2 0 -2 0 -2 0 -2 1 -2 0 -2 0 -2 0 -1 0 -1 0 -2 0 -2 1 -2 0 -2 0 -2 0 -2 0 -2 1 -2 0 -2 0 -2 0 -2 0 -2 0 -2 0 -2 0 -2 0 -2 0 -2 -1 -2 0 -2 0 -2 -1 -2 0 -2 0 -2 -1 -2 0 -2 0 -2 -1 -2 0 -2 0 -2 0 -2 -1 -2 0 -2 0 -2 0 -2 0 -2 0 -2 0 -2 0 -2 -1 -2 0 -2 0 -2 0 -2 0 -2 0 -2 0 -2 0 -2 0 -2 0 -2 0 -2 0 -2 0 -2 -1 -2 0 -2 0 -2 0 -2 0 -2 0 -2 0 -2 0 -2 0 -2 0 -2 0 -2 0 -2 0 -2 0 -2 0 -2 0 -2 0 -2 0 -2 0 -2 0 -2 0 -2 0 -2 0 -2 1 -2 0 -2 0 -2 0 -2 0 -2 0 -2 0 -2 1 -2 0 -2 0 -2 0 -2 0 -2 1 -2 0 -2 0 -2 0 -2 0 -2 1 -2 0 -2 0 -2 0 -2 0 -2 0 -2 1 -2 0 -2 0 -2 0 -2 0 -1 0 -1 0 -2M252 236l-1 -2 0 -2 -1 -1 0 -1 -1 -2 0 -2 -1 -2 -1 -2 0 -2 0 -2 -1 -2 0 -2 0 -1 0 -1 0 -2 0 -2 0 -2 0 -2 0 -2 0 -2 0 -2 0 -2 0 -2 0 -2 0 -2 0 -2 0 -2 0 -2 0 -2 0 -2 0 -2 0 -2 -1 -2 0 -2 -1 -2 -1 -2 -1 -2 -1 -2 -1 -1 -1 -1 -1 -1 -2 -1 -2 -1 -1 -1 -1 -1 -2 -1 -2 -1 -2 -1 -2 -2 -2 -1 -1 -1 -1 -1 -1 -1 -1 -1 -2 -1 -2 -2 -2 -1 -2 -1 -2 -1 -2 0 -2 -1 -2 0 -2 1 -2 0 -2 0 -2 1 -2 0 -2 1 -2 1 -2 1 -2 0 -2 1 -2 1 -2 0 -1 1 -1 0 -2 1 -2 1 -1 0 -1 0 -2 1 -1 1 -1 0 -2 1 -1 1 -1 0 -2 2 -2 1 -1 1 -1 1 -1 1 -1 1 -1 1 -1 1 -1 1 -1 1 -1 1 -1 2 -2 2 -2 2 -2 2 -2 2 -2 2 -2 1 -1 1 -1 0 -2 1 -2 0 -2 0 -2 1 -2 0 -2 1 -1 1 -1 1 -1 1 -1 1 -1 1 0 2 -1 2 0 2 -1 2 0 2 0 2 -1 2 0 1 0 1 -1 2 0 2 0 2 0 2 0 2 0 2 0 2 0 2 0 2 1 1 0 1 2 2 2 2 2 1 2 1 2 1 2 1 2 1 1 1 1 2"/><path stroke="#ffa570" d="M192 -2l0 2 0 2 1 2 1 2 0 1 1 1 1 2 0 1 0 1 1 2 1 1 0 1 1 2 1 2 0 2 0 2 1 2 0 2 0 2 0 2 0 2 0 2 0 2 0 2 0 2 0 2 0 2 0 2 0 2 0 2 -1 2 0 2 0 2 0 2 0 2 0 2 -1 2 0 2 0 2 0 2 -1 2 0 2 0 2 0 2 -1 2 0 2 1 2 0 2 0 1 0 1 1 2 1 2 2 2 0 1 1 1 1 1 1 1 1 2 2 2 0 1 1 1 1 2 1 2 1 2 1 2 1 1 2 1 2 1 2 0 2 -1 2 -1 2 -1 2 -1 2 -1 2 -1 1 -1 1 0 2 -2 1 0 1 -1 2 -1 2 -1 2 -1 2 -1 2 -1 1 0 1 0 2 0 2 0 2 1 2 1 1 0 1 1 1 1 1 0 2 2 2 1 2 1 2 1 2 0 2 0 2 0 2 0 2 -1 2 -1 2 -1 1 0 1 -1 2 -1 2 -2 1 0 1 -1 1 -1 1 -2 2 -2 1 -2 1 -1 1 -1 1 -2 1 -2 1 -2 1 -2 1 -2 1 -2 1 -2 1 -2 1 -2 1 -2 1 -2 1 -2 1 -2 1 -2 1 -1 0 -1 1 -2 1 -1 0 -1 2 -2 0 -1 1 -1 1 -2 0 -1 1 -1 1 -2 1 -2 1 -2 1 -2 1 -1 0 -1 2 -2 0 -1 1 -1 1 -2 1 -2 1 -2 1 -2 1 -2 1 -2 1 -1 0 -1 1 -2 1 -1 0 -1 1 -2 1 -1 0 -1 1 -2 1 -1 0 -1 1 -2 1 -2 1 -2 1 -2 1 -2 0 -2 1 -1 0 -1M411 -2l1 2 1 2 1 1 0 1 1 2 1 2 1 2 0 2 1 2 1 2 0 2 1 1 0 1 1 2 1 1 1 1 1 2 2 1 1 1 1 0 2 1 2 1 1 0 1 0 2 0 2 1 2 0 2 1 1 0 1 1 2 1 1 2 1 1M257 236l-1 -2 0 -1 0 -1 -1 -2 -1 -2 -1 -2 -1 -2 0 -1 0 -1 -1 -2 -1 -2 0 -2 0 -2 -1 -2 0 -2 0 -2 0 -2 0 -2 0 -2 0 -2 0 -2 0 -2 0 -2 0 -2 0 -2 0 -2 0 -2 0 -2 1 -2 0 -2 0 -2 0 -2 0 -2 -1 -2 0 -2 0 -2 -1 -2 0 -1 0 -1 -1 -2 -1 -1 -1 -1 -1 -2 -2 -2 -2 -1 -2 -1 -2 -1 -1 -1 -1 0 -2 -2 -1 0 -1 -1 -2 -1 -2 -2 -2 -2 -2 -2 -1 -2 -1 -1 -1 -1 -1 -1 0 -1 -2 -2 -2 -2 -2 -2 -1 0 -1 0 -2 0 -1 0 -1 0 -2 1 -2 1 -1 0 -1 0 -2 1 -1 1 -1 0 -2 1 -2 1 -2 1 -2 1 -2 1 -2 0 -1 1 -1 0 -2 1 -2 1 -2 1 -2 0 -1 1 -1 0 -2 1 -2 1 -2 1 -2 1 -2 1 -2 1 -2 1 -1 1 -1 1 -1 1 -1 1 -2 1 -1 2 -1 1 -1 1 -1 1 -1 1 -1 1 -1 1 -1 2 -2 2 -1 2 -1 1 -1 1 -1 1 -1 1 -1 0 -2 2 -2 1 -2 1 -2 1 -2 0 -2 1 -2 1 -2 1 -2 2 -2 2 -1 2 -1 2 -1 2 -1 2 0 1 0 1 -1 2 -1 2 0 2 -1 2 0 2 -1 2 0 2 -1 2 0 2 -1 2 -1 2 0 2 -1 2 0 1 -1 1 -1 2 0 1 -1 1 -1 1 -2 1 -2 0 -2 0 -2 -2 -2 -2 -1 -2 -1 -2 0 -1 0 -1 -1 -2 0 -2 0 -2 0 -2 0 -2 0 -2 0 -2 0 -2 0 -2 0 -2 0 -2 0 -2 0 -2 0 -2 0 -2 1 -2 0 -2 0 -2 0 -2 0 -1 0 -1 0 -2 0 -2 0 -2 0 -2 0 -2 0 -2 -1 -2 0 -2 0 -2 -1 -2 0 -2 -1 -2 0 -2 0 -2 -1 -2 0 -2 -1 -2 0 -2 0 -2 -1 -2 0 -2 0 -2 0 -2 -1 -2 0 -2 0 -2 0 -2 0 -2 0 -2 0 -2 0 -2 -1 -2 0 -2 0 -2 0 -2 0 -2 0 -2 0 -2 0 -2 0 -2 0 -2 0 -2 0 -2 -1 -2 0 -2 0 -2 0 -2 0 -2 0 -2 0 -2 0 -2 0 -2 0 -2 0 -2 0 -2 0 -2 0 -2 0 -2 0 -2 0 -2 0 -2 0 -2 1 -2 0 -2 0 -2 0 -2 0 -1 0 -1 0 -2 0 -2 1 -2 0 -2 0 -2 0 -2 0 -2 1 -2 0 -2 0 -2 0 -2 0 -2 1 -2 0 -2 0 -2 0 -2 0 -2 1 -2 0 -2 0 -2 0 -1 0 -1 0 -2 0 -2 1 -2"/><path stroke="#ffad70" d="M185 -2l0 2 0 2 0 2 1 2 0 2 0 1 0 1 1 2 0 2 1 2 0 1 0 1 1 2 1 2 1 2 0 2 1 2 0 2 1 2 0 2 0 2 1 2 0 2 0 2 0 2 0 2 0 2 0 2 -1 2 0 2 0 2 0 2 -1 2 0 1 0 1 0 2 -1 2 0 2 -1 2 0 1 0 1 -1 2 0 2 0 2 -1 2 0 2 -1 2 0 2 0 2 0 2 -1 2 0 2 0 2 0 2 0 2 1 2 0 2 0 2 1 2 1 2 1 2 0 1 0 1 1 2 0 2 0 2 0 2 -1 2 -1 2 -1 1 -1 1 -1 1 -1 1 -1 1 -1 1 -1 0 -2 2 -1 0 -1 1 -2 1 -2 1 -2 1 -2 1 -2 1 -2 1 -2 1 -2 1 -1 1 -1 0 -2 2 -2 1 -1 1 -1 1 -1 1 -1 1 -1 1 -1 1 -1 1 -1 1 -1 1 -1 1 -1 1 -1 1 0 1 -2 2 -2 2 0 1 -1 1 -1 1 -1 1 -1 1 -1 1 -1 1 -1 1 -1 1 -2 1 -2 1 -1 1 -1 0 -2 1 -2 1 -2 1 -1 1 -1 0 -2 2 -2 2 -2 2 0 1 -1 1 -1 2 -1 2 -1 2 0 1 -1 1 -1 2 0 1 0 1 -1 2 -1 2 -1 2 -1 2 -1 2 -1 1 -1 1 -1 1 -2 0 -1 -1 -1 0 -1 -2 0 -2 -1 -2 0 -2 0 -2 -1 -2 0 -2 0 -2 0 -2 0 -2 1 -2 0 -2 0 -2 0 -2 0 -2 0 -2 0 -2 0 -2 0 -2 0 -2 0 -2 0 -2 -1 -2 0 -2 0 -2 -1 -2 0 -2 0 -2 -1 -2 -1 -2 0 -1 0 -1 -1 -2 0 -2 -1 -2 0 -1 0 -1 -1 -2 0 -2 0 -2 -1 -2 0 -2 0 -2 0 -2 -1 -2 0 -2 0 -2 0 -2 0 -2 0 -2 0 -2 -1 -2 0 -2 0 -2 0 -2 0 -2 0 -2 0 -2 0 -2 0 -2 0 -2 0 -2 0 -2 0 -2 -1 -2 0 -2 0 -2 0 -2 0 -2 0 -2 0 -2 0 -2 0 -2 0 -2 0 -2 0 -2 0 -2 0 -2 0 -2 0 -2 1 -2 0 -2 0 -2 0 -2 0 -2 0 -2 0 -2 0 -2 1 -2 0 -2 0 -2 0 -2 0 -2 1 -2 0 -2 0 -1 0 -1 0 -2 1 -2 0 -2 0 -2 0 -2 0 -2 1 -2 0 -2 0 -1 0 -1 0 -2 1 -2 0 -2 0 -2M400 -2l1 2 1 2 1 2 1 1 1 1 1 2 0 1 1 1 1 2 1 2 1 2 0 1 1 1 0 2 1 2 1 2 1 2 0 1 1 1 1 2 1 2 1 1 1 1 1 1 1 1 1 1 2 1 2 1 2 0 2 1 2 1 2 1 1 0 1 1 2 1 2 2 1 2 1 1 1 1 0 2 1 1 0 1 1 2 1 2 1 2 1 2 0 1M263 236l-1 -2 0 -1 -1 -1 -1 -2 0 -1 -1 -1 -1 -2 -1 -2 -1 -2 0 -1 -1 -1 0 -2 -1 -2 -1 -2 0 -2 -1 -2 0 -2 0 -2 0 -2 0 -2 0 -2 0 -2 0 -2 0 -2 0 -1 0 -1 0 -2 0 -2 1 -2 0 -2 0 -2 0 -2 1 -2 0 -2 0 -2 0 -2 0 -1 0 -1 0 -1 0 -1 0 -2 0 -2 -1 -2 0 -2 -1 -2 0 -1 0 -1 -1 -2 -1 -1 -1 -1 -1 -2 -1 0 -1 -1 -1 -1 -1 -1 -2 -1 -1 0 -1 -1 -2 -1 -1 0 -1 -1 -2 -1 -2 -2 -1 -2 -1 -1 0 -1 -1 -2 0 -2 0 -2 1 -2 1 -2 1 -1 1 -1 1 -1 1 -1 1 -1 1 -1 1 -1 2 -1 2 -1 1 -1 1 0 2 -1 2 -1 1 0 1 0 2 0 2 0 2 1 2 1 1 0 1 1 2 0 2 1 1 0 1 0 2 0 2 0 2 0 2 -1 2 0 2 -1 2 -1 2 -1 1 0 1 -1 2 -1 2 -1 1 -1 1 -1 2 -1 2 -2 2 -2 0 -1 1 -1 1 -1 1 -1 1 -2 1 -2 1 -1 0 -1 1 -2 1 -1 0 -1 1 -2 1 -1 0 -1 1 -2 1 -1 0 -1 1 -2 1 -1 0 -1 1 -2 1 -1 0 -1 2 -2 0 -1 1 -1 1 -2 0 -1 1 -1 1 -2 1 -2 1 -2 1 -2 1 -1 0 -1 1 -2 1 -1 1 -1 1 -2 1 -2 1 -2 1 -2 1 -1 1 -1 1 -2 0 -1 1 -1 1 -2 1 -2 1 -1 0 -1 2 -2 0 -1 1 -1 1 -2 1 -2 1 -2 1 -2 1 -2 1 -2 1 -2 1 -2 1 -2 1 -2 1 -2 1 -2 1 -2 1 -2 1 -2"/><path stroke="#ffb670" d="M180 -2l0 2 0 2 0 2 0 2 0 2 0 1 0 1 0 2 1 2 0 2 0 2 1 2 0 2 0 2 1 2 1 2 0 2 1 2 0 2 1 2 0 2 0 2 1 2 0 2 0 2 0 2 0 2 0 2 0 2 -1 2 0 2 0 2 0 2 -1 2 0 2 0 2 -1 2 0 1 0 1 -1 2 0 2 0 2 -1 2 0 1 0 1 0 2 -1 2 0 2 0 2 -1 2 0 2 0 1 0 1 0 2 0 2 -1 2 0 2 0 2 0 2 0 2 0 2 0 2 0 2 -1 2 0 1 0 1 -1 2 -1 2 -1 2 -1 1 -1 1 -1 2 -2 1 -1 1 -1 1 -1 1 -1 1 -2 1 -2 1 -1 1 -1 1 -2 1 -2 2 -2 1 -1 1 -1 1 -1 1 -1 1 -1 1 -1 1 -1 1 -1 1 -1 1 -1 1 -1 1 -1 2 -2 2 -1 2 -1 1 -1 1 -1 1 -1 1 -1 1 0 1 -2 2 -1 0 -1 1 -1 1 -1 1 -2 1 -2 1 -2 1 -2 1 -2 1 -2 1 -1 1 -1 1 -2 1 -2 2 -2 2 -1 2 -1 1 -1 1 -1 1 -1 1 -1 2 -1 0 -1 1 -1 -1 -1 -1 0 -1 -1 -2 0 -2 0 -2 0 -2 0 -2 0 -2 0 -2 0 -2 -1 -2 0 -2 0 -2 0 -2 -1 -2 0 -2 0 -2 -1 -2 0 -2 -1 -2 -1 -2 0 -1 0 -1 -1 -2 -1 -2 0 -1 0 -1 -1 -2 0 -2 -1 -2 -1 -2 0 -2 0 -2 -1 -2 0 -2 0 -2 -1 -2 0 -2 0 -2 0 -2 0 -2 0 -2 0 -2 -1 -2 0 -2 0 -2 0 -2 0 -2 0 -2 0 -2 0 -2 0 -2 0 -2 0 -2 0 -2 0 -2 -1 -2 0 -2 0 -2 0 -2 0 -2 0 -2 0 -2 0 -2 0 -2 0 -2 0 -2 0 -2 0 -2 0 -2 0 -2 1 -2 0 -2 0 -2 0 -2 0 -2 0 -1 0 -1 0 -2 0 -2 1 -2 0 -2 0 -2 0 -2 0 -2 1 -2 0 -2 0 -2 0 -2 1 -2 0 -2 0 -2 0 -2 1 -2 0 -2 0 -2 0 -2 1 -2 0 -2 0 -2 0 -2M394 -2l1 2 1 2 0 1 1 1 1 2 0 1 1 1 1 2 0 1 1 1 1 2 0 1 1 1 1 2 0 1 0 1 1 2 1 2 1 2 1 2 0 1 0 1 1 2 1 2 1 2 1 2 2 2 2 2 2 2 2 1 2 1 2 1 2 1 2 1 2 1 2 1 1 1 1 1 1 1 1 1 1 1 1 2 1 2 1 2 1 2 1 2 0 1 1 1 1 2 0 1 1 1 1 2 2 2M271 236l-1 -1 -1 -1 -1 -2 -2 -2 0 -1 -1 -1 -1 -2 -1 -2 -1 -1 -1 -1 -1 -2 0 -1 -1 -1 -1 -2 0 -1 0 -1 -1 -2 -1 -2 0 -1 0 -1 0 -2 -1 -2 0 -2 0 -2 0 -2 0 -2 0 -2 1 -2 0 -2 0 -2 0 -2 1 -2 0 -2 1 -2 0 -2 0 -2 1 -2 0 -2 0 -2 1 -2 0 -2 0 -1 0 -1 0 -2 0 -2 0 -2 0 -2 0 -2 -1 -2 0 -2 0 -2 0 -2 -1 -2 0 -2 0 -1 0 -1 0 -2 0 -1 0 -1 1 -2 1 -1 1 -1 1 -1 1 -1 1 0 2 -2 2 -1 2 -1 2 -1 2 -1 2 -1 1 -1 1 0 2 -1 1 -1 1 -1 2 -1 2 -1 2 -1 2 -2 2 -1 1 -1 1 -1 1 -1 1 -1 1 -1 1 -2 2 -2 1 -2 1 -1 0 -1 2 -2 0 -1 1 -1 1 -2 1 -2 1 -2 1 -2 1 -2 1 -2 1 -2 1 -2 1 -2 1 -2 1 -2 1 -2 1 -2 1 -2 1 -1 0 -1 1 -2 1 -1 1 -1 1 -2 1 -2 1 -2 1 -2 1 -1 1 -1 1 -2 1 -2 1 -1 0 -1 2 -2 1 -2 1 -2 2 -2 0 -1 1 -1 1 -2 1 -2 1 -1 0 -1 2 -2 0 -1 1 -1 1 -2 1 -2 1 -2 1 -2 1 -1 0 -1 1 -2 1 -1 0 -1 1 -2 1 -1 0 -1 1 -2 1 -2 1 -2 1 -2 1 -2"/><path stroke="#ffbe70" d="M175 -2l0 2 0 2 0 2 0 2 0 2 0 2 0 2 0 2 0 2 1 2 0 2 0 2 0 1 0 1 0 2 1 2 0 2 0 2 1 2 0 1 0 1 1 2 0 2 0 2 1 2 0 2 0 2 0 1 0 1 0 2 0 2 0 2 0 2 0 2 0 2 -1 2 0 2 0 2 0 2 -1 2 0 2 0 1 0 1 0 2 -1 2 0 2 0 2 -1 2 0 2 0 1 0 1 0 2 -1 2 0 2 0 2 -1 2 0 2 0 1 0 1 0 2 -1 2 0 2 0 2 -1 2 0 2 -1 2 -1 2 -1 2 -1 2 -1 2 -1 1 -1 1 -1 1 -1 1 -1 1 -1 1 -1 1 -1 1 -1 0 -2 2 -2 2 -2 1 -1 1 -1 1 -1 1 -1 1 -1 1 -1 1 -1 1 -1 1 -1 1 -1 1 -1 1 -1 2 -2 2 -2 2 0 1 -1 1 -1 1 -1 1 -1 1 -1 1 -1 1 -1 1 -1 1 -1 1 -1 1 -2 1 -2 1 -2 1 -1 0 -1 1 -2 0 -2 1 -2 1 -2 0 -2 1 -2 -1 -2 -1 -1 -2 -1 -2 -1 -2 0 -2 -1 -2 0 -1 0 -1 -1 -2 -1 -2 0 -1 0 -1 -1 -2 -1 -2 -1 -2 -1 -2 0 -1 -1 -1 0 -2 -1 -2 -1 -2 0 -2 -1 -2 -1 -2 0 -2 0 -2 -1 -2 0 -1 0 -1 0 -2 -1 -2 0 -2 0 -2 0 -2 0 -2 -1 -2 0 -2 0 -2 0 -2 0 -2 0 -2 0 -2 0 -2 0 -2 0 -2 0 -2 0 -2 0 -2 0 -2 -1 -2 0 -2 0 -2 0 -2 0 -2 0 -2 0 -2 0 -2 0 -2 0 -2 0 -2 0 -2 0 -2 0 -2 0 -2 1 -2 0 -2 0 -2 0 -2 0 -2 0 -1 0 -1 0 -2 0 -2 1 -2 0 -2 0 -2 0 -2 0 -2 1 -2 0 -2 0 -1 0 -1 0 -2 1 -2 0 -2 0 -2 1 -2 0 -2 0 -1 0 -1 0 -2 1 -2 0 -2 0 -2 1 -2M389 -2l1 2 1 2 1 2 0 1 0 1 1 2 1 1 0 1 1 2 1 2 1 2 1 2 1 2 1 2 1 2 0 2 1 1 0 1 1 2 1 2 0 1 0 1 1 2 1 2 1 2 1 2 1 2 1 2 2 2 2 2 2 1 1 1 1 0 2 1 2 1 2 1 1 1 1 0 2 2 2 2 2 2 1 2 1 1 1 1 1 2 0 1 1 1 1 2 0 1 0 1 2 2 0 1 1 1 1 2 1 2 1 1 1 1 1 1 2 1M448 230l-2 2 -2 2 -2 2M312 236l-2 -1 -2 0 -2 0 -2 0 -2 0 -2 0 -2 0 -2 0 -2 0 -2 0 -2 0 -2 0 -2 0 -2 0 -2 -1 -2 0 -2 -1 -2 -1 -2 -2 -2 -2 -2 -2 -2 -2 -1 -2 -1 -1 -1 -1 -1 -2 -1 -2 -1 -2 -1 -2 0 -2 -1 -2 0 -2 -1 -2 0 -2 0 -2 0 -2 0 -2 0 -2 0 -2 1 -2 0 -1 0 -1 1 -2 0 -2 1 -2 1 -2 0 -2 1 -2 1 -2 1 -2 0 -1 0 -1 1 -2 1 -2 0 -2 0 -2 0 -2 0 -2 0 -2 0 -2 0 -2 0 -2 0 -2 0 -2 0 -2 1 -2 0 -2 1 -2 1 -2 1 -2 2 -2 2 -2 2 -2 2 -1 1 -1 1 -1 2 -1 2 -2 2 -1 1 -1 1 -1 2 -1 2 -2 2 -2 2 -2 2 -2 1 -2 1 -1 1 -1 1 -2 1 -2 1 -1 0 -1 1 -2 1 -1 0 -1 1 -2 1 -1 0 -1 1 -2 1 -1 0 -1 1 -2 1 -1 0 -1 1 -2 1 -1 0 -1 1 -2 1 -1 0 -1 2 -2 0 -1 1 -1 1 -2 1 -2 1 -1 0 -1 2 -2 0 -1 1 -1 1 -2 1 -2 1 -1 1 -1 1 -2 1 -2 1 -1 1 -1 1 -2 2 -2 0 -1 1 -1 1 -2 2 -2 0 -1 1 -1 1 -1 0 -1 2 -2 0 -1 1 -1 1 -2 1 -2 1 -1 1 -1 1 -2 1 -2 1 -2 1 -2 1 -2 1 -2 1 -2 1 -2 1 -2 1 -2 1 -2 1 -2 1 -2 0 -1 1 -1"/><path stroke="#fdd15f" d="M170 -2l0 1 0 1 0 2 0 2 0 2 0 2 0 2 0 2 1 2 0 2 0 2 0 2 0 2 0 2 0 2 0 2 0 2 0 2 1 2 0 2 0 2 0 1 0 1 0 2 0 2 1 2 0 2 0 2 0 2 0 2 0 2 0 2 0 2 0 2 0 2 0 2 0 2 0 2 0 2 0 2 0 2 0 2 0 2 -1 2 0 2 0 2 0 2 0 2 -1 2 0 2 0 2 -1 2 0 2 0 1 0 1 -1 2 0 2 0 2 -1 2 -1 2 0 2 -1 2 -1 2 -1 2 -1 2 -1 1 0 1 -2 2 -2 2 -2 2 -2 2 -2 2 -2 1 -1 1 -1 1 -1 1 -1 1 -1 1 -1 1 -1 1 -1 1 -1 1 -1 1 -1 1 -1 1 -1 1 -1 1 -1 1 -1 2 -2 2 -2 2 -2 2 -2 1 -1 1 -1 1 -2 1 -1 0 -1 0 -2 1 -2 0 -2 0 -2 -1 -1 0 -1 -1 -2 -1 -1 -2 -1 -1 -1 -1 -1 -2 -1 -2 -1 -1 0 -1 -2 -2 0 -1 -1 -1 -1 -2 -1 -2 -1 -2 -1 -2 -1 -2 -1 -2 -1 -2 0 -1 0 -1 -1 -2 0 -2 -1 -2 0 -2 0 -2 -1 -2 0 -2 0 -2 0 -2 -1 -2 0 -2 0 -2 0 -2 0 -1 0 -1 0 -2 0 -2 0 -2 0 -2 0 -2 0 -2 0 -2 -1 -2 0 -2 0 -2 0 -2 0 -2 0 -2 0 -2 0 -2 0 -2 0 -2 0 -2 0 -2 0 -2 0 -2 0 -2 0 -2 0 -2 0 -2 1 -2 0 -2 0 -2 0 -2 0 -2 0 -2 0 -2 1 -2 0 -2 0 -2 0 -2 0 -2 1 -2 0 -2 0 -1 0 -1 0 -2 1 -2 0 -2 0 -2 1 -2 0 -2 0 -2 1 -2 0 -2 0 -2 1 -2 0 -1 0 -1M384 -2l0 1 1 1 1 2 0 1 1 1 1 2 0 1 1 1 1 2 0 1 1 1 1 2 0 1 1 1 1 2 0 1 1 1 0 2 1 1 0 1 1 2 1 2 1 2 0 2 1 2 1 2 0 2 1 2 1 2 1 2 0 1 0 1 1 2 1 1 0 1 2 2 0 1 1 1 1 1 1 1 1 0 2 2 2 1 2 1 2 1 2 1 2 1 1 1 1 1 1 1 1 1 0 1 2 2 1 2 1 2 1 2 1 2 1 2 1 2 1 2 1 2 1 2 1 1 1 1 1 1 1 1 1 1 1 1 1 1 1 1 1 0M448 214l-1 2 -1 1 -1 1 -1 1 -1 1 -1 1 -1 1 -1 1 -2 1 -2 1 -1 1 -1 1 -2 0 -2 1 -2 1 -2 0 -2 0 -2 0 -2 0 -2 0 -2 1 -2 0 -1 0 -1 0 -2 0 -2 1 -2 0 -2 1 -2 0 -2 1 -2 0 -2 1 -2 0 -2 1 -2 0 -2 1 -1 0M368 236l-2 -1 -2 -1 -1 0 -1 0 -2 -1 -2 0 -2 -1 -2 0 -2 0 -2 0 -2 0 -2 1 -2 0 -2 0 -2 1 -2 0 -1 0 -1 0 -2 0 -2 0 -2 0 -2 0 -1 0 -1 0 -2 0 -2 -1 -2 0 -2 -1 -1 0 -1 0 -2 -1 -2 0 -2 0 -2 0 -2 -1 -2 0 -2 0 -2 0 -2 0 -2 0 -2 0 -2 0 -2 0 -2 0 -1 0 -1 0 -2 -1 -2 0 -2 -1 -2 -1 -1 -1 -1 -1 -1 -1 -1 0 -1 -2 -1 -1 -1 -1 -1 -1 -1 -1 -1 -2 -1 -2 -1 -2 -1 -2 -1 -2 0 -2 -1 -2 0 -2 0 -2 0 -2 0 -2 0 -2 1 -2 0 -1 0 -1 1 -2 1 -2 1 -2 1 -2 1 -2 1 -1 0 -1 2 -2 2 -2 0 -1 1 -1 1 -1 1 -1 1 -1 1 -1 1 -2 1 -2 0 -2 0 -2 0 -2 -1 -2 0 -1 0 -1 -1 -2 -1 -2 0 -1 0 -1 0 -2 0 -2 0 -2 0 -1 0 -1 1 -2 1 -2 1 -2 1 -1 1 -1 1 -1 1 -1 1 -1 1 -1 1 -1 1 -1 1 0 2 -2 2 -2 2 -2 1 0 1 -1 1 -1 1 -2 2 -2 2 -2 0 -1 1 -1 1 -2 1 -2 1 -1 0 -1 1 -2 1 -1 0 -1 1 -2 1 -1 0 -1 1 -2 1 -2 1 -2 1 -2 1 -2 1 -2 1 -2 1 -1 0 -1 2 -2 0 -1 1 -1 1 -2 1 -2 1 -1 1 -1 1 -2 1 -2 1 -1 1 -1 1 -2 2 -2 0 -1 1 -1 1 -1 0 -1 2 -2 1 -2 1 -1 1 -1 1 -1 1 -1 1 -2 2 -2 0 -1 1 -1 1 -1 1 -1 1 -2 1 -2 1 -1 1 -1 1 -2 1 -2 1 -2 1 -2 1 -2 1 -2 1 -2 1 -2 1 -2 1 -2 1 -2 1 -2 1 -2 0 -1 1 -1 1 -2 0 -1 1 -1 1 -2 0 -1 1 -1"/><path stroke="#f9e64a" d="M164 -2l0 2 1 2 0 2 0 2 0 2 1 2 0 2 0 2 0 2 0 1 0 1 0 2 0 2 0 2 0 2 0 2 0 2 0 2 0 2 0 2 0 2 0 2 0 2 0 2 0 2 0 2 0 2 0 2 1 2 0 2 0 2 0 2 0 2 0 2 0 2 0 2 1 2 0 2 0 2 0 2 0 2 0 2 0 2 0 2 0 2 -1 2 0 2 0 2 0 2 0 2 -1 2 0 2 0 2 -1 2 0 2 -1 2 -1 2 0 2 -1 2 -1 2 -1 2 -1 2 -1 1 -1 1 -1 2 -2 2 -2 2 -2 2 -2 1 -1 1 -1 1 -1 1 -1 1 -2 1 -2 2 -2 2 -2 2 -2 1 -1 1 -1 1 -1 1 -1 1 -1 1 -1 1 -2 1 -2 1 -2 1 -2 0 -2 0 -2 -1 -2 0 -1 -1 -1 0 -2 -2 -1 0 -1 -1 -1 -1 -1 -1 -1 -1 -1 -1 -1 -1 -1 -1 -1 -1 -1 -1 0 -1 -2 -2 -1 -2 -1 -2 -1 -2 -1 -2 0 -1 0 -1 -1 -2 -1 -2 0 -2 0 -2 -1 -2 0 -2 0 -2 0 -2 -1 -2 0 -2 0 -2 0 -2 0 -2 0 -2 0 -2 0 -2 0 -2 -1 -2 0 -2 0 -2 0 -2 0 -2 0 -2 0 -2 0 -2 0 -2 0 -2 0 -2 0 -2 0 -2 0 -2 0 -2 0 -2 0 -2 0 -2 0 -2 1 -2 0 -2 0 -2 0 -2 0 -2 0 -2 0 -2 0 -2 0 -2 1 -2 0 -2 0 -2 0 -2 1 -2 0 -2 0 -1 0 -1 1 -2 0 -2 0 -2 1 -2 0 -2 0 -1 0 -1 1 -2 0 -2 0 -2 1 -2 0 -1 0 -1 1 -2M448 144l0 2 -1 2 0 2 -1 2 0 2 0 2 -1 2 0 2 0 2 -1 2 0 2 0 2 0 1 0 1 0 2 0 2 0 2 0 2 0 2 0 2 0 2 0 2 0 2 0 1 0 1 0 2 -1 2 0 2 -1 2 0 1 0 1 -1 2 -1 1 0 1 -2 2 -1 2 -1 1 -1 1 -1 1 -2 1 -2 2 -2 1 -1 1 -1 1 -2 1 -2 1 -2 1 -2 1 -2 1 -2 1 -2 0 -2 1 -2 1 -2 0 -2 1 -2 1 -2 0 -2 1 -1 0 -1 0 -2 1 -2 0 -2 1 -2 0 -2 0 -2 1 -2 0 -2 0 -2 0 -2 0 -2 0 -2 -1 -2 0 -2 -1 -2 0 -2 -1 -2 0 -2 0 -2 0 -2 -1 -2 0 -2 1 -2 0 -1 0 -1 0 -2 0 -2 1 -2 0 -2 0 -2 1 -2 0 -2 0 -2 0 -2 0 -2 -1 -2 0 -2 0 -2 0 -2 -1 -1 0 -1 0 -2 0 -2 -1 -2 0 -2 0 -2 0 -2 0 -2 0 -2 0 -2 0 -2 0 -2 0 -2 0 -2 -1 -2 0 -1 0 -1 0 -2 -1 -2 0 -1 -1 -1 0 -2 -1 -1 -1 -1 -1 -1 -1 -1 -1 -1 -1 -1 -1 -1 -1 -1 -2 -1 -2 -1 -2 -1 -2 -1 -2 0 -2 0 -2 0 -2 0 -2 0 -2 0 -2 1 -2 1 -2 0 -1 1 -1 1 -2 1 -2 1 -1 1 -1 1 -1 1 -1 1 -1 1 -1 1 -1 1 -1 1 -1 2 -1 2 -2 2 -2 2 -2 2 -2 0 -1 1 -1 1 -2 1 -2 1 -2 0 -2 0 -2 0 -1 0 -1 -1 -2 -1 -2 -1 -2 -1 -1 -1 -1 -1 -2 0 -2 0 -2 1 -2 1 -2 2 -2 2 -2 1 -2 1 -1 1 -1 1 -1 1 -1 1 -1 1 -1 1 -2 2 -2 0 -1 1 -1 1 -2 1 -2 1 -1 0 -1 1 -2 1 -2 1 -2 1 -2 1 -2 1 -2 1 -2 1 -2 0 -1 1 -1 1 -2 0 -1 1 -1 1 -2 1 -2 1 -2 1 -2 1 -1 1 -1 1 -2 2 -2 0 -1 1 -1 1 -1 1 -1 1 -2 2 -2 1 -2 1 -1 1 -1 1 -1 1 -1 1 -1 1 -1 1 -2 2 -2 2 -2 0 -1 1 -1 1 -1 1 -1 1 -2 1 -2 1 -1 1 -1 1 -2 1 -2 1 -2 1 -2 1 -2 1 -2 1 -2 1 -2 1 -2 0 -1 1 -1 1 -2 0 -1 1 -1 1 -2 0 -1 1 -1 1 -2 1 -2 1 -2 2 -2 2 -1 2 0 2 0 1 1 1 1 1 1 1 2 2 2 1 2 1 2 1 2 1 1 0 1 1 2 1 1 0 1 1 2 1 2 1 2 1 2 0 1 0 1 1 2 1 2 0 1 0 1 1 2 1 2 0 2 1 2 1 2 0 1 0 1 1 2 1 2 1 2 1 1 1 1 1 1 1 1 1 1 2 1 2 1 1 1 1 0 2 1 1 1 1 1 2 1 2 2 1 2 1 1 1 1 1 2 0 1 1 1 1 2 0 1 0 1 1 2 1 2 1 2 1 2 1 2 1 2 2 2 0 1 1 1 1 1 1 1 1 1 1 1 1 1 1 1 1 1 1 1 1 2"/><path stroke="#f3f347" d="M155 -2l1 2 1 2 1 1 0 1 1 2 1 2 0 1 0 1 0 2 1 2 0 2 0 2 0 2 0 2 0 2 0 2 0 2 0 2 0 2 0 2 0 2 0 2 0 2 0 2 0 2 0 2 0 2 0 2 0 2 0 2 0 2 0 2 0 2 0 2 0 2 0 2 0 2 1 2 0 2 0 2 0 2 0 2 1 2 0 2 0 2 0 2 0 2 0 2 0 2 0 2 -1 2 0 2 0 2 -1 2 0 2 -1 2 0 1 0 1 -1 2 -1 2 -1 2 -1 2 -1 2 -1 1 -1 1 -1 1 -1 1 -1 1 -1 1 -1 1 -1 1 -1 1 -1 1 -1 1 -2 1 -2 1 -1 1 -1 1 -2 1 -2 1 -1 1 -1 1 -2 1 -1 0 -1 1 -2 0 -2 1 -2 0 -2 0 -2 0 -2 0 -2 0 -2 0 -2 -1 -2 -1 -2 -1 -1 -1 -1 0 -2 -2 -1 -2 -1 -1 -1 -1 -1 -2 -1 -2 -1 -2 -1 -2 0 -2 -1 -2 0 -2 -1 -2 0 -2 0 -2 -1 -2 0 -2 0 -2 0 -2 0 -2 0 -2 0 -2 -1 -2 0 -2 0 -2 0 -2 0 -2 0 -2 0 -2 0 -2 0 -2 0 -2 0 -2 0 -2 0 -2 0 -2 0 -2 0 -2 0 -2 0 -2 1 -2 0 -2 0 -2 0 -2 0 -2 0 -2 0 -2 0 -2 0 -1 0 -1 0 -2 0 -2 1 -2 0 -2 0 -2 0 -2 0 -2 1 -2 0 -2 0 -2 1 -2 0 -2 0 -2 1 -2 0 -1 0 -1 1 -2 0 -2 1 -2 0 -2 1 -2 0 -2 1 -2M375 16l1 -1 2 0 2 0 2 1 2 2 1 2 1 1 1 1 1 2 1 2 1 1 0 1 1 2 1 2 1 2 1 2 0 1 0 1 1 2 1 2 0 2 1 2 0 2 1 2 1 2 0 2 1 2 1 2 0 2 1 1 0 1 2 2 0 1 1 1 1 1 1 1 1 1 2 1 2 2 1 0 1 1 2 1 2 2 2 2 2 2 1 2 1 1 0 1 1 2 1 2 1 2 1 2 0 1 0 1 1 2 1 2 0 1 0 1 1 2 1 2 1 2 1 2 1 2 1 1 1 1 1 2 1 2 1 1 0 1 1 2 1 2 0 1 0 1 1 2 0 2 0 2 0 2 -1 2 0 2 0 2 0 2 -1 2 0 2 0 2 -1 2 0 2 0 2 -1 2 0 2 0 2 -1 2 0 2 0 1 0 1 0 2 -1 2 0 2 0 2 0 2 0 2 -1 2 0 2 0 1 0 1 0 2 -1 2 0 2 -1 2 0 1 0 1 -1 2 -1 2 0 1 0 1 -1 2 -1 1 0 1 -2 2 -1 2 -1 1 -1 1 -1 1 -1 1 -1 1 -1 1 -1 1 -2 1 -2 2 -2 1 -2 1 -2 1 -2 1 -2 1 -2 0 -2 1 -2 1 -2 0 -2 1 -1 0 -1 0 -2 1 -2 0 -2 0 -2 0 -2 1 -2 0 -2 0 -2 0 -2 0 -2 -1 -2 0 -2 0 -2 -1 -2 0 -1 0 -1 0 -2 0 -2 0 -2 0 -2 0 -2 0 -2 0 -1 0 -1 0 -2 0 -2 1 -2 0 -2 0 -2 1 -2 0 -2 0 -2 0 -2 0 -2 0 -2 0 -2 -1 -2 0 -2 0 -2 0 -2 -1 -2 0 -2 0 -2 0 -2 0 -2 0 -2 -1 -2 0 -2 0 -2 0 -2 0 -2 0 -2 0 -2 0 -2 -1 -1 0 -1 0 -2 -1 -2 -1 -2 -1 -1 -1 -1 -1 -1 -1 -1 -1 -1 -1 -1 -2 -1 -2 -1 -1 0 -1 -1 -2 0 -2 -1 -2 0 -2 0 -2 1 -2 0 -2 1 -2 1 -2 1 -1 1 -1 1 -2 2 -2 2 -2 2 -2 2 -2 2 -2 1 0 1 -1 1 -1 1 -1 1 -1 1 -1 1 -1 1 -1 1 -1 1 -1 0 -1 2 -2 1 -2 1 -1 1 -1 1 -2 0 -1 1 -1 0 -2 1 -2 0 -2 1 -2 0 -2 0 -2 0 -2 0 -2 0 -2 0 -2 0 -2 1 -2 1 -2 0 -2 1 -2 1 -2 1 -2 0 -1 0 -1 1 -2 1 -2 1 -2 0 -2 1 -2 1 -2 1 -2 0 -1 1 -1 0 -2 1 -2 1 -2 1 -2 1 -2 1 -2 1 -2 1 -1 1 -1 1 -2 1 -2 1 -1 1 -1 1 -2 2 -2 2 -2 1 -2 1 -1 1 -1 1 -1 1 -1 1 -1 1 -1 1 -1 1 -1 1 -2 2 -2 1 -2 1 -1 1 -1 1 -2 2 -2 0 -1 1 -1 1 -2 1 -2 1 -2 1 -2 1 -2 1 -2 1 -2 1 -2 1 -2 1 -2 1 -2 1 -2 1 -2 1 -2 1 -2 1 -2 1 -1 1 -1 1 -1 1 -1"/><path stroke="#e8fa55" d="M137 -2l1 1 1 1 1 1 1 1 1 0 2 2 2 1 2 1 2 2 2 2 1 2 1 2 1 2 0 2 1 2 0 2 0 2 0 2 0 2 0 2 0 2 0 2 0 2 0 2 0 2 0 2 0 2 0 2 0 2 -1 2 0 2 0 2 0 2 0 2 0 2 0 2 0 2 0 2 0 2 1 2 0 2 0 1 0 1 0 2 1 2 0 2 0 2 1 2 0 2 0 2 0 1 0 1 0 2 0 2 0 2 -1 2 0 2 0 2 -1 2 -1 2 0 2 -1 2 -1 2 -1 1 -1 1 -1 2 -2 2 -2 2 -2 2 -2 2 -1 0 -1 1 -2 1 -2 1 -2 1 -2 1 -2 1 -1 0 -1 0 -2 1 -2 0 -2 1 -2 0 -1 0 -1 0 -2 0 -2 0 -2 0 -2 0 -2 -1 -2 -1 -1 0 -1 -1 -1 -1 -1 -1 -1 -1 -1 -1 0 -1 -1 -2 -1 -1 0 -1 -1 -2 -1 -2 0 -1 0 -1 -1 -2 0 -2 0 -2 -1 -2 0 -2 0 -2 0 -2 0 -2 -1 -2 0 -2 0 -2 0 -2 0 -2 0 -2 0 -2 0 -2 0 -2 0 -2 0 -2 1 -2 0 -2 0 -2 0 -2 0 -2 0 -2 0 -2 0 -2 0 -2 0 -2 0 -2 0 -2 0 -2 0 -2 0 -1 0 -1 0 -2 0 -2 0 -2 1 -2 0 -2 0 -2 0 -2 1 -2 0 -2 0 -2 0 -2 1 -2 0 -2 1 -2 0 -2 0 -2 1 -2 0 -2 1 -2 0 -2 1 -2 1 -2 0 -1 0 -1 1 -2M376 24l2 -1 2 0 2 1 2 2 2 2 1 2 1 1 0 1 1 2 1 1 0 1 1 2 1 2 0 1 0 1 1 2 1 2 0 1 0 1 1 2 0 2 1 2 1 2 0 2 1 2 0 1 0 1 1 2 1 2 1 2 1 2 1 2 1 1 1 1 1 1 1 1 1 0 2 2 2 1 1 1 1 1 1 1 1 1 1 1 1 1 0 1 2 2 0 1 1 1 0 2 1 2 1 2 0 2 1 2 0 1 0 1 1 2 0 2 1 2 0 1 0 1 1 2 0 2 1 2 1 2 1 2 0 1 0 1 1 2 1 2 0 1 0 1 1 2 0 2 1 2 0 2 0 1 0 1 0 2 0 2 0 2 0 2 0 1 0 1 0 2 0 2 0 2 -1 2 0 2 0 2 0 2 0 2 0 2 0 2 -1 2 0 2 0 2 0 2 0 2 -1 2 0 2 0 2 -1 2 0 2 -1 2 -1 2 0 1 0 1 -1 2 -1 2 -1 2 -1 1 0 1 -2 2 -1 2 -1 1 -1 1 -1 1 -1 1 -1 0 -2 2 -2 1 -1 1 -1 1 -2 1 -1 0 -1 1 -2 1 -1 0 -1 0 -2 1 -2 0 -2 1 -1 0 -1 0 -2 1 -2 0 -2 0 -2 0 -2 0 -2 0 -2 0 -2 0 -2 0 -2 0 -2 0 -2 0 -2 0 -2 -1 -2 0 -2 0 -2 0 -2 0 -2 0 -2 0 -2 1 -2 0 -2 0 -2 1 -2 0 -2 0 -2 0 -2 0 -2 1 -2 0 -2 -1 -2 0 -2 0 -2 0 -2 0 -2 0 -2 -1 -2 0 -2 0 -2 0 -2 0 -2 0 -2 0 -2 -1 -2 0 -2 0 -2 0 -2 0 -1 0 -1 0 -2 0 -2 -1 -2 0 -1 -1 -1 0 -2 -1 -1 -1 -1 -1 -2 -1 -1 -2 -1 -1 -1 -1 -1 -2 0 -1 0 -1 -1 -2 0 -2 0 -2 0 -2 1 -2 0 -1 0 -1 1 -2 1 -1 0 -1 2 -2 2 -2 1 -2 1 -1 1 -1 1 0 2 -2 2 -2 2 -2 2 -2 2 -2 2 -2 2 -2 2 -2 2 -2 1 -2 1 -1 1 -1 1 -2 1 -2 1 -2 1 -2 1 -2 0 -1 0 -1 1 -2 0 -2 1 -2 0 -2 0 -2 1 -2 0 -2 0 -2 0 -2 1 -2 0 -1 0 -1 1 -2 0 -2 1 -2 0 -1 0 -1 1 -2 0 -2 1 -2 1 -2 0 -2 1 -2 1 -2 1 -2 1 -2 1 -2 1 -2 1 -2 2 -2 0 -1 1 -1 1 -1 0 -1 2 -2 2 -2 1 -2 1 -1 1 -1 1 -1 1 -1 1 -1 0 -1 2 -2 2 -2 0 -1 1 -1 1 -1 0 -1 2 -2 1 -2 1 -2 1 -2 1 -1 0 -1 1 -2 1 -1 1 -1 1 -2 0 -1 0 -1 1 -2 1 -1 0 -1 1 -2 1 -1 0 -1 1 -2 1 -2 1 -2 1 -2 1 -2 1 -1 0 -1 2 -2 1 -2 1 -1 2 -1"/><path stroke="#dcff65" d="M125 -2l1 2 2 2 0 1 1 1 1 1 1 1 1 2 2 1 1 1 1 1 2 1 2 1 1 1 1 1 2 1 2 2 2 2 0 1 1 1 0 2 1 2 0 2 1 2 0 2 0 2 0 2 0 2 0 2 0 2 0 2 0 2 0 2 -1 2 0 2 0 2 0 2 0 1 0 1 0 2 0 2 0 2 0 2 0 2 0 2 0 2 1 2 0 2 0 2 0 2 1 2 0 2 0 2 0 2 1 2 0 2 0 2 -1 2 0 2 0 1 0 1 -1 2 0 2 -1 2 -1 2 -1 1 0 1 -2 2 -2 2 -2 2 -2 2 -2 1 -2 1 -2 1 -2 1 -2 1 -2 0 -2 1 -2 0 -2 1 -2 0 -2 1 -2 0 -2 0 -2 0 -2 0 -2 0 -2 -1 -1 -1 -1 -1 -1 -1 -1 -1 -1 -1 -1 -2 -1 -2 0 -2 -1 -2 -1 -2 0 -2 0 -2 -1 -2 0 -2 0 -2 0 -2 0 -2 -1 -2 0 -2 0 -2 0 -2 0 -2 0 -2 0 -2 0 -2 1 -2 0 -2 0 -2 0 -2 0 -2 0 -2 0 -2 0 -2 0 -2 0 -2 0 -2 0 -2 0 -2 0 -2 0 -2 0 -2 1 -2 0 -2 0 -2 0 -2 0 -2 0 -2 1 -2 0 -2 0 -2 0 -2 1 -2 0 -2 0 -2 1 -2 0 -2 1 -2 0 -2 1 -2 1 -2 0 -2 1 -2 1 -2 1 -2 1 -2 1 -2M375 32l1 -1 2 -1 2 0 2 1 1 1 1 1 1 1 1 1 0 1 2 2 0 1 0 1 1 2 1 2 1 2 0 2 1 2 1 2 0 2 1 2 0 2 1 2 0 2 1 2 0 1 0 1 1 2 1 2 0 1 1 1 1 2 0 1 1 1 1 2 1 2 1 1 1 1 1 1 1 1 1 0 2 2 2 2 1 2 1 1 1 1 1 2 0 1 0 1 1 2 1 2 0 1 0 1 1 2 0 2 1 2 0 2 0 1 0 1 0 2 1 2 0 2 1 2 0 2 0 2 1 2 0 2 1 2 1 2 0 2 1 2 0 1 0 1 1 2 0 2 0 2 1 2 0 1 0 1 0 2 0 2 1 2 0 2 0 2 0 2 0 2 0 2 0 2 0 2 0 2 -1 2 0 2 0 2 0 2 -1 2 0 2 0 2 -1 2 0 1 0 1 -1 2 -1 2 0 1 0 1 -1 2 -1 1 0 1 -2 2 0 1 -1 1 -1 1 -1 1 -1 2 -2 2 -2 1 -1 1 -1 1 -2 1 -2 1 -2 1 -2 1 -2 0 -2 1 -2 0 -2 1 -2 0 -2 0 -2 1 -2 0 -2 0 -2 0 -2 0 -2 0 -2 0 -2 0 -2 -1 -2 0 -2 0 -2 0 -2 0 -2 0 -2 0 -2 0 -2 0 -2 0 -2 1 -2 0 -2 0 -2 1 -2 0 -2 0 -2 0 -2 0 -2 0 -2 0 -2 0 -2 0 -2 0 -2 0 -2 0 -2 0 -2 -1 -2 0 -2 0 -2 0 -2 0 -2 0 -2 0 -2 0 -2 -1 -2 0 -2 0 -2 0 -2 0 -2 -1 -2 -1 -2 0 -1 -1 -1 -1 -2 -1 -2 -2 0 -1 -1 -1 -1 -2 0 -1 0 -1 -1 -2 0 -2 1 -2 0 -2 1 -2 1 -2 1 -2 1 -1 1 -1 1 -2 2 -2 2 -2 2 -2 2 -2 2 -1 1 -1 1 -1 1 -1 1 -1 1 -1 1 -1 1 -1 1 -1 1 -1 1 -1 1 -1 1 -1 1 -1 1 -1 1 -1 1 -2 2 -2 1 -2 1 -2 1 -2 1 -2 1 -2 0 -2 1 -2 0 -2 1 -2 0 -2 0 -2 1 -2 0 -2 0 -1 0 -1 0 -2 1 -2 0 -2 1 -2 0 -2 1 -2 0 -2 1 -2 0 -1 0 -1 1 -2 1 -2 1 -2 1 -2 1 -2 1 -2 1 -2 1 -1 1 -1 1 -2 1 -2 1 -1 1 -1 1 -1 0 -1 2 -2 1 -2 1 -1 1 -1 1 -2 2 -2 0 -1 1 -1 1 -2 1 -2 1 -1 0 -1 1 -2 1 -1 0 -1 1 -2 1 -1 0 -1 1 -2 1 -1 0 -1 1 -2 1 -1 0 -1 1 -2 1 -2 1 -2 1 -2 1 -2 1 -2 1 -2 1 -2 1 -2 1 -1 1 -1 1 -1 1 -1"/><path stroke="#ccff7a" d="M110 6l2 -1 2 -1 2 0 2 2 1 0 1 1 1 1 1 2 2 2 1 2 1 1 1 1 1 1 1 1 1 1 2 1 2 1 1 1 1 1 2 1 2 2 2 2 1 2 1 2 1 2 0 2 0 2 0 2 1 2 0 2 0 2 0 2 0 2 -1 2 0 2 0 2 0 2 0 2 0 2 0 2 0 2 0 2 0 2 0 2 0 2 1 2 0 2 0 2 0 1 0 1 0 2 1 2 0 2 0 2 0 2 0 2 -1 2 0 2 -1 2 0 2 -1 2 -1 2 -1 1 -1 1 -1 1 -1 1 -1 1 -1 1 -1 1 -2 1 -2 1 -2 1 -2 1 -2 1 -1 0 -1 0 -2 1 -2 1 -2 0 -2 0 -2 1 -2 0 -2 0 -2 -1 -2 -1 -1 -1 -1 -1 -1 -1 -1 -2 -1 -2 -1 -2 0 -1 0 -1 -1 -2 0 -2 -1 -2 0 -2 0 -2 0 -2 0 -2 -1 -2 0 -2 0 -2 0 -2 0 -2 1 -2 0 -2 0 -2 0 -2 0 -2 0 -2 0 -1 0 -1 0 -2 0 -2 0 -2 0 -2 1 -2 0 -2 0 -2 0 -2 0 -2 0 -2 0 -2 0 -2 0 -2 1 -2 0 -2 0 -2 0 -2 1 -2 0 -2 0 -2 1 -2 0 -2 0 -2 1 -2 0 -2 1 -2 1 -2 1 -2 0 -1 0 -1 1 -2 1 -1 1 -1 1 -2M376 38l2 -1 2 0 2 1 1 0 1 1 0 1 2 2 0 1 1 1 1 2 0 1 0 1 1 2 1 2 0 1 0 1 1 2 0 2 1 2 0 1 0 1 1 2 0 2 1 2 1 2 0 2 1 2 0 1 0 1 1 2 1 2 1 2 1 1 1 1 1 2 1 2 1 1 1 1 1 1 1 1 1 2 2 2 0 1 1 1 1 2 0 1 0 1 1 2 1 2 0 2 0 2 1 2 0 2 0 2 1 2 0 2 0 2 1 2 0 2 1 2 0 2 1 2 0 2 1 2 0 1 0 1 1 2 0 2 1 2 1 2 0 2 0 2 1 2 0 1 0 1 0 2 1 2 0 2 0 2 0 2 0 2 0 2 0 2 0 2 0 2 0 2 0 2 -1 2 0 2 0 2 -1 2 -1 2 0 1 0 1 -1 2 -1 2 -1 2 -1 2 -1 2 -1 1 -1 1 -1 1 -1 1 -1 1 -1 1 -1 1 -1 1 -1 0 -2 2 -1 0 -1 1 -2 1 -1 0 -1 0 -2 1 -2 0 -2 1 -2 0 -2 0 -2 0 -2 0 -2 1 -2 0 -2 0 -2 0 -2 -1 -2 0 -2 0 -2 0 -2 0 -2 0 -2 0 -2 0 -2 0 -2 0 -2 0 -2 1 -2 0 -2 0 -2 0 -2 1 -2 0 -2 0 -2 0 -2 1 -2 0 -2 0 -2 -1 -2 0 -2 0 -2 0 -2 0 -2 0 -2 -1 -2 0 -2 0 -2 0 -2 0 -2 0 -2 0 -2 0 -2 0 -2 -1 -2 0 -2 0 -2 -1 -2 -1 -1 0 -1 -1 -2 -1 -2 -2 -1 -2 -1 -2 0 -1 0 -1 0 -2 0 -2 0 -2 1 -2 1 -2 2 -2 0 -1 1 -1 1 -1 1 -1 1 -1 1 -1 1 -1 1 -1 1 -1 1 -1 1 -1 1 -1 1 -1 1 -1 1 -1 1 -1 1 -1 2 -1 2 -2 2 -2 2 -2 2 -2 2 -2 2 -2 2 -2 2 -2 0 -1 1 -1 1 -2 1 -2 0 -2 1 -2 0 -2 1 -2 0 -2 0 -2 0 -2 1 -2 0 -2 0 -2 0 -2 1 -2 0 -2 0 -2 1 -2 0 -2 1 -2 1 -2 0 -1 1 -1 0 -2 1 -1 0 -1 1 -2 1 -1 0 -1 2 -2 0 -1 1 -1 1 -2 1 -2 1 -1 1 -1 1 -2 1 -2 1 -1 1 -1 1 -2 1 -2 1 -2 1 -2 1 -1 0 -1 1 -2 1 -1 0 -1 1 -2 1 -1 0 -1 1 -2 1 -2 1 -2 1 -2 1 -2 1 -2 0 -1 1 -1 1 -2 0 -1 0 -1 1 -2 1 -1 0 -1 2 -2 0 -1 1 -1 1 -2 1 -2 1 -1 2 -1"/><path stroke="#90e662" d="M110 20l2 -1 2 0 2 1 1 0 1 1 1 1 1 1 1 1 1 1 1 1 1 0 2 2 2 1 1 1 1 1 2 1 2 2 2 2 1 2 1 1 0 1 1 2 0 2 1 2 0 1 0 1 0 2 0 2 0 2 0 2 0 2 0 2 0 2 0 2 0 2 0 2 0 2 0 2 1 2 0 2 0 2 0 2 0 2 0 2 0 2 0 2 0 2 0 2 -1 2 0 1 0 1 -1 2 -1 2 -1 2 -1 1 0 1 -2 2 -2 1 -1 1 -1 1 -2 1 -2 1 -1 1 -1 0 -2 1 -2 1 -2 1 -2 0 -2 0 -2 1 -2 -1 -2 -1 -2 -1 -1 -1 -1 -2 -1 -2 -1 -2 -1 -2 0 -2 0 -2 -1 -2 0 -2 0 -2 0 -2 0 -2 0 -2 0 -2 0 -2 0 -2 0 -2 0 -2 0 -2 0 -2 0 -2 1 -2 0 -2 0 -2 0 -2 0 -2 0 -2 1 -2 0 -2 0 -2 0 -2 0 -2 0 -2 1 -2 0 -2 0 -2 0 -2 1 -2 0 -1 0 -1 1 -2 0 -2 1 -2 0 -2 1 -2 1 -2 0 -1 1 -1 1 -2M376 44l2 -1 2 0 2 1 2 2 0 1 1 1 1 2 1 2 0 2 1 2 1 2 0 2 1 2 0 1 0 1 1 2 0 2 1 2 0 1 0 1 1 2 0 2 1 2 1 2 0 2 1 2 1 2 1 2 1 2 1 1 0 1 2 2 1 2 1 1 0 1 2 2 0 1 1 1 0 2 1 1 0 1 1 2 0 2 1 2 0 2 1 2 0 2 1 2 0 2 0 2 1 2 0 2 1 2 0 1 0 1 1 2 0 2 1 2 0 1 0 1 1 2 1 2 0 1 0 1 1 2 0 2 1 2 0 2 1 2 0 2 0 2 1 2 0 2 0 1 0 1 0 2 0 2 0 2 0 2 0 2 0 2 -1 2 0 2 0 2 -1 2 0 1 0 1 -1 2 -1 2 -1 2 -1 2 -1 2 -1 1 -1 1 -1 1 -1 1 -1 1 -1 1 -1 1 -2 1 -2 1 -1 1 -1 0 -2 1 -2 1 -1 0 -1 0 -2 1 -2 0 -2 0 -2 0 -2 1 -2 0 -2 0 -2 0 -2 0 -2 0 -2 0 -2 -1 -2 0 -2 0 -2 0 -2 0 -2 0 -2 0 -2 1 -2 0 -2 0 -2 0 -2 1 -2 0 -2 0 -2 0 -2 0 -2 1 -2 0 -2 0 -2 0 -2 0 -2 0 -2 -1 -2 0 -2 0 -2 0 -2 0 -2 0 -2 -1 -2 0 -2 0 -2 0 -1 0 -1 0 -2 0 -2 -1 -2 0 -2 0 -2 -1 -2 -1 -2 -1 -2 -2 -1 -2 -1 -2 0 -2 0 -2 1 -2 0 -2 1 -1 0 -1 2 -2 1 -2 1 -1 1 -1 1 -1 1 -1 1 -1 1 -1 1 -1 1 -1 1 -1 1 -1 1 -1 2 -1 2 -2 2 -2 1 0 1 -1 1 -1 1 -1 2 -1 2 -2 2 -1 1 -1 1 -1 1 -1 1 -1 2 -1 2 -2 1 -2 1 -1 1 -1 1 -2 0 -1 0 -1 1 -2 0 -2 0 -2 0 -2 1 -2 0 -2 0 -2 0 -2 0 -2 0 -2 0 -1 0 -1 0 -2 1 -2 0 -2 1 -2 0 -1 0 -1 1 -2 1 -2 0 -1 0 -1 1 -2 1 -2 1 -2 1 -1 0 -1 1 -2 1 -1 1 -1 1 -2 1 -2 1 -2 1 -2 1 -2 1 -2 1 -2 1 -2 1 -2 1 -2 1 -2 1 -2 1 -2 0 -1 1 -1 0 -2 1 -1 0 -1 1 -2 1 -2 1 -2 1 -2 1 -2 1 -2 0 -1 1 -1 1 -2 1 -2 1 -2 2 -2 2 -2"/><path stroke="#67d268" d="M113 36l1 0 2 0 1 0 1 0 2 1 2 1 2 1 1 1 1 0 2 2 2 2 2 2 1 2 1 2 0 1 0 1 1 2 0 2 0 2 0 2 0 2 1 2 0 2 0 2 0 2 0 2 0 2 0 2 0 2 0 2 0 2 0 2 -1 2 0 2 0 2 -1 2 0 1 0 1 -1 2 -1 2 -1 2 -1 1 -1 1 -1 1 -1 1 -1 1 -2 1 -2 1 -2 1 -2 1 -2 1 -2 0 -2 0 -2 -1 -2 -1 -2 -2 -1 -2 -1 -2 0 -1 0 -1 -1 -2 0 -2 0 -2 -1 -2 0 -2 0 -2 0 -2 0 -2 0 -2 1 -2 0 -2 0 -2 0 -2 0 -2 0 -2 1 -2 0 -2 0 -1 0 -1 0 -2 1 -2 0 -2 0 -2 1 -2 0 -2 0 -2 1 -2 0 -2 1 -2 1 -2 0 -2 1 -1 1 -1 1 -2 1 0M377 50l1 -1 2 1 2 1 1 1 1 2 1 2 1 2 0 1 0 1 1 2 1 2 0 2 1 2 0 2 1 2 0 2 1 2 0 2 1 2 0 1 0 1 1 2 1 2 0 1 0 1 1 2 1 2 1 2 1 2 1 2 1 1 0 1 1 2 1 1 1 1 0 2 1 1 0 1 1 2 1 2 0 1 0 1 1 2 0 2 1 2 0 2 1 2 0 2 1 2 0 1 0 1 1 2 0 2 1 2 0 1 0 1 1 2 1 2 0 2 1 2 0 2 1 2 1 2 0 2 1 2 0 2 0 2 1 2 0 2 0 2 0 2 0 2 1 2 -1 2 0 2 0 2 0 2 0 2 -1 2 0 2 -1 2 -1 2 -1 2 -1 2 -1 2 -1 1 -1 1 -1 2 -2 1 -1 1 -1 1 -1 1 -1 0 -2 1 -1 1 -1 0 -2 1 -2 1 -2 0 -2 0 -2 1 -2 0 -2 0 -2 0 -2 0 -2 0 -2 0 -2 0 -2 0 -2 0 -2 0 -2 0 -2 0 -2 0 -2 0 -2 0 -2 0 -2 0 -2 0 -2 1 -2 0 -1 0 -1 0 -2 0 -2 1 -2 0 -2 0 -2 0 -2 0 -2 0 -2 0 -2 0 -2 0 -2 -1 -2 0 -2 0 -2 0 -2 0 -2 0 -2 -1 -2 0 -2 0 -2 0 -2 -1 -2 0 -2 -1 -2 0 -1 -1 -1 -1 -1 -1 -1 -1 -1 -1 0 -2 0 -2 0 -2 1 -2 0 -1 1 -1 1 -2 1 -2 1 -1 1 -1 1 -1 1 -1 1 -1 1 -1 1 -1 2 -1 2 -2 2 -2 1 0 1 -1 1 -1 1 0 2 -2 2 -1 1 -1 1 0 2 -2 1 0 1 -1 2 -1 2 -1 2 -1 2 -2 1 0 1 -1 1 -1 1 -1 1 -1 1 -2 1 -2 1 -2 0 -2 0 -2 0 -2 0 -2 0 -2 0 -2 0 -2 0 -2 0 -2 0 -2 0 -2 0 -2 0 -2 0 -2 1 -2 0 -2 1 -2 0 -1 0 -1 1 -2 1 -2 0 -1 1 -1 0 -2 1 -1 0 -1 1 -2 1 -1 0 -1 1 -2 1 -1 0 -1 1 -2 1 -2 1 -2 1 -2 1 -2 1 -2 0 -1 1 -1 0 -2 1 -1 0 -1 1 -2 1 -2 1 -2 1 -2 0 -1 0 -1 1 -2 1 -2 1 -2 1 -2 1 -2 1 -2 1 -2 1 -1 0 -1 2 -2 2 -2 1 0"/><path stroke="#5eca94" d="M114 52l2 -1 2 -1 2 1 2 0 1 1 1 0 2 2 1 2 1 2 1 2 0 2 1 2 0 2 0 2 0 2 0 2 1 2 0 2 0 2 0 2 -1 2 0 2 0 1 0 1 -1 2 0 2 -1 2 -1 2 -1 2 -2 2 -2 2 -2 2 -1 0 -1 1 -2 0 -2 1 -2 0 -2 -2 -2 -2 -1 -2 -1 -2 0 -1 0 -1 0 -2 -1 -2 0 -2 0 -2 0 -2 0 -2 1 -2 0 -2 0 -2 0 -2 1 -2 0 -2 0 -2 1 -2 0 -1 0 -1 1 -2 0 -2 1 -2 1 -2 1 -2 2 -2M374 58l2 -1 2 -1 2 1 1 1 1 1 1 1 1 2 0 1 0 1 1 2 1 2 0 1 0 1 1 2 0 2 1 2 0 1 0 1 1 2 0 2 1 2 1 2 0 2 1 2 1 2 1 2 0 1 0 1 1 2 1 1 0 1 1 2 1 1 0 1 1 2 1 2 1 2 1 2 1 2 0 2 1 2 1 2 0 2 1 2 0 1 0 1 1 2 0 2 1 2 0 1 0 1 1 2 0 2 1 2 1 2 0 2 1 2 0 1 0 1 1 2 1 2 0 1 0 1 1 2 0 2 1 2 0 2 0 2 1 2 0 2 0 2 0 2 0 2 0 2 0 2 -1 2 0 2 0 2 -1 2 -1 2 0 1 -1 1 -1 2 0 1 -1 1 -1 2 -2 2 -2 2 -2 1 -1 1 -1 1 -2 0 -1 1 -1 0 -2 1 -2 0 -2 1 -2 0 -1 0 -1 0 -2 0 -2 0 -2 0 -2 0 -2 0 -2 0 -2 0 -2 0 -2 0 -2 0 -2 0 -2 0 -2 0 -2 0 -2 0 -2 1 -2 0 -2 0 -2 0 -2 0 -2 1 -2 0 -2 0 -1 0 -1 0 -2 0 -2 0 -1 0 -1 0 -2 0 -2 0 -2 0 -2 -1 -2 0 -2 0 -2 0 -2 0 -2 -1 -2 0 -1 0 -1 0 -2 0 -2 -1 -2 -1 -1 0 -1 0 -2 -2 -2 -2 0 -1 0 -1 0 -2 0 -2 1 -2 1 -1 0 -1 2 -2 2 -2 2 -2 2 -2 2 -1 1 -1 1 -1 2 -1 2 -2 1 0 1 -1 2 -1 2 -1 2 -1 2 -1 2 -1 1 0 1 -1 2 -1 1 0 1 -1 2 -1 2 -1 1 -1 1 -1 1 -1 1 -2 1 -2 1 -2 1 -2 0 -2 0 -2 0 -2 0 -2 0 -2 0 -2 0 -2 0 -2 0 -2 0 -2 0 -2 0 -2 0 -2 0 -2 0 -2 1 -2 0 -2 1 -2 0 -2 1 -2 0 -1 0 -1 1 -2 1 -2 1 -2 1 -2 0 -1 0 -1 1 -2 1 -2 1 -2 1 -2 0 -1 0 -1 1 -2 1 -2 1 -2 1 -2 0 -1 0 -1 1 -2 1 -2 1 -2 1 -2 0 -1 0 -1 1 -2 1 -2 1 -2 1 -2 1 -2 1 -1 1 -1 1 -2"/><path stroke="#bceedd" d="M375 64l1 0 2 -1 1 1 1 0 1 2 1 1 0 1 1 2 1 2 0 1 0 1 1 2 1 2 0 1 0 1 1 2 0 2 1 2 0 1 0 1 1 2 1 2 0 1 1 1 0 2 1 2 1 2 1 2 1 2 1 2 0 1 1 1 1 2 0 1 1 1 0 2 1 2 1 2 1 2 0 1 0 1 1 2 0 2 1 2 1 2 0 2 1 2 0 1 0 1 1 2 0 2 1 2 1 2 0 2 1 2 0 1 0 1 1 2 1 2 0 2 1 2 0 2 1 2 0 2 0 1 0 1 0 2 1 2 0 2 0 2 0 2 -1 2 0 2 0 2 -1 2 -1 2 0 1 0 1 -1 2 -1 1 0 1 -2 2 -2 2 -2 2 -2 2 -1 0 -1 1 -2 0 -1 1 -1 0 -2 1 -2 0 -2 0 -2 1 -2 0 -2 0 -2 0 -2 0 -2 0 -2 0 -2 0 -2 0 -2 0 -2 0 -2 0 -2 0 -2 0 -2 0 -2 0 -2 0 -2 0 -2 0 -2 0 -2 1 -2 0 -2 0 -2 0 -2 0 -2 0 -2 0 -2 0 -2 0 -2 -1 -2 0 -2 0 -2 0 -2 -1 -2 0 -2 0 -2 0 -2 -1 -1 0 -1 0 -2 -1 -1 -1 -1 0 -1 -2 -1 -2 0 -1 0 -1 1 -2 1 -2 1 -2 1 -1 1 -1 1 -1 2 -1 2 -2 2 -1 2 -1 2 -1 1 -1 1 0 2 -1 2 -1 2 -1 2 -1 1 0 1 -1 2 0 1 -1 1 0 2 -2 1 0 1 -1 1 -1 1 -1 1 -1 1 -1 1 -1 1 -2 1 -2 1 -2 0 -2 0 -2 1 -2 0 -2 0 -2 0 -2 0 -2 0 -2 0 -2 0 -2 0 -2 0 -2 0 -2 0 -2 0 -2 0 -2 1 -2 0 -2 0 -1 0 -1 1 -2 0 -2 1 -2 0 -1 0 -1 1 -2 1 -2 0 -1 0 -1 1 -2 1 -2 1 -2 0 -2 1 -2 1 -2 1 -2 0 -1 0 -1 1 -2 1 -2 0 -1 1 -1 0 -2 1 -2 1 -2 1 -2 0 -1 1 -1 1 -2 0 -1 1 -1 1 -2 1 -2 1 -1 1 -1M118 66l2 1 1 1 1 1 0 1 1 2 1 2 0 2 0 1 0 1 0 2 0 1 0 1 0 2 -1 2 -1 2 0 1 -1 1 -1 2 -2 2 -2 1 -2 0 -2 -1 -1 -2 -1 -2 0 -2 0 -2 0 -2 0 -2 0 -2 0 -1 0 -1 1 -2 0 -2 1 -2 1 -2 1 -2 2 -2 2 0"/><path stroke="#e4fcff" d="M375 72l1 -1 2 0 1 1 1 1 0 1 1 2 1 1 0 1 1 2 1 2 0 1 0 1 1 2 1 2 0 1 0 1 1 2 1 2 0 1 0 1 1 2 1 2 1 2 1 2 0 1 1 1 1 2 0 1 1 1 0 2 1 1 0 1 1 2 1 2 1 2 0 2 1 1 0 1 1 2 0 2 1 2 1 2 0 2 1 2 0 2 1 2 1 2 0 1 0 1 1 2 0 2 1 2 1 2 0 2 1 2 0 1 0 1 1 2 0 2 1 2 0 2 0 1 0 1 0 2 0 2 0 2 0 2 0 2 0 2 -1 2 0 2 -1 2 -1 2 -1 2 -1 2 -1 1 -1 1 -1 1 -1 1 -1 0 -2 2 -2 1 -2 1 -2 0 -2 1 -2 0 -2 0 -2 0 -2 0 -2 0 -2 1 -2 0 -2 0 -2 0 -2 0 -2 -1 -2 0 -2 0 -2 0 -2 0 -2 0 -2 0 -2 0 -2 0 -2 0 -2 0 -2 0 -2 0 -2 0 -2 1 -2 -1 -2 0 -2 0 -2 0 -2 0 -2 -1 -2 0 -1 0 -1 0 -2 -1 -2 0 -2 -1 -1 0 -1 -1 -2 -1 -2 -2 0 -2 1 -2 1 -1 1 -1 1 -1 1 -1 1 -1 2 -1 2 -1 2 -1 2 -1 2 -1 2 -1 2 -1 1 0 1 0 2 -1 1 -1 1 0 2 -2 1 0 1 -1 1 -1 1 -1 1 -1 1 -1 1 -1 1 -2 1 -2 1 -2 0 -1 0 -1 1 -2 0 -2 0 -2 1 -2 0 -2 0 -2 0 -2 0 -2 0 -2 0 -2 0 -2 0 -2 0 -2 0 -2 0 -2 0 -2 1 -2 0 -2 0 -2 1 -2 0 -2 1 -2 0 -2 1 -2 0 -1 0 -1 1 -2 1 -2 0 -1 0 -1 1 -2 1 -2 0 -1 0 -1 1 -2 1 -2 0 -1 1 -1 0 -2 1 -2 1 -2 1 -2 0 -1 1 -1 0 -2 1 -1 0 -1 2 -2 0 -1 1 -1 1 -1 1 -1"/><path stroke="#dcf5ff" d="M376 80l2 1 1 1 1 1 0 1 1 2 1 1 0 1 1 2 1 2 1 2 0 2 1 1 0 1 1 2 1 2 1 2 1 2 0 1 1 1 1 2 0 1 1 1 1 2 0 1 0 1 1 2 1 2 1 2 1 2 0 1 0 1 1 2 1 2 0 1 0 1 1 2 1 2 0 1 0 1 1 2 0 2 1 2 1 2 0 2 1 2 0 1 0 1 1 2 0 2 1 2 0 2 1 2 0 2 1 2 0 2 0 2 0 2 0 2 0 1 0 1 0 2 -1 2 0 2 -1 2 0 1 -1 1 -1 2 0 1 -1 1 -1 1 -1 1 -1 1 -1 1 -1 1 -2 1 -2 1 -2 0 -2 1 -2 0 -2 1 -2 0 -2 0 -2 0 -2 0 -2 0 -2 0 -2 0 -2 0 -2 0 -2 0 -2 0 -2 -1 -2 0 -2 0 -2 0 -2 0 -2 0 -2 0 -2 0 -2 -1 -2 0 -2 0 -2 0 -2 0 -2 -1 -2 0 -2 -1 -2 -1 -1 0 -1 -1 -1 -1 0 -2 1 -2 2 -2 2 -1 2 -1 2 -1 1 -1 1 -1 2 -1 2 -1 1 -1 1 -1 1 -1 1 -1 1 -1 1 -2 1 -2 1 -1 0 -1 1 -2 1 -2 0 -2 1 -2 0 -2 1 -2 0 -2 0 -2 0 -2 0 -2 0 -2 0 -2 0 -2 1 -2 0 -2 0 -2 0 -2 0 -2 0 -2 0 -2 1 -2 0 -2 0 -1 0 -1 1 -2 0 -2 0 -2 1 -2 1 -2 0 -2 1 -2 0 -1 0 -1 1 -2 1 -2 1 -2 0 -2 1 -2 1 -2 1 -2 0 -1 1 -1 1 -2 0 -1 1 -1 1 -2 0 -1 1 -1 1 -1 2 -1"/><path stroke="#d4efff" d="M374 90l2 -1 2 1 2 2 0 1 1 1 1 2 1 2 1 2 1 2 1 2 1 2 1 2 1 2 1 2 1 2 1 2 0 1 1 1 1 2 0 1 0 1 1 2 1 2 1 2 1 2 0 1 0 1 1 2 1 2 0 2 1 2 0 2 1 2 1 2 0 2 1 2 0 1 0 1 1 2 0 2 1 2 0 1 0 1 1 2 0 2 0 2 1 2 0 2 0 2 0 2 0 2 -1 2 0 2 -1 2 0 1 0 1 -1 2 -1 1 -1 1 -1 2 -2 2 -1 0 -1 1 -2 1 -2 1 -2 0 -2 1 -1 0 -1 0 -2 0 -2 1 -2 0 -2 0 -2 0 -2 0 -2 0 -2 0 -2 -1 -2 0 -2 0 -2 0 -2 -1 -2 0 -2 -1 -2 0 -2 -1 -2 0 -2 -1 -1 0 -1 -1 -2 -1 0 -1 0 -1 0 -1 0 -1 1 -2 1 -1 0 -1 2 -2 0 -1 1 -1 1 -2 1 -2 1 -2 1 -2 0 -2 1 -2 0 -2 1 -2 0 -2 1 -2 0 -2 0 -2 0 -2 0 -2 0 -2 0 -2 1 -2 0 -2 0 -2 0 -2 0 -2 0 -2 0 -2 0 -2 1 -2 0 -2 0 -2 1 -2 0 -2 1 -2 0 -1 0 -1 1 -2 0 -2 1 -2 1 -2 0 -2 1 -2 1 -2 1 -2 1 -2 1 -2 0 -1 1 -1 1 -2 2 -2"/><path stroke="#ceeaff" d="M375 98l1 0 1 0 1 1 1 1 1 1 1 1 1 1 0 1 2 2 0 1 1 1 1 2 1 2 1 2 1 2 1 2 1 2 1 2 1 2 1 2 0 1 1 1 0 2 1 2 1 2 0 2 1 2 1 2 0 2 1 2 1 2 0 2 1 2 0 1 0 1 1 2 0 2 1 2 0 1 0 1 1 2 0 2 0 2 0 2 1 2 0 2 0 2 -1 2 0 2 -1 2 0 1 0 1 -1 2 -1 1 0 1 -2 2 -2 2 -2 1 -2 1 -2 1 -2 0 -2 1 -2 0 -2 0 -2 0 -2 1 -2 0 -2 -1 -2 0 -2 0 -1 0 -1 0 -2 -1 -2 0 -2 -1 -1 0 -1 0 -2 -1 -2 -1 -2 -2 -1 -2 -1 -2 0 -2 1 -2 0 -2 1 -2 0 -2 1 -2 0 -2 1 -2 0 -2 1 -2 0 -2 0 -2 1 -2 0 -2 0 -2 0 -1 0 -1 0 -2 0 -2 0 -2 1 -2 0 -2 0 -2 0 -2 0 -2 0 -2 0 -2 1 -2 0 -2 0 -2 1 -2 0 -2 1 -2 0 -1 0 -1 1 -2 1 -2 0 -1 0 -1 1 -2 1 -2 0 -1 1 -1 1 -2 0 -1 1 -1 1 -2 2 -2 1 0"/><path stroke="#cae7ff" d="M374 106l2 -1 2 1 2 1 1 1 1 1 0 1 2 2 1 2 1 2 1 2 1 1 0 1 2 2 0 1 1 1 0 2 1 1 0 1 1 2 1 2 1 2 0 2 1 2 1 2 0 2 1 2 1 2 0 2 1 2 0 1 0 1 1 2 0 2 1 2 0 2 0 2 1 2 0 2 0 2 0 2 0 2 0 2 0 2 -1 2 0 2 -1 2 -1 2 -2 2 -2 2 -2 1 -2 1 -2 1 -2 0 -2 1 -2 0 -2 0 -2 0 -2 0 -2 0 -2 0 -2 -1 -2 0 -2 -1 -1 0 -1 0 -2 -1 -1 -1 -1 -1 -1 -1 -1 -2 -1 -2 0 -2 0 -2 0 -2 0 -2 1 -2 0 -2 0 -2 1 -2 0 -2 0 -2 0 -2 0 -2 1 -2 0 -2 0 -2 0 -1 0 -1 0 -2 0 -2 0 -2 1 -2 0 -2 0 -2 0 -2 0 -2 1 -2 0 -2 0 -1 0 -1 1 -2 0 -2 1 -2 0 -1 0 -1 1 -2 1 -2 0 -1 0 -1 1 -2 1 -1 1 -1 1 -2 2 -2"/><path stroke="#c7e4ff" d="M375 112l1 0 2 0 2 1 1 1 1 1 1 1 1 1 0 1 2 2 0 1 1 1 1 2 1 2 1 2 1 2 1 2 0 1 1 1 0 2 1 2 1 2 0 2 1 2 1 2 0 2 1 2 0 1 0 1 1 2 0 2 1 2 0 2 0 2 1 2 0 2 0 2 0 2 0 2 0 2 -1 2 0 1 0 1 -1 2 -1 2 -2 2 -2 2 -2 1 -2 1 -1 0 -1 0 -2 1 -2 0 -2 0 -2 1 -2 0 -2 -1 -2 0 -2 0 -2 -1 -2 -1 -1 -1 -1 -1 -1 -1 -1 -1 -1 -1 0 -2 -1 -2 0 -2 0 -2 0 -2 0 -2 0 -2 1 -2 0 -2 0 -2 0 -2 0 -2 0 -2 1 -2 0 -2 0 -2 0 -2 0 -1 0 -1 0 -2 0 -2 1 -2 0 -2 0 -2 0 -2 1 -2 0 -2 0 -2 1 -2 1 -2 0 -1 0 -1 1 -2 1 -2 1 -2 1 -2 2 -2 1 0"/><path stroke="#c3e1ff" d="M375 118l1 -1 2 0 1 1 1 0 2 2 2 2 1 2 1 1 0 1 1 2 1 1 0 1 1 2 1 1 0 1 1 2 1 2 1 2 0 2 1 2 1 2 0 2 1 2 0 1 0 1 1 2 0 2 1 2 0 2 0 1 0 1 0 2 1 2 0 2 0 2 -1 2 0 2 0 2 -1 2 -1 1 0 1 -2 2 -2 2 -1 0 -1 1 -2 1 -2 0 -2 1 -2 0 -2 0 -2 0 -2 0 -2 -1 -2 -1 -2 -1 -2 -2 -2 -2 0 -1 0 -1 -1 -2 0 -2 0 -2 0 -2 0 -2 0 -2 0 -2 0 -2 0 -2 0 -2 0 -2 0 -2 0 -2 1 -2 0 -2 0 -2 0 -2 0 -2 0 -2 1 -2 0 -2 0 -2 1 -2 0 -1 0 -1 1 -2 1 -2 0 -1 0 -1 1 -2 1 -1 1 -1 1 -1 1 -1"/><path stroke="#bfdeff" d="M375 124l1 -1 2 0 2 0 1 1 1 1 1 1 1 1 0 1 2 2 1 2 1 2 1 2 1 2 0 1 0 1 1 2 1 2 1 2 0 2 1 2 0 1 0 1 1 2 0 2 0 2 1 2 0 2 0 2 0 2 0 2 0 2 0 2 -1 2 -1 2 0 1 -1 1 -1 1 -1 1 -1 1 -2 1 -2 1 -2 1 -2 0 -2 0 -2 0 -2 -1 -2 0 -1 -1 -1 -1 -2 -1 -1 -2 -1 -2 0 -2 -1 -2 0 -2 0 -2 0 -2 0 -2 0 -2 0 -2 0 -2 0 -2 0 -2 0 -2 0 -2 1 -2 0 -2 0 -2 0 -1 0 -1 0 -2 1 -2 0 -2 1 -2 0 -1 0 -1 1 -2 1 -2 0 -1 1 -1 1 -1 1 -1"/><path stroke="#bcdbff" d="M375 130l1 -1 2 -1 2 1 2 1 2 2 1 2 1 2 1 2 1 2 1 2 1 2 0 1 0 1 1 2 0 2 1 2 0 2 1 2 0 2 0 2 1 2 0 2 0 2 0 2 -1 2 0 2 -1 2 -1 2 -1 1 -2 1 -2 1 -2 1 -2 1 -2 0 -2 -1 -1 0 -1 0 -2 -1 -1 -1 -1 -2 -1 -2 -1 -2 0 -2 -1 -2 0 -2 0 -2 0 -2 0 -2 0 -2 0 -2 0 -2 0 -2 0 -2 0 -2 1 -2 0 -2 0 -1 0 -1 1 -2 0 -2 1 -2 0 -1 0 -1 1 -2 1 -1 1 -1"/><path stroke="#b3d3fd" d="M378 134l1 0 1 0 2 2 2 2 1 2 1 2 1 2 1 2 0 1 0 1 1 2 1 2 0 2 0 2 1 2 0 2 0 2 0 2 0 2 -1 2 0 2 -1 2 -1 1 -1 1 -1 1 -2 1 -2 1 -2 0 -2 -1 -2 -1 -1 -1 -1 -1 -1 -1 0 -2 -1 -2 0 -2 -1 -2 0 -2 0 -2 0 -2 0 -2 0 -2 0 -2 0 -2 1 -2 0 -2 0 -1 0 -1 1 -2 0 -2 1 -2 1 -2 1 -1 2 -1"/><path stroke="#3c5cd4" d="M377 142l1 -1 2 0 2 1 1 2 1 1 0 1 1 2 1 2 1 2 0 2 0 2 1 2 0 2 0 2 0 2 -1 2 -1 2 -1 2 -1 1 -2 0 -2 0 -2 0 -1 -1 -1 -2 -1 -2 -1 -2 0 -2 0 -2 0 -2 0 -2 0 -2 0 -2 0 -1 0 -1 1 -2 0 -2 1 -2 0 -1 1 -1"/><path stroke="#2848c8" d="M380 152l0 -1 1 1 1 1 0 1 1 2 0 2 -1 2 0 1 -2 1 -1 -2 -1 -2 0 -2 0 -2 2 -2"/></g></svg>
<svg x="387" y="153" width="224" height="118" viewBox="0 0 448 236" overflow="hidden"><g><rect x="-2" y="-2" width="456" height="244" fill="#000000"/><path fill="#0a0000" d="M41 -2l1 0 2 0 2 0 2 0 2 0 2 0 2 0 2 0 2 0 2 0 2 0 2 0 2 0 2 0 2 0 2 0 2 0 2 0 2 0 2 0 2 0 2 0 2 0 2 0 2 0 2 0 2 0 2 0 2 0 2 0 2 0 2 0 2 0 2 0 2 0 2 0 2 0 2 0 2 0 2 0 2 0 2 0 2 0 2 0 2 0 2 0 2 0 2 0 2 0 2 0 2 0 2 0 2 0 2 0 2 0 2 0 2 0 2 0 2 0 2 0 2 0 1 0 0 2 1 2 0 1 1 1 1 1 1 -1 1 -1 0 -1 1 -2 0 -2 1 0 2 0 2 0 2 0 2 0 2 0 2 0 2 0 2 0 2 0 2 0 2 0 2 0 2 0 2 0 2 0 2 0 2 0 2 0 2 0 2 0 2 0 2 0 2 0 2 0 2 0 2 0 2 0 2 0 2 0 2 0 2 0 2 0 2 0 2 0 2 0 2 0 2 0 2 0 2 0 2 0 2 0 2 0 2 0 2 0 2 0 2 0 2 0 2 0 2 0 2 0 2 0 2 0 2 0 2 0 2 0 2 0 2 0 2 0 2 0 2 0 2 0 2 0 2 0 2 0 2 0 2 0 2 0 2 0 2 0 2 0 2 0 2 0 2 0 2 0 2 0 2 0 2 0 2 0 2 0 2 0 2 0 2 0 2 0 2 0 2 0 2 0 2 0 2 0 2 0 2 0 2 0 2 0 2 0 2 0 2 0 2 0 2 0 2 0 2 0 2 0 2 0 2 0 2 0 2 0 2 0 2 0 2 0 2 0 2 0 2 0 2 0 2 0 2 0 2 0 2 0 2 0 2 0 2 0 2 0 2 0 2 0 2 0 2 0 2 0 2 0 2 0 2 0 2 0 2 0 2 0 0 2 0 2 0 2 1 2 0 2 1 2 0 1 0 1 1 2 1 2 1 2 1 2 1 2 1 1 1 1 1 2 2 2 1 0 1 1 2 1 2 0 2 0 0 2 0 2 0 2 0 2 0 2 0 2 0 2 0 2 0 2 0 2 0 2 0 2 0 2 0 2 0 2 0 2 0 2 0 2 0 2 0 2 0 2 0 2 0 2 0 2 0 2 0 2 0 2 0 2 0 2 0 2 0 2 0 2 0 2 0 2 0 2 0 2 0 2 0 2 0 2 0 2 0 2 0 2 0 2 0 2 0 2 0 2 0 2 0 2 0 2 0 2 0 2 0 2 0 2 0 2 0 2 0 2 0 2 0 2 0 2 0 2 0 2 0 2 0 2 0 2 0 2 0 2 0 2 0 2 0 2 0 2 0 2 0 2 0 2 0 2 0 2 0 2 0 2 0 2 0 2 0 2 0 2 0 2 0 2 0 2 0 2 0 2 0 2 0 2 0 2 0 2 0 2 0 2 0 2 0 2 0 2 0 2 0 2 0 2 0 2 0 2 0 2 0 2 0 2 0 2 -2 0 -2 0 -2 0 -2 0 -2 0 -2 0 -2 0 -2 0 -2 0 -2 0 -2 0 -2 0 -2 0 -2 0 -2 0 -2 0 -2 0 -2 0 -2 0 -2 0 -2 0 -2 0 -2 0 -2 0 -2 0 -2 0 -2 0 -2 0 -2 0 -2 0 -2 0 -2 0 -2 0 -2 0 -2 0 -2 0 -2 0 -2 0 -2 0 -2 0 -2 0 -2 0 -2 0 -2 0 -2 0 -2 0 -2 0 -2 0 -2 0 -2 0 -2 0 -2 0 -2 0 -2 0 -2 0 -2 0 -2 0 -2 0 -2 0 -2 0 -2 0 -2 0 -2 0 -2 0 -2 0 -2 0 -2 0 -2 0 -2 0 -2 0 -2 0 -2 0 -2 0 -2 0 -2 0 -2 0 -2 0 -2 0 -2 0 -2 0 -2 0 -2 0 -2 0 -2 0 -2 0 -2 0 -2 0 -2 0 -2 0 -2 0 -2 0 -2 0 -2 0 -2 0 -2 0 -2 0 -2 0 -2 0 -2 0 -2 0 -2 0 -2 0 -2 0 -2 0 -2 0 -2 0 -2 0 -2 0 -2 0 -2 0 -2 0 -2 0 -2 0 -2 0 -2 0 -2 0 -2 0 -2 0 -2 0 -2 0 -2 0 -2 0 -2 0 -2 0 -2 0 -2 0 -2 0 -2 0 -2 0 -2 0 -2 0 -2 0 -2 0 -2 0 -2 0 -2 0 -2 0 -2 0 -2 0 -2 0 -2 0 -2 0 -2 0 -2 0 -2 0 -2 0 -2 0 -2 0 -2 0 -2 0 -2 0 -2 0 -2 0 -2 0 -2 0 -2 0 -2 0 -2 0 -2 0 -2 0 -2 0 -2 0 -2 0 -2 0 -2 0 -2 0 -2 0 -2 0 -2 0 -2 0 -2 0 -2 0 -2 0 -2 0 -2 0 -2 0 -2 0 -2 0 -2 0 -2 0 -2 0 -2 0 -2 0 -2 0 -2 0 -2 0 -2 0 -2 0 -2 0 -2 0 -2 0 -2 0 -2 0 -2 0 -2 0 -2 0 -2 0 -2 0 -2 0 -2 0 -2 0 -2 0 -2 0 -2 0 -2 0 -2 0 -2 0 -2 0 -2 0 -2 0 -2 0 -2 0 -2 0 -2 0 -2 0 -2 0 -2 0 -2 0 -2 0 -2 0 -2 0 -2 0 -2 0 -2 0 -2 0 -2 0 0 -2 0 -2 0 -2 0 -2 0 -2 0 -2 0 -2 0 -2 0 -2 0 -2 0 -2 0 -2 0 -2 0 -2 0 -2 0 -2 0 -2 0 -2 0 -2 0 -2 0 -2 0 -2 0 -2 0 -2 0 -2 0 -2 0 -2 0 -2 0 -2 0 -2 0 -2 0 -2 0 -2 0 -2 0 -2 0 -2 0 -2 0 -2 0 -2 0 -2 0 -2 0 -2 0 -2 0 -2 0 -2 0 -2 0 -2 0 -2 0 -2 0 -2 0 -2 0 -2 0 -2 0 -2 0 -2 0 -2 0 -2 0 -2 0 -2 0 -2 0 -2 0 -2 0 -2 0 -2 0 -2 0 -2 0 -2 0 -2 0 -2 0 -2 0 -2 0 -2 0 -2 0 -2 0 -2 0 -2 0 -2 0 -2 0 -2 0 -2 0 -2 0 -2 0 -2 0 -2 0 -2 0 -2 0 -2 0 -2 0 -2 0 -2 0 -2 0 -2 0 -2 0 -2 0 -2 0 -2 0 -2 0 -2 0 -2 0 -2 0 -2 0 -2 0 -2 0 -2 0 -2 0 -2 0 -2 0 -2 0 -1 2 0 2 1 2 1 2 0 2 0 2 0 2 0 2 0 2 0 2 -1 2 -1 2 0 1 -1 1 -1 2 -1 2 -1 1 -1 1 -1 1 -1 1 -1 1 -1 1 -1 1 -1 1 -2 1 -2 1 -1 0 -1 1 -2 1 -2 1 -2 193 5 -1 1 -1 1 0 1 -1 2 0 2 0 2 0 2 0 2 0 2 0 2 1 2 0 1 1 1 1 2 2 -2 0 -2 1 -2 0 -2 0 -2 0 -2 0 -2 0 -2 0 -2 -1 -2 0 -2 -2 -1 78 -1 -2 1 -2 1 -1 2 -1 1 0 1 -1 2 0 2 -1 2 0 2 0 2 0 2 1 2 0 2 1 2 1 2 1 2 2 2 2 2 1 0 1 0 1 0 1 0 2 -2 2 -2 1 -2 1 -2 1 -2 0 -2 1 -2 0 -2 0 -2 0 -2 -1 -2 0 -2 -1 -2 0 -1 -1 -1 -1 -2 -2 -1 -2 -1 -2 0 -2 0"/><path fill="#1e0000" d="M87 -2l1 0 2 0 2 0 2 0 2 0 2 0 1 0 1 2 0 1 0 1 0 2 1 2 0 2 1 2 0 2 0 2 0 2 1 2 0 2 0 2 1 2 0 2 0 2 0 2 1 2 0 2 0 2 0 2 1 2 0 2 0 2 1 2 0 2 1 2 0 2 1 2 1 2 0 1 1 1 1 1 2 -1 1 -2 1 -1 0 -1 1 -2 1 -2 0 -1 0 -1 1 -2 0 -2 1 -2 0 -2 0 -2 1 -2 0 -2 1 -2 0 -2 0 -2 1 -2 0 -2 0 -2 1 -2 0 -1 0 -1 1 -2 0 -2 1 -2 0 -2 1 -2 0 -2 1 -2 1 -2 0 -2 1 -2 2 0 2 0 2 0 2 0 2 0 2 0 2 0 2 0 2 0 0 1 0 1 1 2 0 2 1 2 1 2 0 2 1 2 1 2 0 2 1 2 1 2 1 2 1 2 1 2 2 2 2 2 2 1 2 1 2 -1 2 -1 2 -2 2 -2 1 -2 1 -1 0 -1 1 -2 1 -2 1 -2 1 -2 0 -1 1 -1 0 -2 1 -2 1 -2 0 -2 1 -2 1 -2 1 -2 2 0 2 0 2 0 2 0 2 0 2 0 2 0 2 0 2 0 2 0 2 0 1 2 1 2 0 1 0 1 1 2 1 2 1 2 0 2 1 2 1 2 0 2 1 2 0 2 1 2 1 2 0 1 0 1 1 2 0 2 1 2 0 1 0 1 1 2 0 2 1 2 0 2 1 2 1 2 0 1 0 1 1 2 1 2 0 1 0 1 1 2 1 2 1 2 1 1 1 1 1 1 2 1 2 -1 1 -1 1 -1 1 -1 1 -2 1 -2 1 -2 1 -2 1 -2 0 -1 0 -1 1 -2 1 -2 0 -1 1 -1 0 -2 1 -2 1 -2 0 -2 1 -2 1 -2 1 -2 1 -2 1 -1 1 -1 1 -2 1 0 1 -1 2 0 2 0 1 1 1 0 2 2 2 2 2 2 2 2 2 2 0 1 1 1 1 1 0 1 2 2 1 2 1 1 0 1 2 2 0 1 1 1 1 2 1 2 1 1 1 1 1 2 1 2 1 1 0 1 2 2 1 2 1 1 1 1 1 2 2 2 2 2 2 2 2 2 2 1 2 1 2 1 2 0 2 1 2 -1 2 0 2 -1 2 -1 2 -1 2 -2 2 -2 2 -2 2 -2 1 -2 1 -1 1 -1 1 -2 2 -2 0 -1 1 -1 1 -2 1 -2 1 -1 1 -1 1 -2 1 -2 1 -2 2 -2 0 -1 1 -1 1 -2 2 -2 0 -1 1 -1 1 -2 2 -2 2 -2 1 -2 1 -1 1 -1 1 -1 2 -1 2 -2 2 -1 1 -1 1 -1 2 -1 1 0 1 -1 2 0 2 -1 2 0 2 -1 2 0 2 0 2 0 2 0 2 0 2 0 2 1 1 0 1 0 2 1 1 1 1 0 2 2 1 0 1 1 1 1 1 1 1 1 1 1 1 1 1 1 1 1 1 1 1 1 1 1 1 1 1 2 2 2 1 2 1 1 1 1 1 2 2 2 1 2 1 1 1 1 1 1 1 1 1 1 1 1 1 1 1 1 1 1 1 1 1 1 2 1 2 1 2 1 2 0 2 0 2 0 0 2 0 2 0 2 0 2 0 2 0 2 0 2 0 2 0 2 0 2 0 2 0 2 0 2 0 2 0 2 0 2 0 2 0 2 0 2 0 2 0 2 0 2 0 2 0 2 0 2 0 2 0 2 0 2 0 2 0 2 0 2 0 2 0 2 0 2 0 2 0 2 0 2 0 2 0 2 0 2 0 2 0 2 0 2 0 2 0 2 0 2 0 2 0 2 0 2 0 2 0 2 0 2 0 2 0 2 0 2 0 2 0 2 0 2 0 2 0 2 0 2 0 2 0 2 0 2 0 2 0 2 0 2 0 2 0 2 0 2 0 2 0 2 0 2 0 2 0 2 0 2 0 2 0 2 0 2 0 2 0 2 0 2 0 2 0 2 0 2 0 2 0 2 0 2 0 2 -2 0 -2 0 -2 0 -2 0 -2 0 -2 0 -2 0 -2 0 -2 0 -2 0 -2 0 -2 0 -2 0 -2 0 -2 0 -2 0 -2 0 -2 0 -2 0 -2 0 -2 0 -2 0 -2 0 -2 0 -2 0 -2 0 -2 0 -2 0 -2 0 -2 0 -2 0 -2 0 -2 0 -2 0 -2 0 -2 0 -2 0 -2 0 -2 0 -2 0 -2 0 -2 0 -2 0 -2 0 -2 0 -2 0 -2 0 -2 0 -2 0 -2 0 -2 0 -2 0 -2 0 -2 0 -2 0 -2 0 -2 0 -2 0 -2 0 -2 0 -2 0 -2 0 -2 0 -2 0 -2 0 -2 0 -2 0 -2 0 -2 0 -2 0 -2 0 -2 0 -2 0 -2 0 -2 0 -2 0 -2 0 -2 0 -2 0 -2 0 -2 0 -2 0 -2 0 -2 0 -2 0 -2 0 -2 0 -2 0 -2 0 -2 0 -2 0 -2 0 -2 0 -2 0 -2 0 -2 0 -2 0 -2 0 -2 0 -2 0 -2 0 -2 0 -2 0 -2 0 -2 0 -2 0 -2 0 -2 0 -2 0 -2 0 -2 0 -2 0 -2 0 -2 0 -2 0 -2 0 -2 0 -2 0 -2 0 -2 0 -2 0 -2 0 -2 0 -2 0 -2 0 -2 0 -2 0 -2 0 -2 0 -2 0 -2 0 -2 0 -2 0 -2 0 -2 0 -2 0 -2 0 -2 0 -2 0 -2 0 -2 0 -2 0 -2 0 -2 0 -2 0 -2 0 -2 0 -2 0 -2 0 -2 0 -2 0 -2 0 -2 0 -2 0 -2 0 -2 0 -2 0 -2 0 -2 0 -2 0 -2 0 -2 0 -2 0 -2 0 -2 0 -2 0 -2 0 -2 0 -2 0 -2 0 -2 0 -2 0 -2 0 -2 0 -2 0 -2 0 -2 0 -2 0 -2 0 -2 0 -2 0 -2 0 -2 0 -2 0 -2 0 -2 0 -2 0 -2 0 -2 0 -2 0 -2 0 -2 0 -2 0 -2 0 -2 0 -2 0 -2 0 -2 0 -2 0 -2 0 -2 0 -2 0 -2 0 -2 0 -2 0 -2 0 -2 0 -2 0 -2 0 -2 0 -2 0 -2 0 -2 0 -2 0 -2 0 -2 0 -2 0 -2 0 -2 0 -2 0 -2 0 -2 0 -2 0 -2 0 -2 0 -2 0 0 -2 0 -2 0 -2 0 -2 0 -2 0 -2 0 -2 0 -2 0 -2 0 -2 0 -2 0 -2 0 -2 0 -2 0 -2 0 -2 0 -2 0 -2 0 -2 0 -2 0 -2 0 -2 0 -2 0 -2 0 -2 0 -2 0 -2 0 -2 0 -2 0 -2 0 -2 0 -2 0 -2 0 -2 0 -2 0 -2 0 -2 0 -2 0 -2 0 -2 0 -2 0 -2 0 -2 0 -2 0 -2 0 -2 0 -2 0 -2 0 -2 0 -2 0 -2 0 -2 0 -2 0 -2 0 -2 0 -2 0 -2 0 -2 0 -2 0 -2 0 -2 0 -2 0 -2 0 -2 0 -2 0 -2 0 -2 0 -2 0 -2 0 -2 0 -2 0 -2 0 -2 0 -2 0 -2 0 -2 0 -2 0 -2 0 -2 0 -2 0 -2 0 -2 0 -2 0 -2 0 -2 0 -2 0 -2 0 -2 0 -2 0 -2 0 -2 0 -1 2 0 2 0 2 1 2 0 2 0 2 0 2 0 2 0 2 0 2 -1 2 0 2 0 2 -1 2 -1 2 0 2 -1 2 -1 2 -1 2 -1 2 -1 2 -1 2 -1 2 -1 1 -1 1 -1 2 -1 2 -1 1 -1 1 0 2 -2 2 -1 1 -1 1 0 2 -2 2 -1 1 -1 1 0 2 -2 2 -1 1 -1 1 -1 1 -1 1 -1 1 -1 1 -2 2 -2 1 -2 1 -1 0 -1 1 -2 1 -1 0 -1 1 -2 1 -1 0 -1 1 -2 1 -1 0 -1 1 -2 1 -2 1 -2"/><path fill="#340000" d="M91 42l1 -1 2 0 1 1 1 1 0 1 1 2 1 2 0 2 1 2 1 2 0 1 0 1 1 2 0 2 1 2 0 1 0 1 1 2 0 2 1 2 1 2 1 2 0 1 1 1 1 2 2 2 2 1 2 -1 1 0 1 -1 1 -1 1 -1 0 -1 2 -2 0 -1 1 -1 1 -2 0 -1 1 -1 0 -2 1 -1 0 -1 1 -2 1 -2 1 -2 1 -1 0 -1 2 -2 1 -2 1 -1 1 -1 1 -1 1 -1 1 0 2 -1 2 -1 2 0 2 1 1 1 1 1 2 1 2 2 2 1 1 1 1 1 2 1 2 1 2 0 2 1 1 0 1 0 2 0 2 0 2 0 2 -1 2 0 2 -1 2 -1 2 -1 2 -1 2 -1 2 -2 1 0 1 -1 2 -1 2 -1 2 -1 2 0 2 0 2 1 2 1 2 2 2 2 2 2 2 2 1 2 1 1 1 1 1 2 1 2 1 1 0 1 1 2 1 1 0 1 1 2 1 1 0 1 1 2 1 2 1 2 1 1 0 1 1 2 1 1 1 1 1 2 2 2 2 1 2 1 2 -1 2 0 1 -1 1 -1 1 -1 1 -2 2 -2 0 -1 1 -1 1 -2 1 -2 1 -2 1 -2 1 -1 1 -1 1 -2 2 -2 2 -1 2 -1 2 0 2 1 2 1 2 1 1 1 1 1 1 1 1 1 1 1 1 1 1 1 1 1 0 1 2 2 2 2 1 2 1 1 1 1 1 2 1 2 1 1 1 1 1 2 2 2 0 1 1 1 1 1 0 1 2 2 1 2 1 1 1 1 1 1 0 1 2 2 2 2 2 2 2 2 1 0 1 1 2 1 2 1 2 0 2 0 2 0 2 0 2 -1 2 -1 2 -1 2 -1 1 -1 1 -1 1 -1 1 -2 2 -2 1 -2 1 -1 1 -1 1 -2 2 -2 1 -2 1 -1 0 -1 2 -2 1 -2 1 -1 1 -1 1 -2 1 -2 1 -1 1 -1 1 -2 2 -2 0 -1 1 -1 1 -1 1 -1 1 -2 2 -2 2 -2 0 -1 1 -1 1 -1 1 -1 1 -1 1 -1 1 -1 2 -1 2 -2 2 -1 1 -1 1 0 2 -2 1 0 1 -1 2 0 1 -1 1 0 2 -1 2 0 2 -1 2 0 2 0 2 0 2 1 2 0 2 1 1 0 1 1 2 1 1 0 1 1 2 1 2 2 2 1 1 1 1 1 1 1 1 1 1 1 1 1 1 1 1 1 1 1 1 2 2 2 2 2 2 2 2 2 2 2 2 2 2 1 1 1 1 1 2 1 2 1 2 0 2 1 2 0 2 0 0 2 0 2 0 2 0 2 0 2 0 2 0 2 0 2 0 2 0 2 0 2 0 2 0 2 0 2 0 2 0 2 0 2 0 2 0 2 0 2 0 2 0 2 0 2 0 2 0 2 0 2 0 2 0 2 0 2 0 2 0 2 0 2 0 2 0 2 0 2 0 2 0 2 0 2 0 2 0 2 0 2 0 2 0 2 0 2 0 2 0 2 0 2 0 2 0 2 0 2 0 2 0 2 0 2 0 2 0 2 0 2 0 2 0 2 0 2 0 2 0 2 0 2 0 2 0 2 0 2 0 2 0 2 0 2 0 2 0 2 0 2 0 2 0 2 0 2 -2 0 -2 0 -2 0 -2 0 -2 0 -2 0 -2 0 -2 0 -2 0 -2 0 2 -1 2 -1 1 0 1 -1 2 -1 2 -1 1 -1 1 -1 1 -1 1 -2 0 -2 0 -1 0 -1 -1 -2 -1 -1 -1 -1 -1 -1 -1 -1 -1 0 -2 -1 -2 -1 -1 0 -1 0 -2 -1 -2 0 -2 0 -2 0 -2 0 -2 0 -2 0 -2 1 -2 0 -2 0 -2 1 -2 1 -2 0 -2 1 -2 1 -1 0 -1 0 -2 1 -1 1 -1 0 -2 2 -1 0 -1 1 -1 1 -1 1 -1 1 -1 2 0 2 1 2 1 1 1 1 1 1 2 1 1 0 -1 0 -2 0 -2 0 -2 0 -2 0 -2 0 -2 0 -2 0 -2 0 -2 0 -2 0 -2 0 -2 0 -2 0 -2 0 -2 0 -2 0 -2 0 -2 0 -2 0 -2 0 -2 0 -2 0 -2 0 -2 0 -2 0 -2 0 -2 0 -2 0 -2 0 -2 0 -2 0 -2 0 -2 0 -2 0 -2 0 -2 0 -2 0 -2 0 -2 0 -2 0 -2 0 -2 0 -2 0 -2 0 -2 0 -2 0 -2 0 -2 0 -2 0 -2 0 -2 0 -2 0 -2 0 -2 0 -2 0 -2 0 -2 0 -2 0 -2 0 -2 0 -2 0 -2 0 -2 0 -2 0 -2 0 -2 0 -2 0 -2 0 -2 0 -2 0 -2 0 -2 0 -2 0 -2 0 -2 0 -2 0 -2 0 -2 0 -2 0 -2 0 -2 0 -2 0 -2 0 -2 0 -2 0 -2 0 -2 0 -2 0 -2 0 -2 0 -2 0 -2 0 -2 0 -2 0 -2 0 -2 0 -2 0 -2 0 -2 0 -2 0 -2 0 -2 0 -2 0 -2 0 -2 0 -2 0 -2 0 -2 0 -2 0 -2 0 -2 0 -2 0 -2 0 -2 0 -2 0 -2 0 -2 0 -2 0 -2 0 -2 0 -2 0 -2 0 -2 0 -2 0 -2 0 -2 0 -2 0 -2 0 -2 0 -2 0 -2 0 -2 0 -2 0 -2 0 -2 0 -2 0 -2 0 -2 0 -2 0 -2 0 -2 0 -2 0 -2 0 -2 0 -2 0 -2 0 -2 0 -2 0 -2 0 -2 0 -2 0 -2 0 -2 0 -2 0 -2 0 -2 0 -2 0 -2 0 -2 0 -2 0 -2 0 -2 0 -2 0 -2 0 -2 0 -2 0 -2 0 -2 0 -2 0 -2 0 -2 0 -2 0 -2 0 -2 0 -2 0 -2 0 -2 0 -2 0 -2 0 -2 0 -2 0 -2 0 -2 0 -2 0 -2 0 -2 0 -2 0 -2 0 -2 0 -2 0 -2 0 -2 0 -2 0 -2 0 -2 0 -2 0 -2 0 -2 0 0 -2 0 -2 0 -2 0 -2 0 -2 0 -2 0 -2 0 -2 0 -2 0 -2 0 -2 0 -2 0 -2 0 -2 0 -2 0 -2 0 -2 0 -2 0 -2 0 -2 0 -2 0 -2 0 -2 0 -2 0 -2 0 -2 0 -2 0 -2 0 -2 0 -2 0 -2 0 -2 0 -2 0 -2 0 -2 0 -2 0 -2 0 -2 0 -2 0 -2 0 -2 0 -2 0 -2 0 -2 0 -2 0 -2 0 -2 0 -2 0 -2 0 -2 0 -2 0 -2 0 -2 0 -2 0 -2 0 -2 0 -2 0 -2 0 -2 0 -2 0 -2 0 -2 0 -2 0 -2 0 -2 0 -2 0 -2 0 -2 0 -2 0 -2 0 -2 0 -2 0 -2 0 -2 0 -2 0 -2 2 0 2 1 2 0 2 0 2 0 2 0 2 0 2 -1 2 0 1 0 1 0 2 -1 2 0 2 -1 2 0 2 -1 2 0 2 -1 2 -1 2 -1 1 0 1 0 2 -1 2 -1 2 -1 2 -1 2 -1 2 -1 1 0 1 -1 2 -1 1 0 1 0 2 -1 1 -1 1 0 2 -1 2 -1 2 -1 2 -1 2 -1 2 -1 2 -2 1 0 1 -1 1 -1 1 -1 1 -1 1 -1 0 -1 2 -2 1 -2 1 -1 1 -1 1 -2 1 -2 1 -1 1 -1 1 -2 1 0"/><path fill="#4a0000" d="M387 76l1 0 2 -1 2 0 2 0 2 1 1 0 1 0 2 1 1 1 1 1 1 1 1 1 1 1 1 1 1 1 1 2 1 2 1 1 1 1 1 2 0 1 0 1 1 2 1 2 1 2 0 2 1 2 0 2 0 2 1 2 0 2 0 2 0 2 0 2 0 2 0 2 0 2 0 2 -1 2 0 2 0 2 0 2 0 2 0 2 -1 2 0 2 0 2 0 2 0 2 0 2 0 2 1 2 0 1 0 1 1 2 1 2 0 1 0 1 1 2 1 2 1 2 0 2 0 2 0 2 0 2 0 2 -1 2 -1 2 -1 1 -1 1 -1 2 -2 2 -2 1 -1 1 -1 1 -1 1 -1 1 -2 1 -2 1 -1 1 -1 1 -2 1 -2 1 -2 1 -2 1 -1 1 -1 0 -2 2 -1 0 -1 1 -2 1 -1 0 -1 1 -2 1 -1 0 -1 1 -2 1 -1 0 -1 1 -2 1 -1 0 -1 1 -2 0 -1 1 -1 0 -2 1 -2 1 -2 1 -2 1 -2 1 -2 1 -1 0 -1 0 -2 1 -2 1 -2 1 -2 1 -1 0 -1 0 -2 1 -2 1 -1 0 -1 1 -2 0 -2 1 -2 1 -2 0 -2 1 -2 1 -2 1 -1 0 -1 0 -2 1 -2 1 -1 0 -1 0 -2 1 -2 1 -2 1 -2 1 -1 0 -1 0 -2 0 -2 0 -2 0 -2 0 -2 0 -2 0 -2 0 -2 0 -2 0 -2 0 -2 0 -2 0 -2 0 -2 0 -2 0 -2 0 -2 0 -2 0 -2 0 -2 0 -2 0 -2 0 -2 0 -2 0 -2 0 -2 0 -2 0 -2 0 -2 0 -2 0 -2 0 -2 0 -2 0 -2 0 -2 0 -2 0 -2 0 -2 0 -2 0 -2 0 -2 0 -2 0 -2 0 -2 0 -2 0 -2 0 -2 0 -2 0 -2 0 -2 0 -2 0 -2 0 -2 0 -2 0 -2 0 -2 0 -2 0 -2 0 -2 0 -2 0 -2 0 -2 0 -2 0 -2 0 -2 0 -2 0 -2 0 -2 0 -2 0 -2 0 -2 0 -2 0 -2 0 -2 0 -2 0 -2 0 -2 0 -2 0 -2 0 -2 0 -2 0 -2 0 -2 0 -2 0 -2 0 -2 0 -2 0 -2 0 -2 0 -2 0 -2 0 -2 0 -2 0 -2 0 -2 0 -2 0 -2 0 -2 0 -2 0 -2 0 -2 0 -2 0 -2 0 -2 0 -2 0 -2 0 -2 0 -2 0 -2 0 -2 0 -2 0 -2 0 -2 0 -2 0 -2 0 -2 0 -2 0 -2 0 -2 0 -2 0 -2 0 -2 0 -2 0 -2 0 -2 0 -2 0 -2 0 -2 0 -2 0 -2 0 -2 0 -2 0 -2 0 -2 0 -2 0 -2 0 -2 0 -2 0 -2 0 -2 0 -2 0 -2 0 -2 0 -2 0 -2 0 -2 0 -2 0 -2 0 -2 0 -2 0 -2 0 -2 0 -2 0 -2 0 0 -2 0 -2 0 -2 0 -2 0 -2 0 -2 0 -2 0 -2 0 -2 0 -2 0 -2 0 -2 0 -2 0 -2 0 -2 0 -2 0 -2 0 -2 0 -2 0 -2 0 -2 0 -2 0 -2 0 -2 0 -2 0 -2 0 -2 0 -2 0 -2 0 -2 0 -2 0 -2 0 -2 0 -2 0 -2 0 -2 0 -2 0 -2 0 -2 0 -2 0 -2 0 -2 0 -2 0 -2 0 -2 0 -2 0 -2 0 -2 0 -2 0 -2 0 -2 0 -2 0 -2 0 -2 0 -2 0 -2 0 -2 0 -2 0 -1 2 -1 2 -1 2 -1 1 0 1 0 2 -1 2 -1 2 -1 2 -1 1 0 1 -1 2 0 2 -1 2 -1 2 -1 2 -1 2 -1 1 0 1 0 2 -1 2 -1 2 -1 2 -1 1 0 1 0 2 -1 2 -1 2 -1 2 0 2 -1 2 -1 2 -1 1 0 1 0 2 -1 2 -1 2 0 2 -1 2 0 2 -1 2 0 2 -1 2 -1 1 0 1 0 2 -1 2 -1 1 0 1 0 2 -1 2 -1 1 0 1 0 2 -1 2 0 2 -1 2 1 2 1 1 0 1 1 2 1 2 2 1 0 1 1 2 1 1 0 1 0 2 1 2 -1 1 0 1 0 2 -1 2 -1 2 -1 1 -1 1 0 2 -1 2 -1 2 0 2 -1 2 0 2 0 2 0 2 0 2 0 2 0 2 1 2 0 2 0 2 0 2 1 2 0 2 1 2 2 1 2 1 1 1 1 1 1 1 1 1 1 1 1 1 0 2 1 2 0 2 -1 2 -1 1 -1 1 -1 1 -1 1 -2 2 -1 2 -1 2 0 2 0 2 0 2 1 2 0 2 0 2 1 1 0 1 0 2 1 2 0 2 1 2 1 2 1 1 0 1 1 2 1 2 1 1 1 1 1 1 1 1 1 1 1 1 1 1 1 1 1 1 1 1 0 2 2 2 1 1 1 1 1 2 0 2 1 2 1 2 0 2 0 2 0 2 0 2 0 2 0 2 0 2 0 1 1 1 0 2 2 1 0 1 1 1 1 1 1 2 1 2 2 2 2 2 2 2 1 1 1 1 1 1 1 1 1 2 1 2 2 1 0 1 1 2 1 2 1 2 1 2 1 2 0 1 1 1 0 2 1 2 0 2 1 1 0 1 0 2 1 2 0 2 0 2 0 2 0 2 1 2 0 2 0 2 0 2 0 2 0 2 0 2 0 2 -1 2 0 2 0 2 0 2 0 2 0 2 -1 2 0 1 0 1 0 2 0 2 -1 2 0 2 0 2 -1 1 0 1 0 2 -1 2 -1 2 -2 2 -2 0 -1 0 -1 1 -2 0 -2 0 -2 0 -2 0 -2 0 -2 0 -2 0 -2 0 -2 0 -2 0 -2 0 -2 0 -2 1 -2 0 -2 0 -1 0 -1 1 -2 0 -2 1 -2 0 -1 0 -1 1 -2 1 -2 1 -2 1 -2 1 -2 1 -1 1 -1 1 -1 1 -1 1 -2 2 -1 1 -1 1 -1 2 -1 1 0"/><path fill="#6b0000" d="M389 100l1 -1 2 0 2 0 1 1 1 1 1 1 1 2 0 2 1 2 0 2 0 2 0 2 -1 2 0 2 -1 2 -1 2 -2 2 -2 1 -2 -1 -2 -2 -1 -2 -1 -2 0 -2 -1 -2 0 -2 0 -2 0 -2 1 -2 0 -2 1 -2 1 -1 1 -1M91 102l1 0 2 0 2 0 2 0 2 0 1 0 1 0 2 0 2 1 2 0 2 0 2 1 2 -1 2 0 2 0 2 -1 1 0 1 0 2 -1 2 0 2 0 2 0 2 0 2 0 2 0 2 0 2 0 2 0 2 0 2 1 2 0 2 0 1 0 1 0 2 0 2 1 2 0 2 1 1 0 1 0 2 1 2 1 2 0 2 1 2 0 2 0 2 0 2 0 2 0 2 0 2 1 2 0 2 1 2 0 2 1 1 0 1 0 2 1 2 1 1 0 1 0 2 1 2 1 1 0 1 0 2 1 2 1 2 1 2 1 2 1 2 1 2 1 1 1 1 1 2 1 2 1 1 1 1 0 2 2 1 0 1 1 2 1 2 1 2 1 2 1 2 1 1 0 1 1 2 1 1 0 1 1 2 1 1 0 1 1 2 1 2 1 1 1 1 0 2 2 1 0 1 1 2 1 2 1 2 1 2 1 2 1 1 0 1 0 2 1 2 1 2 0 2 1 2 1 2 0 2 1 2 0 2 0 2 1 2 0 2 0 2 1 2 0 2 0 2 0 2 1 2 0 2 0 1 0 1 0 2 0 2 0 2 0 2 1 2 0 2 0 2 0 2 0 2 0 2 0 2 1 2 0 2 0 2 0 2 0 2 1 2 0 2 0 2 1 2 0 2 0 2 1 2 0 2 1 2 1 2 0 2 1 2 1 2 1 1 0 1 1 2 1 2 1 1 1 1 1 1 1 1 2 1 2 1 2 0 2 0 2 -1 2 -1 2 -1 2 -1 2 -2 2 -2 2 -2 2 -2 1 -1 1 -1 1 -2 1 -2 1 -2 1 -2 1 -1 1 -1 0 -2 1 -2 1 -2 1 -2 1 -2 1 -2 1 -1 0 -1 0 -2 1 -2 1 -1 0 -1 0 -2 1 -2 1 -1 0 -1 0 -2 1 -2 0 -2 1 -2 0 -2 1 -2 0 -2 1 -2 0 -2 1 -2 0 -2 1 -1 0 -1 0 -2 1 -2 0 -2 1 -2 0 -2 1 -2 0 -2 1 -1 0 -1 0 -2 1 -2 0 -2 1 -2 1 -2 0 -2 1 -2 1 -2 1 -1 0 -1 1 -2 0 -1 1 -1 0 -2 1 -1 1 -1 0 -2 2 -1 0 -1 0 -2 0 -2 0 -2 0 -2 0 -2 0 -2 0 -2 0 -2 0 -2 0 -2 0 -2 0 -2 0 -2 0 -2 0 -2 0 -2 0 -2 0 -2 0 -2 0 -2 0 -2 0 -2 0 -2 0 -2 0 -2 0 -2 0 -2 0 -2 0 -2 0 -2 0 -2 0 -2 0 -2 0 -2 0 -2 0 -2 0 -2 0 -2 0 -2 0 -2 0 -2 0 -2 0 -2 0 -2 0 -2 0 -2 0 -2 0 -2 0 -2 0 -2 0 -2 0 -2 0 -2 0 -2 0 -2 0 -2 0 -2 0 -2 0 -2 0 -2 0 -2 0 -2 0 -2 0 -2 0 -2 0 -2 0 -2 0 -2 0 -2 0 -2 0 -2 0 -2 0 -2 0 -2 0 -2 0 -2 0 -2 0 -2 0 -2 0 -2 0 -2 0 -2 0 -2 0 -2 0 -2 0 -2 0 -2 0 -2 0 -2 0 -2 0 -2 0 -2 0 -2 0 -2 0 -2 0 -2 0 -2 0 -2 0 -2 0 -2 0 -2 0 -2 0 -2 0 -2 0 -2 0 -2 0 -2 0 -2 0 -2 0 -2 0 -2 0 -2 0 -2 0 -2 0 -2 0 -2 0 -2 0 -2 0 -2 0 -2 0 -2 0 -2 0 -2 0 -2 0 -2 0 -2 0 -2 0 -2 0 -2 0 -2 0 -2 0 -2 0 -2 0 0 -2 0 -2 0 -2 0 -2 0 -2 0 -2 0 -2 0 -2 0 -2 0 -2 0 -2 0 -2 0 -2 0 -2 0 -2 0 -2 0 -2 0 -2 0 -2 0 -2 0 -2 0 -2 0 -2 0 -2 0 -2 0 -2 0 -2 0 -2 0 -2 0 -2 0 -2 0 -2 0 -2 0 -2 0 -2 0 -2 0 -2 0 -2 0 -2 0 -2 0 -2 0 -2 0 -2 0 -2 0 -2 0 -2 0 -2 0 -2 0 -2 0 -2 2 -1 1 -1 1 0 2 -2 1 0 1 -1 2 -1 2 -1 2 -1 2 -1 1 -1 1 0 2 -1 1 -1 1 0 2 -1 1 -1 1 0 2 -1 1 -1 1 0 2 -1 2 -1 2 -1 2 -1 1 0 1 -1 2 0 1 -1 1 0 2 -1 2 -1 1 0 1 -1 2 0 2 -1 2 -1 2 0 2 -1 2 -1 2 0 2 -1 1 0 1 0 2 -1 2 0 2 -1 1 0 1 0 2 -1 2 0 2 -1 1 0 1 0 2 -1 2 0 2 0 2 -1 1 0"/><path fill="#900000" d="M94 110l2 0 2 0 2 0 2 0 2 0 2 0 2 0 2 0 2 0 2 0 2 0 2 0 2 -1 2 0 2 0 2 0 2 0 2 0 2 0 2 0 2 0 2 0 2 0 2 0 2 0 2 1 2 0 1 0 1 0 2 0 2 1 2 0 2 0 2 0 2 1 1 0 1 0 2 1 2 0 2 0 2 1 1 0 1 0 2 1 2 0 2 1 2 0 2 1 2 0 2 1 1 0 1 0 2 1 2 1 1 0 1 0 2 1 2 1 1 0 1 0 2 1 2 1 2 1 2 1 2 1 2 1 2 1 2 1 2 1 1 1 1 0 2 2 1 0 1 1 2 1 2 1 1 1 1 1 2 1 2 1 2 1 2 1 2 1 2 1 1 1 1 0 2 2 1 0 1 1 2 1 2 1 2 1 2 1 2 1 1 0 1 1 2 0 2 1 2 1 2 0 2 1 2 1 2 0 2 1 1 0 1 0 2 1 2 0 2 0 2 1 1 0 1 0 2 1 2 0 2 0 2 0 2 1 2 0 2 0 2 0 2 1 2 0 2 0 2 0 2 1 2 0 1 0 1 0 2 0 2 1 2 0 2 0 2 0 2 1 1 0 1 0 2 1 2 0 2 0 2 1 2 1 2 0 2 1 2 1 2 1 2 1 2 1 2 2 2 2 1 2 1 2 0 2 0 2 -1 2 -1 2 0 1 -1 1 -1 1 -1 1 -1 1 -1 1 -1 1 -2 1 -2 1 -1 1 -1 0 -2 1 -1 1 -1 0 -2 1 -2 1 -2 1 -2 1 -1 0 -1 0 -2 1 -2 1 -1 0 -1 0 -2 1 -2 0 -2 1 -2 1 -2 0 -2 1 -2 0 -2 1 -2 0 -2 0 -2 1 -2 0 -2 1 -2 0 -2 1 -1 0 -1 0 -2 1 -2 0 -2 1 -1 0 -1 0 -2 1 -2 0 -2 1 -1 0 -1 0 -2 1 -2 1 -1 0 -1 1 -2 0 -2 1 -2 1 -2 1 -2 1 -2 1 -1 0 -1 1 -2 1 -2 1 -2 1 -2 1 -1 1 -1 0 -2 2 -1 0 -1 0 -2 0 -2 0 -2 0 -2 0 -2 0 -2 0 -2 0 -2 0 -2 0 -2 0 -2 0 -2 0 -2 0 -2 0 -2 0 -2 0 -2 0 -2 0 -2 0 -2 0 -2 0 -2 0 -2 0 -2 0 -2 0 -2 0 -2 0 -2 0 -2 0 -2 0 -2 0 -2 0 -2 0 -2 0 -2 0 -2 0 -2 0 -2 0 -2 0 -2 0 -2 0 -2 0 -2 0 -2 0 -2 0 -2 0 -2 0 -2 0 -2 0 -2 0 -2 0 -2 0 -2 0 -2 0 -2 0 -2 0 -2 0 -2 0 -2 0 -2 0 -2 0 -2 0 -2 0 -2 0 -2 0 -2 0 -2 0 -2 0 -2 0 -2 0 -2 0 -2 0 -2 0 -2 0 -2 0 -2 0 -2 0 -2 0 -2 0 -2 0 -2 0 -2 0 -2 0 -2 0 -2 0 -2 0 -2 0 -2 0 -2 0 -2 0 -2 0 -2 0 -2 0 -2 0 -2 0 -2 0 -2 0 -2 0 -2 0 -2 0 -2 0 -2 0 -2 0 -2 0 -2 0 -2 0 -2 0 -2 0 -2 0 -2 0 -2 0 -2 0 -2 0 -2 0 -2 0 -2 0 -2 0 -2 0 -2 0 -2 0 -2 0 -2 0 -2 0 -1 0 -1 -1 0 -1 0 -2 0 -2 0 -2 0 -2 0 -2 0 -2 0 -2 0 -2 0 -2 0 -2 0 -2 0 -2 0 -2 0 -2 0 -2 0 -2 0 -2 0 -2 0 -2 0 -2 0 -2 0 -2 0 -2 0 -2 0 -2 0 -2 0 -2 0 -2 0 -2 0 -2 0 -2 0 -2 0 -2 0 -2 0 -2 0 -2 0 -2 0 -2 0 -2 0 -2 0 -2 0 -2 0 -1 1 -1 1 -1 1 -1 1 -1 1 -1 1 0 2 -2 2 -1 1 -1 1 -1 2 -1 2 -1 1 -1 1 -1 2 -1 2 -1 2 -1 2 -1 1 -1 1 0 2 -1 1 -1 1 0 2 -1 1 -1 1 0 2 -1 2 -1 2 -1 2 -1 2 -1 2 0 1 -1 1 0 2 -1 2 -1 1 0 1 0 2 -1 2 -1 1 0 1 0 2 -1 2 -1 2 0 2 -1 2 0 2 -1 1 0 1 0 2 -1 2 0 2 -1 2 0 2 0 2 -1 2 0 2 0 2 -1 2 0"/><path fill="#b80000" d="M95 116l1 0 2 0 2 0 2 0 2 0 2 0 2 0 2 0 2 0 2 -1 2 0 2 0 2 0 2 0 2 0 2 0 2 0 2 0 2 0 2 0 2 0 2 0 2 0 2 0 2 0 2 1 2 0 1 0 1 0 2 0 2 1 2 0 2 0 2 1 2 0 2 0 2 1 2 0 2 1 2 0 2 0 2 1 2 1 2 0 2 1 2 0 2 1 1 0 1 0 2 1 2 1 1 0 1 1 2 0 2 1 2 1 2 1 1 0 1 1 2 0 1 1 1 0 2 1 1 1 1 0 2 1 1 1 1 1 2 1 1 0 1 1 2 1 2 1 1 1 1 1 2 1 2 1 1 1 1 0 2 2 1 0 1 1 2 1 2 1 2 1 2 1 2 1 2 1 2 1 2 1 2 1 2 1 2 1 1 0 1 0 2 1 2 1 2 0 2 1 2 1 1 0 1 0 2 1 2 0 2 1 2 0 2 0 2 1 2 0 2 1 2 0 2 0 2 1 2 0 2 0 2 1 2 0 1 0 1 0 2 0 2 1 2 0 2 0 2 1 1 0 1 0 2 1 2 0 2 0 2 1 1 0 1 0 2 1 2 1 1 0 1 0 2 1 2 1 2 1 2 1 2 2 2 2 0 1 1 1 0 2 0 2 -1 2 -2 2 -2 2 -2 2 -2 1 -1 1 -1 0 -2 1 -1 1 -1 0 -2 1 -2 1 -2 1 -2 0 -2 1 -2 1 -2 0 -2 1 -2 0 -2 1 -2 1 -2 0 -2 1 -2 0 -2 0 -2 1 -2 0 -2 1 -2 0 -2 1 -2 0 -2 1 -2 0 -2 1 -2 1 -2 0 -2 1 -1 0 -1 0 -2 1 -2 1 -1 0 -1 0 -2 1 -2 1 -2 1 -2 1 -2 1 -2 1 -1 0 -1 1 -2 1 -2 1 -2 1 -2 1 -2 1 -2 1 -1 1 -1 1 -2 1 -2 1 -2 1 -2 0 -2 0 -2 0 -2 0 -2 0 -2 0 -2 0 -2 0 -2 0 -2 0 -2 0 -2 0 -2 0 -2 0 -2 0 -2 0 -2 0 -2 0 -2 0 -2 0 -2 0 -2 0 -2 0 -2 0 -2 0 -2 0 -2 0 -2 0 -2 0 -2 0 -2 0 -2 0 -2 0 -2 0 -2 0 -2 0 -2 0 -2 0 -2 0 -2 0 -2 0 -2 0 -2 0 -2 0 -2 0 -2 0 -2 0 -2 0 -2 0 -2 0 -2 0 -2 0 -2 0 -2 0 -2 0 -2 0 -2 0 -2 0 -2 0 -2 0 -2 0 -2 0 -2 0 -2 0 -2 0 -2 0 -2 0 -2 0 -2 0 -2 0 -2 0 -2 0 -2 0 -2 0 -2 0 -2 0 -2 0 -2 0 -2 0 -2 0 -2 0 -2 0 -2 0 -2 0 -2 0 -2 0 -2 0 -2 0 -2 0 -2 0 -2 0 -2 0 -2 0 -2 0 -2 0 -2 0 -2 0 -2 0 -2 0 -2 0 -2 0 -2 0 -2 0 -2 0 -2 0 -2 0 -2 0 -2 0 -2 0 -2 0 -2 0 -1 0 -1 -1 -1 -1 -1 0 -2 -2 -2 -2 -2 -2 -1 0 -1 -1 -1 -1 -1 -2 0 -2 0 -2 0 -2 0 -2 0 -2 0 -2 0 -2 0 -2 0 -2 0 -2 0 -2 0 -2 0 -2 0 -2 0 -2 0 -2 0 -2 0 -2 0 -2 0 -2 0 -2 0 -2 0 -2 0 -2 0 -2 0 -2 0 -2 0 -2 0 -2 0 -2 0 -2 0 -2 2 -2 2 -2 2 -2 2 -2 2 -2 2 -2 2 -1 1 -1 1 -1 1 -1 1 0 2 -2 2 -1 1 -1 1 0 2 -2 1 0 1 -1 2 -1 2 -1 2 -1 2 -1 1 -1 1 0 2 -1 2 -1 2 -1 2 -1 2 -1 2 -1 1 0 1 0 2 -1 2 -1 2 -1 2 0 2 -1 2 -1 2 0 2 -1 2 0 2 -1 2 -1 2 0 2 -1 2 0 2 0 2 -1 1 0 1 0 2 -1 2 0 2 0 2 -1 2 0 1 0"/><path fill="#e20000" d="M115 120l1 0 2 0 2 0 2 0 2 -1 2 0 2 0 2 1 2 0 2 0 2 0 2 0 1 0 1 0 2 0 2 0 2 1 2 0 2 0 2 0 2 1 2 0 2 0 2 1 2 0 2 1 2 0 2 0 2 1 2 0 2 1 1 0 1 0 2 1 2 1 2 0 2 1 2 0 2 1 2 1 2 1 1 0 1 0 2 1 2 1 2 1 2 1 1 0 1 1 2 1 1 0 1 1 2 1 1 0 1 1 2 1 2 1 2 1 2 1 1 1 1 1 2 1 2 1 1 1 1 0 2 2 1 0 1 1 2 1 2 1 2 1 2 1 1 1 1 0 2 1 1 1 1 0 2 1 2 1 2 1 2 1 1 0 1 0 2 1 2 1 1 0 1 0 2 1 2 1 1 0 1 0 2 1 2 0 2 1 1 0 1 0 2 1 2 0 2 1 2 0 2 0 2 1 2 0 2 1 2 0 2 0 2 1 2 0 2 1 2 0 2 1 2 0 2 1 2 0 2 1 2 0 2 1 2 1 2 1 2 1 1 1 1 1 1 1 1 2 0 1 0 1 -1 2 -1 2 -2 2 -2 1 -1 1 -1 1 -2 1 -1 0 -1 0 -2 1 -2 1 -2 1 -2 1 -1 0 -1 0 -2 1 -2 0 -2 1 -2 1 -2 0 -2 1 -1 0 -1 0 -2 1 -2 0 -2 1 -1 0 -1 0 -2 1 -2 1 -2 0 -2 1 -2 0 -2 1 -2 1 -2 0 -2 1 -2 1 -2 1 -1 0 -1 0 -2 1 -2 1 -2 1 -2 1 -2 1 -2 1 -2 1 -2 1 -2 1 -1 1 -1 0 -2 2 -1 0 -1 1 -2 1 -2 1 -2 1 -2 1 -1 1 -1 1 -2 1 -2 0 -2 0 -2 0 -2 0 -2 0 -2 0 -2 0 -2 0 -2 0 -2 0 -2 0 -2 0 -2 0 -2 0 -2 0 -2 0 -2 0 -2 0 -2 0 -2 0 -2 0 -2 0 -2 0 -2 0 -2 0 -2 0 -2 0 -2 0 -2 0 -2 0 -2 0 -2 0 -2 0 -2 0 -2 0 -2 0 -2 0 -2 0 -2 0 -2 0 -2 0 -2 0 -2 0 -2 0 -2 0 -2 0 -2 0 -2 0 -2 0 -2 0 -2 0 -2 0 -2 0 -2 0 -2 0 -2 0 -2 0 -2 0 -2 0 -2 0 -2 0 -2 0 -2 0 -2 0 -2 0 -2 0 -2 0 -2 0 -2 0 -2 0 -2 0 -2 0 -2 0 -2 0 -2 0 -2 0 -2 0 -2 0 -2 0 -2 0 -2 0 -2 0 -2 0 -2 0 -2 0 -2 0 -2 0 -2 0 -2 0 -2 0 -2 0 -2 0 -2 0 -2 0 -2 0 -2 0 -2 0 -2 0 -2 0 -2 0 -2 0 -2 -1 -1 -1 -1 -1 -2 -1 -2 -2 -1 0 -1 -1 -1 -1 -1 -1 -1 -1 -1 -1 -1 -1 -1 -1 -1 -1 -1 -1 -1 -1 -1 -2 -2 -2 -1 -2 -1 -2 0 -2 0 -2 0 -2 0 -2 0 -2 0 -2 0 -2 0 -2 0 -2 0 -2 0 -2 0 -2 0 -2 0 -2 0 -2 0 -2 0 -2 0 -2 0 -2 1 -2 1 -2 1 -2 1 -1 1 -1 1 -2 2 -2 1 -2 1 -1 1 -1 1 -1 1 -1 1 -1 1 -1 1 -1 1 -1 1 -1 2 -1 2 -2 2 -1 1 -1 1 -1 2 -1 2 -1 1 -1 1 -1 2 -1 2 -1 2 -1 2 -1 2 -1 2 -1 2 -1 2 -1 2 -1 2 -1 2 -1 1 0 1 0 2 -1 2 -1 2 -1 2 0 2 -1 2 -1 2 0 2 -1 1 0 1 0 2 -1 2 0 2 -1 1 0 1 0 2 -1 2 0 2 -1 2 0 1 0 1 0 2 -1 2 0 2 0 2 0 2 0 2 -1 2 0 2 0 2 0 2 0 2 0 2 0 1 0"/><path fill="#f51100" d="M119 124l1 0 2 0 2 0 2 0 2 0 2 0 2 0 1 0 1 0 2 0 2 0 2 0 2 1 2 0 2 0 2 0 2 1 2 0 2 0 2 1 2 0 2 0 2 1 1 0 1 0 2 1 2 0 2 1 2 0 2 1 2 0 2 1 1 0 1 0 2 1 2 1 1 0 1 0 2 1 2 1 2 1 2 1 1 0 1 0 2 1 1 1 1 0 2 1 2 1 2 1 1 1 1 0 2 1 1 1 1 1 2 1 2 1 2 1 2 1 1 1 1 1 2 1 2 1 2 1 2 1 1 1 1 1 2 1 1 0 1 1 2 1 1 0 1 1 2 1 1 0 1 1 2 0 1 1 1 0 2 1 2 1 1 0 1 1 2 0 2 1 2 1 2 0 2 1 2 0 2 1 2 1 1 0 1 0 2 1 2 0 2 1 1 0 1 0 2 1 2 0 2 1 1 0 1 0 2 1 2 0 2 1 2 1 2 0 2 1 2 1 2 1 1 0 1 1 2 1 2 2 0 1 0 1 0 2 -1 2 -1 1 -1 1 -1 0 -2 2 -1 0 -1 1 -2 1 -1 0 -1 0 -2 1 -2 1 -2 1 -2 0 -2 1 -2 1 -2 0 -2 1 -2 1 -2 0 -2 1 -1 0 -1 0 -2 1 -2 1 -1 0 -1 1 -2 0 -2 1 -2 1 -2 0 -1 1 -1 0 -2 1 -2 1 -2 1 -2 1 -2 1 -2 1 -2 1 -2 1 -2 1 -2 1 -2 1 -1 1 -1 0 -2 2 -1 0 -1 1 -2 1 -2 1 -2 1 -2 1 -1 1 -1 1 -2 1 -1 0 -1 1 -2 1 -2 0 -2 0 -2 0 -2 0 -2 0 -2 0 -2 0 -2 0 -2 0 -2 0 -2 0 -2 0 -2 0 -2 0 -2 0 -2 0 -2 0 -2 0 -2 0 -2 0 -2 0 -2 0 -2 0 -2 0 -2 0 -2 0 -2 0 -2 0 -2 0 -2 0 -2 0 -2 0 -2 0 -2 0 -2 0 -2 0 -2 0 -2 0 -2 0 -2 0 -2 0 -2 0 -2 0 -2 0 -2 0 -2 0 -2 0 -2 0 -2 0 -2 0 -2 0 -2 0 -2 0 -2 0 -2 0 -2 0 -2 0 -2 0 -2 0 -2 0 -2 0 -2 0 -2 0 -2 0 -2 0 -2 0 -2 0 -2 0 -2 0 -2 0 -2 0 -2 0 -2 0 -2 0 -2 0 -2 0 -2 0 -2 0 -2 0 -2 0 -2 0 -2 0 -2 0 -2 0 -2 0 -2 0 -2 0 -2 0 -2 0 -2 0 -2 0 -1 0 -1 -1 -2 -1 -2 -1 -1 -1 -1 -1 -2 -1 -2 -2 -2 -1 -1 -1 -1 -1 -1 -1 -1 -1 -1 -1 -1 -1 -1 -1 -1 -1 0 -1 -2 -2 -1 -2 -1 -1 -1 -1 -1 -2 0 -1 -1 -1 0 -2 -1 -2 -1 -2 0 -2 0 -2 0 -2 -1 -2 1 -2 0 -2 0 -2 0 -2 1 -2 0 -1 0 -1 1 -2 1 -2 0 -1 1 -1 1 -2 0 -1 1 -1 1 -2 1 -2 1 -1 0 -1 2 -2 2 -2 1 -2 1 -1 1 -1 1 -1 1 -1 1 -1 2 -1 2 -2 2 -2 1 0 1 -1 1 -1 1 0 2 -2 2 -1 1 -1 1 0 2 -2 1 0 1 -1 2 -1 2 -1 2 -1 2 -1 2 -1 1 0 1 -1 2 0 1 -1 1 0 2 -1 2 -1 1 0 1 0 2 -1 2 -1 1 0 1 0 2 -1 2 -1 1 0 1 0 2 -1 2 0 2 -1 1 0 1 0 2 -1 2 0 2 0 2 -1 2 0 2 0 2 -1 2 0 2 0 2 0 2 0 2 0 2 0 2 -1 2 0 2 0 2 0 2 0 1 0"/><path fill="#fd2a00" d="M118 128l2 0 2 0 2 0 2 0 2 0 2 0 2 0 2 0 2 0 2 0 2 1 2 0 2 0 2 0 2 0 2 1 1 0 1 0 2 0 2 1 2 0 2 1 2 0 2 0 2 1 2 0 2 1 2 0 2 1 2 1 1 0 1 0 2 1 2 1 1 0 1 0 2 1 2 1 2 1 2 1 1 0 1 1 2 0 1 1 1 0 2 1 1 1 1 0 2 1 1 1 1 1 2 1 1 0 1 1 2 1 2 1 1 1 1 0 2 2 1 0 1 1 2 1 2 1 2 1 2 1 1 1 1 0 2 2 1 0 1 1 2 1 1 0 1 1 2 0 1 1 1 0 2 1 2 1 2 1 2 1 1 0 1 0 2 1 2 1 2 1 2 0 2 1 2 1 2 0 2 1 2 1 2 0 2 1 2 1 2 0 2 1 2 1 2 1 1 0 1 1 2 1 2 1 1 1 1 2 0 2 -1 2 -1 1 -1 1 -1 1 -2 1 -2 1 -2 1 -2 1 -2 1 -1 0 -1 0 -2 1 -2 1 -2 1 -2 1 -1 0 -1 0 -2 1 -2 1 -2 1 -2 1 -1 0 -1 0 -2 1 -2 1 -2 1 -2 1 -2 1 -2 1 -2 1 -2 1 -2 1 -2 1 -2 1 -1 1 -1 0 -2 2 -1 0 -1 1 -2 1 -2 1 -1 1 -1 0 -2 1 -1 1 -1 1 -2 1 -2 1 -2 1 -2 1 -2 1 -2 1 -2 1 -2 0 -2 0 -2 0 -2 0 -2 0 -2 0 -2 0 -2 0 -2 0 -2 0 -2 0 -2 0 -2 0 -2 0 -2 0 -2 0 -2 0 -2 0 -2 0 -2 0 -2 0 -2 0 -2 0 -2 0 -2 0 -2 0 -2 0 -2 0 -2 0 -2 0 -2 0 -2 0 -2 0 -2 0 -2 0 -2 0 -2 0 -2 0 -2 0 -2 0 -2 0 -2 0 -2 0 -2 0 -2 0 -2 0 -2 0 -2 0 -2 0 -2 0 -2 0 -2 0 -2 0 -2 0 -2 0 -2 0 -2 0 -2 0 -2 0 -2 0 -2 0 -2 0 -2 0 -2 0 -2 0 -2 0 -2 0 -2 0 -2 0 -2 0 -2 0 -2 0 -2 0 -2 0 -2 0 -2 0 -2 0 -2 0 -2 0 -2 0 -2 0 -1 0 -1 0 -2 -1 -1 -1 -1 -1 -2 -1 -2 -1 -1 -1 -1 0 -2 -2 -2 -1 -1 -1 -1 -1 -1 -1 -1 -1 -1 -1 -1 -1 -1 -1 -1 -1 -1 -1 -1 -1 -1 -1 -1 -2 -1 -2 -1 -1 -1 -1 -1 -2 0 -1 0 -1 -1 -2 -1 -2 0 -1 0 -1 -1 -2 0 -2 0 -2 0 -2 0 -2 1 -2 0 -1 0 -1 1 -2 0 -2 1 -2 1 -2 1 -2 0 -1 1 -1 1 -2 1 -2 1 -2 2 -2 1 -2 1 -1 1 -1 1 -1 1 -1 1 -1 1 -1 1 -1 1 -1 1 -1 2 -1 2 -2 2 -1 1 -1 1 -1 2 -1 2 -1 1 -1 1 0 2 -2 1 0 1 -1 2 -1 1 0 1 -1 2 -1 1 0 1 -1 2 0 1 -1 1 0 2 -1 2 -1 2 -1 2 0 2 -1 2 -1 2 0 2 -1 1 0 1 0 2 -1 2 0 2 -1 1 0 1 0 2 -1 2 0 2 -1 2 0 1 0 1 0 2 0 2 -1 2 0 2 0 2 0 2 0 2 0 2 -1 2 0 2 0 2 0 2 0"/><path fill="#f24e00" d="M114 132l2 0 2 0 2 0 2 0 2 0 2 0 2 0 2 0 2 0 2 0 2 0 2 0 2 0 2 1 2 0 2 0 2 0 2 1 1 0 1 0 2 0 2 1 2 0 2 1 2 0 2 1 2 0 2 1 1 0 1 0 2 1 2 0 2 1 2 1 2 0 1 1 1 0 2 1 2 1 1 0 1 1 2 0 1 1 1 0 2 1 1 1 1 0 2 1 1 1 1 0 2 1 1 1 1 1 2 1 1 0 1 1 2 1 2 1 2 1 2 1 1 1 1 1 2 1 2 1 2 1 2 1 2 1 2 1 2 1 2 1 2 1 2 1 2 1 2 1 2 1 2 1 2 0 1 1 1 0 2 1 2 1 2 1 2 1 1 0 1 1 2 0 1 1 1 0 2 1 2 1 2 1 1 1 1 1 2 1 0 1 1 1 0 2 0 2 -1 1 -1 1 -1 1 -2 1 -2 1 -1 1 -1 1 -2 1 -1 0 -1 1 -2 1 -1 0 -1 1 -2 1 -1 0 -1 0 -2 1 -1 1 -1 0 -2 1 -1 1 -1 0 -2 1 -1 1 -1 0 -2 1 -1 1 -1 0 -2 1 -1 1 -1 1 -2 1 -1 0 -1 1 -2 1 -2 1 -2 1 -2 1 -1 1 -1 1 -2 1 -2 1 -2 1 -2 1 -1 1 -1 0 -2 1 -1 1 -1 1 -2 1 -1 0 -1 1 -2 1 -1 0 -1 0 -2 1 -1 1 -1 0 -2 0 -2 0 -2 0 -2 0 -2 0 -2 0 -2 0 -2 0 -2 0 -2 0 -2 0 -2 0 -2 0 -2 0 -2 0 -2 0 -2 0 -2 0 -2 0 -2 0 -2 0 -2 0 -2 0 -2 0 -2 0 -2 0 -2 0 -2 0 -2 0 -2 0 -2 0 -2 0 -2 0 -2 0 -2 0 -2 0 -2 0 -2 0 -2 0 -2 0 -2 0 -2 0 -2 0 -2 0 -2 0 -2 0 -2 0 -2 0 -2 0 -2 0 -2 0 -2 0 -2 0 -2 0 -2 0 -2 0 -2 0 -2 0 -2 0 -2 0 -2 0 -2 0 -2 0 -2 0 -2 0 -2 0 -2 0 -2 0 -2 0 -2 0 -2 0 -2 0 -2 -1 -2 -1 -2 -1 -2 -1 -2 -1 -1 -1 -1 -1 -2 -1 -2 -1 -1 -1 -1 -1 -2 -1 -2 -2 -2 -2 -2 -2 -2 -2 -1 -2 -1 -1 -1 -1 -1 -2 -1 -2 -1 -2 -1 -2 0 -2 -1 -2 0 -2 0 -2 0 -2 0 -2 0 -2 0 -2 1 -2 0 -2 1 -2 0 -1 0 -1 1 -2 1 -1 0 -1 1 -2 1 -1 1 -1 1 -2 1 -2 1 -1 1 -1 1 -1 1 -1 1 -1 1 -1 1 -1 1 -1 1 -1 1 -1 1 -1 1 -1 1 -1 2 -1 2 -2 1 0 1 -1 2 -1 2 -1 1 -1 1 -1 2 -1 1 0 1 -1 2 -1 2 -1 2 -1 1 0 1 -1 2 0 2 -1 2 -1 2 -1 1 0 1 0 2 -1 2 -1 1 0 1 0 2 -1 2 0 2 -1 1 0 1 0 2 -1 2 0 2 0 2 -1 1 0 1 0 2 0 2 -1 2 0 2 0 2 0 2 -1 2 0 2 0 2 0 2 0"/><path fill="#e27400" d="M109 136l1 0 2 0 2 0 2 0 2 0 2 -1 2 0 2 0 2 0 2 0 2 1 2 0 2 0 2 0 1 0 1 0 2 0 2 1 2 0 2 0 2 0 2 1 2 0 2 0 2 1 2 0 2 1 1 0 1 0 2 1 2 0 2 1 1 0 1 0 2 1 2 1 1 0 1 0 2 1 2 1 2 1 2 0 1 1 1 0 2 1 2 1 2 1 2 1 2 1 2 1 2 1 1 1 1 0 2 1 1 1 1 1 2 1 1 0 1 1 2 1 2 1 2 1 2 1 1 1 1 0 2 2 1 0 1 1 2 1 1 0 1 1 2 1 2 1 2 1 2 1 2 1 1 0 1 1 2 1 1 0 1 1 2 1 1 0 1 1 2 1 1 0 1 1 2 1 2 1 1 1 1 1 1 1 1 1 1 1 0 2 0 2 -1 1 0 1 -2 2 -2 1 -1 1 -1 1 -2 1 -2 1 -2 1 -2 1 -1 1 -1 0 -2 2 -1 0 -1 1 -2 1 -2 1 -2 1 -2 1 -2 1 -2 1 -1 1 -1 0 -2 2 -1 0 -1 1 -2 1 -2 1 -2 1 -2 1 -1 1 -1 1 -2 1 -2 1 -2 1 -2 1 -2 1 -2 1 -2 1 -2 1 -2 1 -2 1 -2 1 -1 0 -1 1 -2 0 -2 1 -2 0 -2 0 -2 0 -2 0 -2 0 -2 0 -2 0 -2 0 -2 0 -2 0 -2 0 -2 0 -2 0 -2 0 -2 0 -2 0 -2 0 -2 0 -2 0 -2 0 -2 0 -2 0 -2 0 -2 0 -2 0 -2 0 -2 0 -2 0 -2 0 -2 0 -2 0 -2 0 -2 0 -2 0 -2 0 -2 0 -2 0 -2 0 -2 0 -2 0 -2 0 -2 0 -2 0 -2 0 -2 0 -2 0 -2 0 -2 0 -2 0 -2 0 -2 0 -2 0 -2 0 -2 0 -2 0 -2 0 -2 0 -2 0 -2 0 -2 0 -2 0 -2 0 -2 -1 -2 -1 -1 0 -1 -1 -2 -1 -1 0 -1 -1 -2 -1 -1 0 -1 -1 -2 -1 -2 -1 -1 -1 -1 -1 -2 -1 -2 -2 -1 0 -1 -1 -1 -1 -1 -1 -1 -1 -1 -1 -1 -1 -1 -1 0 -1 -2 -2 -1 -2 -1 -1 0 -1 -1 -2 -1 -1 0 -1 -1 -2 0 -2 -1 -2 0 -2 0 -2 0 -1 0 -1 0 -2 1 -2 0 -2 0 -2 1 -2 1 -2 1 -2 1 -2 1 -2 1 -2 1 -1 1 -1 1 -2 2 -2 2 -2 2 -2 2 -2 2 -2 2 -1 1 -1 1 -1 2 -1 2 -1 1 -1 1 -1 2 -1 2 -1 2 -1 2 -1 2 -1 2 -1 2 -1 1 0 1 0 2 -1 2 -1 2 -1 2 0 2 -1 2 -1 2 0 2 -1 1 0 1 0 2 -1 2 0 2 -1 2 0 2 0 2 -1 2 0 2 0 2 0 2 -1 2 0 2 0 1 0"/><path fill="#c6c100" d="M107 140l1 0 2 0 2 0 2 -1 2 0 2 0 2 0 2 0 2 0 2 0 2 0 2 0 2 0 2 1 2 0 2 0 1 0 1 0 2 0 2 1 2 0 2 0 2 1 2 0 2 0 2 1 2 0 2 1 1 0 1 0 2 1 2 0 2 1 2 1 2 0 2 1 2 1 2 1 1 0 1 0 2 1 2 1 2 1 2 1 2 1 2 1 2 1 2 1 2 1 2 1 2 1 2 1 2 1 1 1 1 0 2 2 1 0 1 1 2 1 2 1 2 1 2 1 2 1 2 1 1 1 1 0 2 1 1 1 1 1 2 1 1 0 1 1 2 1 2 1 2 1 2 1 1 1 1 1 1 1 1 1 1 1 1 1 1 1 0 2 0 2 -1 2 -1 2 -1 0 -2 2 -2 2 -2 1 -1 1 -1 0 -2 2 -2 1 -2 1 -2 1 -1 1 -1 1 -2 1 -2 1 -2 1 -2 1 -1 1 -1 0 -2 2 -1 0 -1 1 -2 1 -2 1 -2 1 -2 1 -1 1 -1 0 -2 2 -1 0 -1 1 -2 1 -1 0 -1 1 -2 1 -1 0 -1 1 -2 1 -1 0 -1 0 -2 1 -2 1 -2 1 -2 1 -1 0 -1 0 -2 1 -2 1 -1 0 -1 0 -2 0 -2 0 -2 0 -2 0 -2 0 -2 0 -2 0 -2 0 -2 0 -2 0 -2 0 -2 0 -2 0 -2 0 -2 0 -2 0 -2 0 -2 0 -2 0 -2 0 -2 0 -2 0 -2 0 -2 0 -2 0 -2 0 -2 0 -2 0 -2 0 -2 0 -2 0 -2 0 -2 0 -2 0 -2 0 -2 0 -2 0 -2 0 -2 0 -2 0 -2 0 -2 0 -2 0 -2 0 -2 0 -2 0 -2 0 -2 0 -2 0 -2 0 -1 0 -1 0 -2 -1 -2 -1 -2 -1 -2 0 -1 -1 -1 0 -2 -1 -2 -1 -2 -1 -2 -1 -2 -1 -1 -1 -1 -1 -2 -1 -2 -1 -1 -1 -1 -1 -1 -1 -1 -1 -2 -1 -2 -2 -2 -2 0 -1 -1 -1 -1 -1 -1 -1 -1 -2 -1 -2 -1 -2 -1 -2 0 -2 -1 -2 0 -2 0 -2 0 -2 0 -2 1 -2 0 -2 1 -2 1 -2 0 -2 1 -1 0 -1 1 -2 1 -1 1 -1 1 -2 2 -2 1 -2 1 -1 1 -1 1 -1 1 -1 1 -1 1 -1 1 -1 2 -1 2 -2 2 -1 1 -1 1 0 2 -2 1 0 1 -1 2 -1 2 -1 2 -1 2 -1 2 -1 2 -1 2 -1 1 0 1 0 2 -1 2 -1 1 0 1 0 2 -1 2 -1 2 0 2 -1 2 0 2 -1 2 0 2 0 2 -1 2 0 2 0 2 -1 2 0 2 0 1 0"/><path fill="#84dc0c" d="M106 144l2 0 2 0 2 -1 2 0 2 0 2 0 2 0 2 0 2 0 2 0 2 0 2 0 2 0 2 0 2 1 2 0 1 0 1 0 2 0 2 1 2 0 2 0 2 1 2 0 2 0 2 1 2 0 2 1 2 0 2 1 2 1 1 0 1 0 2 1 2 1 1 0 1 0 2 1 2 1 2 1 2 1 2 1 2 1 1 0 1 1 2 1 1 0 1 1 2 1 1 0 1 1 2 1 2 1 2 1 2 1 2 1 2 1 1 1 1 0 2 2 1 0 1 1 2 1 2 1 2 1 2 1 1 1 1 0 2 2 1 0 1 1 2 1 2 2 1 0 1 1 1 1 1 1 1 1 1 2 1 2 0 2 -1 2 -1 2 -1 1 -1 1 -1 1 -2 1 -2 2 -2 1 -1 1 -1 1 -2 1 -2 1 -1 1 -1 0 -2 2 -1 0 -1 1 -2 1 -2 1 -1 1 -1 0 -2 2 -1 0 -1 1 -2 1 -2 1 -2 1 -2 1 -2 1 -2 1 -2 1 -2 1 -2 1 -2 1 -2 1 -2 1 -2 1 -1 0 -1 0 -2 1 -2 1 -1 0 -1 0 -2 1 -2 1 -1 0 -1 0 -2 1 -2 0 -2 1 -1 0 -1 0 -2 0 -2 0 -2 0 -2 0 -2 0 -2 0 -2 0 -2 0 -2 0 -2 0 -2 0 -2 0 -2 0 -2 0 -2 0 -2 0 -2 0 -2 0 -2 0 -2 0 -2 0 -2 0 -2 0 -2 0 -2 0 -2 0 -2 0 -2 0 -2 0 -2 0 -2 0 -2 0 -2 0 -2 0 -2 0 -2 0 -1 0 -1 0 -2 -1 -2 0 -2 -1 -2 -1 -2 0 -2 -1 -2 -1 -2 0 -2 -1 -2 -1 -2 -1 -2 -1 -2 -1 -2 -1 -2 -1 -2 -1 -1 -1 -1 -1 -2 -1 -2 -2 -2 -2 -2 -2 -2 -2 -2 -2 -1 -2 -1 -1 0 -1 -1 -2 -1 -2 -1 -2 0 -2 -1 -2 0 -2 0 -2 1 -2 0 -2 1 -2 0 -1 0 -1 1 -2 1 -2 1 -2 1 -2 2 -2 1 -2 1 -1 1 -1 1 -1 1 -1 1 -1 1 -1 1 -1 1 -1 1 -1 1 -1 1 0 2 -2 2 -1 1 -1 1 -1 2 -1 2 -1 2 -1 2 -1 2 -1 2 -1 2 -1 1 0 1 0 2 -1 2 -1 2 -1 2 0 2 -1 1 0 1 0 2 -1 2 0 2 -1 1 0 1 0 2 -1 2 0 2 0 2 -1 2 0 2 0"/><path fill="#5ae026" d="M107 148l1 0 2 0 2 0 2 -1 2 0 2 0 2 0 2 0 2 0 2 0 2 0 2 0 2 0 2 1 2 0 2 0 2 0 2 1 2 0 2 0 2 1 2 0 2 0 2 1 2 0 2 1 1 0 1 0 2 1 2 1 1 0 1 0 2 1 2 1 1 0 1 0 2 1 2 1 2 1 2 1 1 0 1 1 2 1 1 0 1 1 2 1 1 0 1 1 2 1 1 0 1 1 2 1 1 0 1 1 2 1 2 1 2 1 2 1 1 1 1 0 2 1 1 1 1 1 2 1 2 1 2 1 2 2 2 1 1 1 1 1 1 1 1 1 1 1 1 2 1 2 0 2 -1 2 0 1 -1 1 -1 1 -1 1 -1 1 -1 1 -1 1 -1 1 -1 1 -2 1 -2 1 -1 1 -1 1 -2 1 -2 1 -1 1 -1 1 -2 1 -2 1 -2 1 -2 1 -1 1 -1 0 -2 1 -1 1 -1 0 -2 2 -1 0 -1 1 -2 1 -1 0 -1 1 -2 0 -1 1 -1 0 -2 1 -2 1 -2 1 -2 1 -1 0 -1 0 -2 1 -2 1 -1 0 -1 0 -2 1 -2 0 -2 1 -2 0 -2 1 -2 0 -2 1 -2 0 -2 0 -2 1 -2 0 -2 0 -2 1 -2 0 -2 0 -1 0 -1 0 -2 0 -2 0 -2 0 -2 0 -2 0 -2 0 -2 0 -2 0 -2 0 -2 0 -2 0 -2 0 -1 0 -1 0 -2 0 -2 -1 -2 0 -2 0 -2 0 -2 -1 -2 0 -2 0 -2 -1 -2 0 -2 -1 -1 0 -1 0 -2 -1 -2 0 -2 -1 -2 -1 -2 0 -1 -1 -1 0 -2 -1 -2 -1 -2 -1 -2 -1 -2 -1 -2 -1 -2 -1 -1 -1 -1 -1 -2 -1 -2 -2 -2 -1 -1 -1 -1 -1 -1 -1 -1 -1 -1 -1 -1 -2 -2 -2 0 -1 -1 -1 -1 -2 0 -1 0 -1 -1 -2 0 -2 0 -2 0 -2 0 -2 0 -2 1 -2 1 -2 1 -2 0 -1 1 -1 1 -2 1 -2 1 -1 1 -1 1 -1 1 -1 1 -1 1 -1 1 -1 1 -1 1 -1 1 -1 1 -1 1 -1 1 0 2 -2 2 -1 1 -1 1 0 2 -2 1 0 1 -1 2 -1 1 0 1 -1 2 -1 1 0 1 0 2 -1 2 -1 2 -1 2 0 2 -1 2 0 2 -1 2 0 2 -1 2 0 2 -1 2 0 2 0 2 -1 2 0 1 0"/><path fill="#40e24b" d="M113 152l1 0 2 0 2 0 2 0 2 0 2 0 2 0 2 0 2 0 2 0 1 0 1 0 2 0 2 1 2 0 2 0 2 0 2 1 1 0 1 0 2 1 2 0 2 1 2 0 2 1 2 0 2 1 1 0 1 0 2 1 2 1 2 1 2 0 1 1 1 0 2 1 2 1 2 1 2 1 2 1 2 1 2 1 2 1 2 1 2 1 2 1 2 1 2 1 2 1 2 1 1 1 1 1 2 1 2 1 1 1 1 1 2 1 2 2 2 2 0 1 1 1 0 2 0 2 0 2 -1 2 -2 2 -2 2 -2 2 -2 2 -1 0 -1 1 -1 1 -1 0 -2 2 -1 0 -1 1 -2 1 -2 1 -1 1 -1 0 -2 1 -1 1 -1 1 -2 1 -1 0 -1 1 -2 1 -1 0 -1 1 -2 0 -1 1 -1 0 -2 1 -2 1 -2 1 -2 1 -1 0 -1 0 -2 1 -2 1 -1 0 -1 0 -2 1 -2 1 -1 0 -1 0 -2 1 -2 0 -2 1 -2 0 -2 0 -2 1 -2 0 -2 0 -2 1 -2 0 -2 0 -2 0 -2 0 -2 0 -2 1 -2 0 -2 0 -2 0 -2 0 -2 0 -2 0 -2 -1 -2 0 -2 0 -1 0 -1 0 -2 0 -2 -1 -2 0 -2 0 -2 0 -2 -1 -1 0 -1 0 -2 -1 -2 0 -2 -1 -1 0 -1 0 -2 -1 -2 0 -2 -1 -2 -1 -2 -1 -1 0 -1 0 -2 -1 -1 -1 -1 0 -2 -1 -1 -1 -1 0 -2 -2 -1 0 -1 -1 -2 -1 -2 -2 -2 -1 -1 -1 -1 -1 -1 -1 -1 -1 -1 -1 -1 -1 0 -1 -2 -2 -1 -2 -1 -2 -1 -2 0 -2 0 -2 0 -2 0 -2 1 -2 0 -1 0 -1 1 -2 1 -1 1 -1 1 -2 1 -2 1 -1 1 -1 1 -1 1 -1 1 -1 1 -1 1 -1 1 -1 1 -1 2 -1 2 -2 2 -1 1 -1 1 -1 2 -1 2 -1 2 -1 2 -1 2 -1 1 0 1 -1 2 0 2 -1 2 -1 2 0 2 -1 2 -1 2 0 2 -1 2 0 2 0 2 -1 2 0 2 0 2 -1 2 0 2 0 1 0"/><path fill="#44f0b2" d="M106 158l2 0 2 -1 2 0 2 0 2 0 2 0 2 0 2 0 2 0 2 0 2 0 2 0 2 0 2 0 2 0 2 1 2 0 2 0 2 1 2 0 2 0 2 1 1 0 1 0 2 1 2 0 2 1 2 1 2 0 2 1 2 1 2 0 2 1 2 1 2 1 2 1 2 1 1 0 1 0 2 1 1 1 1 0 2 1 1 1 1 0 2 1 1 1 1 0 2 2 1 0 1 1 2 1 2 1 1 1 1 1 2 1 2 2 2 2 1 2 1 2 0 1 0 1 0 2 -1 2 -1 1 -1 1 -1 2 -2 1 -1 1 -1 1 -1 1 -1 0 -2 2 -2 1 -2 1 -2 1 -1 1 -1 0 -2 1 -1 1 -1 0 -2 1 -1 1 -1 0 -2 1 -2 1 -2 1 -2 1 -1 0 -1 1 -2 0 -2 1 -2 1 -2 1 -2 0 -2 1 -2 0 -2 1 -2 0 -2 1 -2 0 -2 1 -1 0 -1 0 -2 0 -2 1 -2 0 -2 0 -2 1 -2 0 -2 0 -2 0 -2 0 -2 0 -2 0 -2 0 -2 0 -2 0 -2 0 -1 0 -1 0 -2 0 -2 0 -2 -1 -2 0 -2 0 -2 0 -2 -1 -1 0 -1 0 -2 -1 -2 0 -2 -1 -2 0 -2 -1 -2 0 -2 -1 -2 -1 -2 -1 -1 0 -1 0 -2 -1 -1 -1 -1 0 -2 -1 -1 -1 -1 0 -2 -2 -1 0 -1 -1 -2 -1 -2 -2 -2 -1 -1 -1 -1 -1 -1 -1 -1 -1 -1 -1 -1 -1 -1 -1 -1 -2 -1 -2 0 -2 0 -2 0 -2 0 -2 1 -2 1 -2 1 -2 2 -2 0 -1 1 -1 1 -1 1 -1 1 -1 1 -1 1 -1 2 -1 2 -2 2 -1 1 -1 1 -1 2 -1 2 -1 2 -1 2 -1 1 -1 1 0 2 -1 2 -1 2 -1 2 -1 1 0 1 0 2 -1 2 -1 2 0 2 -1 2 0 2 0 2 -1 2 0"/><path fill="#c5fcfc" d="M108 164l2 0 2 -1 2 0 2 0 2 0 2 0 2 0 2 0 2 0 2 0 2 0 2 0 2 0 2 1 2 0 2 0 2 0 2 1 2 0 2 1 2 0 2 0 2 1 2 1 2 0 2 1 2 0 2 1 2 1 2 0 2 1 2 1 2 1 1 0 1 0 2 1 2 1 2 1 2 1 2 1 2 1 2 1 1 1 1 1 2 1 2 2 2 2 2 2 0 1 1 1 0 2 0 2 -1 2 -1 2 -1 1 -1 1 -1 1 -2 1 -2 2 -1 0 -1 1 -2 1 -2 1 -2 1 -2 1 -2 1 -2 1 -2 1 -1 0 -1 1 -2 0 -2 1 -2 1 -2 0 -2 1 -2 1 -2 0 -2 1 -1 0 -1 0 -2 1 -2 0 -2 1 -1 0 -1 0 -2 1 -2 0 -2 0 -2 1 -2 0 -1 0 -1 0 -2 0 -2 0 -2 1 -2 0 -2 0 -2 0 -2 0 -2 0 -2 0 -2 0 -2 -1 -2 0 -2 0 -1 0 -1 0 -2 0 -2 -1 -2 0 -2 0 -2 -1 -2 0 -2 -1 -2 0 -2 -1 -2 -1 -2 0 -2 -1 -2 -1 -2 -1 -1 0 -1 0 -2 -1 -1 -1 -1 0 -2 -1 -1 -1 -1 0 -2 -2 -1 0 -1 -1 -2 -1 -2 -2 -2 -2 -2 -2 0 -1 -1 -1 0 -2 -1 -2 0 -2 1 -2 1 -2 1 -2 1 -1 1 -1 1 -1 1 -1 1 -1 1 -1 1 -1 1 -1 1 0 2 -2 2 -1 2 -1 2 -1 1 -1 1 0 2 -1 2 -1 2 -1 2 -1 2 -1 2 0 2 -1 2 -1 2 0 2 -1 2 0 2 -1 2 0 2 -1 2 0"/><path fill="#f6fdff" d="M114 170l2 0 2 0 2 0 2 0 2 0 2 0 2 0 2 0 2 0 2 0 1 0 1 0 2 0 2 0 2 1 2 0 2 0 2 1 2 0 2 0 2 1 2 0 2 1 1 0 1 0 2 1 2 0 2 1 2 1 2 0 2 1 2 1 2 1 2 1 2 1 1 0 1 1 2 1 2 1 1 1 1 1 1 1 1 1 1 1 1 2 1 2 -1 2 0 1 0 1 -2 2 -2 2 -2 2 -2 1 -1 1 -1 0 -2 1 -1 1 -1 0 -2 1 -2 1 -2 1 -2 0 -2 1 -2 1 -2 0 -2 1 -1 0 -1 0 -2 1 -2 0 -2 1 -1 0 -1 0 -2 1 -2 0 -2 0 -2 1 -2 0 -2 0 -2 0 -2 0 -2 1 -2 0 -2 0 -2 0 -2 0 -2 0 -2 0 -2 0 -2 0 -2 0 -2 0 -2 -1 -2 0 -2 0 -2 0 -2 0 -2 -1 -2 0 -2 0 -2 -1 -2 0 -2 -1 -2 0 -2 -1 -2 0 -2 -1 -2 -1 -1 0 -1 0 -2 -1 -2 -1 -2 -1 -2 -1 -2 -1 -1 -1 -1 -1 -2 -1 -2 -2 -1 -2 -1 -2 0 -2 0 -2 1 -2 1 -2 0 -1 1 -1 1 -1 1 -1 1 -1 2 -1 2 -2 1 0 1 -1 2 -1 2 -1 2 -1 1 0 1 -1 2 0 2 -1 2 -1 2 0 2 -1 2 -1 2 0 2 -1 2 0 2 0 2 -1 2 0 2 0 2 -1 2 0 2 0"/><path fill="#e4f0ff" d="M102 176l2 0 2 -1 2 0 2 0 2 0 2 0 2 -1 2 0 2 0 2 0 2 0 2 0 2 0 2 0 2 0 2 0 2 1 2 0 2 0 2 0 2 0 2 1 2 0 2 0 2 1 2 0 2 1 2 0 2 1 2 0 2 1 1 0 1 0 2 1 2 1 2 1 2 1 1 0 1 1 2 1 2 1 1 1 1 1 1 1 1 1 0 1 1 2 0 2 -1 2 0 1 -1 1 -1 1 -1 1 -1 1 -2 1 -2 1 -2 1 -2 1 -2 1 -1 0 -1 0 -2 1 -2 1 -1 0 -1 0 -2 1 -2 0 -2 1 -1 0 -1 0 -2 1 -2 0 -2 0 -2 0 -2 1 -2 0 -1 0 -1 0 -2 0 -2 1 -2 0 -2 0 -2 0 -2 0 -2 0 -2 0 -2 0 -2 0 -2 0 -2 0 -2 0 -2 0 -2 -1 -2 0 -2 0 -2 0 -2 0 -2 -1 -2 0 -2 0 -2 -1 -2 0 -2 -1 -2 0 -2 -1 -2 0 -2 -1 -2 -1 -2 -1 -2 -1 -2 -1 -2 -1 -2 -2 -2 -2 -1 -2 0 -2 0 -2 1 -2 1 -2 1 -1 1 -1 1 -1 1 -1 1 0 2 -2 1 0 1 -1 2 -1 1 0 1 -1 2 0 2 -1 2 -1 2 0 2 -1 2 0 2 -1 2 0 2 -1 2 0"/><path fill="#d2e3ff" d="M109 178l1 0 2 0 2 0 2 -1 2 0 2 0 2 0 2 0 2 0 2 0 2 0 2 0 2 0 2 1 2 0 2 0 2 0 2 0 2 1 2 0 2 0 2 1 1 0 1 0 2 1 2 0 2 1 2 0 2 1 2 1 2 1 2 1 2 1 2 1 2 2 2 2 0 1 0 1 1 2 -1 2 -1 2 -1 0 -2 2 -2 1 -1 1 -1 0 -2 1 -2 1 -2 1 -2 0 -2 1 -2 1 -2 0 -2 0 -2 1 -1 0 -1 0 -2 1 -2 0 -2 0 -2 0 -2 1 -2 0 -2 0 -2 0 -2 0 -2 0 -2 0 -2 0 -2 0 -2 0 -2 0 -2 0 -2 0 -2 0 -1 0 -1 0 -2 0 -2 0 -2 -1 -2 0 -2 0 -2 0 -2 -1 -2 0 -2 0 -2 -1 -2 0 -2 -1 -2 -1 -2 0 -2 -1 -2 -1 -2 -1 -2 -1 -1 -1 -1 -1 -1 -1 -1 -2 -1 -2 1 -2 0 -1 1 -1 1 -2 2 -2 2 -1 1 -1 1 0 2 -1 1 -1 1 0 2 -1 2 -1 1 0 1 0 2 -1 2 -1 2 0 2 0 2 -1 2 0 2 0 2 -1 2 0 1 0"/><path fill="#c0d6ff" d="M111 180l1 0 2 0 2 0 2 0 2 -1 2 0 2 0 2 0 2 0 2 1 2 0 2 0 2 0 2 0 2 0 2 1 2 0 2 0 2 1 2 0 2 0 2 1 2 0 2 1 2 1 2 1 1 0 1 0 2 1 1 1 1 1 2 1 2 2 0 1 1 1 0 2 -1 2 -1 2 -1 0 -2 2 -2 1 -2 1 -2 1 -2 0 -2 1 -2 1 -2 0 -2 1 -2 0 -2 0 -2 1 -2 0 -2 0 -2 1 -2 0 -2 0 -1 0 -1 0 -2 0 -2 0 -2 0 -2 0 -2 0 -2 0 -2 0 -2 0 -2 0 -2 0 -2 0 -2 0 -2 0 -2 -1 -2 0 -2 0 -2 0 -2 -1 -1 0 -1 0 -2 -1 -2 0 -2 -1 -1 0 -1 0 -2 -1 -2 -1 -2 -1 -2 -1 -2 -2 -2 -2 0 -2 0 -2 1 -2 1 -1 1 -1 1 -1 2 -1 2 -1 1 -1 1 0 2 -1 2 -1 1 0 1 0 2 -1 2 -1 2 0 2 0 2 -1 2 0 2 0 2 -1 2 0 1 0"/><path fill="#acc9ff" d="M111 182l1 0 2 0 2 0 2 -1 2 0 2 0 2 0 2 0 2 0 2 1 2 0 2 0 2 0 2 0 2 0 2 1 2 0 2 0 2 1 1 0 1 0 2 1 2 0 2 1 2 1 2 1 1 0 1 1 2 1 2 2 1 2 1 2 -1 2 -1 1 -1 1 -1 1 -2 1 -2 1 -2 1 -1 0 -1 0 -2 1 -2 1 -2 0 -2 1 -2 0 -2 0 -2 1 -2 0 -2 0 -2 0 -2 0 -2 0 -2 1 -2 0 -2 0 -2 0 -2 0 -2 0 -2 0 -2 0 -2 -1 -2 0 -2 0 -1 0 -1 0 -2 0 -2 -1 -2 0 -2 0 -2 -1 -2 0 -2 -1 -2 0 -2 -1 -2 -1 -2 -1 -1 0 -1 -1 -1 -1 -1 -1 -1 -1 -1 -2 1 -2 1 -2 2 -2 2 -1 1 -1 1 0 2 -1 2 -1 2 -1 2 0 2 -1 1 0 1 0 2 -1 2 0 2 0 2 -1 2 0 1 0"/><path fill="#99bbff" d="M109 184l1 0 2 0 2 -1 2 0 2 0 2 0 2 0 2 0 2 0 2 0 2 0 2 0 2 1 2 0 2 0 2 0 2 1 2 0 2 0 2 1 2 1 2 0 2 1 2 1 2 1 2 1 1 1 1 2 1 2 -1 2 -2 2 -2 1 -2 1 -2 1 -2 1 -1 0 -1 0 -2 1 -2 0 -2 0 -2 1 -1 0 -1 0 -2 0 -2 1 -2 0 -2 0 -2 0 -2 0 -2 0 -2 0 -2 0 -2 0 -2 0 -2 0 -2 0 -2 0 -2 0 -2 -1 -2 0 -1 0 -1 0 -2 -1 -2 0 -2 0 -2 -1 -2 -1 -2 0 -1 -1 -1 0 -2 -2 -1 0 -1 -1 -1 -1 0 -2 0 -2 1 -1 1 -1 1 -1 1 -1 1 0 2 -2 1 0 1 0 2 -1 2 -1 1 0 1 0 2 -1 2 0 2 -1 2 0 1 0"/><path fill="#82aafd" d="M108 186l2 0 2 -1 2 0 2 0 2 0 2 0 2 0 2 0 2 0 2 0 2 0 2 0 2 0 2 1 2 0 1 0 1 0 2 1 2 0 2 1 1 0 1 0 2 1 2 1 2 1 1 1 1 1 1 1 1 2 -1 2 -1 1 -2 1 -2 1 -2 1 -2 1 -2 0 -2 1 -1 0 -1 0 -2 0 -2 1 -2 0 -2 0 -2 0 -2 1 -2 0 -2 0 -2 0 -2 0 -2 0 -2 0 -2 0 -2 -1 -2 0 -2 0 -2 0 -2 -1 -2 0 -2 0 -2 -1 -2 0 -2 -1 -2 -1 -2 -1 -2 -2 -1 -2 1 -2 2 -2 2 -2 2 -1 2 -1 1 0 1 0 2 -1 2 0 2 -1 2 0"/><path fill="#6a98f9" d="M107 188l1 0 2 0 2 -1 2 0 2 0 2 0 2 0 2 0 2 0 2 0 2 0 2 0 2 0 2 0 2 0 2 1 1 0 1 0 2 1 2 0 2 1 2 1 2 1 2 2 0 1 0 1 0 1 -1 1 -1 1 -1 1 -1 0 -2 1 -2 1 -1 0 -1 0 -2 1 -2 0 -2 0 -2 1 -2 0 -2 0 -2 0 -2 0 -2 0 -2 0 -2 0 -2 0 -2 0 -2 0 -2 0 -2 -1 -2 0 -2 0 -2 -1 -1 0 -1 0 -2 -1 -2 -1 -2 -1 -1 -1 -1 -2 1 -2 1 -1 1 -1 1 -1 2 -1 1 0 1 0 2 -1 2 -1 1 0"/><path fill="#5485f4" d="M109 190l1 0 2 -1 2 0 2 0 2 0 2 -1 2 0 2 0 2 0 2 1 2 0 2 0 2 0 2 1 2 0 2 1 2 0 1 1 1 1 2 1 1 2 -1 1 -1 1 -1 1 -2 1 -2 0 -2 1 -2 0 -2 1 -1 0 -1 0 -2 0 -2 0 -2 1 -2 0 -2 0 -2 0 -2 -1 -2 0 -2 0 -1 0 -1 0 -2 -1 -2 0 -2 -1 -2 0 -2 -1 -1 -1 -1 -1 0 -1 0 -1 0 -1 2 -1 1 -1 1 0 2 -1 2 -1 1 0"/><path fill="#4a7cf0" d="M113 192l1 0 2 -1 2 0 2 0 2 0 2 0 2 0 2 0 2 0 2 1 2 0 2 1 2 1 1 2 -1 2 -2 1 -2 0 -2 1 -1 0 -1 0 -2 0 -2 0 -2 0 -2 0 -2 0 -2 0 -2 0 -1 0 -1 0 -2 -1 -2 0 -1 -1 -1 -1 -1 -1 1 -2 2 -1 2 -1 1 0"/></g><g fill="none" stroke-width="2.4" stroke-linejoin="round"><path stroke="#903822" d="M163 -2l0 2 1 2 0 1 1 1 1 1 1 -1 1 -1 0 -1 1 -2 0 -2M430 -2l0 2 0 2 0 2 1 2 0 2 1 2 0 1 0 1 1 2 1 2 1 2 1 2 1 2 1 1 1 1 1 2 2 2 1 0 1 1 2 1 2 0 2 0M312 2l-2 1 -2 1 -1 2 -1 1 0 1 -1 2 0 2 -1 2 0 2 0 2 0 2 1 2 0 2 1 2 1 2 1 2 2 2 2 2 1 0 1 0 1 0 1 0 2 -2 2 -2 1 -2 1 -2 1 -2 0 -2 1 -2 0 -2 0 -2 0 -2 -1 -2 0 -2 -1 -2 0 -1 -1 -1 -1 -2 -2 -1 -2 -1 -2 0 -2 0M234 3l-1 1 -1 1 0 1 -1 2 0 2 0 2 0 2 0 2 0 2 0 2 1 2 0 1 1 1 1 2 2 -2 0 -2 1 -2 0 -2 0 -2 0 -2 0 -2 0 -2 0 -2 -1 -2 0 -2 -2 -1M-2 21l2 0 2 1 2 1 2 0 2 0 2 0 2 0 2 0 2 0 2 -1 2 -1 2 0 1 -1 1 -1 2 -1 2 -1 1 -1 1 -1 1 -1 1 -1 1 -1 1 -1 1 -1 1 -2 1 -2 1 -1 0 -1 1 -2 1 -2 1 -2"/><path stroke="#a2442a" d="M99 -2l1 2 0 1 0 1 0 2 1 2 0 2 1 2 0 2 0 2 0 2 1 2 0 2 0 2 1 2 0 2 0 2 0 2 1 2 0 2 0 2 0 2 1 2 0 2 0 2 1 2 0 2 1 2 0 2 1 2 1 2 0 1 1 1 1 1 2 -1 1 -2 1 -1 0 -1 1 -2 1 -2 0 -1 0 -1 1 -2 0 -2 1 -2 0 -2 0 -2 1 -2 0 -2 1 -2 0 -2 0 -2 1 -2 0 -2 0 -2 1 -2 0 -1 0 -1 1 -2 0 -2 1 -2 0 -2 1 -2 0 -2 1 -2 1 -2 0 -2 1 -2M148 -2l0 1 0 1 1 2 0 2 1 2 1 2 0 2 1 2 1 2 0 2 1 2 1 2 1 2 1 2 1 2 2 2 2 2 2 1 2 1 2 -1 2 -1 2 -2 2 -2 1 -2 1 -1 0 -1 1 -2 1 -2 1 -2 1 -2 0 -1 1 -1 0 -2 1 -2 1 -2 0 -2 1 -2 1 -2 1 -2M208 -2l1 2 1 2 0 1 0 1 1 2 1 2 1 2 0 2 1 2 1 2 0 2 1 2 0 2 1 2 1 2 0 1 0 1 1 2 0 2 1 2 0 1 0 1 1 2 0 2 1 2 0 2 1 2 1 2 0 1 0 1 1 2 1 2 0 1 0 1 1 2 1 2 1 2 1 1 1 1 1 1 2 1 2 -1 1 -1 1 -1 1 -1 1 -2 1 -2 1 -2 1 -2 1 -2 0 -1 0 -1 1 -2 1 -2 0 -1 1 -1 0 -2 1 -2 1 -2 0 -2 1 -2 1 -2 1 -2 1 -2 1 -1 1 -1 1 -2 1 0 1 -1 2 0 2 0 1 1 1 0 2 2 2 2 2 2 2 2 2 2 0 1 1 1 1 1 0 1 2 2 1 2 1 1 0 1 2 2 0 1 1 1 1 2 1 2 1 1 1 1 1 2 1 2 1 1 0 1 2 2 1 2 1 1 1 1 1 2 2 2 2 2 2 2 2 2 2 1 2 1 2 1 2 0 2 1 2 -1 2 0 2 -1 2 -1 2 -1 2 -2 2 -2 2 -2 2 -2 1 -2 1 -1 1 -1 1 -2 2 -2 0 -1 1 -1 1 -2 1 -2 1 -1 1 -1 1 -2 1 -2 1 -2 2 -2 0 -1 1 -1 1 -2 2 -2 0 -1 1 -1 1 -2 2 -2 2 -2 1 -2 1 -1 1 -1 1 -1 2 -1 2 -2 2 -1 1 -1 1 -1 2 -1 1 0 1 -1 2 0 2 -1 2 0 2 -1 2 0 2 0 2 0 2 0 2 0 2 0 2 1 1 0 1 0 2 1 1 1 1 0 2 2 1 0 1 1 1 1 1 1 1 1 1 1 1 1 1 1 1 1 1 1 1 1 1 1 1 1 1 2 2 2 1 2 1 1 1 1 1 2 2 2 1 2 1 1 1 1 1 1 1 1 1 1 1 1 1 1 1 1 1 1 1 1 1 1 2 1 2 1 2 1 2 0 2 0 2 0M-2 55l2 0 2 0 2 1 2 0 2 0 2 0 2 0 2 0 2 0 2 -1 2 0 2 0 2 -1 2 -1 2 0 2 -1 2 -1 2 -1 2 -1 2 -1 2 -1 2 -1 2 -1 1 -1 1 -1 2 -1 2 -1 1 -1 1 0 2 -2 2 -1 1 -1 1 0 2 -2 2 -1 1 -1 1 0 2 -2 2 -1 1 -1 1 -1 1 -1 1 -1 1 -1 1 -2 2 -2 1 -2 1 -1 0 -1 1 -2 1 -1 0 -1 1 -2 1 -1 0 -1 1 -2 1 -1 0 -1 1 -2 1 -2 1 -2"/><path stroke="#b45032" d="M-2 86l2 0 2 1 2 0 2 0 2 0 2 0 2 0 2 -1 2 0 1 0 1 0 2 -1 2 0 2 -1 2 0 2 -1 2 0 2 -1 2 -1 2 -1 1 0 1 0 2 -1 2 -1 2 -1 2 -1 2 -1 2 -1 1 0 1 -1 2 -1 1 0 1 0 2 -1 1 -1 1 0 2 -1 2 -1 2 -1 2 -1 2 -1 2 -1 2 -2 1 0 1 -1 1 -1 1 -1 1 -1 1 -1 0 -1 2 -2 1 -2 1 -1 1 -1 1 -2 1 -2 1 -1 1 -1 1 -2 1 0 1 -1 2 0 1 1 1 1 0 1 1 2 1 2 0 2 1 2 1 2 0 1 0 1 1 2 0 2 1 2 0 1 0 1 1 2 0 2 1 2 1 2 1 2 0 1 1 1 1 2 2 2 2 1 2 -1 1 0 1 -1 1 -1 1 -1 0 -1 2 -2 0 -1 1 -1 1 -2 0 -1 1 -1 0 -2 1 -1 0 -1 1 -2 1 -2 1 -2 1 -1 0 -1 2 -2 1 -2 1 -1 1 -1 1 -1 1 -1 1 0 2 -1 2 -1 2 0 2 1 1 1 1 1 2 1 2 2 2 1 1 1 1 1 2 1 2 1 2 0 2 1 1 0 1 0 2 0 2 0 2 0 2 -1 2 0 2 -1 2 -1 2 -1 2 -1 2 -1 2 -2 1 0 1 -1 2 -1 2 -1 2 -1 2 0 2 0 2 1 2 1 2 2 2 2 2 2 2 2 1 2 1 1 1 1 1 2 1 2 1 1 0 1 1 2 1 1 0 1 1 2 1 1 0 1 1 2 1 2 1 2 1 1 0 1 1 2 1 1 1 1 1 2 2 2 2 1 2 1 2 -1 2 0 1 -1 1 -1 1 -1 1 -2 2 -2 0 -1 1 -1 1 -2 1 -2 1 -2 1 -2 1 -1 1 -1 1 -2 2 -2 2 -1 2 -1 2 0 2 1 2 1 2 1 1 1 1 1 1 1 1 1 1 1 1 1 1 1 1 1 0 1 2 2 2 2 1 2 1 1 1 1 1 2 1 2 1 1 1 1 1 2 2 2 0 1 1 1 1 1 0 1 2 2 1 2 1 1 1 1 1 1 0 1 2 2 2 2 2 2 2 2 1 0 1 1 2 1 2 1 2 0 2 0 2 0 2 0 2 -1 2 -1 2 -1 2 -1 1 -1 1 -1 1 -1 1 -2 2 -2 1 -2 1 -1 1 -1 1 -2 2 -2 1 -2 1 -1 0 -1 2 -2 1 -2 1 -1 1 -1 1 -2 1 -2 1 -1 1 -1 1 -2 2 -2 0 -1 1 -1 1 -1 1 -1 1 -2 2 -2 2 -2 0 -1 1 -1 1 -1 1 -1 1 -1 1 -1 1 -1 2 -1 2 -2 2 -1 1 -1 1 0 2 -2 1 0 1 -1 2 0 1 -1 1 0 2 -1 2 0 2 -1 2 0 2 0 2 0 2 1 2 0 2 1 1 0 1 1 2 1 1 0 1 1 2 1 2 2 2 1 1 1 1 1 1 1 1 1 1 1 1 1 1 1 1 1 1 1 1 2 2 2 2 2 2 2 2 2 2 2 2 2 2 1 1 1 1 1 2 1 2 1 2 0 2 1 2 0 2 0M430 238l2 -1 2 -1 1 0 1 -1 2 -1 2 -1 1 -1 1 -1 1 -1 1 -2 0 -2 0 -1 0 -1 -1 -2 -1 -1 -1 -1 -1 -1 -1 -1 -1 0 -2 -1 -2 -1 -1 0 -1 0 -2 -1 -2 0 -2 0 -2 0 -2 0 -2 0 -2 0 -2 1 -2 0 -2 0 -2 1 -2 1 -2 0 -2 1 -2 1 -1 0 -1 0 -2 1 -1 1 -1 0 -2 2 -1 0 -1 1 -1 1 -1 1 -1 1 -1 2 0 2 1 2 1 1 1 1 1 1 2 1 1 0"/><path stroke="#c35a3a" d="M-2 121l2 -1 2 -1 2 -1 1 0 1 0 2 -1 2 -1 2 -1 2 -1 1 0 1 -1 2 0 2 -1 2 -1 2 -1 2 -1 2 -1 1 0 1 0 2 -1 2 -1 2 -1 2 -1 1 0 1 0 2 -1 2 -1 2 -1 2 0 2 -1 2 -1 2 -1 1 0 1 0 2 -1 2 -1 2 0 2 -1 2 0 2 -1 2 0 2 -1 2 -1 1 0 1 0 2 -1 2 -1 1 0 1 0 2 -1 2 -1 1 0 1 0 2 -1 2 0 2 -1 2 1 2 1 1 0 1 1 2 1 2 2 1 0 1 1 2 1 1 0 1 0 2 1 2 -1 1 0 1 0 2 -1 2 -1 2 -1 1 -1 1 0 2 -1 2 -1 2 0 2 -1 2 0 2 0 2 0 2 0 2 0 2 0 2 1 2 0 2 0 2 0 2 1 2 0 2 1 2 2 1 2 1 1 1 1 1 1 1 1 1 1 1 1 1 0 2 1 2 0 2 -1 2 -1 1 -1 1 -1 1 -1 1 -2 2 -1 2 -1 2 0 2 0 2 0 2 1 2 0 2 0 2 1 1 0 1 0 2 1 2 0 2 1 2 1 2 1 1 0 1 1 2 1 2 1 1 1 1 1 1 1 1 1 1 1 1 1 1 1 1 1 1 1 1 0 2 2 2 1 1 1 1 1 2 0 2 1 2 1 2 0 2 0 2 0 2 0 2 0 2 0 2 0 2 0 1 1 1 0 2 2 1 0 1 1 1 1 1 1 2 1 2 2 2 2 2 2 2 1 1 1 1 1 1 1 1 1 2 1 2 2 1 0 1 1 2 1 2 1 2 1 2 1 2 0 1 1 1 0 2 1 2 0 2 1 1 0 1 0 2 1 2 0 2 0 2 0 2 0 2 1 2 0 2 0 2 0 2 0 2 0 2 0 2 0 2 -1 2 0 2 0 2 0 2 0 2 0 2 -1 2 0 1 0 1 0 2 0 2 -1 2 0 2 0 2 -1 1 0 1 0 2 -1 2 -1 2 -2 2 -2 0 -1 0 -1 1 -2 0 -2 0 -2 0 -2 0 -2 0 -2 0 -2 0 -2 0 -2 0 -2 0 -2 0 -2 0 -2 1 -2 0 -2 0 -1 0 -1 1 -2 0 -2 1 -2 0 -1 0 -1 1 -2 1 -2 1 -2 1 -2 1 -2 1 -1 1 -1 1 -1 1 -1 1 -2 2 -1 1 -1 1 -1 2 -1 1 0 1 0 2 -1 2 0 2 0 2 1 1 0 1 0 2 1 1 1 1 1 1 1 1 1 1 1 1 1 1 1 1 2 1 2 1 1 1 1 1 2 0 1 0 1 1 2 1 2 1 2 0 2 1 2 0 2 0 2 1 2 0 2 0 2 0 2 0 2 0 2 0 2 0 2 0 2 -1 2 0 2 0 2 0 2 0 2 0 2 -1 2 0 2 0 2 0 2 0 2 0 2 0 2 1 2 0 1 0 1 1 2 1 2 0 1 0 1 1 2 1 2 1 2 0 2 0 2 0 2 0 2 0 2 -1 2 -1 2 -1 1 -1 1 -1 2 -2 2 -2 1 -1 1 -1 1 -1 1 -1 1 -2 1 -2 1 -1 1 -1 1 -2 1 -2 1 -2 1 -2 1 -1 1 -1 0 -2 2 -1 0 -1 1 -2 1 -1 0 -1 1 -2 1 -1 0 -1 1 -2 1 -1 0 -1 1 -2 1 -1 0 -1 1 -2 0 -1 1 -1 0 -2 1 -2 1 -2 1 -2 1 -2 1 -2 1 -1 0 -1 0 -2 1 -2 1 -2 1 -2 1 -1 0 -1 0 -2 1 -2 1 -1 0 -1 1 -2 0 -2 1 -2 1 -2 0 -2 1 -2 1 -2 1 -1 0 -1 0 -2 1 -2 1 -1 0 -1 0 -2 1 -2 1 -2 1 -2 1 -1 0"/><path stroke="#cc6040" d="M389 100l1 -1 2 0 2 0 1 1 1 1 1 1 1 2 0 2 1 2 0 2 0 2 0 2 -1 2 0 2 -1 2 -1 2 -2 2 -2 1 -2 -1 -2 -2 -1 -2 -1 -2 0 -2 -1 -2 0 -2 0 -2 0 -2 1 -2 0 -2 1 -2 1 -1 1 -1M-2 138l2 -1 1 -1 1 0 2 -2 1 0 1 -1 2 -1 2 -1 2 -1 2 -1 1 -1 1 0 2 -1 1 -1 1 0 2 -1 1 -1 1 0 2 -1 1 -1 1 0 2 -1 2 -1 2 -1 2 -1 1 0 1 -1 2 0 1 -1 1 0 2 -1 2 -1 1 0 1 -1 2 0 2 -1 2 -1 2 0 2 -1 2 -1 2 0 2 -1 1 0 1 0 2 -1 2 0 2 -1 1 0 1 0 2 -1 2 0 2 -1 1 0 1 0 2 -1 2 0 2 0 2 -1 1 0 1 0 2 0 2 0 2 0 2 0 1 0 1 0 2 0 2 1 2 0 2 0 2 1 2 -1 2 0 2 0 2 -1 1 0 1 0 2 -1 2 0 2 0 2 0 2 0 2 0 2 0 2 0 2 0 2 0 2 0 2 1 2 0 2 0 1 0 1 0 2 0 2 1 2 0 2 1 1 0 1 0 2 1 2 1 2 0 2 1 2 0 2 0 2 0 2 0 2 0 2 0 2 1 2 0 2 1 2 0 2 1 1 0 1 0 2 1 2 1 1 0 1 0 2 1 2 1 1 0 1 0 2 1 2 1 2 1 2 1 2 1 2 1 2 1 1 1 1 1 2 1 2 1 1 1 1 0 2 2 1 0 1 1 2 1 2 1 2 1 2 1 2 1 1 0 1 1 2 1 1 0 1 1 2 1 1 0 1 1 2 1 2 1 1 1 1 0 2 2 1 0 1 1 2 1 2 1 2 1 2 1 2 1 1 0 1 0 2 1 2 1 2 0 2 1 2 1 2 0 2 1 2 0 2 0 2 1 2 0 2 0 2 1 2 0 2 0 2 0 2 1 2 0 2 0 1 0 1 0 2 0 2 0 2 0 2 1 2 0 2 0 2 0 2 0 2 0 2 0 2 1 2 0 2 0 2 0 2 0 2 1 2 0 2 0 2 1 2 0 2 0 2 1 2 0 2 1 2 1 2 0 2 1 2 1 2 1 1 0 1 1 2 1 2 1 1 1 1 1 1 1 1 2 1 2 1 2 0 2 0 2 -1 2 -1 2 -1 2 -1 2 -2 2 -2 2 -2 2 -2 1 -1 1 -1 1 -2 1 -2 1 -2 1 -2 1 -1 1 -1 0 -2 1 -2 1 -2 1 -2 1 -2 1 -2 1 -1 0 -1 0 -2 1 -2 1 -1 0 -1 0 -2 1 -2 1 -1 0 -1 0 -2 1 -2 0 -2 1 -2 0 -2 1 -2 0 -2 1 -2 0 -2 1 -2 0 -2 1 -1 0 -1 0 -2 1 -2 0 -2 1 -2 0 -2 1 -2 0 -2 1 -1 0 -1 0 -2 1 -2 0 -2 1 -2 1 -2 0 -2 1 -2 1 -2 1 -1 0 -1 1 -2 0 -1 1 -1 0 -2 1 -1 1 -1 0 -2 2 -1 0"/><path stroke="#d46646" d="M-2 151l1 -1 1 -1 1 -1 1 -1 1 -1 1 0 2 -2 2 -1 1 -1 1 -1 2 -1 2 -1 1 -1 1 -1 2 -1 2 -1 2 -1 2 -1 1 -1 1 0 2 -1 1 -1 1 0 2 -1 1 -1 1 0 2 -1 2 -1 2 -1 2 -1 2 -1 2 0 1 -1 1 0 2 -1 2 -1 1 0 1 0 2 -1 2 -1 1 0 1 0 2 -1 2 -1 2 0 2 -1 2 0 2 -1 1 0 1 0 2 -1 2 0 2 -1 2 0 2 0 2 -1 2 0 2 0 2 -1 2 0 2 0 2 0 2 0 2 0 2 0 2 0 2 0 2 0 2 0 2 0 2 0 2 0 2 -1 2 0 2 0 2 0 2 0 2 0 2 0 2 0 2 0 2 0 2 0 2 0 2 0 2 1 2 0 1 0 1 0 2 0 2 1 2 0 2 0 2 0 2 1 1 0 1 0 2 1 2 0 2 0 2 1 1 0 1 0 2 1 2 0 2 1 2 0 2 1 2 0 2 1 1 0 1 0 2 1 2 1 1 0 1 0 2 1 2 1 1 0 1 0 2 1 2 1 2 1 2 1 2 1 2 1 2 1 2 1 2 1 1 1 1 0 2 2 1 0 1 1 2 1 2 1 1 1 1 1 2 1 2 1 2 1 2 1 2 1 2 1 1 1 1 0 2 2 1 0 1 1 2 1 2 1 2 1 2 1 2 1 1 0 1 1 2 0 2 1 2 1 2 0 2 1 2 1 2 0 2 1 1 0 1 0 2 1 2 0 2 0 2 1 1 0 1 0 2 1 2 0 2 0 2 0 2 1 2 0 2 0 2 0 2 1 2 0 2 0 2 0 2 1 2 0 1 0 1 0 2 0 2 1 2 0 2 0 2 0 2 1 1 0 1 0 2 1 2 0 2 0 2 1 2 1 2 0 2 1 2 1 2 1 2 1 2 1 2 2 2 2 1 2 1 2 0 2 0 2 -1 2 -1 2 0 1 -1 1 -1 1 -1 1 -1 1 -1 1 -1 1 -2 1 -2 1 -1 1 -1 0 -2 1 -1 1 -1 0 -2 1 -2 1 -2 1 -2 1 -1 0 -1 0 -2 1 -2 1 -1 0 -1 0 -2 1 -2 0 -2 1 -2 1 -2 0 -2 1 -2 0 -2 1 -2 0 -2 0 -2 1 -2 0 -2 1 -2 0 -2 1 -1 0 -1 0 -2 1 -2 0 -2 1 -1 0 -1 0 -2 1 -2 0 -2 1 -1 0 -1 0 -2 1 -2 1 -1 0 -1 1 -2 0 -2 1 -2 1 -2 1 -2 1 -2 1 -1 0 -1 1 -2 1 -2 1 -2 1 -2 1 -1 1 -1 0 -2 2 -1 0M-1 238l-1 -1"/><path stroke="#e17451" d="M-2 162l2 -2 2 -2 2 -2 2 -2 2 -2 2 -2 2 -1 1 -1 1 -1 1 -1 1 0 2 -2 2 -1 1 -1 1 0 2 -2 1 0 1 -1 2 -1 2 -1 2 -1 2 -1 1 -1 1 0 2 -1 2 -1 2 -1 2 -1 2 -1 2 -1 1 0 1 0 2 -1 2 -1 2 -1 2 0 2 -1 2 -1 2 0 2 -1 2 0 2 -1 2 -1 2 0 2 -1 2 0 2 0 2 -1 1 0 1 0 2 -1 2 0 2 0 2 -1 2 0 1 0 1 0 2 0 2 0 2 0 2 0 2 0 2 0 2 0 2 0 2 -1 2 0 2 0 2 0 2 0 2 0 2 0 2 0 2 0 2 0 2 0 2 0 2 0 2 0 2 0 2 0 2 1 2 0 1 0 1 0 2 0 2 1 2 0 2 0 2 1 2 0 2 0 2 1 2 0 2 1 2 0 2 0 2 1 2 1 2 0 2 1 2 0 2 1 1 0 1 0 2 1 2 1 1 0 1 1 2 0 2 1 2 1 2 1 1 0 1 1 2 0 1 1 1 0 2 1 1 1 1 0 2 1 1 1 1 1 2 1 1 0 1 1 2 1 2 1 1 1 1 1 2 1 2 1 1 1 1 0 2 2 1 0 1 1 2 1 2 1 2 1 2 1 2 1 2 1 2 1 2 1 2 1 2 1 2 1 1 0 1 0 2 1 2 1 2 0 2 1 2 1 1 0 1 0 2 1 2 0 2 1 2 0 2 0 2 1 2 0 2 1 2 0 2 0 2 1 2 0 2 0 2 1 2 0 1 0 1 0 2 0 2 1 2 0 2 0 2 1 1 0 1 0 2 1 2 0 2 0 2 1 1 0 1 0 2 1 2 1 1 0 1 0 2 1 2 1 2 1 2 1 2 2 2 2 0 1 1 1 0 2 0 2 -1 2 -2 2 -2 2 -2 2 -2 1 -1 1 -1 0 -2 1 -1 1 -1 0 -2 1 -2 1 -2 1 -2 0 -2 1 -2 1 -2 0 -2 1 -2 0 -2 1 -2 1 -2 0 -2 1 -2 0 -2 0 -2 1 -2 0 -2 1 -2 0 -2 1 -2 0 -2 1 -2 0 -2 1 -2 1 -2 0 -2 1 -1 0 -1 0 -2 1 -2 1 -1 0 -1 0 -2 1 -2 1 -2 1 -2 1 -2 1 -2 1 -1 0 -1 1 -2 1 -2 1 -2 1 -2 1 -2 1 -2 1 -1 1 -1 1 -2 1 -2 1 -2 1M11 238l-1 -1 -1 -1 -1 0 -2 -2 -2 -2 -2 -2 -1 0 -1 -1 -1 -1 -1 -2"/><path stroke="#ef8960" d="M-2 176l1 -2 1 -2 1 -2 1 -1 1 -1 1 -2 2 -2 1 -2 1 -1 1 -1 1 -1 1 -1 1 -1 1 -1 1 -1 1 -1 1 -1 2 -1 2 -2 2 -1 1 -1 1 -1 2 -1 2 -1 1 -1 1 -1 2 -1 2 -1 2 -1 2 -1 2 -1 2 -1 2 -1 2 -1 2 -1 2 -1 2 -1 1 0 1 0 2 -1 2 -1 2 -1 2 0 2 -1 2 -1 2 0 2 -1 1 0 1 0 2 -1 2 0 2 -1 1 0 1 0 2 -1 2 0 2 -1 2 0 1 0 1 0 2 -1 2 0 2 0 2 0 2 0 2 -1 2 0 2 0 2 0 2 0 2 0 2 0 1 0 1 0 2 0 2 0 2 0 2 -1 2 0 2 0 2 1 2 0 2 0 2 0 2 0 1 0 1 0 2 0 2 0 2 1 2 0 2 0 2 0 2 1 2 0 2 0 2 1 2 0 2 1 2 0 2 0 2 1 2 0 2 1 1 0 1 0 2 1 2 1 2 0 2 1 2 0 2 1 2 1 2 1 1 0 1 0 2 1 2 1 2 1 2 1 1 0 1 1 2 1 1 0 1 1 2 1 1 0 1 1 2 1 2 1 2 1 2 1 1 1 1 1 2 1 2 1 1 1 1 0 2 2 1 0 1 1 2 1 2 1 2 1 2 1 1 1 1 0 2 1 1 1 1 0 2 1 2 1 2 1 2 1 1 0 1 0 2 1 2 1 1 0 1 0 2 1 2 1 1 0 1 0 2 1 2 0 2 1 1 0 1 0 2 1 2 0 2 1 2 0 2 0 2 1 2 0 2 1 2 0 2 0 2 1 2 0 2 1 2 0 2 1 2 0 2 1 2 0 2 1 2 0 2 1 2 1 2 1 2 1 1 1 1 1 1 1 1 2 0 1 0 1 -1 2 -1 2 -2 2 -2 1 -1 1 -1 1 -2 1 -1 0 -1 0 -2 1 -2 1 -2 1 -2 1 -1 0 -1 0 -2 1 -2 0 -2 1 -2 1 -2 0 -2 1 -1 0 -1 0 -2 1 -2 0 -2 1 -1 0 -1 0 -2 1 -2 1 -2 0 -2 1 -2 0 -2 1 -2 1 -2 0 -2 1 -2 1 -2 1 -1 0 -1 0 -2 1 -2 1 -2 1 -2 1 -2 1 -2 1 -2 1 -2 1 -2 1 -1 1 -1 0 -2 2 -1 0 -1 1 -2 1 -2 1 -2 1 -2 1 -1 1 -1 1 -2 1M22 238l-2 -1 -1 -1 -1 -1 -2 -1 -2 -2 -1 0 -1 -1 -1 -1 -1 -1 -1 -1 -1 -1 -1 -1 -1 -1 -1 -1 -1 -1 -1 -1 -1 -2 -2 -2 -1 -2 -1 -2"/><path stroke="#fe9e6f" d="M31 238l-1 -1 -2 -1 -2 -1 -1 -1 -1 -1 -2 -1 -2 -2 -2 -1 -1 -1 -1 -1 -1 -1 -1 -1 -1 -1 -1 -1 -1 -1 -1 -1 0 -1 -2 -2 -1 -2 -1 -1 -1 -1 -1 -2 0 -1 -1 -1 0 -2 -1 -2 -1 -2 0 -2 0 -2 0 -2 -1 -2 1 -2 0 -2 0 -2 0 -2 1 -2 0 -1 0 -1 1 -2 1 -2 0 -1 1 -1 1 -2 0 -1 1 -1 1 -2 1 -2 1 -1 0 -1 2 -2 2 -2 1 -2 1 -1 1 -1 1 -1 1 -1 1 -1 2 -1 2 -2 2 -2 1 0 1 -1 1 -1 1 0 2 -2 2 -1 1 -1 1 0 2 -2 1 0 1 -1 2 -1 2 -1 2 -1 2 -1 2 -1 1 0 1 -1 2 0 1 -1 1 0 2 -1 2 -1 1 0 1 0 2 -1 2 -1 1 0 1 0 2 -1 2 -1 1 0 1 0 2 -1 2 0 2 -1 1 0 1 0 2 -1 2 0 2 0 2 -1 2 0 2 0 2 -1 2 0 2 0 2 0 2 0 2 0 2 0 2 -1 2 0 2 0 2 0 2 0 1 0 1 0 2 0 2 0 2 0 2 0 2 0 2 0 1 0 1 0 2 0 2 0 2 0 2 1 2 0 2 0 2 0 2 1 2 0 2 0 2 1 2 0 2 0 2 1 1 0 1 0 2 1 2 0 2 1 2 0 2 1 2 0 2 1 1 0 1 0 2 1 2 1 1 0 1 0 2 1 2 1 2 1 2 1 1 0 1 0 2 1 1 1 1 0 2 1 2 1 2 1 1 1 1 0 2 1 1 1 1 1 2 1 2 1 2 1 2 1 1 1 1 1 2 1 2 1 2 1 2 1 1 1 1 1 2 1 1 0 1 1 2 1 1 0 1 1 2 1 1 0 1 1 2 0 1 1 1 0 2 1 2 1 1 0 1 1 2 0 2 1 2 1 2 0 2 1 2 0 2 1 2 1 1 0 1 0 2 1 2 0 2 1 1 0 1 0 2 1 2 0 2 1 1 0 1 0 2 1 2 0 2 1 2 1 2 0 2 1 2 1 2 1 1 0 1 1 2 1 2 2 0 1 0 1 0 2 -1 2 -1 1 -1 1 -1 0 -2 2 -1 0 -1 1 -2 1 -1 0 -1 0 -2 1 -2 1 -2 1 -2 0 -2 1 -2 1 -2 0 -2 1 -2 1 -2 0 -2 1 -1 0 -1 0 -2 1 -2 1 -1 0 -1 1 -2 0 -2 1 -2 1 -2 0 -1 1 -1 0 -2 1 -2 1 -2 1 -2 1 -2 1 -2 1 -2 1 -2 1 -2 1 -2 1 -2 1 -1 1 -1 0 -2 2 -1 0 -1 1 -2 1 -2 1 -2 1 -2 1 -1 1 -1 1 -2 1 -1 0 -1 1 -2 1"/><path stroke="#ffab70" d="M41 238l-1 0 -2 -1 -1 -1 -1 -1 -2 -1 -2 -1 -1 -1 -1 0 -2 -2 -2 -1 -1 -1 -1 -1 -1 -1 -1 -1 -1 -1 -1 -1 -1 -1 -1 -1 -1 -1 -1 -1 -1 -1 -1 -2 -1 -2 -1 -1 -1 -1 -1 -2 0 -1 0 -1 -1 -2 -1 -2 0 -1 0 -1 -1 -2 0 -2 0 -2 0 -2 0 -2 1 -2 0 -1 0 -1 1 -2 0 -2 1 -2 1 -2 1 -2 0 -1 1 -1 1 -2 1 -2 1 -2 2 -2 1 -2 1 -1 1 -1 1 -1 1 -1 1 -1 1 -1 1 -1 1 -1 1 -1 2 -1 2 -2 2 -1 1 -1 1 -1 2 -1 2 -1 1 -1 1 0 2 -2 1 0 1 -1 2 -1 1 0 1 -1 2 -1 1 0 1 -1 2 0 1 -1 1 0 2 -1 2 -1 2 -1 2 0 2 -1 2 -1 2 0 2 -1 1 0 1 0 2 -1 2 0 2 -1 1 0 1 0 2 -1 2 0 2 -1 2 0 1 0 1 0 2 0 2 -1 2 0 2 0 2 0 2 0 2 0 2 -1 2 0 2 0 2 0 2 0 2 0 2 0 2 0 2 0 2 0 2 0 2 0 2 0 2 0 2 0 2 1 2 0 2 0 2 0 2 0 2 1 1 0 1 0 2 0 2 1 2 0 2 1 2 0 2 0 2 1 2 0 2 1 2 0 2 1 2 1 1 0 1 0 2 1 2 1 1 0 1 0 2 1 2 1 2 1 2 1 1 0 1 1 2 0 1 1 1 0 2 1 1 1 1 0 2 1 1 1 1 1 2 1 1 0 1 1 2 1 2 1 1 1 1 0 2 2 1 0 1 1 2 1 2 1 2 1 2 1 1 1 1 0 2 2 1 0 1 1 2 1 1 0 1 1 2 0 1 1 1 0 2 1 2 1 2 1 2 1 1 0 1 0 2 1 2 1 2 1 2 0 2 1 2 1 2 0 2 1 2 1 2 0 2 1 2 1 2 0 2 1 2 1 2 1 1 0 1 1 2 1 2 1 1 1 1 2 0 2 -1 2 -1 1 -1 1 -1 1 -2 1 -2 1 -2 1 -2 1 -2 1 -1 0 -1 0 -2 1 -2 1 -2 1 -2 1 -1 0 -1 0 -2 1 -2 1 -2 1 -2 1 -1 0 -1 0 -2 1 -2 1 -2 1 -2 1 -2 1 -2 1 -2 1 -2 1 -2 1 -2 1 -2 1 -1 1 -1 0 -2 2 -1 0 -1 1 -2 1 -2 1 -1 1 -1 0 -2 1 -1 1 -1 1 -2 1 -2 1 -2 1 -2 1 -2 1 -2 1 -2 1"/><path stroke="#ffb770" d="M50 238l-2 -1 -2 -1 -2 -1 -2 -1 -2 -1 -1 -1 -1 -1 -2 -1 -2 -1 -1 -1 -1 -1 -2 -1 -2 -2 -2 -2 -2 -2 -2 -2 -1 -2 -1 -1 -1 -1 -1 -2 -1 -2 -1 -2 -1 -2 0 -2 -1 -2 0 -2 0 -2 0 -2 0 -2 0 -2 0 -2 1 -2 0 -2 1 -2 0 -1 0 -1 1 -2 1 -1 0 -1 1 -2 1 -1 1 -1 1 -2 1 -2 1 -1 1 -1 1 -1 1 -1 1 -1 1 -1 1 -1 1 -1 1 -1 1 -1 1 -1 1 -1 1 -1 2 -1 2 -2 1 0 1 -1 2 -1 2 -1 1 -1 1 -1 2 -1 1 0 1 -1 2 -1 2 -1 2 -1 1 0 1 -1 2 0 2 -1 2 -1 2 -1 1 0 1 0 2 -1 2 -1 1 0 1 0 2 -1 2 0 2 -1 1 0 1 0 2 -1 2 0 2 0 2 -1 1 0 1 0 2 0 2 -1 2 0 2 0 2 0 2 -1 2 0 2 0 2 0 2 0 2 0 2 0 2 0 2 0 2 0 2 0 2 0 2 0 2 0 2 0 2 0 2 0 2 0 2 1 2 0 2 0 2 0 2 1 1 0 1 0 2 0 2 1 2 0 2 1 2 0 2 1 2 0 2 1 1 0 1 0 2 1 2 0 2 1 2 1 2 0 1 1 1 0 2 1 2 1 1 0 1 1 2 0 1 1 1 0 2 1 1 1 1 0 2 1 1 1 1 0 2 1 1 1 1 1 2 1 1 0 1 1 2 1 2 1 2 1 2 1 1 1 1 1 2 1 2 1 2 1 2 1 2 1 2 1 2 1 2 1 2 1 2 1 2 1 2 1 2 1 2 1 2 0 1 1 1 0 2 1 2 1 2 1 2 1 1 0 1 1 2 0 1 1 1 0 2 1 2 1 2 1 1 1 1 1 2 1 0 1 1 1 0 2 0 2 -1 1 -1 1 -1 1 -2 1 -2 1 -1 1 -1 1 -2 1 -1 0 -1 1 -2 1 -1 0 -1 1 -2 1 -1 0 -1 0 -2 1 -1 1 -1 0 -2 1 -1 1 -1 0 -2 1 -1 1 -1 0 -2 1 -1 1 -1 0 -2 1 -1 1 -1 1 -2 1 -1 0 -1 1 -2 1 -2 1 -2 1 -2 1 -1 1 -1 1 -2 1 -2 1 -2 1 -2 1 -1 1 -1 0 -2 1 -1 1 -1 1 -2 1 -1 0 -1 1 -2 1 -1 0 -1 0 -2 1 -1 1"/><path stroke="#fec66a" d="M60 238l-2 -1 -2 -1 -1 0 -1 -1 -2 -1 -1 0 -1 -1 -2 -1 -1 0 -1 -1 -2 -1 -2 -1 -1 -1 -1 -1 -2 -1 -2 -2 -1 0 -1 -1 -1 -1 -1 -1 -1 -1 -1 -1 -1 -1 -1 -1 0 -1 -2 -2 -1 -2 -1 -1 0 -1 -1 -2 -1 -1 0 -1 -1 -2 0 -2 -1 -2 0 -2 0 -2 0 -1 0 -1 0 -2 1 -2 0 -2 0 -2 1 -2 1 -2 1 -2 1 -2 1 -2 1 -2 1 -1 1 -1 1 -2 2 -2 2 -2 2 -2 2 -2 2 -2 2 -1 1 -1 1 -1 2 -1 2 -1 1 -1 1 -1 2 -1 2 -1 2 -1 2 -1 2 -1 2 -1 2 -1 1 0 1 0 2 -1 2 -1 2 -1 2 0 2 -1 2 -1 2 0 2 -1 1 0 1 0 2 -1 2 0 2 -1 2 0 2 0 2 -1 2 0 2 0 2 0 2 -1 2 0 2 0 1 0 1 0 2 0 2 0 2 0 2 0 2 -1 2 0 2 0 2 0 2 0 2 1 2 0 2 0 2 0 1 0 1 0 2 0 2 1 2 0 2 0 2 0 2 1 2 0 2 0 2 1 2 0 2 1 1 0 1 0 2 1 2 0 2 1 1 0 1 0 2 1 2 1 1 0 1 0 2 1 2 1 2 1 2 0 1 1 1 0 2 1 2 1 2 1 2 1 2 1 2 1 2 1 1 1 1 0 2 1 1 1 1 1 2 1 1 0 1 1 2 1 2 1 2 1 2 1 1 1 1 0 2 2 1 0 1 1 2 1 1 0 1 1 2 1 2 1 2 1 2 1 2 1 1 0 1 1 2 1 1 0 1 1 2 1 1 0 1 1 2 1 1 0 1 1 2 1 2 1 1 1 1 1 1 1 1 1 1 1 0 2 0 2 -1 1 0 1 -2 2 -2 1 -1 1 -1 1 -2 1 -2 1 -2 1 -2 1 -1 1 -1 0 -2 2 -1 0 -1 1 -2 1 -2 1 -2 1 -2 1 -2 1 -2 1 -1 1 -1 0 -2 2 -1 0 -1 1 -2 1 -2 1 -2 1 -2 1 -1 1 -1 1 -2 1 -2 1 -2 1 -2 1 -2 1 -2 1 -2 1 -2 1 -2 1 -2 1 -2 1 -1 0 -1 1 -2 0 -2 1"/><path stroke="#fae44c" d="M71 238l-1 0 -2 -1 -2 -1 -2 -1 -2 0 -1 -1 -1 0 -2 -1 -2 -1 -2 -1 -2 -1 -2 -1 -1 -1 -1 -1 -2 -1 -2 -1 -1 -1 -1 -1 -1 -1 -1 -1 -2 -1 -2 -2 -2 -2 0 -1 -1 -1 -1 -1 -1 -1 -1 -2 -1 -2 -1 -2 -1 -2 0 -2 -1 -2 0 -2 0 -2 0 -2 0 -2 1 -2 0 -2 1 -2 1 -2 0 -2 1 -1 0 -1 1 -2 1 -1 1 -1 1 -2 2 -2 1 -2 1 -1 1 -1 1 -1 1 -1 1 -1 1 -1 1 -1 2 -1 2 -2 2 -1 1 -1 1 0 2 -2 1 0 1 -1 2 -1 2 -1 2 -1 2 -1 2 -1 2 -1 2 -1 1 0 1 0 2 -1 2 -1 1 0 1 0 2 -1 2 -1 2 0 2 -1 2 0 2 -1 2 0 2 0 2 -1 2 0 2 0 2 -1 2 0 2 0 1 0 1 0 2 0 2 0 2 -1 2 0 2 0 2 0 2 0 2 0 2 0 2 0 2 0 2 0 2 1 2 0 2 0 1 0 1 0 2 0 2 1 2 0 2 0 2 1 2 0 2 0 2 1 2 0 2 1 1 0 1 0 2 1 2 0 2 1 2 1 2 0 2 1 2 1 2 1 1 0 1 0 2 1 2 1 2 1 2 1 2 1 2 1 2 1 2 1 2 1 2 1 2 1 2 1 2 1 1 1 1 0 2 2 1 0 1 1 2 1 2 1 2 1 2 1 2 1 2 1 1 1 1 0 2 1 1 1 1 1 2 1 1 0 1 1 2 1 2 1 2 1 2 1 1 1 1 1 1 1 1 1 1 1 1 1 1 1 0 2 0 2 -1 2 -1 2 -1 0 -2 2 -2 2 -2 1 -1 1 -1 0 -2 2 -2 1 -2 1 -2 1 -1 1 -1 1 -2 1 -2 1 -2 1 -2 1 -1 1 -1 0 -2 2 -1 0 -1 1 -2 1 -2 1 -2 1 -2 1 -1 1 -1 0 -2 2 -1 0 -1 1 -2 1 -1 0 -1 1 -2 1 -1 0 -1 1 -2 1 -1 0 -1 0 -2 1 -2 1 -2 1 -2 1 -1 0 -1 0 -2 1 -2 1 -1 0"/><path stroke="#e7f449" d="M85 238l-1 0 -2 -1 -2 0 -2 -1 -2 -1 -2 0 -2 -1 -2 -1 -2 0 -2 -1 -2 -1 -2 -1 -2 -1 -2 -1 -2 -1 -2 -1 -2 -1 -1 -1 -1 -1 -2 -1 -2 -2 -2 -2 -2 -2 -2 -2 -2 -2 -1 -2 -1 -1 0 -1 -1 -2 -1 -2 -1 -2 0 -2 -1 -2 0 -2 0 -2 1 -2 0 -2 1 -2 0 -1 0 -1 1 -2 1 -2 1 -2 1 -2 2 -2 1 -2 1 -1 1 -1 1 -1 1 -1 1 -1 1 -1 1 -1 1 -1 1 -1 1 -1 1 0 2 -2 2 -1 1 -1 1 -1 2 -1 2 -1 2 -1 2 -1 2 -1 2 -1 2 -1 1 0 1 0 2 -1 2 -1 2 -1 2 0 2 -1 1 0 1 0 2 -1 2 0 2 -1 1 0 1 0 2 -1 2 0 2 0 2 -1 2 0 2 0 2 0 2 0 2 -1 2 0 2 0 2 0 2 0 2 0 2 0 2 0 2 0 2 0 2 0 2 0 2 1 2 0 1 0 1 0 2 0 2 1 2 0 2 0 2 1 2 0 2 0 2 1 2 0 2 1 2 0 2 1 2 1 1 0 1 0 2 1 2 1 1 0 1 0 2 1 2 1 2 1 2 1 2 1 2 1 1 0 1 1 2 1 1 0 1 1 2 1 1 0 1 1 2 1 2 1 2 1 2 1 2 1 2 1 1 1 1 0 2 2 1 0 1 1 2 1 2 1 2 1 2 1 1 1 1 0 2 2 1 0 1 1 2 1 2 2 1 0 1 1 1 1 1 1 1 1 1 2 1 2 0 2 -1 2 -1 2 -1 1 -1 1 -1 1 -2 1 -2 2 -2 1 -1 1 -1 1 -2 1 -2 1 -1 1 -1 0 -2 2 -1 0 -1 1 -2 1 -2 1 -1 1 -1 0 -2 2 -1 0 -1 1 -2 1 -2 1 -2 1 -2 1 -2 1 -2 1 -2 1 -2 1 -2 1 -2 1 -2 1 -2 1 -2 1 -1 0 -1 0 -2 1 -2 1 -1 0 -1 0 -2 1 -2 1 -1 0 -1 0 -2 1 -2 0 -2 1 -1 0"/><path stroke="#8ee93c" d="M109 238l-1 0 -2 0 -2 -1 -2 0 -2 0 -2 0 -2 -1 -2 0 -2 0 -2 -1 -2 0 -2 -1 -1 0 -1 0 -2 -1 -2 0 -2 -1 -2 -1 -2 0 -1 -1 -1 0 -2 -1 -2 -1 -2 -1 -2 -1 -2 -1 -2 -1 -2 -1 -1 -1 -1 -1 -2 -1 -2 -2 -2 -1 -1 -1 -1 -1 -1 -1 -1 -1 -1 -1 -1 -2 -2 -2 0 -1 -1 -1 -1 -2 0 -1 0 -1 -1 -2 0 -2 0 -2 0 -2 0 -2 0 -2 1 -2 1 -2 1 -2 0 -1 1 -1 1 -2 1 -2 1 -1 1 -1 1 -1 1 -1 1 -1 1 -1 1 -1 1 -1 1 -1 1 -1 1 -1 1 -1 1 0 2 -2 2 -1 1 -1 1 0 2 -2 1 0 1 -1 2 -1 1 0 1 -1 2 -1 1 0 1 0 2 -1 2 -1 2 -1 2 0 2 -1 2 0 2 -1 2 0 2 -1 2 0 2 -1 2 0 2 0 2 -1 2 0 1 0 1 0 2 0 2 0 2 -1 2 0 2 0 2 0 2 0 2 0 2 0 2 0 2 0 2 0 2 1 2 0 2 0 2 0 2 1 2 0 2 0 2 1 2 0 2 0 2 1 2 0 2 1 1 0 1 0 2 1 2 1 1 0 1 0 2 1 2 1 1 0 1 0 2 1 2 1 2 1 2 1 1 0 1 1 2 1 1 0 1 1 2 1 1 0 1 1 2 1 1 0 1 1 2 1 1 0 1 1 2 1 2 1 2 1 2 1 1 1 1 0 2 1 1 1 1 1 2 1 2 1 2 1 2 2 2 1 1 1 1 1 1 1 1 1 1 1 1 2 1 2 0 2 -1 2 0 1 -1 1 -1 1 -1 1 -1 1 -1 1 -1 1 -1 1 -1 1 -2 1 -2 1 -1 1 -1 1 -2 1 -2 1 -1 1 -1 1 -2 1 -2 1 -2 1 -2 1 -1 1 -1 0 -2 1 -1 1 -1 0 -2 2 -1 0 -1 1 -2 1 -1 0 -1 1 -2 0 -1 1 -1 0 -2 1 -2 1 -2 1 -2 1 -1 0 -1 0 -2 1 -2 1 -1 0 -1 0 -2 1 -2 0 -2 1 -2 0 -2 1 -2 0 -2 1 -2 0 -2 0 -2 1 -2 0 -2 0 -2 1 -2 0 -2 0 -1 0"/><path stroke="#50e040" d="M113 152l1 0 2 0 2 0 2 0 2 0 2 0 2 0 2 0 2 0 2 0 1 0 1 0 2 0 2 1 2 0 2 0 2 0 2 1 1 0 1 0 2 1 2 0 2 1 2 0 2 1 2 0 2 1 1 0 1 0 2 1 2 1 2 1 2 0 1 1 1 0 2 1 2 1 2 1 2 1 2 1 2 1 2 1 2 1 2 1 2 1 2 1 2 1 2 1 2 1 2 1 1 1 1 1 2 1 2 1 1 1 1 1 2 1 2 2 2 2 0 1 1 1 0 2 0 2 0 2 -1 2 -2 2 -2 2 -2 2 -2 2 -1 0 -1 1 -1 1 -1 0 -2 2 -1 0 -1 1 -2 1 -2 1 -1 1 -1 0 -2 1 -1 1 -1 1 -2 1 -1 0 -1 1 -2 1 -1 0 -1 1 -2 0 -1 1 -1 0 -2 1 -2 1 -2 1 -2 1 -1 0 -1 0 -2 1 -2 1 -1 0 -1 0 -2 1 -2 1 -1 0 -1 0 -2 1 -2 0 -2 1 -2 0 -2 0 -2 1 -2 0 -2 0 -2 1 -2 0 -2 0 -2 0 -2 0 -2 0 -2 1 -2 0 -2 0 -2 0 -2 0 -2 0 -2 0 -2 -1 -2 0 -2 0 -1 0 -1 0 -2 0 -2 -1 -2 0 -2 0 -2 0 -2 -1 -1 0 -1 0 -2 -1 -2 0 -2 -1 -1 0 -1 0 -2 -1 -2 0 -2 -1 -2 -1 -2 -1 -1 0 -1 0 -2 -1 -1 -1 -1 0 -2 -1 -1 -1 -1 0 -2 -2 -1 0 -1 -1 -2 -1 -2 -2 -2 -1 -1 -1 -1 -1 -1 -1 -1 -1 -1 -1 -1 -1 0 -1 -2 -2 -1 -2 -1 -2 -1 -2 0 -2 0 -2 0 -2 0 -2 1 -2 0 -1 0 -1 1 -2 1 -1 1 -1 1 -2 1 -2 1 -1 1 -1 1 -1 1 -1 1 -1 1 -1 1 -1 1 -1 1 -1 2 -1 2 -2 2 -1 1 -1 1 -1 2 -1 2 -1 2 -1 2 -1 2 -1 1 0 1 -1 2 0 2 -1 2 -1 2 0 2 -1 2 -1 2 0 2 -1 2 0 2 0 2 -1 2 0 2 0 2 -1 2 0 2 0 1 0"/><path stroke="#4ae578" d="M106 158l2 0 2 -1 2 0 2 0 2 0 2 0 2 0 2 0 2 0 2 0 2 0 2 0 2 0 2 0 2 0 2 1 2 0 2 0 2 1 2 0 2 0 2 1 1 0 1 0 2 1 2 0 2 1 2 1 2 0 2 1 2 1 2 0 2 1 2 1 2 1 2 1 2 1 1 0 1 0 2 1 1 1 1 0 2 1 1 1 1 0 2 1 1 1 1 0 2 2 1 0 1 1 2 1 2 1 1 1 1 1 2 1 2 2 2 2 1 2 1 2 0 1 0 1 0 2 -1 2 -1 1 -1 1 -1 2 -2 1 -1 1 -1 1 -1 1 -1 0 -2 2 -2 1 -2 1 -2 1 -1 1 -1 0 -2 1 -1 1 -1 0 -2 1 -1 1 -1 0 -2 1 -2 1 -2 1 -2 1 -1 0 -1 1 -2 0 -2 1 -2 1 -2 1 -2 0 -2 1 -2 0 -2 1 -2 0 -2 1 -2 0 -2 1 -1 0 -1 0 -2 0 -2 1 -2 0 -2 0 -2 1 -2 0 -2 0 -2 0 -2 0 -2 0 -2 0 -2 0 -2 0 -2 0 -2 0 -1 0 -1 0 -2 0 -2 0 -2 -1 -2 0 -2 0 -2 0 -2 -1 -1 0 -1 0 -2 -1 -2 0 -2 -1 -2 0 -2 -1 -2 0 -2 -1 -2 -1 -2 -1 -1 0 -1 0 -2 -1 -1 -1 -1 0 -2 -1 -1 -1 -1 0 -2 -2 -1 0 -1 -1 -2 -1 -2 -2 -2 -1 -1 -1 -1 -1 -1 -1 -1 -1 -1 -1 -1 -1 -1 -1 -1 -2 -1 -2 0 -2 0 -2 0 -2 0 -2 1 -2 1 -2 1 -2 2 -2 0 -1 1 -1 1 -1 1 -1 1 -1 1 -1 1 -1 2 -1 2 -2 2 -1 1 -1 1 -1 2 -1 2 -1 2 -1 2 -1 1 -1 1 0 2 -1 2 -1 2 -1 2 -1 1 0 1 0 2 -1 2 -1 2 0 2 -1 2 0 2 0 2 -1 2 0"/><path stroke="#7ff4db" d="M108 164l2 0 2 -1 2 0 2 0 2 0 2 0 2 0 2 0 2 0 2 0 2 0 2 0 2 0 2 1 2 0 2 0 2 0 2 1 2 0 2 1 2 0 2 0 2 1 2 1 2 0 2 1 2 0 2 1 2 1 2 0 2 1 2 1 2 1 1 0 1 0 2 1 2 1 2 1 2 1 2 1 2 1 2 1 1 1 1 1 2 1 2 2 2 2 2 2 0 1 1 1 0 2 0 2 -1 2 -1 2 -1 1 -1 1 -1 1 -2 1 -2 2 -1 0 -1 1 -2 1 -2 1 -2 1 -2 1 -2 1 -2 1 -2 1 -1 0 -1 1 -2 0 -2 1 -2 1 -2 0 -2 1 -2 1 -2 0 -2 1 -1 0 -1 0 -2 1 -2 0 -2 1 -1 0 -1 0 -2 1 -2 0 -2 0 -2 1 -2 0 -1 0 -1 0 -2 0 -2 0 -2 1 -2 0 -2 0 -2 0 -2 0 -2 0 -2 0 -2 0 -2 -1 -2 0 -2 0 -1 0 -1 0 -2 0 -2 -1 -2 0 -2 0 -2 -1 -2 0 -2 -1 -2 0 -2 -1 -2 -1 -2 0 -2 -1 -2 -1 -2 -1 -1 0 -1 0 -2 -1 -1 -1 -1 0 -2 -1 -1 -1 -1 0 -2 -2 -1 0 -1 -1 -2 -1 -2 -2 -2 -2 -2 -2 0 -1 -1 -1 0 -2 -1 -2 0 -2 1 -2 1 -2 1 -2 1 -1 1 -1 1 -1 1 -1 1 -1 1 -1 1 -1 1 -1 1 0 2 -2 2 -1 2 -1 2 -1 1 -1 1 0 2 -1 2 -1 2 -1 2 -1 2 -1 2 0 2 -1 2 -1 2 0 2 -1 2 0 2 -1 2 0 2 -1 2 0"/><path stroke="#e7ffff" d="M114 170l2 0 2 0 2 0 2 0 2 0 2 0 2 0 2 0 2 0 2 0 1 0 1 0 2 0 2 0 2 1 2 0 2 0 2 1 2 0 2 0 2 1 2 0 2 1 1 0 1 0 2 1 2 0 2 1 2 1 2 0 2 1 2 1 2 1 2 1 2 1 1 0 1 1 2 1 2 1 1 1 1 1 1 1 1 1 1 1 1 2 1 2 -1 2 0 1 0 1 -2 2 -2 2 -2 2 -2 1 -1 1 -1 0 -2 1 -1 1 -1 0 -2 1 -2 1 -2 1 -2 0 -2 1 -2 1 -2 0 -2 1 -1 0 -1 0 -2 1 -2 0 -2 1 -1 0 -1 0 -2 1 -2 0 -2 0 -2 1 -2 0 -2 0 -2 0 -2 0 -2 1 -2 0 -2 0 -2 0 -2 0 -2 0 -2 0 -2 0 -2 0 -2 0 -2 0 -2 -1 -2 0 -2 0 -2 0 -2 0 -2 -1 -2 0 -2 0 -2 -1 -2 0 -2 -1 -2 0 -2 -1 -2 0 -2 -1 -2 -1 -1 0 -1 0 -2 -1 -2 -1 -2 -1 -2 -1 -2 -1 -1 -1 -1 -1 -2 -1 -2 -2 -1 -2 -1 -2 0 -2 0 -2 1 -2 1 -2 0 -1 1 -1 1 -1 1 -1 1 -1 2 -1 2 -2 1 0 1 -1 2 -1 2 -1 2 -1 1 0 1 -1 2 0 2 -1 2 -1 2 0 2 -1 2 -1 2 0 2 -1 2 0 2 0 2 -1 2 0 2 0 2 -1 2 0 2 0"/><path stroke="#87a2ea" d="M102 176l2 0 2 -1 2 0 2 0 2 0 2 0 2 -1 2 0 2 0 2 0 2 0 2 0 2 0 2 0 2 0 2 0 2 1 2 0 2 0 2 0 2 0 2 1 2 0 2 0 2 1 2 0 2 1 2 0 2 1 2 0 2 1 1 0 1 0 2 1 2 1 2 1 2 1 1 0 1 1 2 1 2 1 1 1 1 1 1 1 1 1 0 1 1 2 0 2 -1 2 0 1 -1 1 -1 1 -1 1 -1 1 -2 1 -2 1 -2 1 -2 1 -2 1 -1 0 -1 0 -2 1 -2 1 -1 0 -1 0 -2 1 -2 0 -2 1 -1 0 -1 0 -2 1 -2 0 -2 0 -2 0 -2 1 -2 0 -1 0 -1 0 -2 0 -2 1 -2 0 -2 0 -2 0 -2 0 -2 0 -2 0 -2 0 -2 0 -2 0 -2 0 -2 0 -2 0 -2 -1 -2 0 -2 0 -2 0 -2 0 -2 -1 -2 0 -2 0 -2 -1 -2 0 -2 -1 -2 0 -2 -1 -2 0 -2 -1 -2 -1 -2 -1 -2 -1 -2 -1 -2 -1 -2 -2 -2 -2 -1 -2 0 -2 0 -2 1 -2 1 -2 1 -1 1 -1 1 -1 1 -1 1 0 2 -2 1 0 1 -1 2 -1 1 0 1 -1 2 0 2 -1 2 -1 2 0 2 -1 2 0 2 -1 2 0 2 -1 2 0"/><path stroke="#4c73dd" d="M109 178l1 0 2 0 2 0 2 -1 2 0 2 0 2 0 2 0 2 0 2 0 2 0 2 0 2 0 2 1 2 0 2 0 2 0 2 0 2 1 2 0 2 0 2 1 1 0 1 0 2 1 2 0 2 1 2 0 2 1 2 1 2 1 2 1 2 1 2 1 2 2 2 2 0 1 0 1 1 2 -1 2 -1 2 -1 0 -2 2 -2 1 -1 1 -1 0 -2 1 -2 1 -2 1 -2 0 -2 1 -2 1 -2 0 -2 0 -2 1 -1 0 -1 0 -2 1 -2 0 -2 0 -2 0 -2 1 -2 0 -2 0 -2 0 -2 0 -2 0 -2 0 -2 0 -2 0 -2 0 -2 0 -2 0 -2 0 -2 0 -1 0 -1 0 -2 0 -2 0 -2 -1 -2 0 -2 0 -2 0 -2 -1 -2 0 -2 0 -2 -1 -2 0 -2 -1 -2 -1 -2 0 -2 -1 -2 -1 -2 -1 -2 -1 -1 -1 -1 -1 -1 -1 -1 -2 -1 -2 1 -2 0 -1 1 -1 1 -2 2 -2 2 -1 1 -1 1 0 2 -1 1 -1 1 0 2 -1 2 -1 1 0 1 0 2 -1 2 -1 2 0 2 0 2 -1 2 0 2 0 2 -1 2 0 1 0"/><path stroke="#476dda" d="M111 180l1 0 2 0 2 0 2 0 2 -1 2 0 2 0 2 0 2 0 2 1 2 0 2 0 2 0 2 0 2 0 2 1 2 0 2 0 2 1 2 0 2 0 2 1 2 0 2 1 2 1 2 1 1 0 1 0 2 1 1 1 1 1 2 1 2 2 0 1 1 1 0 2 -1 2 -1 2 -1 0 -2 2 -2 1 -2 1 -2 1 -2 0 -2 1 -2 1 -2 0 -2 1 -2 0 -2 0 -2 1 -2 0 -2 0 -2 1 -2 0 -2 0 -1 0 -1 0 -2 0 -2 0 -2 0 -2 0 -2 0 -2 0 -2 0 -2 0 -2 0 -2 0 -2 0 -2 0 -2 0 -2 -1 -2 0 -2 0 -2 0 -2 -1 -1 0 -1 0 -2 -1 -2 0 -2 -1 -1 0 -1 0 -2 -1 -2 -1 -2 -1 -2 -1 -2 -2 -2 -2 0 -2 0 -2 1 -2 1 -1 1 -1 1 -1 2 -1 2 -1 1 -1 1 0 2 -1 2 -1 1 0 1 0 2 -1 2 -1 2 0 2 0 2 -1 2 0 2 0 2 -1 2 0 1 0"/><path stroke="#4267d7" d="M111 182l1 0 2 0 2 0 2 -1 2 0 2 0 2 0 2 0 2 0 2 1 2 0 2 0 2 0 2 0 2 0 2 1 2 0 2 0 2 1 1 0 1 0 2 1 2 0 2 1 2 1 2 1 1 0 1 1 2 1 2 2 1 2 1 2 -1 2 -1 1 -1 1 -1 1 -2 1 -2 1 -2 1 -1 0 -1 0 -2 1 -2 1 -2 0 -2 1 -2 0 -2 0 -2 1 -2 0 -2 0 -2 0 -2 0 -2 0 -2 1 -2 0 -2 0 -2 0 -2 0 -2 0 -2 0 -2 0 -2 -1 -2 0 -2 0 -1 0 -1 0 -2 0 -2 -1 -2 0 -2 0 -2 -1 -2 0 -2 -1 -2 0 -2 -1 -2 -1 -2 -1 -1 0 -1 -1 -1 -1 -1 -1 -1 -1 -1 -2 1 -2 1 -2 2 -2 2 -1 1 -1 1 0 2 -1 2 -1 2 -1 2 0 2 -1 1 0 1 0 2 -1 2 0 2 0 2 -1 2 0 1 0"/><path stroke="#3c61d4" d="M109 184l1 0 2 0 2 -1 2 0 2 0 2 0 2 0 2 0 2 0 2 0 2 0 2 0 2 1 2 0 2 0 2 0 2 1 2 0 2 0 2 1 2 1 2 0 2 1 2 1 2 1 2 1 1 1 1 2 1 2 -1 2 -2 2 -2 1 -2 1 -2 1 -2 1 -1 0 -1 0 -2 1 -2 0 -2 0 -2 1 -1 0 -1 0 -2 0 -2 1 -2 0 -2 0 -2 0 -2 0 -2 0 -2 0 -2 0 -2 0 -2 0 -2 0 -2 0 -2 0 -2 0 -2 -1 -2 0 -1 0 -1 0 -2 -1 -2 0 -2 0 -2 -1 -2 -1 -2 0 -1 -1 -1 0 -2 -2 -1 0 -1 -1 -1 -1 0 -2 0 -2 1 -1 1 -1 1 -1 1 -1 1 0 2 -2 1 0 1 0 2 -1 2 -1 1 0 1 0 2 -1 2 0 2 -1 2 0 1 0"/><path stroke="#375ad1" d="M108 186l2 0 2 -1 2 0 2 0 2 0 2 0 2 0 2 0 2 0 2 0 2 0 2 0 2 0 2 1 2 0 1 0 1 0 2 1 2 0 2 1 1 0 1 0 2 1 2 1 2 1 1 1 1 1 1 1 1 2 -1 2 -1 1 -2 1 -2 1 -2 1 -2 1 -2 0 -2 1 -1 0 -1 0 -2 0 -2 1 -2 0 -2 0 -2 0 -2 1 -2 0 -2 0 -2 0 -2 0 -2 0 -2 0 -2 0 -2 -1 -2 0 -2 0 -2 0 -2 -1 -2 0 -2 0 -2 -1 -2 0 -2 -1 -2 -1 -2 -1 -2 -2 -1 -2 1 -2 2 -2 2 -2 2 -1 2 -1 1 0 1 0 2 -1 2 0 2 -1 2 0"/><path stroke="#3254ce" d="M107 188l1 0 2 0 2 -1 2 0 2 0 2 0 2 0 2 0 2 0 2 0 2 0 2 0 2 0 2 0 2 0 2 1 1 0 1 0 2 1 2 0 2 1 2 1 2 1 2 2 0 1 0 1 0 1 -1 1 -1 1 -1 1 -1 0 -2 1 -2 1 -1 0 -1 0 -2 1 -2 0 -2 0 -2 1 -2 0 -2 0 -2 0 -2 0 -2 0 -2 0 -2 0 -2 0 -2 0 -2 0 -2 0 -2 -1 -2 0 -2 0 -2 -1 -1 0 -1 0 -2 -1 -2 -1 -2 -1 -1 -1 -1 -2 1 -2 1 -1 1 -1 1 -1 2 -1 1 0 1 0 2 -1 2 -1 1 0"/><path stroke="#2d4ecb" d="M109 190l1 0 2 -1 2 0 2 0 2 0 2 -1 2 0 2 0 2 0 2 1 2 0 2 0 2 0 2 1 2 0 2 1 2 0 1 1 1 1 2 1 1 2 -1 1 -1 1 -1 1 -2 1 -2 0 -2 1 -2 0 -2 1 -1 0 -1 0 -2 0 -2 0 -2 1 -2 0 -2 0 -2 0 -2 -1 -2 0 -2 0 -1 0 -1 0 -2 -1 -2 0 -2 -1 -2 0 -2 -1 -1 -1 -1 -1 0 -1 0 -1 0 -1 2 -1 1 -1 1 0 2 -1 2 -1 1 0"/><path stroke="#2848c8" d="M113 192l1 0 2 -1 2 0 2 0 2 0 2 0 2 0 2 0 2 0 2 1 2 0 2 1 2 1 1 2 -1 2 -2 1 -2 0 -2 1 -1 0 -1 0 -2 0 -2 0 -2 0 -2 0 -2 0 -2 0 -2 0 -1 0 -1 0 -2 -1 -2 0 -1 -1 -1 -1 -1 -1 1 -2 2 -1 2 -1 1 0"/></g></svg>
<g fill="none" stroke="#8a8a8a" stroke-width="1.2"><rect x="387" y="16" width="223" height="117.5"/><rect x="387" y="153" width="224" height="118"/></g>
<path stroke="#555" stroke-width="1" d="M382.5 16.5h4.5M382.5 55.5h4.5M382.5 94.5h4.5M382.5 133.5h4.5M382.5 153.5h4.5M382.5 192.8h4.5M382.5 232.1h4.5M382.5 271.2h4.5M387.0 133.5v4M456.5 133.5v4M526.0 133.5v4M595.5 133.5v4M387.0 271v4M461.6 271v4M536.3 271v4M611.0 271v4"/>
<g font-size="16" text-anchor="end">
<text x="380.6" y="22.5">4</text>
<text x="380.6" y="61.5">3</text>
<text x="380.6" y="100.5">2</text>
<text x="380.6" y="139.5">1</text>
<text x="380.6" y="159.5">4</text>
<text x="380.6" y="198.8">3</text>
<text x="380.6" y="238.1">2</text>
<text x="380.6" y="277.2">1</text>
</g>
<g font-size="16" text-anchor="middle">
<text x="387.0" y="150.7">0</text>
<text x="456.5" y="150.7">5</text>
<text x="526.0" y="150.7">10</text>
<text x="595.5" y="150.7">15</text>
<text x="387.0" y="289.5">0</text>
<text x="461.6" y="289.5">5</text>
<text x="536.3" y="289.5">10</text>
<text x="611.0" y="289.5">15</text>
</g>
<text transform="translate(357.6,75.5) rotate(-90)" font-size="21" text-anchor="middle"><tspan font-style="italic">R</tspan>+α(Å)</text>
<text transform="translate(357.6,212.3) rotate(-90)" font-size="21" text-anchor="middle"><tspan font-style="italic">R</tspan>+α(Å)</text>
<text x="469" y="302" font-size="21"><tspan font-style="italic">k</tspan> (Å<tspan font-size="13" dy="-8">-1</tspan><tspan dy="8">)</tspan></text>
<text x="549.6" y="41.4" font-size="24" fill="#fff">In foil</text>
<text x="500.2" y="180.2" font-size="23.3" fill="#fff">In-SAs/NC</text>
<text x="4" y="314.2" font-size="27" font-weight="bold">c</text>
<path fill="none" stroke="#000" stroke-width="2.6" stroke-linejoin="round" d="M33.5 505.5C34.6 505.4 37.9 504.9 40.0 505.0C42.1 505.1 44.0 505.9 46.0 506.0C48.0 506.1 50.1 505.2 52.0 505.5C53.9 505.8 55.5 507.2 57.5 507.5C59.5 507.8 62.2 508.3 63.7 507.5C65.2 506.7 65.5 504.2 66.2 502.5C66.9 500.8 67.4 499.0 68.0 497.1C68.6 495.2 69.2 493.0 69.9 490.9C70.6 488.8 71.3 486.7 71.9 484.6C72.5 482.5 73.1 480.5 73.7 478.4C74.3 476.3 74.9 474.3 75.4 472.2C75.9 470.1 76.4 468.1 76.9 466.0C77.5 463.9 78.2 461.8 78.7 459.7C79.2 457.6 79.5 455.8 79.9 453.5C80.3 451.2 80.7 448.7 81.2 446.0C81.7 443.3 82.2 440.0 82.9 437.3C83.6 434.6 84.7 432.1 85.4 429.8C86.2 427.5 86.7 425.7 87.4 423.6C88.1 421.5 88.8 419.3 89.4 417.4C90.0 415.5 90.6 414.1 91.1 412.4C91.6 410.7 92.0 409.3 92.4 407.4C92.8 405.5 93.2 403.7 93.6 401.2C94.0 398.7 94.4 395.4 94.9 392.5C95.4 389.6 96.0 387.2 96.5 383.7C97.0 380.2 97.4 375.6 97.9 371.5C98.4 367.4 98.9 363.4 99.4 359.4C99.9 355.4 100.6 351.0 101.1 347.4C101.6 343.8 102.1 340.9 102.6 338.0C103.1 335.1 103.5 331.9 104.0 330.0C104.5 328.1 105.2 326.9 105.8 326.7C106.4 326.4 107.0 327.6 107.4 328.5C107.8 329.4 107.8 330.2 108.2 332.3C108.6 334.4 109.4 337.6 109.9 341.2C110.4 344.8 110.8 349.3 111.2 354.1C111.7 358.9 112.1 364.3 112.6 369.8C113.1 375.3 113.5 381.1 114.0 387.0C114.5 392.9 114.9 398.9 115.3 405.0C115.7 411.1 116.1 417.5 116.6 423.3C117.0 429.1 117.5 435.0 118.0 440.0C118.5 445.0 118.8 449.2 119.3 453.3C119.8 457.4 120.0 460.7 120.7 464.4C121.4 468.1 122.3 471.9 123.3 475.6C124.3 479.3 125.6 483.0 126.7 486.7C127.8 490.4 129.0 495.5 130.0 497.8C131.0 500.1 131.6 501.1 132.5 500.5C133.4 499.9 134.5 495.5 135.5 494.0C136.5 492.5 137.6 490.9 138.7 491.4C139.8 491.9 140.6 494.5 142.0 497.0C143.4 499.5 145.5 504.1 146.9 506.6C148.3 509.1 149.1 510.4 150.5 512.0C151.9 513.6 154.0 516.1 155.3 516.4C156.6 516.7 157.3 515.4 158.5 514.0C159.7 512.6 160.8 510.5 162.3 508.0C163.8 505.5 165.6 501.0 167.5 499.0C169.4 497.0 171.8 495.9 173.6 496.0C175.4 496.1 176.9 497.7 178.5 499.5C180.1 501.3 181.7 504.0 183.4 506.6C185.2 509.2 186.9 514.4 189.0 515.0C191.1 515.6 193.8 511.6 196.1 510.5C198.4 509.4 200.5 508.2 203.1 508.6C205.7 509.0 209.6 512.2 211.6 512.9C213.6 513.5 213.6 512.9 215.0 512.5C216.4 512.1 218.2 510.0 220.2 510.3C222.2 510.6 224.2 513.7 227.2 514.5C230.2 515.3 234.5 515.2 238.1 515.3C241.7 515.4 246.0 515.4 249.0 515.3C252.0 515.2 253.7 514.8 256.0 514.5C258.4 514.2 260.9 513.2 263.1 513.4C265.3 513.6 267.2 515.0 269.0 515.5C270.8 516.0 272.5 516.9 274.0 516.6C275.5 516.4 276.6 514.7 278.0 514.0C279.4 513.3 281.2 512.1 282.7 512.2C284.2 512.3 285.6 513.8 287.0 514.5C288.4 515.2 289.8 516.6 291.2 516.6C292.8 516.6 294.4 515.4 296.0 514.5C297.6 513.6 299.3 511.6 300.6 511.0C301.9 510.4 303.4 511.0 304.0 511.0"/>
<clipPath id="cc"><rect x="33.6" y="290" width="270.9" height="231"/></clipPath>
<g fill="#fff" stroke="#b02a2a" stroke-width="1" clip-path="url(#cc)"><circle cx="33.6" cy="506.5" r="4.3"/><circle cx="35.0" cy="506.2" r="4.3"/><circle cx="36.4" cy="506.1" r="4.3"/><circle cx="37.8" cy="506.0" r="4.3"/><circle cx="39.2" cy="506.1" r="4.3"/><circle cx="40.6" cy="506.5" r="4.3"/><circle cx="42.0" cy="506.9" r="4.3"/><circle cx="43.4" cy="507.0" r="4.3"/><circle cx="44.7" cy="506.7" r="4.3"/><circle cx="46.1" cy="506.3" r="4.3"/><circle cx="47.5" cy="506.0" r="4.3"/><circle cx="48.9" cy="506.2" r="4.3"/><circle cx="50.3" cy="506.8" r="4.3"/><circle cx="51.7" cy="507.6" r="4.3"/><circle cx="53.1" cy="508.0" r="4.3"/><circle cx="54.5" cy="508.2" r="4.3"/><circle cx="55.9" cy="508.3" r="4.3"/><circle cx="57.3" cy="508.3" r="4.3"/><circle cx="58.7" cy="508.3" r="4.3"/><circle cx="60.1" cy="508.3" r="4.3"/><circle cx="61.5" cy="508.3" r="4.3"/><circle cx="62.9" cy="508.3" r="4.3"/><circle cx="64.2" cy="507.9" r="4.3"/><circle cx="65.6" cy="504.8" r="4.3"/><circle cx="67.0" cy="500.6" r="4.3"/><circle cx="68.4" cy="495.7" r="4.3"/><circle cx="69.8" cy="491.2" r="4.3"/><circle cx="71.2" cy="486.8" r="4.3"/><circle cx="72.6" cy="482.2" r="4.3"/><circle cx="74.0" cy="477.3" r="4.3"/><circle cx="75.4" cy="472.2" r="4.3"/><circle cx="76.8" cy="466.5" r="4.3"/><circle cx="78.2" cy="461.7" r="4.3"/><circle cx="79.6" cy="455.3" r="4.3"/><circle cx="81.0" cy="447.3" r="4.3"/><circle cx="82.4" cy="439.7" r="4.3"/><circle cx="83.7" cy="434.5" r="4.3"/><circle cx="85.1" cy="430.6" r="4.3"/><circle cx="86.5" cy="426.3" r="4.3"/><circle cx="87.9" cy="422.0" r="4.3"/><circle cx="89.3" cy="417.6" r="4.3"/><circle cx="90.7" cy="413.6" r="4.3"/><circle cx="92.1" cy="408.7" r="4.3"/><circle cx="93.5" cy="401.8" r="4.3"/><circle cx="94.9" cy="392.5" r="4.3"/><circle cx="96.3" cy="385.1" r="4.3"/><circle cx="97.7" cy="373.4" r="4.3"/><circle cx="99.1" cy="361.9" r="4.3"/><circle cx="100.5" cy="351.7" r="4.3"/><circle cx="101.9" cy="342.5" r="4.3"/><circle cx="103.3" cy="333.8" r="4.3"/><circle cx="104.6" cy="328.3" r="4.3"/><circle cx="106.0" cy="326.7" r="4.3"/><circle cx="107.4" cy="328.6" r="4.3"/><circle cx="108.8" cy="335.2" r="4.3"/><circle cx="110.2" cy="343.8" r="4.3"/><circle cx="111.6" cy="358.5" r="4.3"/><circle cx="113.0" cy="374.6" r="4.3"/><circle cx="114.4" cy="392.3" r="4.3"/><circle cx="115.8" cy="412.0" r="4.3"/><circle cx="117.2" cy="430.5" r="4.3"/><circle cx="118.6" cy="446.2" r="4.3"/><circle cx="120.0" cy="459.1" r="4.3"/><circle cx="121.4" cy="467.8" r="4.3"/><circle cx="122.8" cy="473.6" r="4.3"/><circle cx="124.1" cy="478.6" r="4.3"/><circle cx="125.5" cy="483.0" r="4.3"/><circle cx="126.9" cy="487.5" r="4.3"/><circle cx="128.3" cy="492.4" r="4.3"/><circle cx="129.7" cy="497.0" r="4.3"/><circle cx="131.1" cy="501.4" r="4.3"/><circle cx="132.5" cy="503.3" r="4.3"/><circle cx="133.9" cy="502.5" r="4.3"/><circle cx="135.3" cy="500.9" r="4.3"/><circle cx="136.7" cy="497.9" r="4.3"/><circle cx="138.1" cy="496.7" r="4.3"/><circle cx="139.5" cy="497.3" r="4.3"/><circle cx="140.9" cy="498.4" r="4.3"/><circle cx="142.3" cy="501.9" r="4.3"/><circle cx="143.6" cy="505.0" r="4.3"/><circle cx="145.0" cy="507.3" r="4.3"/><circle cx="146.4" cy="509.2" r="4.3"/><circle cx="147.8" cy="510.5" r="4.3"/><circle cx="149.2" cy="511.3" r="4.3"/><circle cx="150.6" cy="511.8" r="4.3"/><circle cx="152.0" cy="512.5" r="4.3"/><circle cx="153.4" cy="513.4" r="4.3"/><circle cx="154.8" cy="514.2" r="4.3"/><circle cx="156.2" cy="515.0" r="4.3"/><circle cx="157.6" cy="515.6" r="4.3"/><circle cx="159.0" cy="515.8" r="4.3"/><circle cx="160.4" cy="515.4" r="4.3"/><circle cx="161.8" cy="514.5" r="4.3"/><circle cx="163.1" cy="513.4" r="4.3"/><circle cx="164.5" cy="512.2" r="4.3"/><circle cx="165.9" cy="511.4" r="4.3"/><circle cx="167.3" cy="511.2" r="4.3"/><circle cx="168.7" cy="511.6" r="4.3"/><circle cx="170.1" cy="512.4" r="4.3"/><circle cx="171.5" cy="513.3" r="4.3"/><circle cx="172.9" cy="514.0" r="4.3"/><circle cx="174.3" cy="514.5" r="4.3"/><circle cx="175.7" cy="514.2" r="4.3"/><circle cx="177.1" cy="513.3" r="4.3"/><circle cx="178.5" cy="512.6" r="4.3"/><circle cx="179.9" cy="512.6" r="4.3"/><circle cx="181.3" cy="513.0" r="4.3"/><circle cx="182.7" cy="513.6" r="4.3"/><circle cx="184.0" cy="514.3" r="4.3"/><circle cx="185.4" cy="515.1" r="4.3"/><circle cx="186.8" cy="515.6" r="4.3"/><circle cx="188.2" cy="516.0" r="4.3"/><circle cx="189.6" cy="515.9" r="4.3"/><circle cx="191.0" cy="515.6" r="4.3"/><circle cx="192.4" cy="515.2" r="4.3"/><circle cx="193.8" cy="514.9" r="4.3"/><circle cx="195.2" cy="514.8" r="4.3"/><circle cx="196.6" cy="514.9" r="4.3"/><circle cx="198.0" cy="515.2" r="4.3"/><circle cx="199.4" cy="515.5" r="4.3"/><circle cx="200.8" cy="515.9" r="4.3"/><circle cx="202.2" cy="516.2" r="4.3"/><circle cx="203.5" cy="516.5" r="4.3"/><circle cx="204.9" cy="516.6" r="4.3"/><circle cx="206.3" cy="516.7" r="4.3"/><circle cx="207.7" cy="516.7" r="4.3"/><circle cx="209.1" cy="516.8" r="4.3"/><circle cx="210.5" cy="516.8" r="4.3"/><circle cx="211.9" cy="516.9" r="4.3"/><circle cx="213.3" cy="517.0" r="4.3"/><circle cx="214.7" cy="517.1" r="4.3"/><circle cx="216.1" cy="517.2" r="4.3"/><circle cx="217.5" cy="517.3" r="4.3"/><circle cx="218.9" cy="517.4" r="4.3"/><circle cx="220.3" cy="517.5" r="4.3"/><circle cx="221.7" cy="517.6" r="4.3"/><circle cx="223.0" cy="517.7" r="4.3"/><circle cx="224.4" cy="517.8" r="4.3"/><circle cx="225.8" cy="517.8" r="4.3"/><circle cx="227.2" cy="517.8" r="4.3"/><circle cx="228.6" cy="517.9" r="4.3"/><circle cx="230.0" cy="517.9" r="4.3"/><circle cx="231.4" cy="517.9" r="4.3"/><circle cx="232.8" cy="517.9" r="4.3"/><circle cx="234.2" cy="518.0" r="4.3"/><circle cx="235.6" cy="518.0" r="4.3"/><circle cx="237.0" cy="518.0" r="4.3"/><circle cx="238.4" cy="518.0" r="4.3"/><circle cx="239.8" cy="518.0" r="4.3"/><circle cx="241.2" cy="518.0" r="4.3"/><circle cx="242.6" cy="518.0" r="4.3"/><circle cx="243.9" cy="518.0" r="4.3"/><circle cx="245.3" cy="518.0" r="4.3"/><circle cx="246.7" cy="518.0" r="4.3"/><circle cx="248.1" cy="518.0" r="4.3"/><circle cx="249.5" cy="518.0" r="4.3"/><circle cx="250.9" cy="518.0" r="4.3"/><circle cx="252.3" cy="518.0" r="4.3"/><circle cx="253.7" cy="518.0" r="4.3"/><circle cx="255.1" cy="518.0" r="4.3"/><circle cx="256.5" cy="518.0" r="4.3"/><circle cx="257.9" cy="518.0" r="4.3"/><circle cx="259.3" cy="518.0" r="4.3"/><circle cx="260.7" cy="518.0" r="4.3"/><circle cx="262.1" cy="518.0" r="4.3"/><circle cx="263.4" cy="518.0" r="4.3"/><circle cx="264.8" cy="518.0" r="4.3"/><circle cx="266.2" cy="518.0" r="4.3"/><circle cx="267.6" cy="518.0" r="4.3"/><circle cx="269.0" cy="518.0" r="4.3"/><circle cx="270.4" cy="518.0" r="4.3"/><circle cx="271.8" cy="518.0" r="4.3"/><circle cx="273.2" cy="518.0" r="4.3"/><circle cx="274.6" cy="518.0" r="4.3"/><circle cx="276.0" cy="518.0" r="4.3"/><circle cx="277.4" cy="518.0" r="4.3"/><circle cx="278.8" cy="518.0" r="4.3"/><circle cx="280.2" cy="518.0" r="4.3"/><circle cx="281.6" cy="518.0" r="4.3"/><circle cx="282.9" cy="518.0" r="4.3"/><circle cx="284.3" cy="518.0" r="4.3"/><circle cx="285.7" cy="518.0" r="4.3"/><circle cx="287.1" cy="518.0" r="4.3"/><circle cx="288.5" cy="518.0" r="4.3"/><circle cx="289.9" cy="518.0" r="4.3"/><circle cx="291.3" cy="518.0" r="4.3"/><circle cx="292.7" cy="518.0" r="4.3"/><circle cx="294.1" cy="518.0" r="4.3"/><circle cx="295.5" cy="518.0" r="4.3"/><circle cx="296.9" cy="518.0" r="4.3"/><circle cx="298.3" cy="518.0" r="4.3"/><circle cx="299.7" cy="518.0" r="4.3"/><circle cx="301.1" cy="518.0" r="4.3"/><circle cx="302.4" cy="518.0" r="4.3"/><circle cx="303.8" cy="518.0" r="4.3"/></g>
<g fill="none" stroke="#000" stroke-width="2.6"><rect x="33.5" y="302.3" width="271.25" height="218.5"/></g>
<path stroke="#000" stroke-width="2" d="M33.6 521v3.5M56.2 521v2.0M78.8 521v3.5M101.3 521v2.0M123.9 521v3.5M146.5 521v2.0M169.0 521v3.5M191.6 521v2.0M214.2 521v3.5M236.8 521v2.0M259.4 521v3.5M281.9 521v2.0M304.5 521v3.5"/>
<g font-size="13.5" font-weight="bold" text-anchor="middle">
<text x="33.6" y="539.4">0</text>
<text x="78.8" y="539.4">1</text>
<text x="123.9" y="539.4">2</text>
<text x="169.0" y="539.4">3</text>
<text x="214.2" y="539.4">4</text>
<text x="259.4" y="539.4">5</text>
<text x="304.5" y="539.4">6</text>
</g>
<text x="169.3" y="556.4" font-size="15.5" font-weight="bold" text-anchor="middle">R(Å)</text>
<text transform="translate(19,404.5) rotate(-90)" font-size="16.5" font-weight="bold" text-anchor="middle">|FTk<tspan font-size="11" dy="-6.5">3</tspan><tspan dy="6.5" font-weight="normal" font-style="italic" font-family="Liberation Serif, serif" font-size="18.5">χ</tspan>(k)|</text>
<path stroke="#000" stroke-width="3" d="M171.2 328.2H205.7"/>
<circle cx="188.4" cy="345.9" r="3.8" fill="none" stroke="#c0302a" stroke-width="1"/>
<g font-size="14" font-weight="bold"><text x="209.6" y="333.2">In-SAs/NC</text><text x="209.6" y="351.3">Fit</text></g>
<text x="323.7" y="314.2" font-size="27" font-weight="bold">d</text>
<rect x="354" y="308.5" width="273" height="241" fill="#eafeff"/>
<defs><radialGradient id="gC" cx="0.62" cy="0.35" r="0.7"><stop offset="0" stop-color="#ffffff"/><stop offset="0.45" stop-color="#dedede"/><stop offset="1" stop-color="#8c8c8c"/></radialGradient><radialGradient id="gN" cx="0.62" cy="0.35" r="0.7"><stop offset="0" stop-color="#9cff9c"/><stop offset="0.3" stop-color="#22d822"/><stop offset="1" stop-color="#0a8a0a"/></radialGradient><radialGradient id="gI" cx="0.62" cy="0.35" r="0.7"><stop offset="0" stop-color="#ffc070"/><stop offset="0.3" stop-color="#e07a00"/><stop offset="1" stop-color="#9a4e00"/></radialGradient></defs>
<g fill="none"><path stroke="#b4b4b4" stroke-width="9" d="M469.4 320.4L494.1 320.4"/><path stroke="#b4b4b4" stroke-width="9" d="M494.1 320.4L518.9 320.4"/><path stroke="#d6d6d6" stroke-width="6" d="M469.4 320.4L494.1 320.4"/><path stroke="#d6d6d6" stroke-width="6" d="M494.1 320.4L518.9 320.4"/><path stroke="#ececec" stroke-width="2.5" d="M469.4 320.4L494.1 320.4"/><path stroke="#ececec" stroke-width="2.5" d="M494.1 320.4L518.9 320.4"/><path stroke="#b4b4b4" stroke-width="9" d="M469.4 320.4L458.4 342.6"/><path stroke="#149c14" stroke-width="9" d="M458.4 342.6L447.4 364.8"/><path stroke="#d6d6d6" stroke-width="6" d="M469.4 320.4L458.4 342.6"/><path stroke="#22cc22" stroke-width="6" d="M458.4 342.6L447.4 364.8"/><path stroke="#ececec" stroke-width="2.5" d="M469.4 320.4L458.4 342.6"/><path stroke="#58ec58" stroke-width="2.5" d="M458.4 342.6L447.4 364.8"/><path stroke="#b4b4b4" stroke-width="9" d="M518.9 320.4L527.8 341.6"/><path stroke="#149c14" stroke-width="9" d="M527.8 341.6L536.6 362.8"/><path stroke="#d6d6d6" stroke-width="6" d="M518.9 320.4L527.8 341.6"/><path stroke="#22cc22" stroke-width="6" d="M527.8 341.6L536.6 362.8"/><path stroke="#ececec" stroke-width="2.5" d="M518.9 320.4L527.8 341.6"/><path stroke="#58ec58" stroke-width="2.5" d="M527.8 341.6L536.6 362.8"/><path stroke="#b4b4b4" stroke-width="9" d="M397.2 366.2L422.3 365.5"/><path stroke="#149c14" stroke-width="9" d="M422.3 365.5L447.4 364.8"/><path stroke="#d6d6d6" stroke-width="6" d="M397.2 366.2L422.3 365.5"/><path stroke="#22cc22" stroke-width="6" d="M422.3 365.5L447.4 364.8"/><path stroke="#ececec" stroke-width="2.5" d="M397.2 366.2L422.3 365.5"/><path stroke="#58ec58" stroke-width="2.5" d="M422.3 365.5L447.4 364.8"/><path stroke="#b4b4b4" stroke-width="9" d="M587.0 361.8L561.8 362.3"/><path stroke="#149c14" stroke-width="9" d="M561.8 362.3L536.6 362.8"/><path stroke="#d6d6d6" stroke-width="6" d="M587.0 361.8L561.8 362.3"/><path stroke="#22cc22" stroke-width="6" d="M561.8 362.3L536.6 362.8"/><path stroke="#ececec" stroke-width="2.5" d="M587.0 361.8L561.8 362.3"/><path stroke="#58ec58" stroke-width="2.5" d="M561.8 362.3L536.6 362.8"/><path stroke="#b4b4b4" stroke-width="9" d="M397.2 366.2L381.7 387.9"/><path stroke="#b4b4b4" stroke-width="9" d="M381.7 387.9L366.2 409.5"/><path stroke="#d6d6d6" stroke-width="6" d="M397.2 366.2L381.7 387.9"/><path stroke="#d6d6d6" stroke-width="6" d="M381.7 387.9L366.2 409.5"/><path stroke="#ececec" stroke-width="2.5" d="M397.2 366.2L381.7 387.9"/><path stroke="#ececec" stroke-width="2.5" d="M381.7 387.9L366.2 409.5"/><path stroke="#b4b4b4" stroke-width="9" d="M587.0 361.8L601.4 384.1"/><path stroke="#b4b4b4" stroke-width="9" d="M601.4 384.1L615.8 406.5"/><path stroke="#d6d6d6" stroke-width="6" d="M587.0 361.8L601.4 384.1"/><path stroke="#d6d6d6" stroke-width="6" d="M601.4 384.1L615.8 406.5"/><path stroke="#ececec" stroke-width="2.5" d="M587.0 361.8L601.4 384.1"/><path stroke="#ececec" stroke-width="2.5" d="M601.4 384.1L615.8 406.5"/><path stroke="#b4b4b4" stroke-width="9" d="M366.2 409.5L382.6 432.2"/><path stroke="#b4b4b4" stroke-width="9" d="M382.6 432.2L399.0 455.0"/><path stroke="#d6d6d6" stroke-width="6" d="M366.2 409.5L382.6 432.2"/><path stroke="#d6d6d6" stroke-width="6" d="M382.6 432.2L399.0 455.0"/><path stroke="#ececec" stroke-width="2.5" d="M366.2 409.5L382.6 432.2"/><path stroke="#ececec" stroke-width="2.5" d="M382.6 432.2L399.0 455.0"/><path stroke="#b4b4b4" stroke-width="9" d="M615.8 406.5L602.6 427.8"/><path stroke="#b4b4b4" stroke-width="9" d="M602.6 427.8L589.5 449.0"/><path stroke="#d6d6d6" stroke-width="6" d="M615.8 406.5L602.6 427.8"/><path stroke="#d6d6d6" stroke-width="6" d="M602.6 427.8L589.5 449.0"/><path stroke="#ececec" stroke-width="2.5" d="M615.8 406.5L602.6 427.8"/><path stroke="#ececec" stroke-width="2.5" d="M602.6 427.8L589.5 449.0"/><path stroke="#b4b4b4" stroke-width="9" d="M399.0 455.0L425.0 453.0"/><path stroke="#149c14" stroke-width="9" d="M425.0 453.0L451.0 451.0"/><path stroke="#d6d6d6" stroke-width="6" d="M399.0 455.0L425.0 453.0"/><path stroke="#22cc22" stroke-width="6" d="M425.0 453.0L451.0 451.0"/><path stroke="#ececec" stroke-width="2.5" d="M399.0 455.0L425.0 453.0"/><path stroke="#58ec58" stroke-width="2.5" d="M425.0 453.0L451.0 451.0"/><path stroke="#b4b4b4" stroke-width="9" d="M589.5 449.0L564.2 450.2"/><path stroke="#149c14" stroke-width="9" d="M564.2 450.2L539.0 451.5"/><path stroke="#d6d6d6" stroke-width="6" d="M589.5 449.0L564.2 450.2"/><path stroke="#22cc22" stroke-width="6" d="M564.2 450.2L539.0 451.5"/><path stroke="#ececec" stroke-width="2.5" d="M589.5 449.0L564.2 450.2"/><path stroke="#58ec58" stroke-width="2.5" d="M564.2 450.2L539.0 451.5"/><path stroke="#b4b4b4" stroke-width="9" d="M468.1 497.8L459.6 474.4"/><path stroke="#149c14" stroke-width="9" d="M459.6 474.4L451.0 451.0"/><path stroke="#d6d6d6" stroke-width="6" d="M468.1 497.8L459.6 474.4"/><path stroke="#22cc22" stroke-width="6" d="M459.6 474.4L451.0 451.0"/><path stroke="#ececec" stroke-width="2.5" d="M468.1 497.8L459.6 474.4"/><path stroke="#58ec58" stroke-width="2.5" d="M459.6 474.4L451.0 451.0"/><path stroke="#b4b4b4" stroke-width="9" d="M524.3 497.8L531.6 474.6"/><path stroke="#149c14" stroke-width="9" d="M531.6 474.6L539.0 451.5"/><path stroke="#d6d6d6" stroke-width="6" d="M524.3 497.8L531.6 474.6"/><path stroke="#22cc22" stroke-width="6" d="M531.6 474.6L539.0 451.5"/><path stroke="#ececec" stroke-width="2.5" d="M524.3 497.8L531.6 474.6"/><path stroke="#58ec58" stroke-width="2.5" d="M531.6 474.6L539.0 451.5"/><path stroke="#b4b4b4" stroke-width="9" d="M468.1 497.8L496.2 497.8"/><path stroke="#b4b4b4" stroke-width="9" d="M496.2 497.8L524.3 497.8"/><path stroke="#d6d6d6" stroke-width="6" d="M468.1 497.8L496.2 497.8"/><path stroke="#d6d6d6" stroke-width="6" d="M496.2 497.8L524.3 497.8"/><path stroke="#ececec" stroke-width="2.5" d="M468.1 497.8L496.2 497.8"/><path stroke="#ececec" stroke-width="2.5" d="M496.2 497.8L524.3 497.8"/><path stroke="#149c14" stroke-width="9" d="M447.4 364.8L470.4 386.9"/><path stroke="#a85600" stroke-width="9" d="M470.4 386.9L493.5 408.9"/><path stroke="#22cc22" stroke-width="6" d="M447.4 364.8L470.4 386.9"/><path stroke="#d87808" stroke-width="6" d="M470.4 386.9L493.5 408.9"/><path stroke="#58ec58" stroke-width="2.5" d="M447.4 364.8L470.4 386.9"/><path stroke="#f0a040" stroke-width="2.5" d="M470.4 386.9L493.5 408.9"/><path stroke="#149c14" stroke-width="9" d="M536.6 362.8L515.0 385.9"/><path stroke="#a85600" stroke-width="9" d="M515.0 385.9L493.5 408.9"/><path stroke="#22cc22" stroke-width="6" d="M536.6 362.8L515.0 385.9"/><path stroke="#d87808" stroke-width="6" d="M515.0 385.9L493.5 408.9"/><path stroke="#58ec58" stroke-width="2.5" d="M536.6 362.8L515.0 385.9"/><path stroke="#f0a040" stroke-width="2.5" d="M515.0 385.9L493.5 408.9"/><path stroke="#149c14" stroke-width="9" d="M451.0 451.0L472.2 429.9"/><path stroke="#a85600" stroke-width="9" d="M472.2 429.9L493.5 408.9"/><path stroke="#22cc22" stroke-width="6" d="M451.0 451.0L472.2 429.9"/><path stroke="#d87808" stroke-width="6" d="M472.2 429.9L493.5 408.9"/><path stroke="#58ec58" stroke-width="2.5" d="M451.0 451.0L472.2 429.9"/><path stroke="#f0a040" stroke-width="2.5" d="M472.2 429.9L493.5 408.9"/><path stroke="#149c14" stroke-width="9" d="M539.0 451.5L516.2 430.2"/><path stroke="#a85600" stroke-width="9" d="M516.2 430.2L493.5 408.9"/><path stroke="#22cc22" stroke-width="6" d="M539.0 451.5L516.2 430.2"/><path stroke="#d87808" stroke-width="6" d="M516.2 430.2L493.5 408.9"/><path stroke="#58ec58" stroke-width="2.5" d="M539.0 451.5L516.2 430.2"/><path stroke="#f0a040" stroke-width="2.5" d="M516.2 430.2L493.5 408.9"/></g>
<circle cx="469.4" cy="320.4" r="11" fill="url(#gC)"/><circle cx="518.9" cy="320.4" r="11" fill="url(#gC)"/><circle cx="397.2" cy="366.2" r="11" fill="url(#gC)"/><circle cx="587.0" cy="361.8" r="11" fill="url(#gC)"/><circle cx="366.2" cy="409.5" r="11" fill="url(#gC)"/><circle cx="615.8" cy="406.5" r="11" fill="url(#gC)"/><circle cx="399.0" cy="455.0" r="11" fill="url(#gC)"/><circle cx="589.5" cy="449.0" r="11" fill="url(#gC)"/><circle cx="468.1" cy="497.8" r="11" fill="url(#gC)"/><circle cx="524.3" cy="497.8" r="11" fill="url(#gC)"/>
<circle cx="447.4" cy="364.8" r="10.8" fill="url(#gN)"/><circle cx="536.6" cy="362.8" r="10.8" fill="url(#gN)"/><circle cx="451.0" cy="451.0" r="10.8" fill="url(#gN)"/><circle cx="539.0" cy="451.5" r="10.8" fill="url(#gN)"/>
<circle cx="493.5" cy="408.9" r="16.6" fill="url(#gI)"/>
<circle cx="376.8" cy="537.2" r="12" fill="url(#gC)"/><circle cx="467" cy="537.1" r="12" fill="url(#gN)"/><circle cx="556.5" cy="537.1" r="11.8" fill="url(#gI)"/>
<g font-size="25" font-weight="bold"><text x="402.7" y="546.7">C</text><text x="500.8" y="548">N</text><text x="589.2" y="548">In</text></g>
</svg></body></html>
